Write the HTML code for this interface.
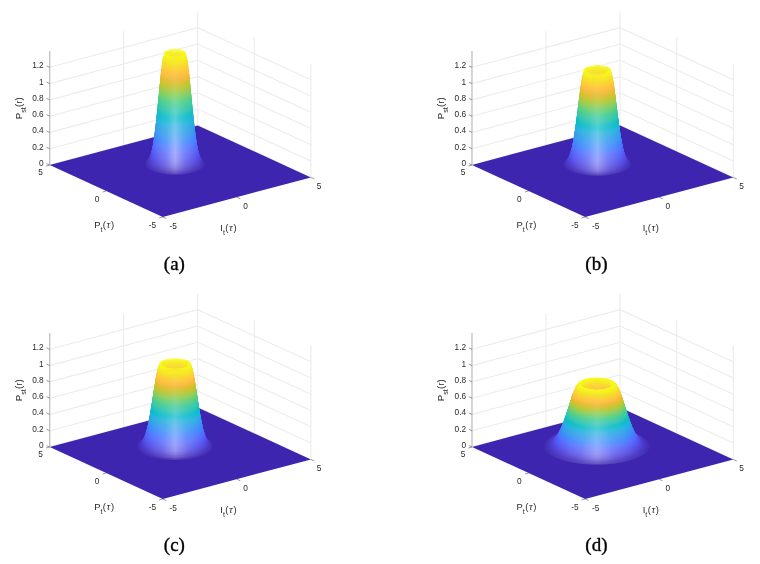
<!DOCTYPE html>
<html><head><meta charset="utf-8"><style>
html,body{margin:0;padding:0;background:#fff;width:760px;height:564px;overflow:hidden}
svg{display:block;filter:blur(0.3px);font-family:"Liberation Sans",sans-serif}
</style></head><body><svg width="760" height="564" viewBox="0 0 760 564"><defs><filter id="bl" x="-5%" y="-5%" width="110%" height="110%"><feGaussianBlur stdDeviation="0.4"/></filter></defs><g><polyline points="49.7,165 197.7,125.4 310.9,177.4" fill="none" stroke="#ececec" stroke-width="1.1"/><polyline points="49.7,148.7 197.7,109.1 310.9,161.1" fill="none" stroke="#ececec" stroke-width="1.1"/><polyline points="49.7,132.4 197.7,92.8 310.9,144.8" fill="none" stroke="#ececec" stroke-width="1.1"/><polyline points="49.7,116.2 197.7,76.6 310.9,128.6" fill="none" stroke="#ececec" stroke-width="1.1"/><polyline points="49.7,99.9 197.7,60.3 310.9,112.3" fill="none" stroke="#ececec" stroke-width="1.1"/><polyline points="49.7,83.6 197.7,44 310.9,96" fill="none" stroke="#ececec" stroke-width="1.1"/><polyline points="49.7,67.3 197.7,27.7 310.9,79.7" fill="none" stroke="#ececec" stroke-width="1.1"/><line x1="123.7" y1="145.2" x2="123.7" y2="31.2" stroke="#ececec" stroke-width="1.1"/><line x1="197.7" y1="125.4" x2="197.7" y2="11.4" stroke="#ececec" stroke-width="1.1"/><line x1="254.3" y1="151.4" x2="254.3" y2="37.4" stroke="#ececec" stroke-width="1.1"/><line x1="310.9" y1="177.4" x2="310.9" y2="63.4" stroke="#ececec" stroke-width="1.1"/><line x1="49.7" y1="165" x2="49.7" y2="51" stroke="#c4c4c4" stroke-width="1.4"/><line x1="49.7" y1="165" x2="46.5" y2="163.5" stroke="#555" stroke-width="0.6"/><line x1="49.7" y1="148.7" x2="46.5" y2="147.3" stroke="#555" stroke-width="0.6"/><line x1="49.7" y1="132.4" x2="46.5" y2="131" stroke="#555" stroke-width="0.6"/><line x1="49.7" y1="116.2" x2="46.5" y2="114.7" stroke="#555" stroke-width="0.6"/><line x1="49.7" y1="99.9" x2="46.5" y2="98.4" stroke="#555" stroke-width="0.6"/><line x1="49.7" y1="83.6" x2="46.5" y2="82.1" stroke="#555" stroke-width="0.6"/><line x1="49.7" y1="67.3" x2="46.5" y2="65.9" stroke="#555" stroke-width="0.6"/><line x1="162.8" y1="217" x2="159.1" y2="218" stroke="#555" stroke-width="0.6"/><line x1="106.2" y1="191" x2="102.6" y2="192" stroke="#555" stroke-width="0.6"/><line x1="49.7" y1="165" x2="46" y2="166" stroke="#555" stroke-width="0.6"/><line x1="162.8" y1="217" x2="166.3" y2="218.6" stroke="#555" stroke-width="0.6"/><line x1="236.8" y1="197.2" x2="240.3" y2="198.8" stroke="#555" stroke-width="0.6"/><line x1="310.9" y1="177.4" x2="314.4" y2="179" stroke="#555" stroke-width="0.6"/><polygon points="49.7,165 162.8,217 310.9,177.4 197.7,125.4" fill="#3d25b0"/><linearGradient id="ga0" x2=".5" spreadMethod="reflect"><stop stop-color="#432db3"/><stop offset=".6" stop-color="#4e39b7"/><stop offset="1" stop-color="#5b48bd"/></linearGradient><path d="M145.5 163.7a29.5 10.3 0 1 0 58.9 0a29.5 10.3 0 1 0 -58.9 0z" fill="url(#ga0)" fill-rule="evenodd"/><linearGradient id="ga1" x2=".5" spreadMethod="reflect"><stop stop-color="#442fb7"/><stop offset=".6" stop-color="#533fbc"/><stop offset="1" stop-color="#6553c3"/></linearGradient><path d="M146.3 163.1a28.7 10.1 0 1 0 57.3 0a28.7 10.1 0 1 0 -57.3 0z" fill="url(#ga1)" fill-rule="evenodd"/><linearGradient id="ga2" x2=".5" spreadMethod="reflect"><stop stop-color="#4632bb"/><stop offset=".6" stop-color="#5845c1"/><stop offset="1" stop-color="#6d5dc9"/></linearGradient><path d="M146.9 162.5a28.1 9.8 0 1 0 56.1 0a28.1 9.8 0 1 0 -56.1 0z" fill="url(#ga2)" fill-rule="evenodd"/><linearGradient id="ga3" x2=".5" spreadMethod="reflect"><stop stop-color="#4734be"/><stop offset=".6" stop-color="#5c4ac5"/><stop offset="1" stop-color="#7566ce"/></linearGradient><path d="M147.4 162a27.6 9.7 0 1 0 55.2 0a27.6 9.7 0 1 0 -55.2 0zM174.7 162a0.3 0.1 0 1 0 0.5 0a0.3 0.1 0 1 0 -0.5 0z" fill="url(#ga3)" fill-rule="evenodd"/><linearGradient id="ga4" x2=".5" spreadMethod="reflect"><stop stop-color="#4936c2"/><stop offset=".6" stop-color="#5f4fca"/><stop offset="1" stop-color="#7b6ed3"/></linearGradient><path d="M147.8 161.4a27.2 9.5 0 1 0 54.3 0a27.2 9.5 0 1 0 -54.3 0zM174.5 161.4a0.5 0.2 0 1 0 1 0a0.5 0.2 0 1 0 -1 0z" fill="url(#ga4)" fill-rule="evenodd"/><linearGradient id="ga5" x2=".5" spreadMethod="reflect"><stop stop-color="#4a38c6"/><stop offset=".6" stop-color="#6353cd"/><stop offset="1" stop-color="#8175d7"/></linearGradient><path d="M148.2 160.9a26.8 9.4 0 1 0 53.6 0a26.8 9.4 0 1 0 -53.6 0zM174.3 160.9a0.7 0.2 0 1 0 1.4 0a0.7 0.2 0 1 0 -1.4 0z" fill="url(#ga5)" fill-rule="evenodd"/><linearGradient id="ga6" x2=".5" spreadMethod="reflect"><stop stop-color="#4b3ac9"/><stop offset=".6" stop-color="#6657d1"/><stop offset="1" stop-color="#867bdb"/></linearGradient><path d="M148.5 160.3a26.5 9.3 0 1 0 52.9 0a26.5 9.3 0 1 0 -52.9 0zM174.1 160.3a0.9 0.3 0 1 0 1.7 0a0.9 0.3 0 1 0 -1.7 0z" fill="url(#ga6)" fill-rule="evenodd"/><linearGradient id="ga7" x2=".5" spreadMethod="reflect"><stop stop-color="#4c3ccd"/><stop offset=".6" stop-color="#685bd5"/><stop offset="1" stop-color="#8b80de"/></linearGradient><path d="M148.8 159.8a26.2 9.2 0 1 0 52.4 0a26.2 9.2 0 1 0 -52.4 0zM174 159.8a1 0.4 0 1 0 2.1 0a1 0.4 0 1 0 -2.1 0z" fill="url(#ga7)" fill-rule="evenodd"/><linearGradient id="ga8" x2=".5" spreadMethod="reflect"><stop stop-color="#4d3dd0"/><stop offset=".6" stop-color="#6b5ed8"/><stop offset="1" stop-color="#8f85e1"/></linearGradient><path d="M149.1 159.2a25.9 9.1 0 1 0 51.8 0a25.9 9.1 0 1 0 -51.8 0zM173.8 159.2a1.2 0.4 0 1 0 2.4 0a1.2 0.4 0 1 0 -2.4 0z" fill="url(#ga8)" fill-rule="evenodd"/><linearGradient id="ga9" x2=".5" spreadMethod="reflect"><stop stop-color="#4e3fd3"/><stop offset=".6" stop-color="#6d61db"/><stop offset="1" stop-color="#938ae4"/></linearGradient><path d="M149.3 158.6a25.7 9 0 1 0 51.3 0a25.7 9 0 1 0 -51.3 0zM173.7 158.6a1.3 0.5 0 1 0 2.6 0a1.3 0.5 0 1 0 -2.6 0z" fill="url(#ga9)" fill-rule="evenodd"/><linearGradient id="ga10" x2=".5" spreadMethod="reflect"><stop stop-color="#4f41d6"/><stop offset=".6" stop-color="#6f63de"/><stop offset="1" stop-color="#968de7"/></linearGradient><path d="M149.6 158.1a25.4 8.9 0 1 0 50.9 0a25.4 8.9 0 1 0 -50.9 0zM173.6 158.1a1.4 0.5 0 1 0 2.9 0a1.4 0.5 0 1 0 -2.9 0z" fill="url(#ga10)" fill-rule="evenodd"/><linearGradient id="ga11" x2=".5" spreadMethod="reflect"><stop stop-color="#4f42d9"/><stop offset=".6" stop-color="#7066e0"/><stop offset="1" stop-color="#9891e9"/></linearGradient><path d="M149.8 157.5a25.2 8.8 0 1 0 50.4 0a25.2 8.8 0 1 0 -50.4 0zM173.4 157.5a1.6 0.5 0 1 0 3.1 0a1.6 0.5 0 1 0 -3.1 0z" fill="url(#ga11)" fill-rule="evenodd"/><linearGradient id="ga12" x2=".5" spreadMethod="reflect"><stop stop-color="#5044dc"/><stop offset=".6" stop-color="#7168e3"/><stop offset="1" stop-color="#9b94eb"/></linearGradient><path d="M150 157a25 8.8 0 1 0 50 0a25 8.8 0 1 0 -50 0zM173.3 157a1.7 0.6 0 1 0 3.3 0a1.7 0.6 0 1 0 -3.3 0z" fill="url(#ga12)" fill-rule="evenodd"/><linearGradient id="ga13" x2=".5" spreadMethod="reflect"><stop stop-color="#5046de"/><stop offset=".6" stop-color="#736ae5"/><stop offset="1" stop-color="#9d97ed"/></linearGradient><path d="M150.2 156.4a24.8 8.7 0 1 0 49.6 0a24.8 8.7 0 1 0 -49.6 0zM173.2 156.4a1.8 0.6 0 1 0 3.6 0a1.8 0.6 0 1 0 -3.6 0z" fill="url(#ga13)" fill-rule="evenodd"/><linearGradient id="ga14" x2=".5" spreadMethod="reflect"><stop stop-color="#5148e1"/><stop offset=".6" stop-color="#746ce7"/><stop offset="1" stop-color="#9e99ee"/></linearGradient><path d="M150.4 155.9a24.6 8.6 0 1 0 49.3 0a24.6 8.6 0 1 0 -49.3 0zM173.1 155.9a1.9 0.7 0 1 0 3.8 0a1.9 0.7 0 1 0 -3.8 0z" fill="url(#ga14)" fill-rule="evenodd"/><linearGradient id="ga15" x2=".5" spreadMethod="reflect"><stop stop-color="#5149e3"/><stop offset=".6" stop-color="#756ee9"/><stop offset="1" stop-color="#a09bf0"/></linearGradient><path d="M150.5 155.3a24.5 8.6 0 1 0 48.9 0a24.5 8.6 0 1 0 -48.9 0zM173 155.3a2 0.7 0 1 0 3.9 0a2 0.7 0 1 0 -3.9 0z" fill="url(#ga15)" fill-rule="evenodd"/><linearGradient id="ga16" x2=".5" spreadMethod="reflect"><stop stop-color="#524be5"/><stop offset=".6" stop-color="#7570ea"/><stop offset="1" stop-color="#a19df1"/></linearGradient><path d="M150.7 154.7a24.3 8.5 0 1 0 48.6 0a24.3 8.5 0 1 0 -48.6 0zM172.9 154.7a2.1 0.7 0 1 0 4.1 0a2.1 0.7 0 1 0 -4.1 0z" fill="url(#ga16)" fill-rule="evenodd"/><linearGradient id="ga17" x2=".5" spreadMethod="reflect"><stop stop-color="#524de7"/><stop offset=".6" stop-color="#7672ec"/><stop offset="1" stop-color="#a29ff2"/></linearGradient><path d="M150.9 154.2a24.1 8.5 0 1 0 48.3 0a24.1 8.5 0 1 0 -48.3 0zM172.8 154.2a2.2 0.8 0 1 0 4.3 0a2.2 0.8 0 1 0 -4.3 0z" fill="url(#ga17)" fill-rule="evenodd"/><linearGradient id="ga18" x2=".5" spreadMethod="reflect"><stop stop-color="#524fe9"/><stop offset=".6" stop-color="#7674ee"/><stop offset="1" stop-color="#a3a1f3"/></linearGradient><path d="M151 153.6a24 8.4 0 1 0 48 0a24 8.4 0 1 0 -48 0zM172.8 153.6a2.2 0.8 0 1 0 4.5 0a2.2 0.8 0 1 0 -4.5 0z" fill="url(#ga18)" fill-rule="evenodd"/><linearGradient id="ga19" x2=".5" spreadMethod="reflect"><stop stop-color="#5250eb"/><stop offset=".6" stop-color="#7775ef"/><stop offset="1" stop-color="#a4a2f4"/></linearGradient><path d="M151.2 153.1a23.8 8.4 0 1 0 47.7 0a23.8 8.4 0 1 0 -47.7 0zM172.7 153.1a2.3 0.8 0 1 0 4.6 0a2.3 0.8 0 1 0 -4.6 0z" fill="url(#ga19)" fill-rule="evenodd"/><linearGradient id="ga20" x2=".5" spreadMethod="reflect"><stop stop-color="#5352ec"/><stop offset=".6" stop-color="#7777f0"/><stop offset="1" stop-color="#a4a4f5"/></linearGradient><path d="M151.3 152.5a23.7 8.3 0 1 0 47.4 0a23.7 8.3 0 1 0 -47.4 0zM172.6 152.5a2.4 0.8 0 1 0 4.8 0a2.4 0.8 0 1 0 -4.8 0z" fill="url(#ga20)" fill-rule="evenodd"/><linearGradient id="ga21" x2=".5" spreadMethod="reflect"><stop stop-color="#5354ee"/><stop offset=".6" stop-color="#7878f1"/><stop offset="1" stop-color="#a4a5f6"/></linearGradient><path d="M151.4 152a23.6 8.3 0 1 0 47.1 0a23.6 8.3 0 1 0 -47.1 0zM172.5 152a2.5 0.9 0 1 0 4.9 0a2.5 0.9 0 1 0 -4.9 0z" fill="url(#ga21)" fill-rule="evenodd"/><linearGradient id="ga22" x2=".5" spreadMethod="reflect"><stop stop-color="#5356ef"/><stop offset=".6" stop-color="#787af3"/><stop offset="1" stop-color="#a5a6f7"/></linearGradient><path d="M151.6 151.4a23.4 8.2 0 1 0 46.8 0a23.4 8.2 0 1 0 -46.8 0zM172.5 151.4a2.5 0.9 0 1 0 5.1 0a2.5 0.9 0 1 0 -5.1 0z" fill="url(#ga22)" fill-rule="evenodd"/><linearGradient id="ga23" x2=".5" spreadMethod="reflect"><stop stop-color="#5357f1"/><stop offset=".6" stop-color="#787bf4"/><stop offset="1" stop-color="#a5a7f8"/></linearGradient><path d="M151.7 150.8a23.3 8.2 0 1 0 46.6 0a23.3 8.2 0 1 0 -46.6 0zM172.4 150.8a2.6 0.9 0 1 0 5.2 0a2.6 0.9 0 1 0 -5.2 0z" fill="url(#ga23)" fill-rule="evenodd"/><linearGradient id="ga24" x2=".5" spreadMethod="reflect"><stop stop-color="#5359f2"/><stop offset=".6" stop-color="#787df5"/><stop offset="1" stop-color="#a5a8f8"/></linearGradient><path d="M151.8 150.3a23.2 8.1 0 1 0 46.3 0a23.2 8.1 0 1 0 -46.3 0zM172.3 150.3a2.7 0.9 0 1 0 5.4 0a2.7 0.9 0 1 0 -5.4 0z" fill="url(#ga24)" fill-rule="evenodd"/><linearGradient id="ga25" x2=".5" spreadMethod="reflect"><stop stop-color="#535bf3"/><stop offset=".6" stop-color="#787ef6"/><stop offset="1" stop-color="#a5a9f9"/></linearGradient><path d="M152 149.7a23 8.1 0 1 0 46.1 0a23 8.1 0 1 0 -46.1 0zM172.2 149.7a2.8 1 0 1 0 5.5 0a2.8 1 0 1 0 -5.5 0z" fill="url(#ga25)" fill-rule="evenodd"/><linearGradient id="ga26" x2=".5" spreadMethod="reflect"><stop stop-color="#535cf4"/><stop offset=".6" stop-color="#787ff7"/><stop offset="1" stop-color="#a5aaf9"/></linearGradient><path d="M152.1 149.2a22.9 8 0 1 0 45.9 0a22.9 8 0 1 0 -45.9 0zM172.2 149.2a2.8 1 0 1 0 5.6 0a2.8 1 0 1 0 -5.6 0z" fill="url(#ga26)" fill-rule="evenodd"/><linearGradient id="ga27" x2=".5" spreadMethod="reflect"><stop stop-color="#535ef6"/><stop offset=".6" stop-color="#7880f8"/><stop offset="1" stop-color="#a5abfa"/></linearGradient><path d="M152.2 148.6a22.8 8 0 1 0 45.6 0a22.8 8 0 1 0 -45.6 0zM172.1 148.6a2.9 1 0 1 0 5.8 0a2.9 1 0 1 0 -5.8 0z" fill="url(#ga27)" fill-rule="evenodd"/><linearGradient id="ga28" x2=".5" spreadMethod="reflect"><stop stop-color="#5360f7"/><stop offset=".6" stop-color="#7882f8"/><stop offset="1" stop-color="#a5abfb"/></linearGradient><path d="M152.3 148.1a22.7 8 0 1 0 45.4 0a22.7 8 0 1 0 -45.4 0zM172.1 148.1a2.9 1 0 1 0 5.9 0a2.9 1 0 1 0 -5.9 0z" fill="url(#ga28)" fill-rule="evenodd"/><linearGradient id="ga29" x2=".5" spreadMethod="reflect"><stop stop-color="#5361f8"/><stop offset=".6" stop-color="#7783f9"/><stop offset="1" stop-color="#a4acfb"/></linearGradient><path d="M152.4 147.5a22.6 7.9 0 1 0 45.2 0a22.6 7.9 0 1 0 -45.2 0zM172 147.5a3 1.1 0 1 0 6 0a3 1.1 0 1 0 -6 0z" fill="url(#ga29)" fill-rule="evenodd"/><linearGradient id="ga30" x2=".5" spreadMethod="reflect"><stop stop-color="#5263f9"/><stop offset=".6" stop-color="#7784fa"/><stop offset="1" stop-color="#a4adfc"/></linearGradient><path d="M152.5 146.9a22.5 7.9 0 1 0 45 0a22.5 7.9 0 1 0 -45 0zM171.9 146.9a3.1 1.1 0 1 0 6.1 0a3.1 1.1 0 1 0 -6.1 0z" fill="url(#ga30)" fill-rule="evenodd"/><linearGradient id="ga31" x2=".5" spreadMethod="reflect"><stop stop-color="#5264f9"/><stop offset=".6" stop-color="#7785fb"/><stop offset="1" stop-color="#a4adfc"/></linearGradient><path d="M152.6 146.4a22.4 7.8 0 1 0 44.8 0a22.4 7.8 0 1 0 -44.8 0zM171.9 146.4a3.1 1.1 0 1 0 6.2 0a3.1 1.1 0 1 0 -6.2 0z" fill="url(#ga31)" fill-rule="evenodd"/><linearGradient id="ga32" x2=".5" spreadMethod="reflect"><stop stop-color="#5266fa"/><stop offset=".6" stop-color="#7686fb"/><stop offset="1" stop-color="#a3aefc"/></linearGradient><path d="M152.7 145.8a22.3 7.8 0 1 0 44.6 0a22.3 7.8 0 1 0 -44.6 0zM171.8 145.8a3.2 1.1 0 1 0 6.3 0a3.2 1.1 0 1 0 -6.3 0z" fill="url(#ga32)" fill-rule="evenodd"/><linearGradient id="ga33" x2=".5" spreadMethod="reflect"><stop stop-color="#5168fb"/><stop offset=".6" stop-color="#7688fc"/><stop offset="1" stop-color="#a3affd"/></linearGradient><path d="M152.8 145.3a22.2 7.8 0 1 0 44.4 0a22.2 7.8 0 1 0 -44.4 0zM171.8 145.3a3.2 1.1 0 1 0 6.5 0a3.2 1.1 0 1 0 -6.5 0z" fill="url(#ga33)" fill-rule="evenodd"/><linearGradient id="ga34" x2=".5" spreadMethod="reflect"><stop stop-color="#5169fc"/><stop offset=".6" stop-color="#7589fc"/><stop offset="1" stop-color="#a2affd"/></linearGradient><path d="M152.9 144.7a22.1 7.7 0 1 0 44.2 0a22.1 7.7 0 1 0 -44.2 0zM171.7 144.7a3.3 1.2 0 1 0 6.6 0a3.3 1.2 0 1 0 -6.6 0z" fill="url(#ga34)" fill-rule="evenodd"/><linearGradient id="ga35" x2=".5" spreadMethod="reflect"><stop stop-color="#506bfc"/><stop offset=".6" stop-color="#758afd"/><stop offset="1" stop-color="#a2b0fd"/></linearGradient><path d="M153 144.2a22 7.7 0 1 0 44 0a22 7.7 0 1 0 -44 0zM171.7 144.2a3.3 1.2 0 1 0 6.7 0a3.3 1.2 0 1 0 -6.7 0z" fill="url(#ga35)" fill-rule="evenodd"/><linearGradient id="ga36" x2=".5" spreadMethod="reflect"><stop stop-color="#506dfd"/><stop offset=".6" stop-color="#748bfd"/><stop offset="1" stop-color="#a1b0fe"/></linearGradient><path d="M153.1 143.6a21.9 7.7 0 1 0 43.8 0a21.9 7.7 0 1 0 -43.8 0zM171.6 143.6a3.4 1.2 0 1 0 6.8 0a3.4 1.2 0 1 0 -6.8 0z" fill="url(#ga36)" fill-rule="evenodd"/><linearGradient id="ga37" x2=".5" spreadMethod="reflect"><stop stop-color="#4f6efd"/><stop offset=".6" stop-color="#748cfd"/><stop offset="1" stop-color="#a0b1fe"/></linearGradient><path d="M153.2 143a21.8 7.6 0 1 0 43.6 0a21.8 7.6 0 1 0 -43.6 0zM171.6 143a3.4 1.2 0 1 0 6.9 0a3.4 1.2 0 1 0 -6.9 0z" fill="url(#ga37)" fill-rule="evenodd"/><linearGradient id="ga38" x2=".5" spreadMethod="reflect"><stop stop-color="#4e70fd"/><stop offset=".6" stop-color="#738dfe"/><stop offset="1" stop-color="#9fb1fe"/></linearGradient><path d="M153.3 142.5a21.7 7.6 0 1 0 43.4 0a21.7 7.6 0 1 0 -43.4 0zM171.5 142.5a3.5 1.2 0 1 0 7 0a3.5 1.2 0 1 0 -7 0z" fill="url(#ga38)" fill-rule="evenodd"/><linearGradient id="ga39" x2=".5" spreadMethod="reflect"><stop stop-color="#4e72fe"/><stop offset=".6" stop-color="#728ffe"/><stop offset="1" stop-color="#9eb2fe"/></linearGradient><path d="M153.4 141.9a21.6 7.6 0 1 0 43.2 0a21.6 7.6 0 1 0 -43.2 0zM171.5 141.9a3.5 1.2 0 1 0 7.1 0a3.5 1.2 0 1 0 -7.1 0z" fill="url(#ga39)" fill-rule="evenodd"/><linearGradient id="ga40" x2=".5" spreadMethod="reflect"><stop stop-color="#4c73fe"/><stop offset=".6" stop-color="#7190fe"/><stop offset="1" stop-color="#9db3fe"/></linearGradient><path d="M153.5 141.4a21.5 7.5 0 1 0 43.1 0a21.5 7.5 0 1 0 -43.1 0zM171.4 141.4a3.6 1.3 0 1 0 7.2 0a3.6 1.3 0 1 0 -7.2 0z" fill="url(#ga40)" fill-rule="evenodd"/><linearGradient id="ga41" x2=".5" spreadMethod="reflect"><stop stop-color="#4b75fe"/><stop offset=".6" stop-color="#7091fe"/><stop offset="1" stop-color="#9cb3ff"/></linearGradient><path d="M153.6 140.8a21.4 7.5 0 1 0 42.9 0a21.4 7.5 0 1 0 -42.9 0zM171.4 140.8a3.6 1.3 0 1 0 7.3 0a3.6 1.3 0 1 0 -7.3 0z" fill="url(#ga41)" fill-rule="evenodd"/><linearGradient id="ga42" x2=".5" spreadMethod="reflect"><stop stop-color="#4a77ff"/><stop offset=".6" stop-color="#6e92ff"/><stop offset="1" stop-color="#9bb4ff"/></linearGradient><path d="M153.6 140.3a21.4 7.5 0 1 0 42.7 0a21.4 7.5 0 1 0 -42.7 0zM171.3 140.3a3.7 1.3 0 1 0 7.4 0a3.7 1.3 0 1 0 -7.4 0z" fill="url(#ga42)" fill-rule="evenodd"/><linearGradient id="ga43" x2=".5" spreadMethod="reflect"><stop stop-color="#4879ff"/><stop offset=".6" stop-color="#6d93ff"/><stop offset="1" stop-color="#9ab4ff"/></linearGradient><path d="M153.7 139.7a21.3 7.5 0 1 0 42.5 0a21.3 7.5 0 1 0 -42.5 0zM171.3 139.7a3.7 1.3 0 1 0 7.5 0a3.7 1.3 0 1 0 -7.5 0z" fill="url(#ga43)" fill-rule="evenodd"/><linearGradient id="ga44" x2=".5" spreadMethod="reflect"><stop stop-color="#467aff"/><stop offset=".6" stop-color="#6b95ff"/><stop offset="1" stop-color="#98b5ff"/></linearGradient><path d="M153.8 139.1a21.2 7.4 0 1 0 42.4 0a21.2 7.4 0 1 0 -42.4 0zM171.2 139.1a3.8 1.3 0 1 0 7.5 0a3.8 1.3 0 1 0 -7.5 0z" fill="url(#ga44)" fill-rule="evenodd"/><linearGradient id="ga45" x2=".5" spreadMethod="reflect"><stop stop-color="#447cfe"/><stop offset=".6" stop-color="#6996ff"/><stop offset="1" stop-color="#97b6ff"/></linearGradient><path d="M153.9 138.6a21.1 7.4 0 1 0 42.2 0a21.1 7.4 0 1 0 -42.2 0zM171.2 138.6a3.8 1.3 0 1 0 7.6 0a3.8 1.3 0 1 0 -7.6 0z" fill="url(#ga45)" fill-rule="evenodd"/><linearGradient id="ga46" x2=".5" spreadMethod="reflect"><stop stop-color="#437efe"/><stop offset=".6" stop-color="#6897fe"/><stop offset="1" stop-color="#95b6fe"/></linearGradient><path d="M154 138a21 7.4 0 1 0 42 0a21 7.4 0 1 0 -42 0zM171.1 138a3.9 1.4 0 1 0 7.7 0a3.9 1.4 0 1 0 -7.7 0z" fill="url(#ga46)" fill-rule="evenodd"/><linearGradient id="ga47" x2=".5" spreadMethod="reflect"><stop stop-color="#4180fd"/><stop offset=".6" stop-color="#6699fe"/><stop offset="1" stop-color="#93b7fe"/></linearGradient><path d="M154.1 137.5a20.9 7.3 0 1 0 41.9 0a20.9 7.3 0 1 0 -41.9 0zM171.1 137.5a3.9 1.4 0 1 0 7.8 0a3.9 1.4 0 1 0 -7.8 0z" fill="url(#ga47)" fill-rule="evenodd"/><linearGradient id="ga48" x2=".5" spreadMethod="reflect"><stop stop-color="#3f82fd"/><stop offset=".6" stop-color="#649afd"/><stop offset="1" stop-color="#92b8fe"/></linearGradient><path d="M154.1 136.9a20.9 7.3 0 1 0 41.7 0a20.9 7.3 0 1 0 -41.7 0zM171 136.9a4 1.4 0 1 0 7.9 0a4 1.4 0 1 0 -7.9 0z" fill="url(#ga48)" fill-rule="evenodd"/><linearGradient id="ga49" x2=".5" spreadMethod="reflect"><stop stop-color="#3d83fc"/><stop offset=".6" stop-color="#639bfd"/><stop offset="1" stop-color="#90b8fd"/></linearGradient><path d="M154.2 136.4a20.8 7.3 0 1 0 41.6 0a20.8 7.3 0 1 0 -41.6 0zM171 136.4a4 1.4 0 1 0 8 0a4 1.4 0 1 0 -8 0z" fill="url(#ga49)" fill-rule="evenodd"/><linearGradient id="ga50" x2=".5" spreadMethod="reflect"><stop stop-color="#3c85fc"/><stop offset=".6" stop-color="#619cfc"/><stop offset="1" stop-color="#8fb9fd"/></linearGradient><path d="M154.3 135.8a20.7 7.3 0 1 0 41.4 0a20.7 7.3 0 1 0 -41.4 0zM171 135.8a4 1.4 0 1 0 8.1 0a4 1.4 0 1 0 -8.1 0z" fill="url(#ga50)" fill-rule="evenodd"/><linearGradient id="ga51" x2=".5" spreadMethod="reflect"><stop stop-color="#3b87fb"/><stop offset=".6" stop-color="#609efc"/><stop offset="1" stop-color="#8ebafd"/></linearGradient><path d="M154.4 135.2a20.6 7.2 0 1 0 41.3 0a20.6 7.2 0 1 0 -41.3 0zM170.9 135.2a4.1 1.4 0 1 0 8.2 0a4.1 1.4 0 1 0 -8.2 0z" fill="url(#ga51)" fill-rule="evenodd"/><linearGradient id="ga52" x2=".5" spreadMethod="reflect"><stop stop-color="#3a88fa"/><stop offset=".6" stop-color="#5f9ffb"/><stop offset="1" stop-color="#8dbafc"/></linearGradient><path d="M154.4 134.7a20.6 7.2 0 1 0 41.1 0a20.6 7.2 0 1 0 -41.1 0zM170.9 134.7a4.1 1.4 0 1 0 8.2 0a4.1 1.4 0 1 0 -8.2 0z" fill="url(#ga52)" fill-rule="evenodd"/><linearGradient id="ga53" x2=".5" spreadMethod="reflect"><stop stop-color="#3a8af9"/><stop offset=".6" stop-color="#5fa0fa"/><stop offset="1" stop-color="#8cbbfc"/></linearGradient><path d="M154.5 134.1a20.5 7.2 0 1 0 41 0a20.5 7.2 0 1 0 -41 0zM170.8 134.1a4.2 1.5 0 1 0 8.3 0a4.2 1.5 0 1 0 -8.3 0z" fill="url(#ga53)" fill-rule="evenodd"/><linearGradient id="ga54" x2=".5" spreadMethod="reflect"><stop stop-color="#398bf8"/><stop offset=".6" stop-color="#5ea1fa"/><stop offset="1" stop-color="#8bbbfb"/></linearGradient><path d="M154.6 133.6a20.4 7.2 0 1 0 40.8 0a20.4 7.2 0 1 0 -40.8 0zM170.8 133.6a4.2 1.5 0 1 0 8.4 0a4.2 1.5 0 1 0 -8.4 0z" fill="url(#ga54)" fill-rule="evenodd"/><linearGradient id="ga55" x2=".5" spreadMethod="reflect"><stop stop-color="#398df7"/><stop offset=".6" stop-color="#5da2f9"/><stop offset="1" stop-color="#8abcfb"/></linearGradient><path d="M154.7 133a20.3 7.1 0 1 0 40.7 0a20.3 7.1 0 1 0 -40.7 0zM170.8 133a4.2 1.5 0 1 0 8.5 0a4.2 1.5 0 1 0 -8.5 0z" fill="url(#ga55)" fill-rule="evenodd"/><linearGradient id="ga56" x2=".5" spreadMethod="reflect"><stop stop-color="#388ff6"/><stop offset=".6" stop-color="#5da3f8"/><stop offset="1" stop-color="#8abcfa"/></linearGradient><path d="M154.7 132.5a20.3 7.1 0 1 0 40.5 0a20.3 7.1 0 1 0 -40.5 0zM170.7 132.5a4.3 1.5 0 1 0 8.6 0a4.3 1.5 0 1 0 -8.6 0z" fill="url(#ga56)" fill-rule="evenodd"/><linearGradient id="ga57" x2=".5" spreadMethod="reflect"><stop stop-color="#3890f5"/><stop offset=".6" stop-color="#5ca4f7"/><stop offset="1" stop-color="#89bdf9"/></linearGradient><path d="M154.8 131.9a20.2 7.1 0 1 0 40.4 0a20.2 7.1 0 1 0 -40.4 0zM170.7 131.9a4.3 1.5 0 1 0 8.6 0a4.3 1.5 0 1 0 -8.6 0z" fill="url(#ga57)" fill-rule="evenodd"/><linearGradient id="ga58" x2=".5" spreadMethod="reflect"><stop stop-color="#3892f4"/><stop offset=".6" stop-color="#5ca5f6"/><stop offset="1" stop-color="#88bef8"/></linearGradient><path d="M154.9 131.3a20.1 7.1 0 1 0 40.3 0a20.1 7.1 0 1 0 -40.3 0zM170.6 131.3a4.4 1.5 0 1 0 8.7 0a4.4 1.5 0 1 0 -8.7 0z" fill="url(#ga58)" fill-rule="evenodd"/><linearGradient id="ga59" x2=".5" spreadMethod="reflect"><stop stop-color="#3793f3"/><stop offset=".6" stop-color="#5ba7f5"/><stop offset="1" stop-color="#87bef8"/></linearGradient><path d="M154.9 130.8a20.1 7 0 1 0 40.1 0a20.1 7 0 1 0 -40.1 0zM170.6 130.8a4.4 1.5 0 1 0 8.8 0a4.4 1.5 0 1 0 -8.8 0z" fill="url(#ga59)" fill-rule="evenodd"/><linearGradient id="ga60" x2=".5" spreadMethod="reflect"><stop stop-color="#3795f1"/><stop offset=".6" stop-color="#5ba8f4"/><stop offset="1" stop-color="#86bff7"/></linearGradient><path d="M155 130.2a20 7 0 1 0 40 0a20 7 0 1 0 -40 0zM170.6 130.2a4.4 1.6 0 1 0 8.9 0a4.4 1.6 0 1 0 -8.9 0z" fill="url(#ga60)" fill-rule="evenodd"/><linearGradient id="ga61" x2=".5" spreadMethod="reflect"><stop stop-color="#3696f0"/><stop offset=".6" stop-color="#5aa9f3"/><stop offset="1" stop-color="#85bff6"/></linearGradient><path d="M155.1 129.7a19.9 7 0 1 0 39.8 0a19.9 7 0 1 0 -39.8 0zM170.5 129.7a4.5 1.6 0 1 0 8.9 0a4.5 1.6 0 1 0 -8.9 0z" fill="url(#ga61)" fill-rule="evenodd"/><linearGradient id="ga62" x2=".5" spreadMethod="reflect"><stop stop-color="#3598ef"/><stop offset=".6" stop-color="#59aaf2"/><stop offset="1" stop-color="#84c0f5"/></linearGradient><path d="M155.1 129.1a19.9 7 0 1 0 39.7 0a19.9 7 0 1 0 -39.7 0zM170.5 129.1a4.5 1.6 0 1 0 9 0a4.5 1.6 0 1 0 -9 0z" fill="url(#ga62)" fill-rule="evenodd"/><linearGradient id="ga63" x2=".5" spreadMethod="reflect"><stop stop-color="#3499ee"/><stop offset=".6" stop-color="#57abf1"/><stop offset="1" stop-color="#83c1f5"/></linearGradient><path d="M155.2 128.6a19.8 6.9 0 1 0 39.6 0a19.8 6.9 0 1 0 -39.6 0zM170.5 128.6a4.5 1.6 0 1 0 9.1 0a4.5 1.6 0 1 0 -9.1 0z" fill="url(#ga63)" fill-rule="evenodd"/><linearGradient id="ga64" x2=".5" spreadMethod="reflect"><stop stop-color="#339bed"/><stop offset=".6" stop-color="#56acf0"/><stop offset="1" stop-color="#81c1f4"/></linearGradient><path d="M155.3 128a19.7 6.9 0 1 0 39.4 0a19.7 6.9 0 1 0 -39.4 0zM170.4 128a4.6 1.6 0 1 0 9.2 0a4.6 1.6 0 1 0 -9.2 0z" fill="url(#ga64)" fill-rule="evenodd"/><linearGradient id="ga65" x2=".5" spreadMethod="reflect"><stop stop-color="#329cec"/><stop offset=".6" stop-color="#55adef"/><stop offset="1" stop-color="#80c2f3"/></linearGradient><path d="M155.3 127.4a19.7 6.9 0 1 0 39.3 0a19.7 6.9 0 1 0 -39.3 0zM170.4 127.4a4.6 1.6 0 1 0 9.2 0a4.6 1.6 0 1 0 -9.2 0z" fill="url(#ga65)" fill-rule="evenodd"/><linearGradient id="ga66" x2=".5" spreadMethod="reflect"><stop stop-color="#319deb"/><stop offset=".6" stop-color="#54aeee"/><stop offset="1" stop-color="#7fc2f2"/></linearGradient><path d="M155.4 126.9a19.6 6.9 0 1 0 39.2 0a19.6 6.9 0 1 0 -39.2 0zM170.3 126.9a4.7 1.6 0 1 0 9.3 0a4.7 1.6 0 1 0 -9.3 0z" fill="url(#ga66)" fill-rule="evenodd"/><linearGradient id="ga67" x2=".5" spreadMethod="reflect"><stop stop-color="#309fea"/><stop offset=".6" stop-color="#53afed"/><stop offset="1" stop-color="#7ec3f2"/></linearGradient><path d="M155.5 126.3a19.5 6.8 0 1 0 39 0a19.5 6.8 0 1 0 -39 0zM170.3 126.3a4.7 1.6 0 1 0 9.4 0a4.7 1.6 0 1 0 -9.4 0z" fill="url(#ga67)" fill-rule="evenodd"/><linearGradient id="ga68" x2=".5" spreadMethod="reflect"><stop stop-color="#30a0e9"/><stop offset=".6" stop-color="#53b0ec"/><stop offset="1" stop-color="#7dc4f1"/></linearGradient><path d="M155.5 125.8a19.5 6.8 0 1 0 38.9 0a19.5 6.8 0 1 0 -38.9 0zM170.3 125.8a4.7 1.7 0 1 0 9.4 0a4.7 1.7 0 1 0 -9.4 0z" fill="url(#ga68)" fill-rule="evenodd"/><linearGradient id="ga69" x2=".5" spreadMethod="reflect"><stop stop-color="#2fa2e8"/><stop offset=".6" stop-color="#52b1ec"/><stop offset="1" stop-color="#7cc4f0"/></linearGradient><path d="M155.6 125.2a19.4 6.8 0 1 0 38.8 0a19.4 6.8 0 1 0 -38.8 0zM170.2 125.2a4.8 1.7 0 1 0 9.5 0a4.8 1.7 0 1 0 -9.5 0z" fill="url(#ga69)" fill-rule="evenodd"/><linearGradient id="ga70" x2=".5" spreadMethod="reflect"><stop stop-color="#2ea3e7"/><stop offset=".6" stop-color="#51b2eb"/><stop offset="1" stop-color="#7bc5f0"/></linearGradient><path d="M155.7 124.6a19.3 6.8 0 1 0 38.7 0a19.3 6.8 0 1 0 -38.7 0zM170.2 124.6a4.8 1.7 0 1 0 9.6 0a4.8 1.7 0 1 0 -9.6 0z" fill="url(#ga70)" fill-rule="evenodd"/><linearGradient id="ga71" x2=".5" spreadMethod="reflect"><stop stop-color="#2ea4e6"/><stop offset=".6" stop-color="#50b3ea"/><stop offset="1" stop-color="#7ac5ef"/></linearGradient><path d="M155.7 124.1a19.3 6.8 0 1 0 38.5 0a19.3 6.8 0 1 0 -38.5 0zM170.2 124.1a4.8 1.7 0 1 0 9.7 0a4.8 1.7 0 1 0 -9.7 0z" fill="url(#ga71)" fill-rule="evenodd"/><linearGradient id="ga72" x2=".5" spreadMethod="reflect"><stop stop-color="#2da6e5"/><stop offset=".6" stop-color="#4fb4ea"/><stop offset="1" stop-color="#79c6ef"/></linearGradient><path d="M155.8 123.5a19.2 6.7 0 1 0 38.4 0a19.2 6.7 0 1 0 -38.4 0zM170.1 123.5a4.9 1.7 0 1 0 9.7 0a4.9 1.7 0 1 0 -9.7 0z" fill="url(#ga72)" fill-rule="evenodd"/><linearGradient id="ga73" x2=".5" spreadMethod="reflect"><stop stop-color="#2ca7e5"/><stop offset=".6" stop-color="#4eb5e9"/><stop offset="1" stop-color="#77c7ee"/></linearGradient><path d="M155.9 123a19.1 6.7 0 1 0 38.3 0a19.1 6.7 0 1 0 -38.3 0zM170.1 123a4.9 1.7 0 1 0 9.8 0a4.9 1.7 0 1 0 -9.8 0z" fill="url(#ga73)" fill-rule="evenodd"/><linearGradient id="ga74" x2=".5" spreadMethod="reflect"><stop stop-color="#2aa8e4"/><stop offset=".6" stop-color="#4cb6e8"/><stop offset="1" stop-color="#76c7ee"/></linearGradient><path d="M155.9 122.4a19.1 6.7 0 1 0 38.2 0a19.1 6.7 0 1 0 -38.2 0zM170.1 122.4a4.9 1.7 0 1 0 9.9 0a4.9 1.7 0 1 0 -9.9 0z" fill="url(#ga74)" fill-rule="evenodd"/><linearGradient id="ga75" x2=".5" spreadMethod="reflect"><stop stop-color="#29aae3"/><stop offset=".6" stop-color="#4bb7e8"/><stop offset="1" stop-color="#75c8ed"/></linearGradient><path d="M156 121.9a19 6.7 0 1 0 38 0a19 6.7 0 1 0 -38 0zM170 121.9a5 1.7 0 1 0 9.9 0a5 1.7 0 1 0 -9.9 0z" fill="url(#ga75)" fill-rule="evenodd"/><linearGradient id="ga76" x2=".5" spreadMethod="reflect"><stop stop-color="#28abe2"/><stop offset=".6" stop-color="#4ab8e7"/><stop offset="1" stop-color="#73c8ec"/></linearGradient><path d="M156 121.3a19 6.6 0 1 0 37.9 0a19 6.6 0 1 0 -37.9 0zM170 121.3a5 1.8 0 1 0 10 0a5 1.8 0 1 0 -10 0z" fill="url(#ga76)" fill-rule="evenodd"/><linearGradient id="ga77" x2=".5" spreadMethod="reflect"><stop stop-color="#27ace1"/><stop offset=".6" stop-color="#49b9e6"/><stop offset="1" stop-color="#72c9ec"/></linearGradient><path d="M156.1 120.7a18.9 6.6 0 1 0 37.8 0a18.9 6.6 0 1 0 -37.8 0zM170 120.7a5 1.8 0 1 0 10.1 0a5 1.8 0 1 0 -10.1 0z" fill="url(#ga77)" fill-rule="evenodd"/><linearGradient id="ga78" x2=".5" spreadMethod="reflect"><stop stop-color="#26aee0"/><stop offset=".6" stop-color="#47bae5"/><stop offset="1" stop-color="#70caeb"/></linearGradient><path d="M156.2 120.2a18.8 6.6 0 1 0 37.7 0a18.8 6.6 0 1 0 -37.7 0zM169.9 120.2a5.1 1.8 0 1 0 10.1 0a5.1 1.8 0 1 0 -10.1 0z" fill="url(#ga78)" fill-rule="evenodd"/><linearGradient id="ga79" x2=".5" spreadMethod="reflect"><stop stop-color="#25afdf"/><stop offset=".6" stop-color="#46bbe4"/><stop offset="1" stop-color="#6fcaea"/></linearGradient><path d="M156.2 119.6a18.8 6.6 0 1 0 37.6 0a18.8 6.6 0 1 0 -37.6 0zM169.9 119.6a5.1 1.8 0 1 0 10.2 0a5.1 1.8 0 1 0 -10.2 0z" fill="url(#ga79)" fill-rule="evenodd"/><linearGradient id="ga80" x2=".5" spreadMethod="reflect"><stop stop-color="#23b0de"/><stop offset=".6" stop-color="#45bce3"/><stop offset="1" stop-color="#6dcbe9"/></linearGradient><path d="M156.3 119.1a18.7 6.6 0 1 0 37.4 0a18.7 6.6 0 1 0 -37.4 0zM169.9 119.1a5.1 1.8 0 1 0 10.3 0a5.1 1.8 0 1 0 -10.3 0z" fill="url(#ga80)" fill-rule="evenodd"/><linearGradient id="ga81" x2=".5" spreadMethod="reflect"><stop stop-color="#22b1dc"/><stop offset=".6" stop-color="#43bde2"/><stop offset="1" stop-color="#6ccbe8"/></linearGradient><path d="M156.3 118.5a18.7 6.5 0 1 0 37.3 0a18.7 6.5 0 1 0 -37.3 0zM169.8 118.5a5.2 1.8 0 1 0 10.3 0a5.2 1.8 0 1 0 -10.3 0z" fill="url(#ga81)" fill-rule="evenodd"/><linearGradient id="ga82" x2=".5" spreadMethod="reflect"><stop stop-color="#20b2db"/><stop offset=".6" stop-color="#41bee0"/><stop offset="1" stop-color="#6acce7"/></linearGradient><path d="M156.4 118a18.6 6.5 0 1 0 37.2 0a18.6 6.5 0 1 0 -37.2 0zM169.8 118a5.2 1.8 0 1 0 10.4 0a5.2 1.8 0 1 0 -10.4 0z" fill="url(#ga82)" fill-rule="evenodd"/><linearGradient id="ga83" x2=".5" spreadMethod="reflect"><stop stop-color="#1eb3d9"/><stop offset=".6" stop-color="#3fbfdf"/><stop offset="1" stop-color="#68cce6"/></linearGradient><path d="M156.5 117.4a18.5 6.5 0 1 0 37.1 0a18.5 6.5 0 1 0 -37.1 0zM169.8 117.4a5.2 1.8 0 1 0 10.5 0a5.2 1.8 0 1 0 -10.5 0z" fill="url(#ga83)" fill-rule="evenodd"/><linearGradient id="ga84" x2=".5" spreadMethod="reflect"><stop stop-color="#1bb5d8"/><stop offset=".6" stop-color="#3dbfdd"/><stop offset="1" stop-color="#66cde4"/></linearGradient><path d="M156.5 116.8a18.5 6.5 0 1 0 37 0a18.5 6.5 0 1 0 -37 0zM169.7 116.8a5.3 1.8 0 1 0 10.5 0a5.3 1.8 0 1 0 -10.5 0z" fill="url(#ga84)" fill-rule="evenodd"/><linearGradient id="ga85" x2=".5" spreadMethod="reflect"><stop stop-color="#18b6d6"/><stop offset=".6" stop-color="#3ac0dc"/><stop offset="1" stop-color="#63cde3"/></linearGradient><path d="M156.6 116.3a18.4 6.5 0 1 0 36.9 0a18.4 6.5 0 1 0 -36.9 0zM169.7 116.3a5.3 1.9 0 1 0 10.6 0a5.3 1.9 0 1 0 -10.6 0z" fill="url(#ga85)" fill-rule="evenodd"/><linearGradient id="ga86" x2=".5" spreadMethod="reflect"><stop stop-color="#15b7d4"/><stop offset=".6" stop-color="#37c1da"/><stop offset="1" stop-color="#60cee2"/></linearGradient><path d="M156.6 115.7a18.4 6.4 0 1 0 36.7 0a18.4 6.4 0 1 0 -36.7 0zM169.7 115.7a5.3 1.9 0 1 0 10.6 0a5.3 1.9 0 1 0 -10.6 0z" fill="url(#ga86)" fill-rule="evenodd"/><linearGradient id="ga87" x2=".5" spreadMethod="reflect"><stop stop-color="#12b8d2"/><stop offset=".6" stop-color="#34c2d9"/><stop offset="1" stop-color="#5dcee0"/></linearGradient><path d="M156.7 115.2a18.3 6.4 0 1 0 36.6 0a18.3 6.4 0 1 0 -36.6 0zM169.6 115.2a5.4 1.9 0 1 0 10.7 0a5.4 1.9 0 1 0 -10.7 0z" fill="url(#ga87)" fill-rule="evenodd"/><linearGradient id="ga88" x2=".5" spreadMethod="reflect"><stop stop-color="#10b8d0"/><stop offset=".6" stop-color="#32c2d7"/><stop offset="1" stop-color="#5bcfdf"/></linearGradient><path d="M156.7 114.6a18.3 6.4 0 1 0 36.5 0a18.3 6.4 0 1 0 -36.5 0zM169.6 114.6a5.4 1.9 0 1 0 10.8 0a5.4 1.9 0 1 0 -10.8 0z" fill="url(#ga88)" fill-rule="evenodd"/><linearGradient id="ga89" x2=".5" spreadMethod="reflect"><stop stop-color="#0eb9cf"/><stop offset=".6" stop-color="#30c3d5"/><stop offset="1" stop-color="#59cfde"/></linearGradient><path d="M156.8 114.1a18.2 6.4 0 1 0 36.4 0a18.2 6.4 0 1 0 -36.4 0zM169.6 114.1a5.4 1.9 0 1 0 10.8 0a5.4 1.9 0 1 0 -10.8 0z" fill="url(#ga89)" fill-rule="evenodd"/><linearGradient id="ga90" x2=".5" spreadMethod="reflect"><stop stop-color="#0cbacd"/><stop offset=".6" stop-color="#2ec4d4"/><stop offset="1" stop-color="#57cfdc"/></linearGradient><path d="M156.9 113.5a18.1 6.4 0 1 0 36.3 0a18.1 6.4 0 1 0 -36.3 0zM169.5 113.5a5.5 1.9 0 1 0 10.9 0a5.5 1.9 0 1 0 -10.9 0z" fill="url(#ga90)" fill-rule="evenodd"/><linearGradient id="ga91" x2=".5" spreadMethod="reflect"><stop stop-color="#0bbbcb"/><stop offset=".6" stop-color="#2dc4d2"/><stop offset="1" stop-color="#56d0db"/></linearGradient><path d="M156.9 112.9a18.1 6.3 0 1 0 36.2 0a18.1 6.3 0 1 0 -36.2 0zM169.5 112.9a5.5 1.9 0 1 0 11 0a5.5 1.9 0 1 0 -11 0z" fill="url(#ga91)" fill-rule="evenodd"/><linearGradient id="ga92" x2=".5" spreadMethod="reflect"><stop stop-color="#0bbcc9"/><stop offset=".6" stop-color="#2cc5d0"/><stop offset="1" stop-color="#55d0d9"/></linearGradient><path d="M157 112.4a18 6.3 0 1 0 36.1 0a18 6.3 0 1 0 -36.1 0zM169.5 112.4a5.5 1.9 0 1 0 11 0a5.5 1.9 0 1 0 -11 0z" fill="url(#ga92)" fill-rule="evenodd"/><linearGradient id="ga93" x2=".5" spreadMethod="reflect"><stop stop-color="#0cbdc7"/><stop offset=".6" stop-color="#2cc6ce"/><stop offset="1" stop-color="#54d1d8"/></linearGradient><path d="M157 111.8a18 6.3 0 1 0 35.9 0a18 6.3 0 1 0 -35.9 0zM169.5 111.8a5.5 1.9 0 1 0 11.1 0a5.5 1.9 0 1 0 -11.1 0z" fill="url(#ga93)" fill-rule="evenodd"/><linearGradient id="ga94" x2=".5" spreadMethod="reflect"><stop stop-color="#0dbdc5"/><stop offset=".6" stop-color="#2dc6cc"/><stop offset="1" stop-color="#55d1d6"/></linearGradient><path d="M157.1 111.3a17.9 6.3 0 1 0 35.8 0a17.9 6.3 0 1 0 -35.8 0zM169.4 111.3a5.6 2 0 1 0 11.1 0a5.6 2 0 1 0 -11.1 0z" fill="url(#ga94)" fill-rule="evenodd"/><linearGradient id="ga95" x2=".5" spreadMethod="reflect"><stop stop-color="#10bec3"/><stop offset=".6" stop-color="#2fc7cb"/><stop offset="1" stop-color="#56d1d4"/></linearGradient><path d="M157.1 110.7a17.9 6.3 0 1 0 35.7 0a17.9 6.3 0 1 0 -35.7 0zM169.4 110.7a5.6 2 0 1 0 11.2 0a5.6 2 0 1 0 -11.2 0z" fill="url(#ga95)" fill-rule="evenodd"/><linearGradient id="ga96" x2=".5" spreadMethod="reflect"><stop stop-color="#12bfc1"/><stop offset=".6" stop-color="#31c7c9"/><stop offset="1" stop-color="#57d2d3"/></linearGradient><path d="M157.2 110.2a17.8 6.2 0 1 0 35.6 0a17.8 6.2 0 1 0 -35.6 0zM169.4 110.2a5.6 2 0 1 0 11.3 0a5.6 2 0 1 0 -11.3 0z" fill="url(#ga96)" fill-rule="evenodd"/><linearGradient id="ga97" x2=".5" spreadMethod="reflect"><stop stop-color="#15c0bf"/><stop offset=".6" stop-color="#33c8c7"/><stop offset="1" stop-color="#58d2d1"/></linearGradient><path d="M157.3 109.6a17.7 6.2 0 1 0 35.5 0a17.7 6.2 0 1 0 -35.5 0zM169.3 109.6a5.7 2 0 1 0 11.3 0a5.7 2 0 1 0 -11.3 0z" fill="url(#ga97)" fill-rule="evenodd"/><linearGradient id="ga98" x2=".5" spreadMethod="reflect"><stop stop-color="#19c0bc"/><stop offset=".6" stop-color="#37c8c5"/><stop offset="1" stop-color="#5bd2cf"/></linearGradient><path d="M157.3 109a17.7 6.2 0 1 0 35.4 0a17.7 6.2 0 1 0 -35.4 0zM169.3 109a5.7 2 0 1 0 11.4 0a5.7 2 0 1 0 -11.4 0z" fill="url(#ga98)" fill-rule="evenodd"/><linearGradient id="ga99" x2=".5" spreadMethod="reflect"><stop stop-color="#1dc1ba"/><stop offset=".6" stop-color="#3ac9c3"/><stop offset="1" stop-color="#5dd2ce"/></linearGradient><path d="M157.4 108.5a17.6 6.2 0 1 0 35.3 0a17.6 6.2 0 1 0 -35.3 0zM169.3 108.5a5.7 2 0 1 0 11.5 0a5.7 2 0 1 0 -11.5 0z" fill="url(#ga99)" fill-rule="evenodd"/><linearGradient id="ga100" x2=".5" spreadMethod="reflect"><stop stop-color="#21c2b8"/><stop offset=".6" stop-color="#3dc9c1"/><stop offset="1" stop-color="#5fd3cc"/></linearGradient><path d="M157.4 107.9a17.6 6.2 0 1 0 35.2 0a17.6 6.2 0 1 0 -35.2 0zM169.2 107.9a5.8 2 0 1 0 11.5 0a5.8 2 0 1 0 -11.5 0z" fill="url(#ga100)" fill-rule="evenodd"/><linearGradient id="ga101" x2=".5" spreadMethod="reflect"><stop stop-color="#25c2b6"/><stop offset=".6" stop-color="#40cabf"/><stop offset="1" stop-color="#61d3ca"/></linearGradient><path d="M157.5 107.4a17.5 6.1 0 1 0 35.1 0a17.5 6.1 0 1 0 -35.1 0zM169.2 107.4a5.8 2 0 1 0 11.6 0a5.8 2 0 1 0 -11.6 0z" fill="url(#ga101)" fill-rule="evenodd"/><linearGradient id="ga102" x2=".5" spreadMethod="reflect"><stop stop-color="#28c3b4"/><stop offset=".6" stop-color="#42cabd"/><stop offset="1" stop-color="#63d3c8"/></linearGradient><path d="M157.5 106.8a17.5 6.1 0 1 0 34.9 0a17.5 6.1 0 1 0 -34.9 0zM169.2 106.8a5.8 2 0 1 0 11.6 0a5.8 2 0 1 0 -11.6 0z" fill="url(#ga102)" fill-rule="evenodd"/><linearGradient id="ga103" x2=".5" spreadMethod="reflect"><stop stop-color="#2bc3b2"/><stop offset=".6" stop-color="#45cbbb"/><stop offset="1" stop-color="#64d4c6"/></linearGradient><path d="M157.6 106.3a17.4 6.1 0 1 0 34.8 0a17.4 6.1 0 1 0 -34.8 0zM169.2 106.3a5.8 2.1 0 1 0 11.7 0a5.8 2.1 0 1 0 -11.7 0z" fill="url(#ga103)" fill-rule="evenodd"/><linearGradient id="ga104" x2=".5" spreadMethod="reflect"><stop stop-color="#2ec4af"/><stop offset=".6" stop-color="#47cbb9"/><stop offset="1" stop-color="#66d4c5"/></linearGradient><path d="M157.6 105.7a17.4 6.1 0 1 0 34.7 0a17.4 6.1 0 1 0 -34.7 0zM169.1 105.7a5.9 2.1 0 1 0 11.8 0a5.9 2.1 0 1 0 -11.8 0z" fill="url(#ga104)" fill-rule="evenodd"/><linearGradient id="ga105" x2=".5" spreadMethod="reflect"><stop stop-color="#30c5ad"/><stop offset=".6" stop-color="#49ccb7"/><stop offset="1" stop-color="#67d4c3"/></linearGradient><path d="M157.7 105.1a17.3 6.1 0 1 0 34.6 0a17.3 6.1 0 1 0 -34.6 0zM169.1 105.1a5.9 2.1 0 1 0 11.8 0a5.9 2.1 0 1 0 -11.8 0z" fill="url(#ga105)" fill-rule="evenodd"/><linearGradient id="ga106" x2=".5" spreadMethod="reflect"><stop stop-color="#32c5ab"/><stop offset=".6" stop-color="#4accb5"/><stop offset="1" stop-color="#68d4c1"/></linearGradient><path d="M157.7 104.6a17.3 6.1 0 1 0 34.5 0a17.3 6.1 0 1 0 -34.5 0zM169.1 104.6a5.9 2.1 0 1 0 11.9 0a5.9 2.1 0 1 0 -11.9 0z" fill="url(#ga106)" fill-rule="evenodd"/><linearGradient id="ga107" x2=".5" spreadMethod="reflect"><stop stop-color="#34c6a9"/><stop offset=".6" stop-color="#4ccdb3"/><stop offset="1" stop-color="#68d5bf"/></linearGradient><path d="M157.8 104a17.2 6 0 1 0 34.4 0a17.2 6 0 1 0 -34.4 0zM169 104a6 2.1 0 1 0 11.9 0a6 2.1 0 1 0 -11.9 0z" fill="url(#ga107)" fill-rule="evenodd"/><linearGradient id="ga108" x2=".5" spreadMethod="reflect"><stop stop-color="#36c7a6"/><stop offset=".6" stop-color="#4dcdb0"/><stop offset="1" stop-color="#69d5bd"/></linearGradient><path d="M157.9 103.5a17.1 6 0 1 0 34.3 0a17.1 6 0 1 0 -34.3 0zM169 103.5a6 2.1 0 1 0 12 0a6 2.1 0 1 0 -12 0z" fill="url(#ga108)" fill-rule="evenodd"/><linearGradient id="ga109" x2=".5" spreadMethod="reflect"><stop stop-color="#37c7a4"/><stop offset=".6" stop-color="#4eceae"/><stop offset="1" stop-color="#6ad5bb"/></linearGradient><path d="M157.9 102.9a17.1 6 0 1 0 34.2 0a17.1 6 0 1 0 -34.2 0zM169 102.9a6 2.1 0 1 0 12.1 0a6 2.1 0 1 0 -12.1 0z" fill="url(#ga109)" fill-rule="evenodd"/><linearGradient id="ga110" x2=".5" spreadMethod="reflect"><stop stop-color="#39c8a1"/><stop offset=".6" stop-color="#4fceac"/><stop offset="1" stop-color="#6ad6b9"/></linearGradient><path d="M158 102.4a17 6 0 1 0 34.1 0a17 6 0 1 0 -34.1 0zM168.9 102.4a6.1 2.1 0 1 0 12.1 0a6.1 2.1 0 1 0 -12.1 0z" fill="url(#ga110)" fill-rule="evenodd"/><linearGradient id="ga111" x2=".5" spreadMethod="reflect"><stop stop-color="#3bc99f"/><stop offset=".6" stop-color="#50cfa9"/><stop offset="1" stop-color="#6bd6b7"/></linearGradient><path d="M158 101.8a17 6 0 1 0 34 0a17 6 0 1 0 -34 0zM168.9 101.8a6.1 2.1 0 1 0 12.2 0a6.1 2.1 0 1 0 -12.2 0z" fill="url(#ga111)" fill-rule="evenodd"/><linearGradient id="ga112" x2=".5" spreadMethod="reflect"><stop stop-color="#3cc99c"/><stop offset=".6" stop-color="#52cfa7"/><stop offset="1" stop-color="#6cd6b4"/></linearGradient><path d="M158.1 101.2a16.9 5.9 0 1 0 33.9 0a16.9 5.9 0 1 0 -33.9 0zM168.9 101.2a6.1 2.1 0 1 0 12.2 0a6.1 2.1 0 1 0 -12.2 0z" fill="url(#ga112)" fill-rule="evenodd"/><linearGradient id="ga113" x2=".5" spreadMethod="reflect"><stop stop-color="#3eca9a"/><stop offset=".6" stop-color="#53d0a5"/><stop offset="1" stop-color="#6dd7b2"/></linearGradient><path d="M158.1 100.7a16.9 5.9 0 1 0 33.7 0a16.9 5.9 0 1 0 -33.7 0zM168.9 100.7a6.1 2.2 0 1 0 12.3 0a6.1 2.2 0 1 0 -12.3 0z" fill="url(#ga113)" fill-rule="evenodd"/><linearGradient id="ga114" x2=".5" spreadMethod="reflect"><stop stop-color="#40ca97"/><stop offset=".6" stop-color="#55d0a2"/><stop offset="1" stop-color="#6ed7b0"/></linearGradient><path d="M158.2 100.1a16.8 5.9 0 1 0 33.6 0a16.8 5.9 0 1 0 -33.6 0zM168.8 100.1a6.2 2.2 0 1 0 12.4 0a6.2 2.2 0 1 0 -12.4 0z" fill="url(#ga114)" fill-rule="evenodd"/><linearGradient id="ga115" x2=".5" spreadMethod="reflect"><stop stop-color="#43cb94"/><stop offset=".6" stop-color="#57d19f"/><stop offset="1" stop-color="#6fd7ad"/></linearGradient><path d="M158.2 99.6a16.8 5.9 0 1 0 33.5 0a16.8 5.9 0 1 0 -33.5 0zM168.8 99.6a6.2 2.2 0 1 0 12.4 0a6.2 2.2 0 1 0 -12.4 0z" fill="url(#ga115)" fill-rule="evenodd"/><linearGradient id="ga116" x2=".5" spreadMethod="reflect"><stop stop-color="#45cc91"/><stop offset=".6" stop-color="#59d19d"/><stop offset="1" stop-color="#70d8ab"/></linearGradient><path d="M158.3 99a16.7 5.9 0 1 0 33.4 0a16.7 5.9 0 1 0 -33.4 0zM168.8 99a6.2 2.2 0 1 0 12.5 0a6.2 2.2 0 1 0 -12.5 0z" fill="url(#ga116)" fill-rule="evenodd"/><linearGradient id="ga117" x2=".5" spreadMethod="reflect"><stop stop-color="#48cc8e"/><stop offset=".6" stop-color="#5bd19a"/><stop offset="1" stop-color="#72d8a8"/></linearGradient><path d="M158.3 98.5a16.7 5.8 0 1 0 33.3 0a16.7 5.8 0 1 0 -33.3 0zM168.7 98.5a6.3 2.2 0 1 0 12.5 0a6.3 2.2 0 1 0 -12.5 0z" fill="url(#ga117)" fill-rule="evenodd"/><linearGradient id="ga118" x2=".5" spreadMethod="reflect"><stop stop-color="#4ccc8b"/><stop offset=".6" stop-color="#5ed297"/><stop offset="1" stop-color="#74d8a5"/></linearGradient><path d="M158.4 97.9a16.6 5.8 0 1 0 33.2 0a16.6 5.8 0 1 0 -33.2 0zM168.7 97.9a6.3 2.2 0 1 0 12.6 0a6.3 2.2 0 1 0 -12.6 0z" fill="url(#ga118)" fill-rule="evenodd"/><linearGradient id="ga119" x2=".5" spreadMethod="reflect"><stop stop-color="#4fcd88"/><stop offset=".6" stop-color="#61d294"/><stop offset="1" stop-color="#76d8a3"/></linearGradient><path d="M158.4 97.3a16.6 5.8 0 1 0 33.1 0a16.6 5.8 0 1 0 -33.1 0zM168.7 97.3a6.3 2.2 0 1 0 12.6 0a6.3 2.2 0 1 0 -12.6 0z" fill="url(#ga119)" fill-rule="evenodd"/><linearGradient id="ga120" x2=".5" spreadMethod="reflect"><stop stop-color="#53cd85"/><stop offset=".6" stop-color="#64d291"/><stop offset="1" stop-color="#79d8a0"/></linearGradient><path d="M158.5 96.8a16.5 5.8 0 1 0 33 0a16.5 5.8 0 1 0 -33 0zM168.6 96.8a6.4 2.2 0 1 0 12.7 0a6.4 2.2 0 1 0 -12.7 0z" fill="url(#ga120)" fill-rule="evenodd"/><linearGradient id="ga121" x2=".5" spreadMethod="reflect"><stop stop-color="#57cd82"/><stop offset=".6" stop-color="#67d28e"/><stop offset="1" stop-color="#7bd89d"/></linearGradient><path d="M158.6 96.2a16.4 5.8 0 1 0 32.9 0a16.4 5.8 0 1 0 -32.9 0zM168.6 96.2a6.4 2.2 0 1 0 12.8 0a6.4 2.2 0 1 0 -12.8 0z" fill="url(#ga121)" fill-rule="evenodd"/><linearGradient id="ga122" x2=".5" spreadMethod="reflect"><stop stop-color="#5ace7f"/><stop offset=".6" stop-color="#6ad28b"/><stop offset="1" stop-color="#7ed89a"/></linearGradient><path d="M158.6 95.7a16.4 5.7 0 1 0 32.8 0a16.4 5.7 0 1 0 -32.8 0zM168.6 95.7a6.4 2.2 0 1 0 12.8 0a6.4 2.2 0 1 0 -12.8 0z" fill="url(#ga122)" fill-rule="evenodd"/><linearGradient id="ga123" x2=".5" spreadMethod="reflect"><stop stop-color="#5ece7c"/><stop offset=".6" stop-color="#6ed288"/><stop offset="1" stop-color="#80d897"/></linearGradient><path d="M158.7 95.1a16.3 5.7 0 1 0 32.7 0a16.3 5.7 0 1 0 -32.7 0zM168.6 95.1a6.4 2.3 0 1 0 12.9 0a6.4 2.3 0 1 0 -12.9 0z" fill="url(#ga123)" fill-rule="evenodd"/><linearGradient id="ga124" x2=".5" spreadMethod="reflect"><stop stop-color="#62ce78"/><stop offset=".6" stop-color="#71d385"/><stop offset="1" stop-color="#83d894"/></linearGradient><path d="M158.7 94.6a16.3 5.7 0 1 0 32.6 0a16.3 5.7 0 1 0 -32.6 0zM168.5 94.6a6.5 2.3 0 1 0 12.9 0a6.5 2.3 0 1 0 -12.9 0z" fill="url(#ga124)" fill-rule="evenodd"/><linearGradient id="ga125" x2=".5" spreadMethod="reflect"><stop stop-color="#66ce75"/><stop offset=".6" stop-color="#74d382"/><stop offset="1" stop-color="#85d891"/></linearGradient><path d="M158.8 94a16.2 5.7 0 1 0 32.5 0a16.2 5.7 0 1 0 -32.5 0zM168.5 94a6.5 2.3 0 1 0 13 0a6.5 2.3 0 1 0 -13 0z" fill="url(#ga125)" fill-rule="evenodd"/><linearGradient id="ga126" x2=".5" spreadMethod="reflect"><stop stop-color="#6ace71"/><stop offset=".6" stop-color="#78d37e"/><stop offset="1" stop-color="#88d88e"/></linearGradient><path d="M158.8 93.4a16.2 5.7 0 1 0 32.4 0a16.2 5.7 0 1 0 -32.4 0zM168.5 93.4a6.5 2.3 0 1 0 13.1 0a6.5 2.3 0 1 0 -13.1 0z" fill="url(#ga126)" fill-rule="evenodd"/><linearGradient id="ga127" x2=".5" spreadMethod="reflect"><stop stop-color="#6ece6e"/><stop offset=".6" stop-color="#7bd27b"/><stop offset="1" stop-color="#8bd88b"/></linearGradient><path d="M158.9 92.9a16.1 5.7 0 1 0 32.2 0a16.1 5.7 0 1 0 -32.2 0zM168.4 92.9a6.6 2.3 0 1 0 13.1 0a6.6 2.3 0 1 0 -13.1 0z" fill="url(#ga127)" fill-rule="evenodd"/><linearGradient id="ga128" x2=".5" spreadMethod="reflect"><stop stop-color="#72ce6a"/><stop offset=".6" stop-color="#7fd278"/><stop offset="1" stop-color="#8ed888"/></linearGradient><path d="M158.9 92.3a16.1 5.6 0 1 0 32.1 0a16.1 5.6 0 1 0 -32.1 0zM168.4 92.3a6.6 2.3 0 1 0 13.2 0a6.6 2.3 0 1 0 -13.2 0z" fill="url(#ga128)" fill-rule="evenodd"/><linearGradient id="ga129" x2=".5" spreadMethod="reflect"><stop stop-color="#77ce67"/><stop offset=".6" stop-color="#82d274"/><stop offset="1" stop-color="#91d784"/></linearGradient><path d="M159 91.8a16 5.6 0 1 0 32 0a16 5.6 0 1 0 -32 0zM168.4 91.8a6.6 2.3 0 1 0 13.2 0a6.6 2.3 0 1 0 -13.2 0z" fill="url(#ga129)" fill-rule="evenodd"/><linearGradient id="ga130" x2=".5" spreadMethod="reflect"><stop stop-color="#7bce63"/><stop offset=".6" stop-color="#86d271"/><stop offset="1" stop-color="#94d781"/></linearGradient><path d="M159 91.2a16 5.6 0 1 0 31.9 0a16 5.6 0 1 0 -31.9 0zM168.4 91.2a6.6 2.3 0 1 0 13.3 0a6.6 2.3 0 1 0 -13.3 0z" fill="url(#ga130)" fill-rule="evenodd"/><linearGradient id="ga131" x2=".5" spreadMethod="reflect"><stop stop-color="#80cd60"/><stop offset=".6" stop-color="#8ad26e"/><stop offset="1" stop-color="#98d77e"/></linearGradient><path d="M159.1 90.7a15.9 5.6 0 1 0 31.8 0a15.9 5.6 0 1 0 -31.8 0zM168.3 90.7a6.7 2.3 0 1 0 13.4 0a6.7 2.3 0 1 0 -13.4 0z" fill="url(#ga131)" fill-rule="evenodd"/><linearGradient id="ga132" x2=".5" spreadMethod="reflect"><stop stop-color="#84cd5d"/><stop offset=".6" stop-color="#8ed16a"/><stop offset="1" stop-color="#9bd67b"/></linearGradient><path d="M159.1 90.1a15.9 5.6 0 1 0 31.7 0a15.9 5.6 0 1 0 -31.7 0zM168.3 90.1a6.7 2.4 0 1 0 13.4 0a6.7 2.4 0 1 0 -13.4 0z" fill="url(#ga132)" fill-rule="evenodd"/><linearGradient id="ga133" x2=".5" spreadMethod="reflect"><stop stop-color="#88cd59"/><stop offset=".6" stop-color="#92d167"/><stop offset="1" stop-color="#9ed678"/></linearGradient><path d="M159.2 89.5a15.8 5.5 0 1 0 31.6 0a15.8 5.5 0 1 0 -31.6 0zM168.3 89.5a6.7 2.4 0 1 0 13.5 0a6.7 2.4 0 1 0 -13.5 0z" fill="url(#ga133)" fill-rule="evenodd"/><linearGradient id="ga134" x2=".5" spreadMethod="reflect"><stop stop-color="#8dcc56"/><stop offset=".6" stop-color="#96d063"/><stop offset="1" stop-color="#a1d574"/></linearGradient><path d="M159.3 89a15.7 5.5 0 1 0 31.5 0a15.7 5.5 0 1 0 -31.5 0zM168.2 89a6.8 2.4 0 1 0 13.5 0a6.8 2.4 0 1 0 -13.5 0z" fill="url(#ga134)" fill-rule="evenodd"/><linearGradient id="ga135" x2=".5" spreadMethod="reflect"><stop stop-color="#91cc52"/><stop offset=".6" stop-color="#9ad060"/><stop offset="1" stop-color="#a5d571"/></linearGradient><path d="M159.3 88.4a15.7 5.5 0 1 0 31.4 0a15.7 5.5 0 1 0 -31.4 0zM168.2 88.4a6.8 2.4 0 1 0 13.6 0a6.8 2.4 0 1 0 -13.6 0z" fill="url(#ga135)" fill-rule="evenodd"/><linearGradient id="ga136" x2=".5" spreadMethod="reflect"><stop stop-color="#96cb4f"/><stop offset=".6" stop-color="#9ecf5d"/><stop offset="1" stop-color="#a8d46e"/></linearGradient><path d="M159.4 87.9a15.6 5.5 0 1 0 31.3 0a15.6 5.5 0 1 0 -31.3 0zM168.2 87.9a6.8 2.4 0 1 0 13.7 0a6.8 2.4 0 1 0 -13.7 0z" fill="url(#ga136)" fill-rule="evenodd"/><linearGradient id="ga137" x2=".5" spreadMethod="reflect"><stop stop-color="#9acb4b"/><stop offset=".6" stop-color="#a2cf59"/><stop offset="1" stop-color="#abd46a"/></linearGradient><path d="M159.4 87.3a15.6 5.5 0 1 0 31.2 0a15.6 5.5 0 1 0 -31.2 0zM168.1 87.3a6.9 2.4 0 1 0 13.7 0a6.9 2.4 0 1 0 -13.7 0z" fill="url(#ga137)" fill-rule="evenodd"/><linearGradient id="ga138" x2=".5" spreadMethod="reflect"><stop stop-color="#9eca48"/><stop offset=".6" stop-color="#a6ce56"/><stop offset="1" stop-color="#afd367"/></linearGradient><path d="M159.5 86.8a15.5 5.4 0 1 0 31.1 0a15.5 5.4 0 1 0 -31.1 0zM168.1 86.8a6.9 2.4 0 1 0 13.8 0a6.9 2.4 0 1 0 -13.8 0z" fill="url(#ga138)" fill-rule="evenodd"/><linearGradient id="ga139" x2=".5" spreadMethod="reflect"><stop stop-color="#a2ca45"/><stop offset=".6" stop-color="#a9ce53"/><stop offset="1" stop-color="#b2d264"/></linearGradient><path d="M159.5 86.2a15.5 5.4 0 1 0 30.9 0a15.5 5.4 0 1 0 -30.9 0zM168.1 86.2a6.9 2.4 0 1 0 13.8 0a6.9 2.4 0 1 0 -13.8 0z" fill="url(#ga139)" fill-rule="evenodd"/><linearGradient id="ga140" x2=".5" spreadMethod="reflect"><stop stop-color="#a7c942"/><stop offset=".6" stop-color="#adcd50"/><stop offset="1" stop-color="#b5d261"/></linearGradient><path d="M159.6 85.6a15.4 5.4 0 1 0 30.8 0a15.4 5.4 0 1 0 -30.8 0zM168.1 85.6a6.9 2.4 0 1 0 13.9 0a6.9 2.4 0 1 0 -13.9 0z" fill="url(#ga140)" fill-rule="evenodd"/><linearGradient id="ga141" x2=".5" spreadMethod="reflect"><stop stop-color="#abc83f"/><stop offset=".6" stop-color="#b1cc4d"/><stop offset="1" stop-color="#b8d15e"/></linearGradient><path d="M159.6 85.1a15.4 5.4 0 1 0 30.7 0a15.4 5.4 0 1 0 -30.7 0zM168 85.1a7 2.4 0 1 0 14 0a7 2.4 0 1 0 -14 0z" fill="url(#ga141)" fill-rule="evenodd"/><linearGradient id="ga142" x2=".5" spreadMethod="reflect"><stop stop-color="#afc83c"/><stop offset=".6" stop-color="#b5cb4a"/><stop offset="1" stop-color="#bcd05b"/></linearGradient><path d="M159.7 84.5a15.3 5.4 0 1 0 30.6 0a15.3 5.4 0 1 0 -30.6 0zM168 84.5a7 2.5 0 1 0 14 0a7 2.5 0 1 0 -14 0z" fill="url(#ga142)" fill-rule="evenodd"/><linearGradient id="ga143" x2=".5" spreadMethod="reflect"><stop stop-color="#b3c739"/><stop offset=".6" stop-color="#b8cb47"/><stop offset="1" stop-color="#bfd058"/></linearGradient><path d="M159.8 84a15.2 5.3 0 1 0 30.5 0a15.2 5.3 0 1 0 -30.5 0zM168 84a7 2.5 0 1 0 14.1 0a7 2.5 0 1 0 -14.1 0z" fill="url(#ga143)" fill-rule="evenodd"/><linearGradient id="ga144" x2=".5" spreadMethod="reflect"><stop stop-color="#b7c637"/><stop offset=".6" stop-color="#bcca44"/><stop offset="1" stop-color="#c2cf55"/></linearGradient><path d="M159.8 83.4a15.2 5.3 0 1 0 30.4 0a15.2 5.3 0 1 0 -30.4 0zM167.9 83.4a7.1 2.5 0 1 0 14.1 0a7.1 2.5 0 1 0 -14.1 0z" fill="url(#ga144)" fill-rule="evenodd"/><linearGradient id="ga145" x2=".5" spreadMethod="reflect"><stop stop-color="#bbc534"/><stop offset=".6" stop-color="#c0c942"/><stop offset="1" stop-color="#c5ce53"/></linearGradient><path d="M159.9 82.9a15.1 5.3 0 1 0 30.3 0a15.1 5.3 0 1 0 -30.3 0zM167.9 82.9a7.1 2.5 0 1 0 14.2 0a7.1 2.5 0 1 0 -14.2 0z" fill="url(#ga145)" fill-rule="evenodd"/><linearGradient id="ga146" x2=".5" spreadMethod="reflect"><stop stop-color="#bfc432"/><stop offset=".6" stop-color="#c3c840"/><stop offset="1" stop-color="#c8cd50"/></linearGradient><path d="M159.9 82.3a15.1 5.3 0 1 0 30.2 0a15.1 5.3 0 1 0 -30.2 0zM167.9 82.3a7.1 2.5 0 1 0 14.3 0a7.1 2.5 0 1 0 -14.3 0z" fill="url(#ga146)" fill-rule="evenodd"/><linearGradient id="ga147" x2=".5" spreadMethod="reflect"><stop stop-color="#c3c430"/><stop offset=".6" stop-color="#c7c73d"/><stop offset="1" stop-color="#cccc4e"/></linearGradient><path d="M160 81.7a15 5.3 0 1 0 30 0a15 5.3 0 1 0 -30 0zM167.8 81.7a7.2 2.5 0 1 0 14.3 0a7.2 2.5 0 1 0 -14.3 0z" fill="url(#ga147)" fill-rule="evenodd"/><linearGradient id="ga148" x2=".5" spreadMethod="reflect"><stop stop-color="#c7c32e"/><stop offset=".6" stop-color="#cac73b"/><stop offset="1" stop-color="#cfcb4b"/></linearGradient><path d="M160 81.2a15 5.2 0 1 0 29.9 0a15 5.2 0 1 0 -29.9 0zM167.8 81.2a7.2 2.5 0 1 0 14.4 0a7.2 2.5 0 1 0 -14.4 0z" fill="url(#ga148)" fill-rule="evenodd"/><linearGradient id="ga149" x2=".5" spreadMethod="reflect"><stop stop-color="#cac22d"/><stop offset=".6" stop-color="#cec63a"/><stop offset="1" stop-color="#d2ca4a"/></linearGradient><path d="M160.1 80.6a14.9 5.2 0 1 0 29.8 0a14.9 5.2 0 1 0 -29.8 0zM167.8 80.6a7.2 2.5 0 1 0 14.5 0a7.2 2.5 0 1 0 -14.5 0z" fill="url(#ga149)" fill-rule="evenodd"/><linearGradient id="ga150" x2=".5" spreadMethod="reflect"><stop stop-color="#cec12c"/><stop offset=".6" stop-color="#d1c539"/><stop offset="1" stop-color="#d5ca49"/></linearGradient><path d="M160.1 80.1a14.9 5.2 0 1 0 29.7 0a14.9 5.2 0 1 0 -29.7 0zM167.7 80.1a7.3 2.5 0 1 0 14.5 0a7.3 2.5 0 1 0 -14.5 0z" fill="url(#ga150)" fill-rule="evenodd"/><linearGradient id="ga151" x2=".5" spreadMethod="reflect"><stop stop-color="#d2c02b"/><stop offset=".6" stop-color="#d4c438"/><stop offset="1" stop-color="#d8c947"/></linearGradient><path d="M160.2 79.5a14.8 5.2 0 1 0 29.6 0a14.8 5.2 0 1 0 -29.6 0zM167.7 79.5a7.3 2.6 0 1 0 14.6 0a7.3 2.6 0 1 0 -14.6 0z" fill="url(#ga151)" fill-rule="evenodd"/><linearGradient id="ga152" x2=".5" spreadMethod="reflect"><stop stop-color="#d5c02b"/><stop offset=".6" stop-color="#d7c338"/><stop offset="1" stop-color="#dac847"/></linearGradient><path d="M160.3 79a14.7 5.2 0 1 0 29.5 0a14.7 5.2 0 1 0 -29.5 0zM167.7 79a7.3 2.6 0 1 0 14.6 0a7.3 2.6 0 1 0 -14.6 0z" fill="url(#ga152)" fill-rule="evenodd"/><linearGradient id="ga153" x2=".5" spreadMethod="reflect"><stop stop-color="#d8bf2c"/><stop offset=".6" stop-color="#dbc338"/><stop offset="1" stop-color="#ddc747"/></linearGradient><path d="M160.3 78.4a14.7 5.1 0 1 0 29.4 0a14.7 5.1 0 1 0 -29.4 0zM167.6 78.4a7.4 2.6 0 1 0 14.7 0a7.4 2.6 0 1 0 -14.7 0z" fill="url(#ga153)" fill-rule="evenodd"/><linearGradient id="ga154" x2=".5" spreadMethod="reflect"><stop stop-color="#dcbe2c"/><stop offset=".6" stop-color="#dec238"/><stop offset="1" stop-color="#e0c646"/></linearGradient><path d="M160.4 77.8a14.6 5.1 0 1 0 29.2 0a14.6 5.1 0 1 0 -29.2 0zM167.6 77.8a7.4 2.6 0 1 0 14.8 0a7.4 2.6 0 1 0 -14.8 0z" fill="url(#ga154)" fill-rule="evenodd"/><linearGradient id="ga155" x2=".5" spreadMethod="reflect"><stop stop-color="#dfbe2d"/><stop offset=".6" stop-color="#e1c139"/><stop offset="1" stop-color="#e3c547"/></linearGradient><path d="M160.4 77.3a14.6 5.1 0 1 0 29.1 0a14.6 5.1 0 1 0 -29.1 0zM167.6 77.3a7.4 2.6 0 1 0 14.8 0a7.4 2.6 0 1 0 -14.8 0z" fill="url(#ga155)" fill-rule="evenodd"/><linearGradient id="ga156" x2=".5" spreadMethod="reflect"><stop stop-color="#e2bd2e"/><stop offset=".6" stop-color="#e4c03a"/><stop offset="1" stop-color="#e5c547"/></linearGradient><path d="M160.5 76.7a14.5 5.1 0 1 0 29 0a14.5 5.1 0 1 0 -29 0zM167.5 76.7a7.5 2.6 0 1 0 14.9 0a7.5 2.6 0 1 0 -14.9 0z" fill="url(#ga156)" fill-rule="evenodd"/><linearGradient id="ga157" x2=".5" spreadMethod="reflect"><stop stop-color="#e5bc30"/><stop offset=".6" stop-color="#e6c03b"/><stop offset="1" stop-color="#e8c448"/></linearGradient><path d="M160.6 76.2a14.4 5.1 0 1 0 28.9 0a14.4 5.1 0 1 0 -28.9 0zM167.5 76.2a7.5 2.6 0 1 0 15 0a7.5 2.6 0 1 0 -15 0z" fill="url(#ga157)" fill-rule="evenodd"/><linearGradient id="ga158" x2=".5" spreadMethod="reflect"><stop stop-color="#e8bc32"/><stop offset=".6" stop-color="#e9bf3c"/><stop offset="1" stop-color="#ebc349"/></linearGradient><path d="M160.6 75.6a14.4 5 0 1 0 28.8 0a14.4 5 0 1 0 -28.8 0zM167.5 75.6a7.5 2.6 0 1 0 15 0a7.5 2.6 0 1 0 -15 0z" fill="url(#ga158)" fill-rule="evenodd"/><linearGradient id="ga159" x2=".5" spreadMethod="reflect"><stop stop-color="#ebbb34"/><stop offset=".6" stop-color="#ecbf3e"/><stop offset="1" stop-color="#edc34a"/></linearGradient><path d="M160.7 75.1a14.3 5 0 1 0 28.6 0a14.3 5 0 1 0 -28.6 0zM167.4 75.1a7.6 2.6 0 1 0 15.1 0a7.6 2.6 0 1 0 -15.1 0z" fill="url(#ga159)" fill-rule="evenodd"/><linearGradient id="ga160" x2=".5" spreadMethod="reflect"><stop stop-color="#eebb37"/><stop offset=".6" stop-color="#efbe40"/><stop offset="1" stop-color="#f0c24c"/></linearGradient><path d="M160.7 74.5a14.3 5 0 1 0 28.5 0a14.3 5 0 1 0 -28.5 0zM167.4 74.5a7.6 2.7 0 1 0 15.2 0a7.6 2.7 0 1 0 -15.2 0z" fill="url(#ga160)" fill-rule="evenodd"/><linearGradient id="ga161" x2=".5" spreadMethod="reflect"><stop stop-color="#f0bb39"/><stop offset=".6" stop-color="#f1be42"/><stop offset="1" stop-color="#f2c24e"/></linearGradient><path d="M160.8 73.9a14.2 5 0 1 0 28.4 0a14.2 5 0 1 0 -28.4 0zM167.4 73.9a7.6 2.7 0 1 0 15.2 0a7.6 2.7 0 1 0 -15.2 0z" fill="url(#ga161)" fill-rule="evenodd"/><linearGradient id="ga162" x2=".5" spreadMethod="reflect"><stop stop-color="#f3bb3b"/><stop offset=".6" stop-color="#f4be44"/><stop offset="1" stop-color="#f4c24f"/></linearGradient><path d="M160.9 73.4a14.1 5 0 1 0 28.3 0a14.1 5 0 1 0 -28.3 0zM167.3 73.4a7.7 2.7 0 1 0 15.3 0a7.7 2.7 0 1 0 -15.3 0z" fill="url(#ga162)" fill-rule="evenodd"/><linearGradient id="ga163" x2=".5" spreadMethod="reflect"><stop stop-color="#f6bb3e"/><stop offset=".6" stop-color="#f6be46"/><stop offset="1" stop-color="#f7c251"/></linearGradient><path d="M160.9 72.8a14.1 4.9 0 1 0 28.1 0a14.1 4.9 0 1 0 -28.1 0zM167.3 72.8a7.7 2.7 0 1 0 15.4 0a7.7 2.7 0 1 0 -15.4 0z" fill="url(#ga163)" fill-rule="evenodd"/><linearGradient id="ga164" x2=".5" spreadMethod="reflect"><stop stop-color="#f8bb40"/><stop offset=".6" stop-color="#f9be48"/><stop offset="1" stop-color="#f9c252"/></linearGradient><path d="M161 72.3a14 4.9 0 1 0 28 0a14 4.9 0 1 0 -28 0zM167.3 72.3a7.7 2.7 0 1 0 15.4 0a7.7 2.7 0 1 0 -15.4 0z" fill="url(#ga164)" fill-rule="evenodd"/><linearGradient id="ga165" x2=".5" spreadMethod="reflect"><stop stop-color="#fabc3f"/><stop offset=".6" stop-color="#fabf47"/><stop offset="1" stop-color="#fbc251"/></linearGradient><path d="M161.1 71.7a13.9 4.9 0 1 0 27.9 0a13.9 4.9 0 1 0 -27.9 0zM167.2 71.7a7.8 2.7 0 1 0 15.5 0a7.8 2.7 0 1 0 -15.5 0z" fill="url(#ga165)" fill-rule="evenodd"/><linearGradient id="ga166" x2=".5" spreadMethod="reflect"><stop stop-color="#fcbd3f"/><stop offset=".6" stop-color="#fcc047"/><stop offset="1" stop-color="#fcc350"/></linearGradient><path d="M161.1 71.2a13.9 4.9 0 1 0 27.8 0a13.9 4.9 0 1 0 -27.8 0zM167.2 71.2a7.8 2.7 0 1 0 15.6 0a7.8 2.7 0 1 0 -15.6 0z" fill="url(#ga166)" fill-rule="evenodd"/><linearGradient id="ga167" x2=".5" spreadMethod="reflect"><stop stop-color="#febe3f"/><stop offset=".6" stop-color="#fec146"/><stop offset="1" stop-color="#fec450"/></linearGradient><path d="M161.2 70.6a13.8 4.8 0 1 0 27.6 0a13.8 4.8 0 1 0 -27.6 0zM167.2 70.6a7.8 2.7 0 1 0 15.7 0a7.8 2.7 0 1 0 -15.7 0z" fill="url(#ga167)" fill-rule="evenodd"/><linearGradient id="ga168" x2=".5" spreadMethod="reflect"><stop stop-color="#fec03d"/><stop offset=".6" stop-color="#fec245"/><stop offset="1" stop-color="#fec54e"/></linearGradient><path d="M161.3 70a13.7 4.8 0 1 0 27.5 0a13.7 4.8 0 1 0 -27.5 0zM167.1 70a7.9 2.8 0 1 0 15.7 0a7.9 2.8 0 1 0 -15.7 0z" fill="url(#ga168)" fill-rule="evenodd"/><linearGradient id="ga169" x2=".5" spreadMethod="reflect"><stop stop-color="#fec23c"/><stop offset=".6" stop-color="#fec443"/><stop offset="1" stop-color="#fec74c"/></linearGradient><path d="M161.3 69.5a13.7 4.8 0 1 0 27.4 0a13.7 4.8 0 1 0 -27.4 0zM167.1 69.5a7.9 2.8 0 1 0 15.8 0a7.9 2.8 0 1 0 -15.8 0z" fill="url(#ga169)" fill-rule="evenodd"/><linearGradient id="ga170" x2=".5" spreadMethod="reflect"><stop stop-color="#fec33b"/><stop offset=".6" stop-color="#fec642"/><stop offset="1" stop-color="#fec84a"/></linearGradient><path d="M161.4 68.9a13.6 4.8 0 1 0 27.2 0a13.6 4.8 0 1 0 -27.2 0zM167.1 68.9a7.9 2.8 0 1 0 15.9 0a7.9 2.8 0 1 0 -15.9 0z" fill="url(#ga170)" fill-rule="evenodd"/><linearGradient id="ga171" x2=".5" spreadMethod="reflect"><stop stop-color="#fec539"/><stop offset=".6" stop-color="#fec740"/><stop offset="1" stop-color="#feca48"/></linearGradient><path d="M161.5 68.4a13.5 4.8 0 1 0 27.1 0a13.5 4.8 0 1 0 -27.1 0zM167 68.4a8 2.8 0 1 0 16 0a8 2.8 0 1 0 -16 0z" fill="url(#ga171)" fill-rule="evenodd"/><linearGradient id="ga172" x2=".5" spreadMethod="reflect"><stop stop-color="#fec738"/><stop offset=".6" stop-color="#fec93e"/><stop offset="1" stop-color="#fecb47"/></linearGradient><path d="M161.5 67.8a13.5 4.7 0 1 0 27 0a13.5 4.7 0 1 0 -27 0zM167 67.8a8 2.8 0 1 0 16 0a8 2.8 0 1 0 -16 0z" fill="url(#ga172)" fill-rule="evenodd"/><linearGradient id="ga173" x2=".5" spreadMethod="reflect"><stop stop-color="#fec936"/><stop offset=".6" stop-color="#fecb3d"/><stop offset="1" stop-color="#fecd45"/></linearGradient><path d="M161.6 67.3a13.4 4.7 0 1 0 26.8 0a13.4 4.7 0 1 0 -26.8 0zM166.9 67.3a8.1 2.8 0 1 0 16.1 0a8.1 2.8 0 1 0 -16.1 0z" fill="url(#ga173)" fill-rule="evenodd"/><linearGradient id="ga174" x2=".5" spreadMethod="reflect"><stop stop-color="#fecb35"/><stop offset=".6" stop-color="#fecc3b"/><stop offset="1" stop-color="#fece43"/></linearGradient><path d="M161.7 66.7a13.3 4.7 0 1 0 26.7 0a13.3 4.7 0 1 0 -26.7 0zM166.9 66.7a8.1 2.8 0 1 0 16.2 0a8.1 2.8 0 1 0 -16.2 0z" fill="url(#ga174)" fill-rule="evenodd"/><linearGradient id="ga175" x2=".5" spreadMethod="reflect"><stop stop-color="#fdcd34"/><stop offset=".6" stop-color="#fdce3a"/><stop offset="1" stop-color="#fdd041"/></linearGradient><path d="M161.7 66.1a13.3 4.7 0 1 0 26.5 0a13.3 4.7 0 1 0 -26.5 0zM166.9 66.1a8.1 2.9 0 1 0 16.3 0a8.1 2.9 0 1 0 -16.3 0z" fill="url(#ga175)" fill-rule="evenodd"/><linearGradient id="ga176" x2=".5" spreadMethod="reflect"><stop stop-color="#fdcf33"/><stop offset=".6" stop-color="#fdd038"/><stop offset="1" stop-color="#fdd240"/></linearGradient><path d="M161.8 65.6a13.2 4.6 0 1 0 26.4 0a13.2 4.6 0 1 0 -26.4 0zM166.8 65.6a8.2 2.9 0 1 0 16.3 0a8.2 2.9 0 1 0 -16.3 0z" fill="url(#ga176)" fill-rule="evenodd"/><linearGradient id="ga177" x2=".5" spreadMethod="reflect"><stop stop-color="#fcd031"/><stop offset=".6" stop-color="#fcd237"/><stop offset="1" stop-color="#fcd33e"/></linearGradient><path d="M161.9 65a13.1 4.6 0 1 0 26.2 0a13.1 4.6 0 1 0 -26.2 0zM166.8 65a8.2 2.9 0 1 0 16.4 0a8.2 2.9 0 1 0 -16.4 0z" fill="url(#ga177)" fill-rule="evenodd"/><linearGradient id="ga178" x2=".5" spreadMethod="reflect"><stop stop-color="#fbd230"/><stop offset=".6" stop-color="#fbd436"/><stop offset="1" stop-color="#fbd53c"/></linearGradient><path d="M162 64.5a13 4.6 0 1 0 26.1 0a13 4.6 0 1 0 -26.1 0zM166.7 64.5a8.3 2.9 0 1 0 16.5 0a8.3 2.9 0 1 0 -16.5 0z" fill="url(#ga178)" fill-rule="evenodd"/><linearGradient id="ga179" x2=".5" spreadMethod="reflect"><stop stop-color="#fad42f"/><stop offset=".6" stop-color="#fad535"/><stop offset="1" stop-color="#fbd73b"/></linearGradient><path d="M162 63.9a13 4.5 0 1 0 25.9 0a13 4.5 0 1 0 -25.9 0zM166.7 63.9a8.3 2.9 0 1 0 16.6 0a8.3 2.9 0 1 0 -16.6 0z" fill="url(#ga179)" fill-rule="evenodd"/><linearGradient id="ga180" x2=".5" spreadMethod="reflect"><stop stop-color="#fad62e"/><stop offset=".6" stop-color="#fad733"/><stop offset="1" stop-color="#fad839"/></linearGradient><path d="M162.1 63.4a12.9 4.5 0 1 0 25.8 0a12.9 4.5 0 1 0 -25.8 0zM166.7 63.4a8.3 2.9 0 1 0 16.7 0a8.3 2.9 0 1 0 -16.7 0z" fill="url(#ga180)" fill-rule="evenodd"/><linearGradient id="ga181" x2=".5" spreadMethod="reflect"><stop stop-color="#f9d82d"/><stop offset=".6" stop-color="#f9d932"/><stop offset="1" stop-color="#f9da38"/></linearGradient><path d="M162.2 62.8a12.8 4.5 0 1 0 25.6 0a12.8 4.5 0 1 0 -25.6 0zM166.6 62.8a8.4 2.9 0 1 0 16.8 0a8.4 2.9 0 1 0 -16.8 0z" fill="url(#ga181)" fill-rule="evenodd"/><linearGradient id="ga182" x2=".5" spreadMethod="reflect"><stop stop-color="#f8da2c"/><stop offset=".6" stop-color="#f8db31"/><stop offset="1" stop-color="#f8dc36"/></linearGradient><path d="M162.3 62.2a12.7 4.5 0 1 0 25.4 0a12.7 4.5 0 1 0 -25.4 0zM166.6 62.2a8.4 3 0 1 0 16.9 0a8.4 3 0 1 0 -16.9 0z" fill="url(#ga182)" fill-rule="evenodd"/><linearGradient id="ga183" x2=".5" spreadMethod="reflect"><stop stop-color="#f7dc2b"/><stop offset=".6" stop-color="#f7dd2f"/><stop offset="1" stop-color="#f7de35"/></linearGradient><path d="M162.4 61.7a12.6 4.4 0 1 0 25.3 0a12.6 4.4 0 1 0 -25.3 0zM166.5 61.7a8.5 3 0 1 0 17 0a8.5 3 0 1 0 -17 0z" fill="url(#ga183)" fill-rule="evenodd"/><linearGradient id="ga184" x2=".5" spreadMethod="reflect"><stop stop-color="#f6de2a"/><stop offset=".6" stop-color="#f6df2e"/><stop offset="1" stop-color="#f7e033"/></linearGradient><path d="M162.5 61.1a12.5 4.4 0 1 0 25.1 0a12.5 4.4 0 1 0 -25.1 0zM166.5 61.1a8.5 3 0 1 0 17.1 0a8.5 3 0 1 0 -17.1 0z" fill="url(#ga184)" fill-rule="evenodd"/><linearGradient id="ga185" x2=".5" spreadMethod="reflect"><stop stop-color="#f6e029"/><stop offset=".6" stop-color="#f6e12d"/><stop offset="1" stop-color="#f6e132"/></linearGradient><path d="M162.6 60.6a12.4 4.4 0 1 0 24.9 0a12.4 4.4 0 1 0 -24.9 0zM166.4 60.6a8.6 3 0 1 0 17.2 0a8.6 3 0 1 0 -17.2 0z" fill="url(#ga185)" fill-rule="evenodd"/><linearGradient id="ga186" x2=".5" spreadMethod="reflect"><stop stop-color="#f5e228"/><stop offset=".6" stop-color="#f5e32c"/><stop offset="1" stop-color="#f6e330"/></linearGradient><path d="M162.6 60a12.4 4.3 0 1 0 24.7 0a12.4 4.3 0 1 0 -24.7 0zM166.4 60a8.6 3 0 1 0 17.3 0a8.6 3 0 1 0 -17.3 0z" fill="url(#ga186)" fill-rule="evenodd"/><linearGradient id="ga187" x2=".5" spreadMethod="reflect"><stop stop-color="#f5e428"/><stop offset=".6" stop-color="#f5e52b"/><stop offset="1" stop-color="#f5e52f"/></linearGradient><path d="M162.7 59.5a12.3 4.3 0 1 0 24.5 0a12.3 4.3 0 1 0 -24.5 0zM166.3 59.5a8.7 3 0 1 0 17.4 0a8.7 3 0 1 0 -17.4 0z" fill="url(#ga187)" fill-rule="evenodd"/><linearGradient id="ga188" x2=".5" spreadMethod="reflect"><stop stop-color="#f5e627"/><stop offset=".6" stop-color="#f5e629"/><stop offset="1" stop-color="#f5e72d"/></linearGradient><path d="M162.8 58.9a12.2 4.3 0 1 0 24.3 0a12.2 4.3 0 1 0 -24.3 0zM166.3 58.9a8.7 3.1 0 1 0 17.5 0a8.7 3.1 0 1 0 -17.5 0z" fill="url(#ga188)" fill-rule="evenodd"/><linearGradient id="ga189" x2=".5" spreadMethod="reflect"><stop stop-color="#f5e826"/><stop offset=".6" stop-color="#f5e828"/><stop offset="1" stop-color="#f5e92c"/></linearGradient><path d="M162.9 58.3a12.1 4.2 0 1 0 24.1 0a12.1 4.2 0 1 0 -24.1 0zM166.2 58.3a8.8 3.1 0 1 0 17.6 0a8.8 3.1 0 1 0 -17.6 0z" fill="url(#ga189)" fill-rule="evenodd"/><linearGradient id="ga190" x2=".5" spreadMethod="reflect"><stop stop-color="#f5ea24"/><stop offset=".6" stop-color="#f5ea27"/><stop offset="1" stop-color="#f5ea2a"/></linearGradient><path d="M163.1 57.8a11.9 4.2 0 1 0 23.9 0a11.9 4.2 0 1 0 -23.9 0zM166.1 57.8a8.9 3.1 0 1 0 17.7 0a8.9 3.1 0 1 0 -17.7 0z" fill="url(#ga190)" fill-rule="evenodd"/><linearGradient id="ga191" x2=".5" spreadMethod="reflect"><stop stop-color="#f5ec23"/><stop offset=".6" stop-color="#f5ec25"/><stop offset="1" stop-color="#f5ec28"/></linearGradient><path d="M163.2 57.2a11.8 4.1 0 1 0 23.7 0a11.8 4.1 0 1 0 -23.7 0zM166.1 57.2a8.9 3.1 0 1 0 17.8 0a8.9 3.1 0 1 0 -17.8 0z" fill="url(#ga191)" fill-rule="evenodd"/><linearGradient id="ga192" x2=".5" spreadMethod="reflect"><stop stop-color="#f5ee22"/><stop offset=".6" stop-color="#f5ee24"/><stop offset="1" stop-color="#f6ee26"/></linearGradient><path d="M163.3 56.7a11.7 4.1 0 1 0 23.4 0a11.7 4.1 0 1 0 -23.4 0zM166 56.7a9 3.2 0 1 0 18 0a9 3.2 0 1 0 -18 0z" fill="url(#ga192)" fill-rule="evenodd"/><linearGradient id="ga193" x2=".5" spreadMethod="reflect"><stop stop-color="#f6f020"/><stop offset=".6" stop-color="#f6f022"/><stop offset="1" stop-color="#f6f024"/></linearGradient><path d="M163.4 56.1a11.6 4.1 0 1 0 23.2 0a11.6 4.1 0 1 0 -23.2 0zM165.9 56.1a9.1 3.2 0 1 0 18.1 0a9.1 3.2 0 1 0 -18.1 0z" fill="url(#ga193)" fill-rule="evenodd"/><linearGradient id="ga194" x2=".5" spreadMethod="reflect"><stop stop-color="#f6f11f"/><stop offset=".6" stop-color="#f6f220"/><stop offset="1" stop-color="#f6f222"/></linearGradient><path d="M163.6 55.6a11.4 4 0 1 0 22.9 0a11.4 4 0 1 0 -22.9 0zM165.9 55.6a9.1 3.2 0 1 0 18.3 0a9.1 3.2 0 1 0 -18.3 0z" fill="url(#ga194)" fill-rule="evenodd"/><linearGradient id="ga195" x2=".5" spreadMethod="reflect"><stop stop-color="#f7f31d"/><stop offset=".6" stop-color="#f7f31e"/><stop offset="1" stop-color="#f7f31f"/></linearGradient><path d="M163.7 55a11.3 4 0 1 0 22.6 0a11.3 4 0 1 0 -22.6 0zM165.8 55a9.2 3.2 0 1 0 18.4 0a9.2 3.2 0 1 0 -18.4 0z" fill="url(#ga195)" fill-rule="evenodd"/><linearGradient id="ga196" x2=".5" spreadMethod="reflect"><stop stop-color="#f7f51b"/><stop offset=".6" stop-color="#f7f51c"/><stop offset="1" stop-color="#f7f51d"/></linearGradient><path d="M163.9 54.4a11.1 3.9 0 1 0 22.2 0a11.1 3.9 0 1 0 -22.2 0zM165.7 54.4a9.3 3.3 0 1 0 18.6 0a9.3 3.3 0 1 0 -18.6 0z" fill="url(#ga196)" fill-rule="evenodd"/><linearGradient id="ga197" x2=".5" spreadMethod="reflect"><stop stop-color="#f8f719"/><stop offset=".6" stop-color="#f8f71a"/><stop offset="1" stop-color="#f8f71a"/></linearGradient><path d="M164.1 53.9a10.9 3.8 0 1 0 21.8 0a10.9 3.8 0 1 0 -21.8 0zM165.6 53.9a9.4 3.3 0 1 0 18.9 0a9.4 3.3 0 1 0 -18.9 0z" fill="url(#ga197)" fill-rule="evenodd"/><linearGradient id="ga198" x2=".5" spreadMethod="reflect"><stop stop-color="#f8f917"/><stop offset=".6" stop-color="#f8f917"/><stop offset="1" stop-color="#f8f918"/></linearGradient><path d="M164.4 53.3a10.6 3.7 0 1 0 21.3 0a10.6 3.7 0 1 0 -21.3 0zM165.4 53.3a9.6 3.4 0 1 0 19.2 0a9.6 3.4 0 1 0 -19.2 0z" fill="url(#ga198)" fill-rule="evenodd"/><linearGradient id="ga199" x2=".5" spreadMethod="reflect"><stop stop-color="#f9fb15"/><stop offset=".6" stop-color="#f9fb15"/><stop offset="1" stop-color="#f9fb15"/></linearGradient><path d="M164.8 52.8a10.2 3.6 0 1 0 20.3 0a10.2 3.6 0 1 0 -20.3 0zM165.2 52.8a9.8 3.5 0 1 0 19.7 0a9.8 3.5 0 1 0 -19.7 0z" fill="url(#ga199)" fill-rule="evenodd"/></g><g><polyline points="472,165 620.1,125.4 733.3,177.4" fill="none" stroke="#ececec" stroke-width="1.1"/><polyline points="472,148.7 620.1,109.1 733.3,161.1" fill="none" stroke="#ececec" stroke-width="1.1"/><polyline points="472,132.4 620.1,92.8 733.3,144.8" fill="none" stroke="#ececec" stroke-width="1.1"/><polyline points="472,116.2 620.1,76.6 733.3,128.6" fill="none" stroke="#ececec" stroke-width="1.1"/><polyline points="472,99.9 620.1,60.3 733.3,112.3" fill="none" stroke="#ececec" stroke-width="1.1"/><polyline points="472,83.6 620.1,44 733.3,96" fill="none" stroke="#ececec" stroke-width="1.1"/><polyline points="472,67.3 620.1,27.7 733.3,79.7" fill="none" stroke="#ececec" stroke-width="1.1"/><line x1="546.1" y1="145.2" x2="546.1" y2="31.2" stroke="#ececec" stroke-width="1.1"/><line x1="620.1" y1="125.4" x2="620.1" y2="11.4" stroke="#ececec" stroke-width="1.1"/><line x1="676.7" y1="151.4" x2="676.7" y2="37.4" stroke="#ececec" stroke-width="1.1"/><line x1="733.3" y1="177.4" x2="733.3" y2="63.4" stroke="#ececec" stroke-width="1.1"/><line x1="472" y1="165" x2="472" y2="51" stroke="#c4c4c4" stroke-width="1.4"/><line x1="472" y1="165" x2="468.9" y2="163.5" stroke="#555" stroke-width="0.6"/><line x1="472" y1="148.7" x2="468.9" y2="147.3" stroke="#555" stroke-width="0.6"/><line x1="472" y1="132.4" x2="468.9" y2="131" stroke="#555" stroke-width="0.6"/><line x1="472" y1="116.2" x2="468.9" y2="114.7" stroke="#555" stroke-width="0.6"/><line x1="472" y1="99.9" x2="468.9" y2="98.4" stroke="#555" stroke-width="0.6"/><line x1="472" y1="83.6" x2="468.9" y2="82.1" stroke="#555" stroke-width="0.6"/><line x1="472" y1="67.3" x2="468.9" y2="65.9" stroke="#555" stroke-width="0.6"/><line x1="585.2" y1="217" x2="581.5" y2="218" stroke="#555" stroke-width="0.6"/><line x1="528.6" y1="191" x2="525" y2="192" stroke="#555" stroke-width="0.6"/><line x1="472" y1="165" x2="468.4" y2="166" stroke="#555" stroke-width="0.6"/><line x1="585.2" y1="217" x2="588.7" y2="218.6" stroke="#555" stroke-width="0.6"/><line x1="659.2" y1="197.2" x2="662.7" y2="198.8" stroke="#555" stroke-width="0.6"/><line x1="733.3" y1="177.4" x2="736.8" y2="179" stroke="#555" stroke-width="0.6"/><polygon points="472,165 585.2,217 733.3,177.4 620.1,125.4" fill="#3d25b0"/><linearGradient id="gb0" x2=".5" spreadMethod="reflect"><stop stop-color="#422db3"/><stop offset=".6" stop-color="#4d38b7"/><stop offset="1" stop-color="#5946bc"/></linearGradient><path d="M563.7 163.9a33.7 11.8 0 1 0 67.5 0a33.7 11.8 0 1 0 -67.5 0zM597.1 163.9a0.3 0.1 0 1 0 0.6 0a0.3 0.1 0 1 0 -0.6 0z" fill="url(#gb0)" fill-rule="evenodd"/><linearGradient id="gb1" x2=".5" spreadMethod="reflect"><stop stop-color="#442fb7"/><stop offset=".6" stop-color="#523ebc"/><stop offset="1" stop-color="#6250c2"/></linearGradient><path d="M564.5 163.4a32.9 11.5 0 1 0 65.8 0a32.9 11.5 0 1 0 -65.8 0zM596.6 163.4a0.8 0.3 0 1 0 1.6 0a0.8 0.3 0 1 0 -1.6 0z" fill="url(#gb1)" fill-rule="evenodd"/><linearGradient id="gb2" x2=".5" spreadMethod="reflect"><stop stop-color="#4631bb"/><stop offset=".6" stop-color="#5644c1"/><stop offset="1" stop-color="#6a5ac8"/></linearGradient><path d="M565.2 162.9a32.2 11.3 0 1 0 64.4 0a32.2 11.3 0 1 0 -64.4 0zM596.3 162.9a1.1 0.4 0 1 0 2.3 0a1.1 0.4 0 1 0 -2.3 0z" fill="url(#gb2)" fill-rule="evenodd"/><linearGradient id="gb3" x2=".5" spreadMethod="reflect"><stop stop-color="#4733be"/><stop offset=".6" stop-color="#5a49c5"/><stop offset="1" stop-color="#7162cd"/></linearGradient><path d="M565.7 162.4a31.7 11.1 0 1 0 63.4 0a31.7 11.1 0 1 0 -63.4 0zM596 162.4a1.4 0.5 0 1 0 2.9 0a1.4 0.5 0 1 0 -2.9 0z" fill="url(#gb3)" fill-rule="evenodd"/><linearGradient id="gb4" x2=".5" spreadMethod="reflect"><stop stop-color="#4836c2"/><stop offset=".6" stop-color="#5e4dc9"/><stop offset="1" stop-color="#786ad2"/></linearGradient><path d="M566.2 161.9a31.2 10.9 0 1 0 62.4 0a31.2 10.9 0 1 0 -62.4 0zM595.7 161.9a1.7 0.6 0 1 0 3.4 0a1.7 0.6 0 1 0 -3.4 0z" fill="url(#gb4)" fill-rule="evenodd"/><linearGradient id="gb5" x2=".5" spreadMethod="reflect"><stop stop-color="#4937c5"/><stop offset=".6" stop-color="#6151cd"/><stop offset="1" stop-color="#7d70d6"/></linearGradient><path d="M566.6 161.5a30.8 10.8 0 1 0 61.6 0a30.8 10.8 0 1 0 -61.6 0zM595.5 161.5a1.9 0.7 0 1 0 3.8 0a1.9 0.7 0 1 0 -3.8 0z" fill="url(#gb5)" fill-rule="evenodd"/><linearGradient id="gb6" x2=".5" spreadMethod="reflect"><stop stop-color="#4a39c9"/><stop offset=".6" stop-color="#6355d0"/><stop offset="1" stop-color="#8276da"/></linearGradient><path d="M566.9 161a30.5 10.7 0 1 0 60.9 0a30.5 10.7 0 1 0 -60.9 0zM595.3 161a2.1 0.7 0 1 0 4.2 0a2.1 0.7 0 1 0 -4.2 0z" fill="url(#gb6)" fill-rule="evenodd"/><linearGradient id="gb7" x2=".5" spreadMethod="reflect"><stop stop-color="#4b3bcc"/><stop offset=".6" stop-color="#6658d4"/><stop offset="1" stop-color="#867bdd"/></linearGradient><path d="M567.3 160.5a30.1 10.6 0 1 0 60.2 0a30.1 10.6 0 1 0 -60.2 0zM595.1 160.5a2.3 0.8 0 1 0 4.6 0a2.3 0.8 0 1 0 -4.6 0z" fill="url(#gb7)" fill-rule="evenodd"/><linearGradient id="gb8" x2=".5" spreadMethod="reflect"><stop stop-color="#4c3dd0"/><stop offset=".6" stop-color="#685bd7"/><stop offset="1" stop-color="#8a80e0"/></linearGradient><path d="M567.6 160a29.8 10.5 0 1 0 59.7 0a29.8 10.5 0 1 0 -59.7 0zM594.9 160a2.5 0.9 0 1 0 4.9 0a2.5 0.9 0 1 0 -4.9 0z" fill="url(#gb8)" fill-rule="evenodd"/><linearGradient id="gb9" x2=".5" spreadMethod="reflect"><stop stop-color="#4d3ed3"/><stop offset=".6" stop-color="#6a5eda"/><stop offset="1" stop-color="#8d84e3"/></linearGradient><path d="M567.8 159.6a29.6 10.4 0 1 0 59.1 0a29.6 10.4 0 1 0 -59.1 0zM594.8 159.6a2.6 0.9 0 1 0 5.2 0a2.6 0.9 0 1 0 -5.2 0z" fill="url(#gb9)" fill-rule="evenodd"/><linearGradient id="gb10" x2=".5" spreadMethod="reflect"><stop stop-color="#4e40d6"/><stop offset=".6" stop-color="#6c60dd"/><stop offset="1" stop-color="#9088e5"/></linearGradient><path d="M568.1 159.1a29.3 10.3 0 1 0 58.6 0a29.3 10.3 0 1 0 -58.6 0zM594.6 159.1a2.8 1 0 1 0 5.5 0a2.8 1 0 1 0 -5.5 0z" fill="url(#gb10)" fill-rule="evenodd"/><linearGradient id="gb11" x2=".5" spreadMethod="reflect"><stop stop-color="#4f42d9"/><stop offset=".6" stop-color="#6d63e0"/><stop offset="1" stop-color="#938be8"/></linearGradient><path d="M568.3 158.6a29.1 10.2 0 1 0 58.1 0a29.1 10.2 0 1 0 -58.1 0zM594.5 158.6a2.9 1 0 1 0 5.8 0a2.9 1 0 1 0 -5.8 0z" fill="url(#gb11)" fill-rule="evenodd"/><linearGradient id="gb12" x2=".5" spreadMethod="reflect"><stop stop-color="#4f43dc"/><stop offset=".6" stop-color="#6f65e2"/><stop offset="1" stop-color="#958eea"/></linearGradient><path d="M568.6 158.1a28.8 10.1 0 1 0 57.7 0a28.8 10.1 0 1 0 -57.7 0zM594.4 158.1a3 1.1 0 1 0 6 0a3 1.1 0 1 0 -6 0z" fill="url(#gb12)" fill-rule="evenodd"/><linearGradient id="gb13" x2=".5" spreadMethod="reflect"><stop stop-color="#5045de"/><stop offset=".6" stop-color="#7067e4"/><stop offset="1" stop-color="#9791ec"/></linearGradient><path d="M568.8 157.7a28.6 10 0 1 0 57.2 0a28.6 10 0 1 0 -57.2 0zM594.3 157.7a3.1 1.1 0 1 0 6.3 0a3.1 1.1 0 1 0 -6.3 0z" fill="url(#gb13)" fill-rule="evenodd"/><linearGradient id="gb14" x2=".5" spreadMethod="reflect"><stop stop-color="#5047e1"/><stop offset=".6" stop-color="#7169e6"/><stop offset="1" stop-color="#9993ed"/></linearGradient><path d="M569 157.2a28.4 10 0 1 0 56.8 0a28.4 10 0 1 0 -56.8 0zM594.2 157.2a3.2 1.1 0 1 0 6.5 0a3.2 1.1 0 1 0 -6.5 0z" fill="url(#gb14)" fill-rule="evenodd"/><linearGradient id="gb15" x2=".5" spreadMethod="reflect"><stop stop-color="#5149e3"/><stop offset=".6" stop-color="#726be8"/><stop offset="1" stop-color="#9a95ef"/></linearGradient><path d="M569.2 156.7a28.2 9.9 0 1 0 56.4 0a28.2 9.9 0 1 0 -56.4 0zM594.1 156.7a3.3 1.2 0 1 0 6.7 0a3.3 1.2 0 1 0 -6.7 0z" fill="url(#gb15)" fill-rule="evenodd"/><linearGradient id="gb16" x2=".5" spreadMethod="reflect"><stop stop-color="#514ae5"/><stop offset=".6" stop-color="#726dea"/><stop offset="1" stop-color="#9b97f0"/></linearGradient><path d="M569.4 156.2a28 9.8 0 1 0 56.1 0a28 9.8 0 1 0 -56.1 0zM594 156.2a3.4 1.2 0 1 0 6.9 0a3.4 1.2 0 1 0 -6.9 0z" fill="url(#gb16)" fill-rule="evenodd"/><linearGradient id="gb17" x2=".5" spreadMethod="reflect"><stop stop-color="#514ce7"/><stop offset=".6" stop-color="#736fec"/><stop offset="1" stop-color="#9c99f1"/></linearGradient><path d="M569.5 155.8a27.9 9.8 0 1 0 55.7 0a27.9 9.8 0 1 0 -55.7 0zM593.9 155.8a3.5 1.2 0 1 0 7.1 0a3.5 1.2 0 1 0 -7.1 0z" fill="url(#gb17)" fill-rule="evenodd"/><linearGradient id="gb18" x2=".5" spreadMethod="reflect"><stop stop-color="#514ee9"/><stop offset=".6" stop-color="#7371ed"/><stop offset="1" stop-color="#9d9bf2"/></linearGradient><path d="M569.7 155.3a27.7 9.7 0 1 0 55.4 0a27.7 9.7 0 1 0 -55.4 0zM593.8 155.3a3.6 1.3 0 1 0 7.3 0a3.6 1.3 0 1 0 -7.3 0z" fill="url(#gb18)" fill-rule="evenodd"/><linearGradient id="gb19" x2=".5" spreadMethod="reflect"><stop stop-color="#5250eb"/><stop offset=".6" stop-color="#7472ef"/><stop offset="1" stop-color="#9e9cf4"/></linearGradient><path d="M569.9 154.8a27.5 9.7 0 1 0 55.1 0a27.5 9.7 0 1 0 -55.1 0zM593.7 154.8a3.7 1.3 0 1 0 7.4 0a3.7 1.3 0 1 0 -7.4 0z" fill="url(#gb19)" fill-rule="evenodd"/><linearGradient id="gb20" x2=".5" spreadMethod="reflect"><stop stop-color="#5251ec"/><stop offset=".6" stop-color="#7474f0"/><stop offset="1" stop-color="#9e9ef5"/></linearGradient><path d="M570 154.3a27.4 9.6 0 1 0 54.7 0a27.4 9.6 0 1 0 -54.7 0zM593.6 154.3a3.8 1.3 0 1 0 7.6 0a3.8 1.3 0 1 0 -7.6 0z" fill="url(#gb20)" fill-rule="evenodd"/><linearGradient id="gb21" x2=".5" spreadMethod="reflect"><stop stop-color="#5253ee"/><stop offset=".6" stop-color="#7475f1"/><stop offset="1" stop-color="#9e9ff5"/></linearGradient><path d="M570.2 153.9a27.2 9.5 0 1 0 54.4 0a27.2 9.5 0 1 0 -54.4 0zM593.5 153.9a3.9 1.4 0 1 0 7.8 0a3.9 1.4 0 1 0 -7.8 0z" fill="url(#gb21)" fill-rule="evenodd"/><linearGradient id="gb22" x2=".5" spreadMethod="reflect"><stop stop-color="#5255ef"/><stop offset=".6" stop-color="#7577f2"/><stop offset="1" stop-color="#9fa0f6"/></linearGradient><path d="M570.3 153.4a27.1 9.5 0 1 0 54.1 0a27.1 9.5 0 1 0 -54.1 0zM593.4 153.4a4 1.4 0 1 0 7.9 0a4 1.4 0 1 0 -7.9 0z" fill="url(#gb22)" fill-rule="evenodd"/><linearGradient id="gb23" x2=".5" spreadMethod="reflect"><stop stop-color="#5257f1"/><stop offset=".6" stop-color="#7578f4"/><stop offset="1" stop-color="#9fa1f7"/></linearGradient><path d="M570.5 152.9a26.9 9.4 0 1 0 53.9 0a26.9 9.4 0 1 0 -53.9 0zM593.3 152.9a4.1 1.4 0 1 0 8.1 0a4.1 1.4 0 1 0 -8.1 0z" fill="url(#gb23)" fill-rule="evenodd"/><linearGradient id="gb24" x2=".5" spreadMethod="reflect"><stop stop-color="#5258f2"/><stop offset=".6" stop-color="#757af5"/><stop offset="1" stop-color="#9fa2f8"/></linearGradient><path d="M570.6 152.4a26.8 9.4 0 1 0 53.6 0a26.8 9.4 0 1 0 -53.6 0zM593.3 152.4a4.1 1.4 0 1 0 8.3 0a4.1 1.4 0 1 0 -8.3 0z" fill="url(#gb24)" fill-rule="evenodd"/><linearGradient id="gb25" x2=".5" spreadMethod="reflect"><stop stop-color="#525af3"/><stop offset=".6" stop-color="#757bf6"/><stop offset="1" stop-color="#9fa3f8"/></linearGradient><path d="M570.7 152a26.7 9.3 0 1 0 53.3 0a26.7 9.3 0 1 0 -53.3 0zM593.2 152a4.2 1.5 0 1 0 8.4 0a4.2 1.5 0 1 0 -8.4 0z" fill="url(#gb25)" fill-rule="evenodd"/><linearGradient id="gb26" x2=".5" spreadMethod="reflect"><stop stop-color="#525cf4"/><stop offset=".6" stop-color="#757cf7"/><stop offset="1" stop-color="#9fa4f9"/></linearGradient><path d="M570.9 151.5a26.5 9.3 0 1 0 53.1 0a26.5 9.3 0 1 0 -53.1 0zM593.1 151.5a4.3 1.5 0 1 0 8.5 0a4.3 1.5 0 1 0 -8.5 0z" fill="url(#gb26)" fill-rule="evenodd"/><linearGradient id="gb27" x2=".5" spreadMethod="reflect"><stop stop-color="#525df6"/><stop offset=".6" stop-color="#757ef7"/><stop offset="1" stop-color="#9fa5fa"/></linearGradient><path d="M571 151a26.4 9.3 0 1 0 52.8 0a26.4 9.3 0 1 0 -52.8 0zM593.1 151a4.3 1.5 0 1 0 8.7 0a4.3 1.5 0 1 0 -8.7 0z" fill="url(#gb27)" fill-rule="evenodd"/><linearGradient id="gb28" x2=".5" spreadMethod="reflect"><stop stop-color="#525ff7"/><stop offset=".6" stop-color="#747ff8"/><stop offset="1" stop-color="#9fa6fa"/></linearGradient><path d="M571.1 150.5a26.3 9.2 0 1 0 52.6 0a26.3 9.2 0 1 0 -52.6 0zM593 150.5a4.4 1.5 0 1 0 8.8 0a4.4 1.5 0 1 0 -8.8 0z" fill="url(#gb28)" fill-rule="evenodd"/><linearGradient id="gb29" x2=".5" spreadMethod="reflect"><stop stop-color="#5260f8"/><stop offset=".6" stop-color="#7480f9"/><stop offset="1" stop-color="#9ea7fb"/></linearGradient><path d="M571.2 150.1a26.2 9.2 0 1 0 52.3 0a26.2 9.2 0 1 0 -52.3 0zM592.9 150.1a4.5 1.6 0 1 0 9 0a4.5 1.6 0 1 0 -9 0z" fill="url(#gb29)" fill-rule="evenodd"/><linearGradient id="gb30" x2=".5" spreadMethod="reflect"><stop stop-color="#5262f9"/><stop offset=".6" stop-color="#7481fa"/><stop offset="1" stop-color="#9ea7fb"/></linearGradient><path d="M571.4 149.6a26 9.1 0 1 0 52.1 0a26 9.1 0 1 0 -52.1 0zM592.9 149.6a4.5 1.6 0 1 0 9.1 0a4.5 1.6 0 1 0 -9.1 0z" fill="url(#gb30)" fill-rule="evenodd"/><linearGradient id="gb31" x2=".5" spreadMethod="reflect"><stop stop-color="#5164f9"/><stop offset=".6" stop-color="#7482fb"/><stop offset="1" stop-color="#9ea8fc"/></linearGradient><path d="M571.5 149.1a25.9 9.1 0 1 0 51.8 0a25.9 9.1 0 1 0 -51.8 0zM592.8 149.1a4.6 1.6 0 1 0 9.2 0a4.6 1.6 0 1 0 -9.2 0z" fill="url(#gb31)" fill-rule="evenodd"/><linearGradient id="gb32" x2=".5" spreadMethod="reflect"><stop stop-color="#5165fa"/><stop offset=".6" stop-color="#7384fb"/><stop offset="1" stop-color="#9da9fc"/></linearGradient><path d="M571.6 148.6a25.8 9.1 0 1 0 51.6 0a25.8 9.1 0 1 0 -51.6 0zM592.7 148.6a4.7 1.6 0 1 0 9.3 0a4.7 1.6 0 1 0 -9.3 0z" fill="url(#gb32)" fill-rule="evenodd"/><linearGradient id="gb33" x2=".5" spreadMethod="reflect"><stop stop-color="#5167fb"/><stop offset=".6" stop-color="#7385fc"/><stop offset="1" stop-color="#9da9fd"/></linearGradient><path d="M571.7 148.2a25.7 9 0 1 0 51.4 0a25.7 9 0 1 0 -51.4 0zM592.7 148.2a4.7 1.7 0 1 0 9.5 0a4.7 1.7 0 1 0 -9.5 0z" fill="url(#gb33)" fill-rule="evenodd"/><linearGradient id="gb34" x2=".5" spreadMethod="reflect"><stop stop-color="#5069fc"/><stop offset=".6" stop-color="#7286fc"/><stop offset="1" stop-color="#9caafd"/></linearGradient><path d="M571.8 147.7a25.6 9 0 1 0 51.2 0a25.6 9 0 1 0 -51.2 0zM592.6 147.7a4.8 1.7 0 1 0 9.6 0a4.8 1.7 0 1 0 -9.6 0z" fill="url(#gb34)" fill-rule="evenodd"/><linearGradient id="gb35" x2=".5" spreadMethod="reflect"><stop stop-color="#506afc"/><stop offset=".6" stop-color="#7287fd"/><stop offset="1" stop-color="#9cabfd"/></linearGradient><path d="M571.9 147.2a25.5 8.9 0 1 0 51 0a25.5 8.9 0 1 0 -51 0zM592.6 147.2a4.8 1.7 0 1 0 9.7 0a4.8 1.7 0 1 0 -9.7 0z" fill="url(#gb35)" fill-rule="evenodd"/><linearGradient id="gb36" x2=".5" spreadMethod="reflect"><stop stop-color="#4f6cfd"/><stop offset=".6" stop-color="#7188fd"/><stop offset="1" stop-color="#9babfe"/></linearGradient><path d="M572 146.7a25.4 8.9 0 1 0 50.8 0a25.4 8.9 0 1 0 -50.8 0zM592.5 146.7a4.9 1.7 0 1 0 9.8 0a4.9 1.7 0 1 0 -9.8 0z" fill="url(#gb36)" fill-rule="evenodd"/><linearGradient id="gb37" x2=".5" spreadMethod="reflect"><stop stop-color="#4e6efd"/><stop offset=".6" stop-color="#708afd"/><stop offset="1" stop-color="#9aacfe"/></linearGradient><path d="M572.1 146.3a25.3 8.9 0 1 0 50.5 0a25.3 8.9 0 1 0 -50.5 0zM592.4 146.3a5 1.7 0 1 0 9.9 0a5 1.7 0 1 0 -9.9 0z" fill="url(#gb37)" fill-rule="evenodd"/><linearGradient id="gb38" x2=".5" spreadMethod="reflect"><stop stop-color="#4e6ffd"/><stop offset=".6" stop-color="#708bfe"/><stop offset="1" stop-color="#99adfe"/></linearGradient><path d="M572.2 145.8a25.2 8.8 0 1 0 50.3 0a25.2 8.8 0 1 0 -50.3 0zM592.4 145.8a5 1.8 0 1 0 10 0a5 1.8 0 1 0 -10 0z" fill="url(#gb38)" fill-rule="evenodd"/><linearGradient id="gb39" x2=".5" spreadMethod="reflect"><stop stop-color="#4d71fe"/><stop offset=".6" stop-color="#6f8cfe"/><stop offset="1" stop-color="#98adfe"/></linearGradient><path d="M572.3 145.3a25.1 8.8 0 1 0 50.1 0a25.1 8.8 0 1 0 -50.1 0zM592.3 145.3a5.1 1.8 0 1 0 10.1 0a5.1 1.8 0 1 0 -10.1 0z" fill="url(#gb39)" fill-rule="evenodd"/><linearGradient id="gb40" x2=".5" spreadMethod="reflect"><stop stop-color="#4c73fe"/><stop offset=".6" stop-color="#6e8dfe"/><stop offset="1" stop-color="#97aefe"/></linearGradient><path d="M572.4 144.8a25 8.8 0 1 0 50 0a25 8.8 0 1 0 -50 0zM592.3 144.8a5.1 1.8 0 1 0 10.3 0a5.1 1.8 0 1 0 -10.3 0z" fill="url(#gb40)" fill-rule="evenodd"/><linearGradient id="gb41" x2=".5" spreadMethod="reflect"><stop stop-color="#4a75fe"/><stop offset=".6" stop-color="#6c8ffe"/><stop offset="1" stop-color="#96afff"/></linearGradient><path d="M572.5 144.4a24.9 8.7 0 1 0 49.8 0a24.9 8.7 0 1 0 -49.8 0zM592.2 144.4a5.2 1.8 0 1 0 10.4 0a5.2 1.8 0 1 0 -10.4 0z" fill="url(#gb41)" fill-rule="evenodd"/><linearGradient id="gb42" x2=".5" spreadMethod="reflect"><stop stop-color="#4976ff"/><stop offset=".6" stop-color="#6b90ff"/><stop offset="1" stop-color="#95afff"/></linearGradient><path d="M572.6 143.9a24.8 8.7 0 1 0 49.6 0a24.8 8.7 0 1 0 -49.6 0zM592.2 143.9a5.2 1.8 0 1 0 10.5 0a5.2 1.8 0 1 0 -10.5 0z" fill="url(#gb42)" fill-rule="evenodd"/><linearGradient id="gb43" x2=".5" spreadMethod="reflect"><stop stop-color="#4778ff"/><stop offset=".6" stop-color="#6a91ff"/><stop offset="1" stop-color="#94b0ff"/></linearGradient><path d="M572.7 143.4a24.7 8.7 0 1 0 49.4 0a24.7 8.7 0 1 0 -49.4 0zM592.1 143.4a5.3 1.9 0 1 0 10.6 0a5.3 1.9 0 1 0 -10.6 0z" fill="url(#gb43)" fill-rule="evenodd"/><linearGradient id="gb44" x2=".5" spreadMethod="reflect"><stop stop-color="#467aff"/><stop offset=".6" stop-color="#6893ff"/><stop offset="1" stop-color="#92b1ff"/></linearGradient><path d="M572.8 142.9a24.6 8.6 0 1 0 49.2 0a24.6 8.6 0 1 0 -49.2 0zM592.1 142.9a5.3 1.9 0 1 0 10.7 0a5.3 1.9 0 1 0 -10.7 0z" fill="url(#gb44)" fill-rule="evenodd"/><linearGradient id="gb45" x2=".5" spreadMethod="reflect"><stop stop-color="#447cfe"/><stop offset=".6" stop-color="#6694ff"/><stop offset="1" stop-color="#91b1ff"/></linearGradient><path d="M572.9 142.5a24.5 8.6 0 1 0 49 0a24.5 8.6 0 1 0 -49 0zM592 142.5a5.4 1.9 0 1 0 10.8 0a5.4 1.9 0 1 0 -10.8 0z" fill="url(#gb45)" fill-rule="evenodd"/><linearGradient id="gb46" x2=".5" spreadMethod="reflect"><stop stop-color="#427dfe"/><stop offset=".6" stop-color="#6595fe"/><stop offset="1" stop-color="#8fb2fe"/></linearGradient><path d="M573 142a24.4 8.6 0 1 0 48.8 0a24.4 8.6 0 1 0 -48.8 0zM592 142a5.4 1.9 0 1 0 10.9 0a5.4 1.9 0 1 0 -10.9 0z" fill="url(#gb46)" fill-rule="evenodd"/><linearGradient id="gb47" x2=".5" spreadMethod="reflect"><stop stop-color="#407ffd"/><stop offset=".6" stop-color="#6396fe"/><stop offset="1" stop-color="#8db3fe"/></linearGradient><path d="M573.1 141.5a24.3 8.5 0 1 0 48.7 0a24.3 8.5 0 1 0 -48.7 0zM591.9 141.5a5.5 1.9 0 1 0 11 0a5.5 1.9 0 1 0 -11 0z" fill="url(#gb47)" fill-rule="evenodd"/><linearGradient id="gb48" x2=".5" spreadMethod="reflect"><stop stop-color="#3e81fd"/><stop offset=".6" stop-color="#6198fd"/><stop offset="1" stop-color="#8cb4fe"/></linearGradient><path d="M573.2 141a24.2 8.5 0 1 0 48.5 0a24.2 8.5 0 1 0 -48.5 0zM591.9 141a5.5 1.9 0 1 0 11.1 0a5.5 1.9 0 1 0 -11.1 0z" fill="url(#gb48)" fill-rule="evenodd"/><linearGradient id="gb49" x2=".5" spreadMethod="reflect"><stop stop-color="#3c83fc"/><stop offset=".6" stop-color="#5f99fd"/><stop offset="1" stop-color="#8ab4fd"/></linearGradient><path d="M573.2 140.6a24.2 8.5 0 1 0 48.3 0a24.2 8.5 0 1 0 -48.3 0zM591.8 140.6a5.6 2 0 1 0 11.2 0a5.6 2 0 1 0 -11.2 0z" fill="url(#gb49)" fill-rule="evenodd"/><linearGradient id="gb50" x2=".5" spreadMethod="reflect"><stop stop-color="#3b84fc"/><stop offset=".6" stop-color="#5e9afc"/><stop offset="1" stop-color="#89b5fd"/></linearGradient><path d="M573.3 140.1a24.1 8.4 0 1 0 48.1 0a24.1 8.4 0 1 0 -48.1 0zM591.8 140.1a5.6 2 0 1 0 11.2 0a5.6 2 0 1 0 -11.2 0z" fill="url(#gb50)" fill-rule="evenodd"/><linearGradient id="gb51" x2=".5" spreadMethod="reflect"><stop stop-color="#3a86fb"/><stop offset=".6" stop-color="#5d9cfc"/><stop offset="1" stop-color="#88b6fc"/></linearGradient><path d="M573.4 139.6a24 8.4 0 1 0 48 0a24 8.4 0 1 0 -48 0zM591.7 139.6a5.7 2 0 1 0 11.3 0a5.7 2 0 1 0 -11.3 0z" fill="url(#gb51)" fill-rule="evenodd"/><linearGradient id="gb52" x2=".5" spreadMethod="reflect"><stop stop-color="#3988fa"/><stop offset=".6" stop-color="#5c9dfb"/><stop offset="1" stop-color="#87b6fc"/></linearGradient><path d="M573.5 139.1a23.9 8.4 0 1 0 47.8 0a23.9 8.4 0 1 0 -47.8 0zM591.7 139.1a5.7 2 0 1 0 11.4 0a5.7 2 0 1 0 -11.4 0z" fill="url(#gb52)" fill-rule="evenodd"/><linearGradient id="gb53" x2=".5" spreadMethod="reflect"><stop stop-color="#3989f9"/><stop offset=".6" stop-color="#5c9efa"/><stop offset="1" stop-color="#86b7fb"/></linearGradient><path d="M573.6 138.7a23.8 8.4 0 1 0 47.7 0a23.8 8.4 0 1 0 -47.7 0zM591.6 138.7a5.8 2 0 1 0 11.5 0a5.8 2 0 1 0 -11.5 0z" fill="url(#gb53)" fill-rule="evenodd"/><linearGradient id="gb54" x2=".5" spreadMethod="reflect"><stop stop-color="#388bf8"/><stop offset=".6" stop-color="#5b9ff9"/><stop offset="1" stop-color="#85b8fb"/></linearGradient><path d="M573.7 138.2a23.7 8.3 0 1 0 47.5 0a23.7 8.3 0 1 0 -47.5 0zM591.6 138.2a5.8 2 0 1 0 11.6 0a5.8 2 0 1 0 -11.6 0z" fill="url(#gb54)" fill-rule="evenodd"/><linearGradient id="gb55" x2=".5" spreadMethod="reflect"><stop stop-color="#388df7"/><stop offset=".6" stop-color="#5aa0f9"/><stop offset="1" stop-color="#84b8fa"/></linearGradient><path d="M573.7 137.7a23.7 8.3 0 1 0 47.3 0a23.7 8.3 0 1 0 -47.3 0zM591.6 137.7a5.8 2.1 0 1 0 11.7 0a5.8 2.1 0 1 0 -11.7 0z" fill="url(#gb55)" fill-rule="evenodd"/><linearGradient id="gb56" x2=".5" spreadMethod="reflect"><stop stop-color="#388ef6"/><stop offset=".6" stop-color="#5aa1f8"/><stop offset="1" stop-color="#84b9fa"/></linearGradient><path d="M573.8 137.2a23.6 8.3 0 1 0 47.2 0a23.6 8.3 0 1 0 -47.2 0zM591.5 137.2a5.9 2.1 0 1 0 11.8 0a5.9 2.1 0 1 0 -11.8 0z" fill="url(#gb56)" fill-rule="evenodd"/><linearGradient id="gb57" x2=".5" spreadMethod="reflect"><stop stop-color="#3890f5"/><stop offset=".6" stop-color="#59a3f7"/><stop offset="1" stop-color="#83baf9"/></linearGradient><path d="M573.9 136.8a23.5 8.2 0 1 0 47 0a23.5 8.2 0 1 0 -47 0zM591.5 136.8a5.9 2.1 0 1 0 11.9 0a5.9 2.1 0 1 0 -11.9 0z" fill="url(#gb57)" fill-rule="evenodd"/><linearGradient id="gb58" x2=".5" spreadMethod="reflect"><stop stop-color="#3791f4"/><stop offset=".6" stop-color="#59a4f6"/><stop offset="1" stop-color="#82baf8"/></linearGradient><path d="M574 136.3a23.4 8.2 0 1 0 46.9 0a23.4 8.2 0 1 0 -46.9 0zM591.4 136.3a6 2.1 0 1 0 12 0a6 2.1 0 1 0 -12 0z" fill="url(#gb58)" fill-rule="evenodd"/><linearGradient id="gb59" x2=".5" spreadMethod="reflect"><stop stop-color="#3793f3"/><stop offset=".6" stop-color="#58a5f5"/><stop offset="1" stop-color="#81bbf7"/></linearGradient><path d="M574 135.8a23.4 8.2 0 1 0 46.7 0a23.4 8.2 0 1 0 -46.7 0zM591.4 135.8a6 2.1 0 1 0 12 0a6 2.1 0 1 0 -12 0z" fill="url(#gb59)" fill-rule="evenodd"/><linearGradient id="gb60" x2=".5" spreadMethod="reflect"><stop stop-color="#3694f1"/><stop offset=".6" stop-color="#58a6f4"/><stop offset="1" stop-color="#80bcf6"/></linearGradient><path d="M574.1 135.3a23.3 8.2 0 1 0 46.6 0a23.3 8.2 0 1 0 -46.6 0zM591.3 135.3a6.1 2.1 0 1 0 12.1 0a6.1 2.1 0 1 0 -12.1 0z" fill="url(#gb60)" fill-rule="evenodd"/><linearGradient id="gb61" x2=".5" spreadMethod="reflect"><stop stop-color="#3596f0"/><stop offset=".6" stop-color="#57a7f3"/><stop offset="1" stop-color="#7fbcf6"/></linearGradient><path d="M574.2 134.9a23.2 8.1 0 1 0 46.4 0a23.2 8.1 0 1 0 -46.4 0zM591.3 134.9a6.1 2.1 0 1 0 12.2 0a6.1 2.1 0 1 0 -12.2 0z" fill="url(#gb61)" fill-rule="evenodd"/><linearGradient id="gb62" x2=".5" spreadMethod="reflect"><stop stop-color="#3597ef"/><stop offset=".6" stop-color="#56a8f2"/><stop offset="1" stop-color="#7ebdf5"/></linearGradient><path d="M574.3 134.4a23.1 8.1 0 1 0 46.3 0a23.1 8.1 0 1 0 -46.3 0zM591.3 134.4a6.1 2.2 0 1 0 12.3 0a6.1 2.2 0 1 0 -12.3 0z" fill="url(#gb62)" fill-rule="evenodd"/><linearGradient id="gb63" x2=".5" spreadMethod="reflect"><stop stop-color="#3399ee"/><stop offset=".6" stop-color="#54a9f1"/><stop offset="1" stop-color="#7dbef4"/></linearGradient><path d="M574.3 133.9a23.1 8.1 0 1 0 46.1 0a23.1 8.1 0 1 0 -46.1 0zM591.2 133.9a6.2 2.2 0 1 0 12.4 0a6.2 2.2 0 1 0 -12.4 0z" fill="url(#gb63)" fill-rule="evenodd"/><linearGradient id="gb64" x2=".5" spreadMethod="reflect"><stop stop-color="#329aed"/><stop offset=".6" stop-color="#53aaf0"/><stop offset="1" stop-color="#7cbef3"/></linearGradient><path d="M574.4 133.4a23 8.1 0 1 0 46 0a23 8.1 0 1 0 -46 0zM591.2 133.4a6.2 2.2 0 1 0 12.5 0a6.2 2.2 0 1 0 -12.5 0z" fill="url(#gb64)" fill-rule="evenodd"/><linearGradient id="gb65" x2=".5" spreadMethod="reflect"><stop stop-color="#319cec"/><stop offset=".6" stop-color="#52acef"/><stop offset="1" stop-color="#7abff3"/></linearGradient><path d="M574.5 133a22.9 8 0 1 0 45.8 0a22.9 8 0 1 0 -45.8 0zM591.1 133a6.3 2.2 0 1 0 12.5 0a6.3 2.2 0 1 0 -12.5 0z" fill="url(#gb65)" fill-rule="evenodd"/><linearGradient id="gb66" x2=".5" spreadMethod="reflect"><stop stop-color="#309deb"/><stop offset=".6" stop-color="#51adee"/><stop offset="1" stop-color="#79c0f2"/></linearGradient><path d="M574.6 132.5a22.8 8 0 1 0 45.7 0a22.8 8 0 1 0 -45.7 0zM591.1 132.5a6.3 2.2 0 1 0 12.6 0a6.3 2.2 0 1 0 -12.6 0z" fill="url(#gb66)" fill-rule="evenodd"/><linearGradient id="gb67" x2=".5" spreadMethod="reflect"><stop stop-color="#309eea"/><stop offset=".6" stop-color="#50aeed"/><stop offset="1" stop-color="#78c0f1"/></linearGradient><path d="M574.6 132a22.8 8 0 1 0 45.5 0a22.8 8 0 1 0 -45.5 0zM591.1 132a6.3 2.2 0 1 0 12.7 0a6.3 2.2 0 1 0 -12.7 0z" fill="url(#gb67)" fill-rule="evenodd"/><linearGradient id="gb68" x2=".5" spreadMethod="reflect"><stop stop-color="#2fa0e9"/><stop offset=".6" stop-color="#50afec"/><stop offset="1" stop-color="#77c1f0"/></linearGradient><path d="M574.7 131.5a22.7 8 0 1 0 45.4 0a22.7 8 0 1 0 -45.4 0zM591 131.5a6.4 2.2 0 1 0 12.8 0a6.4 2.2 0 1 0 -12.8 0z" fill="url(#gb68)" fill-rule="evenodd"/><linearGradient id="gb69" x2=".5" spreadMethod="reflect"><stop stop-color="#2ea1e8"/><stop offset=".6" stop-color="#4fb0eb"/><stop offset="1" stop-color="#76c2f0"/></linearGradient><path d="M574.8 131a22.6 7.9 0 1 0 45.2 0a22.6 7.9 0 1 0 -45.2 0zM591 131a6.4 2.3 0 1 0 12.8 0a6.4 2.3 0 1 0 -12.8 0z" fill="url(#gb69)" fill-rule="evenodd"/><linearGradient id="gb70" x2=".5" spreadMethod="reflect"><stop stop-color="#2ea3e7"/><stop offset=".6" stop-color="#4eb1eb"/><stop offset="1" stop-color="#75c2ef"/></linearGradient><path d="M574.9 130.6a22.5 7.9 0 1 0 45.1 0a22.5 7.9 0 1 0 -45.1 0zM590.9 130.6a6.5 2.3 0 1 0 12.9 0a6.5 2.3 0 1 0 -12.9 0z" fill="url(#gb70)" fill-rule="evenodd"/><linearGradient id="gb71" x2=".5" spreadMethod="reflect"><stop stop-color="#2da4e6"/><stop offset=".6" stop-color="#4db2ea"/><stop offset="1" stop-color="#74c3ef"/></linearGradient><path d="M574.9 130.1a22.5 7.9 0 1 0 45 0a22.5 7.9 0 1 0 -45 0zM590.9 130.1a6.5 2.3 0 1 0 13 0a6.5 2.3 0 1 0 -13 0z" fill="url(#gb71)" fill-rule="evenodd"/><linearGradient id="gb72" x2=".5" spreadMethod="reflect"><stop stop-color="#2ca5e5"/><stop offset=".6" stop-color="#4cb3e9"/><stop offset="1" stop-color="#73c4ee"/></linearGradient><path d="M575 129.6a22.4 7.9 0 1 0 44.8 0a22.4 7.9 0 1 0 -44.8 0zM590.9 129.6a6.5 2.3 0 1 0 13.1 0a6.5 2.3 0 1 0 -13.1 0z" fill="url(#gb72)" fill-rule="evenodd"/><linearGradient id="gb73" x2=".5" spreadMethod="reflect"><stop stop-color="#2ba7e5"/><stop offset=".6" stop-color="#4bb4e9"/><stop offset="1" stop-color="#72c4ed"/></linearGradient><path d="M575.1 129.1a22.3 7.8 0 1 0 44.7 0a22.3 7.8 0 1 0 -44.7 0zM590.8 129.1a6.6 2.3 0 1 0 13.2 0a6.6 2.3 0 1 0 -13.2 0z" fill="url(#gb73)" fill-rule="evenodd"/><linearGradient id="gb74" x2=".5" spreadMethod="reflect"><stop stop-color="#2aa8e4"/><stop offset=".6" stop-color="#4ab5e8"/><stop offset="1" stop-color="#70c5ed"/></linearGradient><path d="M575.1 128.7a22.3 7.8 0 1 0 44.5 0a22.3 7.8 0 1 0 -44.5 0zM590.8 128.7a6.6 2.3 0 1 0 13.2 0a6.6 2.3 0 1 0 -13.2 0z" fill="url(#gb74)" fill-rule="evenodd"/><linearGradient id="gb75" x2=".5" spreadMethod="reflect"><stop stop-color="#29a9e3"/><stop offset=".6" stop-color="#48b6e7"/><stop offset="1" stop-color="#6fc6ec"/></linearGradient><path d="M575.2 128.2a22.2 7.8 0 1 0 44.4 0a22.2 7.8 0 1 0 -44.4 0zM590.7 128.2a6.7 2.3 0 1 0 13.3 0a6.7 2.3 0 1 0 -13.3 0z" fill="url(#gb75)" fill-rule="evenodd"/><linearGradient id="gb76" x2=".5" spreadMethod="reflect"><stop stop-color="#28abe2"/><stop offset=".6" stop-color="#47b7e6"/><stop offset="1" stop-color="#6ec6ec"/></linearGradient><path d="M575.3 127.7a22.1 7.8 0 1 0 44.3 0a22.1 7.8 0 1 0 -44.3 0zM590.7 127.7a6.7 2.3 0 1 0 13.4 0a6.7 2.3 0 1 0 -13.4 0z" fill="url(#gb76)" fill-rule="evenodd"/><linearGradient id="gb77" x2=".5" spreadMethod="reflect"><stop stop-color="#27ace1"/><stop offset=".6" stop-color="#46b8e6"/><stop offset="1" stop-color="#6cc7eb"/></linearGradient><path d="M575.3 127.2a22.1 7.7 0 1 0 44.1 0a22.1 7.7 0 1 0 -44.1 0zM590.7 127.2a6.7 2.4 0 1 0 13.5 0a6.7 2.4 0 1 0 -13.5 0z" fill="url(#gb77)" fill-rule="evenodd"/><linearGradient id="gb78" x2=".5" spreadMethod="reflect"><stop stop-color="#25ade0"/><stop offset=".6" stop-color="#45b9e5"/><stop offset="1" stop-color="#6bc7ea"/></linearGradient><path d="M575.4 126.8a22 7.7 0 1 0 44 0a22 7.7 0 1 0 -44 0zM590.6 126.8a6.8 2.4 0 1 0 13.5 0a6.8 2.4 0 1 0 -13.5 0z" fill="url(#gb78)" fill-rule="evenodd"/><linearGradient id="gb79" x2=".5" spreadMethod="reflect"><stop stop-color="#24afdf"/><stop offset=".6" stop-color="#43bae4"/><stop offset="1" stop-color="#69c8e9"/></linearGradient><path d="M575.5 126.3a21.9 7.7 0 1 0 43.9 0a21.9 7.7 0 1 0 -43.9 0zM590.6 126.3a6.8 2.4 0 1 0 13.6 0a6.8 2.4 0 1 0 -13.6 0z" fill="url(#gb79)" fill-rule="evenodd"/><linearGradient id="gb80" x2=".5" spreadMethod="reflect"><stop stop-color="#23b0de"/><stop offset=".6" stop-color="#42bbe2"/><stop offset="1" stop-color="#68c9e8"/></linearGradient><path d="M575.5 125.8a21.9 7.7 0 1 0 43.7 0a21.9 7.7 0 1 0 -43.7 0zM590.6 125.8a6.8 2.4 0 1 0 13.7 0a6.8 2.4 0 1 0 -13.7 0z" fill="url(#gb80)" fill-rule="evenodd"/><linearGradient id="gb81" x2=".5" spreadMethod="reflect"><stop stop-color="#21b1dc"/><stop offset=".6" stop-color="#40bce1"/><stop offset="1" stop-color="#66c9e7"/></linearGradient><path d="M575.6 125.3a21.8 7.6 0 1 0 43.6 0a21.8 7.6 0 1 0 -43.6 0zM590.5 125.3a6.9 2.4 0 1 0 13.7 0a6.9 2.4 0 1 0 -13.7 0z" fill="url(#gb81)" fill-rule="evenodd"/><linearGradient id="gb82" x2=".5" spreadMethod="reflect"><stop stop-color="#1fb2db"/><stop offset=".6" stop-color="#3ebde0"/><stop offset="1" stop-color="#64cae6"/></linearGradient><path d="M575.7 124.9a21.7 7.6 0 1 0 43.5 0a21.7 7.6 0 1 0 -43.5 0zM590.5 124.9a6.9 2.4 0 1 0 13.8 0a6.9 2.4 0 1 0 -13.8 0z" fill="url(#gb82)" fill-rule="evenodd"/><linearGradient id="gb83" x2=".5" spreadMethod="reflect"><stop stop-color="#1db3d9"/><stop offset=".6" stop-color="#3cbede"/><stop offset="1" stop-color="#62cae5"/></linearGradient><path d="M575.7 124.4a21.7 7.6 0 1 0 43.3 0a21.7 7.6 0 1 0 -43.3 0zM590.5 124.4a6.9 2.4 0 1 0 13.9 0a6.9 2.4 0 1 0 -13.9 0z" fill="url(#gb83)" fill-rule="evenodd"/><linearGradient id="gb84" x2=".5" spreadMethod="reflect"><stop stop-color="#1bb4d8"/><stop offset=".6" stop-color="#3abfdd"/><stop offset="1" stop-color="#60cbe4"/></linearGradient><path d="M575.8 123.9a21.6 7.6 0 1 0 43.2 0a21.6 7.6 0 1 0 -43.2 0zM590.4 123.9a7 2.4 0 1 0 14 0a7 2.4 0 1 0 -14 0z" fill="url(#gb84)" fill-rule="evenodd"/><linearGradient id="gb85" x2=".5" spreadMethod="reflect"><stop stop-color="#18b5d6"/><stop offset=".6" stop-color="#37bfdb"/><stop offset="1" stop-color="#5dcbe2"/></linearGradient><path d="M575.9 123.4a21.5 7.6 0 1 0 43.1 0a21.5 7.6 0 1 0 -43.1 0zM590.4 123.4a7 2.5 0 1 0 14 0a7 2.5 0 1 0 -14 0z" fill="url(#gb85)" fill-rule="evenodd"/><linearGradient id="gb86" x2=".5" spreadMethod="reflect"><stop stop-color="#15b6d4"/><stop offset=".6" stop-color="#34c0da"/><stop offset="1" stop-color="#5bcce1"/></linearGradient><path d="M575.9 123a21.5 7.5 0 1 0 43 0a21.5 7.5 0 1 0 -43 0zM590.4 123a7 2.5 0 1 0 14.1 0a7 2.5 0 1 0 -14.1 0z" fill="url(#gb86)" fill-rule="evenodd"/><linearGradient id="gb87" x2=".5" spreadMethod="reflect"><stop stop-color="#12b7d2"/><stop offset=".6" stop-color="#31c1d8"/><stop offset="1" stop-color="#58ccdf"/></linearGradient><path d="M576 122.5a21.4 7.5 0 1 0 42.8 0a21.4 7.5 0 1 0 -42.8 0zM590.3 122.5a7.1 2.5 0 1 0 14.2 0a7.1 2.5 0 1 0 -14.2 0z" fill="url(#gb87)" fill-rule="evenodd"/><linearGradient id="gb88" x2=".5" spreadMethod="reflect"><stop stop-color="#0fb8d0"/><stop offset=".6" stop-color="#2fc2d6"/><stop offset="1" stop-color="#55cdde"/></linearGradient><path d="M576 122a21.4 7.5 0 1 0 42.7 0a21.4 7.5 0 1 0 -42.7 0zM590.3 122a7.1 2.5 0 1 0 14.2 0a7.1 2.5 0 1 0 -14.2 0z" fill="url(#gb88)" fill-rule="evenodd"/><linearGradient id="gb89" x2=".5" spreadMethod="reflect"><stop stop-color="#0db9ce"/><stop offset=".6" stop-color="#2dc2d5"/><stop offset="1" stop-color="#53cddd"/></linearGradient><path d="M576.1 121.5a21.3 7.5 0 1 0 42.6 0a21.3 7.5 0 1 0 -42.6 0zM590.2 121.5a7.2 2.5 0 1 0 14.3 0a7.2 2.5 0 1 0 -14.3 0z" fill="url(#gb89)" fill-rule="evenodd"/><linearGradient id="gb90" x2=".5" spreadMethod="reflect"><stop stop-color="#0bbacd"/><stop offset=".6" stop-color="#2bc3d3"/><stop offset="1" stop-color="#51cedb"/></linearGradient><path d="M576.2 121.1a21.2 7.4 0 1 0 42.5 0a21.2 7.4 0 1 0 -42.5 0zM590.2 121.1a7.2 2.5 0 1 0 14.4 0a7.2 2.5 0 1 0 -14.4 0z" fill="url(#gb90)" fill-rule="evenodd"/><linearGradient id="gb91" x2=".5" spreadMethod="reflect"><stop stop-color="#0bbbcb"/><stop offset=".6" stop-color="#2ac4d1"/><stop offset="1" stop-color="#50ced9"/></linearGradient><path d="M576.2 120.6a21.2 7.4 0 1 0 42.3 0a21.2 7.4 0 1 0 -42.3 0zM590.2 120.6a7.2 2.5 0 1 0 14.4 0a7.2 2.5 0 1 0 -14.4 0z" fill="url(#gb91)" fill-rule="evenodd"/><linearGradient id="gb92" x2=".5" spreadMethod="reflect"><stop stop-color="#0bbcc9"/><stop offset=".6" stop-color="#2ac4cf"/><stop offset="1" stop-color="#50cfd8"/></linearGradient><path d="M576.3 120.1a21.1 7.4 0 1 0 42.2 0a21.1 7.4 0 1 0 -42.2 0zM590.1 120.1a7.3 2.5 0 1 0 14.5 0a7.3 2.5 0 1 0 -14.5 0z" fill="url(#gb92)" fill-rule="evenodd"/><linearGradient id="gb93" x2=".5" spreadMethod="reflect"><stop stop-color="#0bbdc7"/><stop offset=".6" stop-color="#2ac5ce"/><stop offset="1" stop-color="#4fcfd6"/></linearGradient><path d="M576.4 119.6a21 7.4 0 1 0 42.1 0a21 7.4 0 1 0 -42.1 0zM590.1 119.6a7.3 2.6 0 1 0 14.6 0a7.3 2.6 0 1 0 -14.6 0z" fill="url(#gb93)" fill-rule="evenodd"/><linearGradient id="gb94" x2=".5" spreadMethod="reflect"><stop stop-color="#0cbdc5"/><stop offset=".6" stop-color="#2ac5cc"/><stop offset="1" stop-color="#4fcfd5"/></linearGradient><path d="M576.4 119.2a21 7.4 0 1 0 42 0a21 7.4 0 1 0 -42 0zM590.1 119.2a7.3 2.6 0 1 0 14.7 0a7.3 2.6 0 1 0 -14.7 0z" fill="url(#gb94)" fill-rule="evenodd"/><linearGradient id="gb95" x2=".5" spreadMethod="reflect"><stop stop-color="#0fbec2"/><stop offset=".6" stop-color="#2cc6ca"/><stop offset="1" stop-color="#51d0d3"/></linearGradient><path d="M576.5 118.7a20.9 7.3 0 1 0 41.8 0a20.9 7.3 0 1 0 -41.8 0zM590 118.7a7.4 2.6 0 1 0 14.7 0a7.4 2.6 0 1 0 -14.7 0z" fill="url(#gb95)" fill-rule="evenodd"/><linearGradient id="gb96" x2=".5" spreadMethod="reflect"><stop stop-color="#12bfc0"/><stop offset=".6" stop-color="#2fc7c8"/><stop offset="1" stop-color="#52d0d1"/></linearGradient><path d="M576.5 118.2a20.9 7.3 0 1 0 41.7 0a20.9 7.3 0 1 0 -41.7 0zM590 118.2a7.4 2.6 0 1 0 14.8 0a7.4 2.6 0 1 0 -14.8 0z" fill="url(#gb96)" fill-rule="evenodd"/><linearGradient id="gb97" x2=".5" spreadMethod="reflect"><stop stop-color="#15bfbe"/><stop offset=".6" stop-color="#31c7c6"/><stop offset="1" stop-color="#54d1d0"/></linearGradient><path d="M576.6 117.7a20.8 7.3 0 1 0 41.6 0a20.8 7.3 0 1 0 -41.6 0zM590 117.7a7.4 2.6 0 1 0 14.9 0a7.4 2.6 0 1 0 -14.9 0z" fill="url(#gb97)" fill-rule="evenodd"/><linearGradient id="gb98" x2=".5" spreadMethod="reflect"><stop stop-color="#19c0bc"/><stop offset=".6" stop-color="#34c8c4"/><stop offset="1" stop-color="#56d1ce"/></linearGradient><path d="M576.7 117.3a20.7 7.3 0 1 0 41.5 0a20.7 7.3 0 1 0 -41.5 0zM589.9 117.3a7.5 2.6 0 1 0 14.9 0a7.5 2.6 0 1 0 -14.9 0z" fill="url(#gb98)" fill-rule="evenodd"/><linearGradient id="gb99" x2=".5" spreadMethod="reflect"><stop stop-color="#1dc1ba"/><stop offset=".6" stop-color="#37c8c2"/><stop offset="1" stop-color="#58d1cc"/></linearGradient><path d="M576.7 116.8a20.7 7.2 0 1 0 41.3 0a20.7 7.2 0 1 0 -41.3 0zM589.9 116.8a7.5 2.6 0 1 0 15 0a7.5 2.6 0 1 0 -15 0z" fill="url(#gb99)" fill-rule="evenodd"/><linearGradient id="gb100" x2=".5" spreadMethod="reflect"><stop stop-color="#21c1b8"/><stop offset=".6" stop-color="#3bc9c0"/><stop offset="1" stop-color="#5ad1ca"/></linearGradient><path d="M576.8 116.3a20.6 7.2 0 1 0 41.2 0a20.6 7.2 0 1 0 -41.2 0zM589.9 116.3a7.5 2.6 0 1 0 15.1 0a7.5 2.6 0 1 0 -15.1 0z" fill="url(#gb100)" fill-rule="evenodd"/><linearGradient id="gb101" x2=".5" spreadMethod="reflect"><stop stop-color="#24c2b6"/><stop offset=".6" stop-color="#3dc9be"/><stop offset="1" stop-color="#5cd2c9"/></linearGradient><path d="M576.9 115.8a20.5 7.2 0 1 0 41.1 0a20.5 7.2 0 1 0 -41.1 0zM589.8 115.8a7.6 2.7 0 1 0 15.1 0a7.6 2.7 0 1 0 -15.1 0z" fill="url(#gb101)" fill-rule="evenodd"/><linearGradient id="gb102" x2=".5" spreadMethod="reflect"><stop stop-color="#27c3b4"/><stop offset=".6" stop-color="#40cabc"/><stop offset="1" stop-color="#5ed2c7"/></linearGradient><path d="M576.9 115.4a20.5 7.2 0 1 0 41 0a20.5 7.2 0 1 0 -41 0zM589.8 115.4a7.6 2.7 0 1 0 15.2 0a7.6 2.7 0 1 0 -15.2 0z" fill="url(#gb102)" fill-rule="evenodd"/><linearGradient id="gb103" x2=".5" spreadMethod="reflect"><stop stop-color="#2bc3b1"/><stop offset=".6" stop-color="#43caba"/><stop offset="1" stop-color="#60d2c5"/></linearGradient><path d="M577 114.9a20.4 7.2 0 1 0 40.9 0a20.4 7.2 0 1 0 -40.9 0zM589.8 114.9a7.6 2.7 0 1 0 15.3 0a7.6 2.7 0 1 0 -15.3 0z" fill="url(#gb103)" fill-rule="evenodd"/><linearGradient id="gb104" x2=".5" spreadMethod="reflect"><stop stop-color="#2dc4af"/><stop offset=".6" stop-color="#45cbb8"/><stop offset="1" stop-color="#61d3c3"/></linearGradient><path d="M577 114.4a20.4 7.1 0 1 0 40.7 0a20.4 7.1 0 1 0 -40.7 0zM589.7 114.4a7.7 2.7 0 1 0 15.3 0a7.7 2.7 0 1 0 -15.3 0z" fill="url(#gb104)" fill-rule="evenodd"/><linearGradient id="gb105" x2=".5" spreadMethod="reflect"><stop stop-color="#2fc5ad"/><stop offset=".6" stop-color="#46cbb6"/><stop offset="1" stop-color="#63d3c1"/></linearGradient><path d="M577.1 113.9a20.3 7.1 0 1 0 40.6 0a20.3 7.1 0 1 0 -40.6 0zM589.7 113.9a7.7 2.7 0 1 0 15.4 0a7.7 2.7 0 1 0 -15.4 0z" fill="url(#gb105)" fill-rule="evenodd"/><linearGradient id="gb106" x2=".5" spreadMethod="reflect"><stop stop-color="#32c5ab"/><stop offset=".6" stop-color="#48ccb4"/><stop offset="1" stop-color="#64d3bf"/></linearGradient><path d="M577.2 113.5a20.2 7.1 0 1 0 40.5 0a20.2 7.1 0 1 0 -40.5 0zM589.7 113.5a7.7 2.7 0 1 0 15.5 0a7.7 2.7 0 1 0 -15.5 0z" fill="url(#gb106)" fill-rule="evenodd"/><linearGradient id="gb107" x2=".5" spreadMethod="reflect"><stop stop-color="#34c6a8"/><stop offset=".6" stop-color="#4accb2"/><stop offset="1" stop-color="#65d4bd"/></linearGradient><path d="M577.2 113a20.2 7.1 0 1 0 40.4 0a20.2 7.1 0 1 0 -40.4 0zM589.6 113a7.8 2.7 0 1 0 15.5 0a7.8 2.7 0 1 0 -15.5 0z" fill="url(#gb107)" fill-rule="evenodd"/><linearGradient id="gb108" x2=".5" spreadMethod="reflect"><stop stop-color="#35c7a6"/><stop offset=".6" stop-color="#4bcdb0"/><stop offset="1" stop-color="#65d4bb"/></linearGradient><path d="M577.3 112.5a20.1 7.1 0 1 0 40.3 0a20.1 7.1 0 1 0 -40.3 0zM589.6 112.5a7.8 2.7 0 1 0 15.6 0a7.8 2.7 0 1 0 -15.6 0z" fill="url(#gb108)" fill-rule="evenodd"/><linearGradient id="gb109" x2=".5" spreadMethod="reflect"><stop stop-color="#37c7a4"/><stop offset=".6" stop-color="#4ccdad"/><stop offset="1" stop-color="#66d4b9"/></linearGradient><path d="M577.3 112a20.1 7 0 1 0 40.1 0a20.1 7 0 1 0 -40.1 0zM589.6 112a7.8 2.7 0 1 0 15.7 0a7.8 2.7 0 1 0 -15.7 0z" fill="url(#gb109)" fill-rule="evenodd"/><linearGradient id="gb110" x2=".5" spreadMethod="reflect"><stop stop-color="#39c8a1"/><stop offset=".6" stop-color="#4dceab"/><stop offset="1" stop-color="#67d5b7"/></linearGradient><path d="M577.4 111.6a20 7 0 1 0 40 0a20 7 0 1 0 -40 0zM589.5 111.6a7.9 2.8 0 1 0 15.7 0a7.9 2.8 0 1 0 -15.7 0z" fill="url(#gb110)" fill-rule="evenodd"/><linearGradient id="gb111" x2=".5" spreadMethod="reflect"><stop stop-color="#3ac99f"/><stop offset=".6" stop-color="#4fcea9"/><stop offset="1" stop-color="#67d5b5"/></linearGradient><path d="M577.5 111.1a19.9 7 0 1 0 39.9 0a19.9 7 0 1 0 -39.9 0zM589.5 111.1a7.9 2.8 0 1 0 15.8 0a7.9 2.8 0 1 0 -15.8 0z" fill="url(#gb111)" fill-rule="evenodd"/><linearGradient id="gb112" x2=".5" spreadMethod="reflect"><stop stop-color="#3cc99c"/><stop offset=".6" stop-color="#50cfa6"/><stop offset="1" stop-color="#68d5b3"/></linearGradient><path d="M577.5 110.6a19.9 7 0 1 0 39.8 0a19.9 7 0 1 0 -39.8 0zM589.5 110.6a7.9 2.8 0 1 0 15.9 0a7.9 2.8 0 1 0 -15.9 0z" fill="url(#gb112)" fill-rule="evenodd"/><linearGradient id="gb113" x2=".5" spreadMethod="reflect"><stop stop-color="#3eca99"/><stop offset=".6" stop-color="#51cfa4"/><stop offset="1" stop-color="#69d6b0"/></linearGradient><path d="M577.6 110.1a19.8 7 0 1 0 39.7 0a19.8 7 0 1 0 -39.7 0zM589.4 110.1a8 2.8 0 1 0 15.9 0a8 2.8 0 1 0 -15.9 0z" fill="url(#gb113)" fill-rule="evenodd"/><linearGradient id="gb114" x2=".5" spreadMethod="reflect"><stop stop-color="#40ca97"/><stop offset=".6" stop-color="#53d0a1"/><stop offset="1" stop-color="#6ad6ae"/></linearGradient><path d="M577.6 109.7a19.8 6.9 0 1 0 39.5 0a19.8 6.9 0 1 0 -39.5 0zM589.4 109.7a8 2.8 0 1 0 16 0a8 2.8 0 1 0 -16 0z" fill="url(#gb114)" fill-rule="evenodd"/><linearGradient id="gb115" x2=".5" spreadMethod="reflect"><stop stop-color="#42cb94"/><stop offset=".6" stop-color="#55d09e"/><stop offset="1" stop-color="#6cd6ab"/></linearGradient><path d="M577.7 109.2a19.7 6.9 0 1 0 39.4 0a19.7 6.9 0 1 0 -39.4 0zM589.4 109.2a8 2.8 0 1 0 16 0a8 2.8 0 1 0 -16 0z" fill="url(#gb115)" fill-rule="evenodd"/><linearGradient id="gb116" x2=".5" spreadMethod="reflect"><stop stop-color="#45cb91"/><stop offset=".6" stop-color="#57d09c"/><stop offset="1" stop-color="#6dd7a9"/></linearGradient><path d="M577.7 108.7a19.7 6.9 0 1 0 39.3 0a19.7 6.9 0 1 0 -39.3 0zM589.3 108.7a8.1 2.8 0 1 0 16.1 0a8.1 2.8 0 1 0 -16.1 0z" fill="url(#gb116)" fill-rule="evenodd"/><linearGradient id="gb117" x2=".5" spreadMethod="reflect"><stop stop-color="#48cc8e"/><stop offset=".6" stop-color="#5ad199"/><stop offset="1" stop-color="#6fd7a6"/></linearGradient><path d="M577.8 108.2a19.6 6.9 0 1 0 39.2 0a19.6 6.9 0 1 0 -39.2 0zM589.3 108.2a8.1 2.8 0 1 0 16.2 0a8.1 2.8 0 1 0 -16.2 0z" fill="url(#gb117)" fill-rule="evenodd"/><linearGradient id="gb118" x2=".5" spreadMethod="reflect"><stop stop-color="#4bcc8b"/><stop offset=".6" stop-color="#5cd196"/><stop offset="1" stop-color="#71d7a4"/></linearGradient><path d="M577.9 107.8a19.5 6.8 0 1 0 39.1 0a19.5 6.8 0 1 0 -39.1 0zM589.3 107.8a8.1 2.8 0 1 0 16.2 0a8.1 2.8 0 1 0 -16.2 0z" fill="url(#gb118)" fill-rule="evenodd"/><linearGradient id="gb119" x2=".5" spreadMethod="reflect"><stop stop-color="#4fcd88"/><stop offset=".6" stop-color="#5fd193"/><stop offset="1" stop-color="#73d7a1"/></linearGradient><path d="M577.9 107.3a19.5 6.8 0 1 0 38.9 0a19.5 6.8 0 1 0 -38.9 0zM589.2 107.3a8.2 2.9 0 1 0 16.3 0a8.2 2.9 0 1 0 -16.3 0z" fill="url(#gb119)" fill-rule="evenodd"/><linearGradient id="gb120" x2=".5" spreadMethod="reflect"><stop stop-color="#52cd85"/><stop offset=".6" stop-color="#62d290"/><stop offset="1" stop-color="#76d79e"/></linearGradient><path d="M578 106.8a19.4 6.8 0 1 0 38.8 0a19.4 6.8 0 1 0 -38.8 0zM589.2 106.8a8.2 2.9 0 1 0 16.4 0a8.2 2.9 0 1 0 -16.4 0z" fill="url(#gb120)" fill-rule="evenodd"/><linearGradient id="gb121" x2=".5" spreadMethod="reflect"><stop stop-color="#56cd82"/><stop offset=".6" stop-color="#66d28d"/><stop offset="1" stop-color="#79d79b"/></linearGradient><path d="M578 106.3a19.4 6.8 0 1 0 38.7 0a19.4 6.8 0 1 0 -38.7 0zM589.2 106.3a8.2 2.9 0 1 0 16.4 0a8.2 2.9 0 1 0 -16.4 0z" fill="url(#gb121)" fill-rule="evenodd"/><linearGradient id="gb122" x2=".5" spreadMethod="reflect"><stop stop-color="#5acd7f"/><stop offset=".6" stop-color="#69d28a"/><stop offset="1" stop-color="#7bd798"/></linearGradient><path d="M578.1 105.9a19.3 6.8 0 1 0 38.6 0a19.3 6.8 0 1 0 -38.6 0zM589.1 105.9a8.3 2.9 0 1 0 16.5 0a8.3 2.9 0 1 0 -16.5 0z" fill="url(#gb122)" fill-rule="evenodd"/><linearGradient id="gb123" x2=".5" spreadMethod="reflect"><stop stop-color="#5ece7b"/><stop offset=".6" stop-color="#6cd287"/><stop offset="1" stop-color="#7ed795"/></linearGradient><path d="M578.2 105.4a19.2 6.7 0 1 0 38.5 0a19.2 6.7 0 1 0 -38.5 0zM589.1 105.4a8.3 2.9 0 1 0 16.6 0a8.3 2.9 0 1 0 -16.6 0z" fill="url(#gb123)" fill-rule="evenodd"/><linearGradient id="gb124" x2=".5" spreadMethod="reflect"><stop stop-color="#62ce78"/><stop offset=".6" stop-color="#70d284"/><stop offset="1" stop-color="#80d792"/></linearGradient><path d="M578.2 104.9a19.2 6.7 0 1 0 38.4 0a19.2 6.7 0 1 0 -38.4 0zM589.1 104.9a8.3 2.9 0 1 0 16.6 0a8.3 2.9 0 1 0 -16.6 0z" fill="url(#gb124)" fill-rule="evenodd"/><linearGradient id="gb125" x2=".5" spreadMethod="reflect"><stop stop-color="#66ce75"/><stop offset=".6" stop-color="#73d281"/><stop offset="1" stop-color="#83d78f"/></linearGradient><path d="M578.3 104.4a19.1 6.7 0 1 0 38.2 0a19.1 6.7 0 1 0 -38.2 0zM589 104.4a8.4 2.9 0 1 0 16.7 0a8.4 2.9 0 1 0 -16.7 0z" fill="url(#gb125)" fill-rule="evenodd"/><linearGradient id="gb126" x2=".5" spreadMethod="reflect"><stop stop-color="#6ace71"/><stop offset=".6" stop-color="#76d27d"/><stop offset="1" stop-color="#86d78c"/></linearGradient><path d="M578.3 104a19.1 6.7 0 1 0 38.1 0a19.1 6.7 0 1 0 -38.1 0zM589 104a8.4 2.9 0 1 0 16.8 0a8.4 2.9 0 1 0 -16.8 0z" fill="url(#gb126)" fill-rule="evenodd"/><linearGradient id="gb127" x2=".5" spreadMethod="reflect"><stop stop-color="#6ece6e"/><stop offset=".6" stop-color="#7ad27a"/><stop offset="1" stop-color="#89d789"/></linearGradient><path d="M578.4 103.5a19 6.7 0 1 0 38 0a19 6.7 0 1 0 -38 0zM589 103.5a8.4 3 0 1 0 16.8 0a8.4 3 0 1 0 -16.8 0z" fill="url(#gb127)" fill-rule="evenodd"/><linearGradient id="gb128" x2=".5" spreadMethod="reflect"><stop stop-color="#72ce6a"/><stop offset=".6" stop-color="#7ed276"/><stop offset="1" stop-color="#8cd786"/></linearGradient><path d="M578.5 103a18.9 6.6 0 1 0 37.9 0a18.9 6.6 0 1 0 -37.9 0zM589 103a8.4 3 0 1 0 16.9 0a8.4 3 0 1 0 -16.9 0z" fill="url(#gb128)" fill-rule="evenodd"/><linearGradient id="gb129" x2=".5" spreadMethod="reflect"><stop stop-color="#76ce67"/><stop offset=".6" stop-color="#81d273"/><stop offset="1" stop-color="#8fd782"/></linearGradient><path d="M578.5 102.5a18.9 6.6 0 1 0 37.8 0a18.9 6.6 0 1 0 -37.8 0zM588.9 102.5a8.5 3 0 1 0 17 0a8.5 3 0 1 0 -17 0z" fill="url(#gb129)" fill-rule="evenodd"/><linearGradient id="gb130" x2=".5" spreadMethod="reflect"><stop stop-color="#7bce63"/><stop offset=".6" stop-color="#85d270"/><stop offset="1" stop-color="#93d67f"/></linearGradient><path d="M578.6 102a18.8 6.6 0 1 0 37.6 0a18.8 6.6 0 1 0 -37.6 0zM588.9 102a8.5 3 0 1 0 17 0a8.5 3 0 1 0 -17 0z" fill="url(#gb130)" fill-rule="evenodd"/><linearGradient id="gb131" x2=".5" spreadMethod="reflect"><stop stop-color="#7fcd60"/><stop offset=".6" stop-color="#89d16c"/><stop offset="1" stop-color="#96d67c"/></linearGradient><path d="M578.6 101.6a18.8 6.6 0 1 0 37.5 0a18.8 6.6 0 1 0 -37.5 0zM588.9 101.6a8.5 3 0 1 0 17.1 0a8.5 3 0 1 0 -17.1 0z" fill="url(#gb131)" fill-rule="evenodd"/><linearGradient id="gb132" x2=".5" spreadMethod="reflect"><stop stop-color="#84cd5c"/><stop offset=".6" stop-color="#8ed169"/><stop offset="1" stop-color="#99d679"/></linearGradient><path d="M578.7 101.1a18.7 6.6 0 1 0 37.4 0a18.7 6.6 0 1 0 -37.4 0zM588.8 101.1a8.6 3 0 1 0 17.2 0a8.6 3 0 1 0 -17.2 0z" fill="url(#gb132)" fill-rule="evenodd"/><linearGradient id="gb133" x2=".5" spreadMethod="reflect"><stop stop-color="#88cd59"/><stop offset=".6" stop-color="#91d066"/><stop offset="1" stop-color="#9dd575"/></linearGradient><path d="M578.8 100.6a18.6 6.5 0 1 0 37.3 0a18.6 6.5 0 1 0 -37.3 0zM588.8 100.6a8.6 3 0 1 0 17.2 0a8.6 3 0 1 0 -17.2 0z" fill="url(#gb133)" fill-rule="evenodd"/><linearGradient id="gb134" x2=".5" spreadMethod="reflect"><stop stop-color="#8dcc55"/><stop offset=".6" stop-color="#95d062"/><stop offset="1" stop-color="#a0d572"/></linearGradient><path d="M578.8 100.1a18.6 6.5 0 1 0 37.2 0a18.6 6.5 0 1 0 -37.2 0zM588.8 100.1a8.6 3 0 1 0 17.3 0a8.6 3 0 1 0 -17.3 0z" fill="url(#gb134)" fill-rule="evenodd"/><linearGradient id="gb135" x2=".5" spreadMethod="reflect"><stop stop-color="#91cc52"/><stop offset=".6" stop-color="#99d05f"/><stop offset="1" stop-color="#a3d46f"/></linearGradient><path d="M578.9 99.7a18.5 6.5 0 1 0 37 0a18.5 6.5 0 1 0 -37 0zM588.7 99.7a8.7 3 0 1 0 17.4 0a8.7 3 0 1 0 -17.4 0z" fill="url(#gb135)" fill-rule="evenodd"/><linearGradient id="gb136" x2=".5" spreadMethod="reflect"><stop stop-color="#95cb4f"/><stop offset=".6" stop-color="#9dcf5c"/><stop offset="1" stop-color="#a7d46b"/></linearGradient><path d="M578.9 99.2a18.5 6.5 0 1 0 36.9 0a18.5 6.5 0 1 0 -36.9 0zM588.7 99.2a8.7 3.1 0 1 0 17.4 0a8.7 3.1 0 1 0 -17.4 0z" fill="url(#gb136)" fill-rule="evenodd"/><linearGradient id="gb137" x2=".5" spreadMethod="reflect"><stop stop-color="#9acb4b"/><stop offset=".6" stop-color="#a1ce58"/><stop offset="1" stop-color="#aad368"/></linearGradient><path d="M579 98.7a18.4 6.5 0 1 0 36.8 0a18.4 6.5 0 1 0 -36.8 0zM588.7 98.7a8.7 3.1 0 1 0 17.5 0a8.7 3.1 0 1 0 -17.5 0z" fill="url(#gb137)" fill-rule="evenodd"/><linearGradient id="gb138" x2=".5" spreadMethod="reflect"><stop stop-color="#9eca48"/><stop offset=".6" stop-color="#a5ce55"/><stop offset="1" stop-color="#add365"/></linearGradient><path d="M579.1 98.2a18.3 6.4 0 1 0 36.7 0a18.3 6.4 0 1 0 -36.7 0zM588.6 98.2a8.8 3.1 0 1 0 17.6 0a8.8 3.1 0 1 0 -17.6 0z" fill="url(#gb138)" fill-rule="evenodd"/><linearGradient id="gb139" x2=".5" spreadMethod="reflect"><stop stop-color="#a2ca44"/><stop offset=".6" stop-color="#a9cd52"/><stop offset="1" stop-color="#b1d261"/></linearGradient><path d="M579.1 97.8a18.3 6.4 0 1 0 36.6 0a18.3 6.4 0 1 0 -36.6 0zM588.6 97.8a8.8 3.1 0 1 0 17.6 0a8.8 3.1 0 1 0 -17.6 0z" fill="url(#gb139)" fill-rule="evenodd"/><linearGradient id="gb140" x2=".5" spreadMethod="reflect"><stop stop-color="#a7c941"/><stop offset=".6" stop-color="#adcd4e"/><stop offset="1" stop-color="#b4d15e"/></linearGradient><path d="M579.2 97.3a18.2 6.4 0 1 0 36.4 0a18.2 6.4 0 1 0 -36.4 0zM588.6 97.3a8.8 3.1 0 1 0 17.7 0a8.8 3.1 0 1 0 -17.7 0z" fill="url(#gb140)" fill-rule="evenodd"/><linearGradient id="gb141" x2=".5" spreadMethod="reflect"><stop stop-color="#abc83e"/><stop offset=".6" stop-color="#b0cc4b"/><stop offset="1" stop-color="#b7d05b"/></linearGradient><path d="M579.2 96.8a18.2 6.4 0 1 0 36.3 0a18.2 6.4 0 1 0 -36.3 0zM588.5 96.8a8.9 3.1 0 1 0 17.8 0a8.9 3.1 0 1 0 -17.8 0z" fill="url(#gb141)" fill-rule="evenodd"/><linearGradient id="gb142" x2=".5" spreadMethod="reflect"><stop stop-color="#afc73c"/><stop offset=".6" stop-color="#b4cb48"/><stop offset="1" stop-color="#bbd058"/></linearGradient><path d="M579.3 96.3a18.1 6.3 0 1 0 36.2 0a18.1 6.3 0 1 0 -36.2 0zM588.5 96.3a8.9 3.1 0 1 0 17.8 0a8.9 3.1 0 1 0 -17.8 0z" fill="url(#gb142)" fill-rule="evenodd"/><linearGradient id="gb143" x2=".5" spreadMethod="reflect"><stop stop-color="#b3c739"/><stop offset=".6" stop-color="#b8ca46"/><stop offset="1" stop-color="#becf56"/></linearGradient><path d="M579.4 95.9a18 6.3 0 1 0 36.1 0a18 6.3 0 1 0 -36.1 0zM588.5 95.9a8.9 3.1 0 1 0 17.9 0a8.9 3.1 0 1 0 -17.9 0z" fill="url(#gb143)" fill-rule="evenodd"/><linearGradient id="gb144" x2=".5" spreadMethod="reflect"><stop stop-color="#b7c636"/><stop offset=".6" stop-color="#bcca43"/><stop offset="1" stop-color="#c1ce53"/></linearGradient><path d="M579.4 95.4a18 6.3 0 1 0 35.9 0a18 6.3 0 1 0 -35.9 0zM588.4 95.4a9 3.1 0 1 0 18 0a9 3.1 0 1 0 -18 0z" fill="url(#gb144)" fill-rule="evenodd"/><linearGradient id="gb145" x2=".5" spreadMethod="reflect"><stop stop-color="#bbc534"/><stop offset=".6" stop-color="#bfc941"/><stop offset="1" stop-color="#c5cd50"/></linearGradient><path d="M579.5 94.9a17.9 6.3 0 1 0 35.8 0a17.9 6.3 0 1 0 -35.8 0zM588.4 94.9a9 3.2 0 1 0 18 0a9 3.2 0 1 0 -18 0z" fill="url(#gb145)" fill-rule="evenodd"/><linearGradient id="gb146" x2=".5" spreadMethod="reflect"><stop stop-color="#bfc432"/><stop offset=".6" stop-color="#c3c83e"/><stop offset="1" stop-color="#c8cc4e"/></linearGradient><path d="M579.6 94.4a17.8 6.3 0 1 0 35.7 0a17.8 6.3 0 1 0 -35.7 0zM588.3 94.4a9.1 3.2 0 1 0 18.1 0a9.1 3.2 0 1 0 -18.1 0z" fill="url(#gb146)" fill-rule="evenodd"/><linearGradient id="gb147" x2=".5" spreadMethod="reflect"><stop stop-color="#c3c430"/><stop offset=".6" stop-color="#c6c73c"/><stop offset="1" stop-color="#cbcc4c"/></linearGradient><path d="M579.6 94a17.8 6.2 0 1 0 35.6 0a17.8 6.2 0 1 0 -35.6 0zM588.3 94a9.1 3.2 0 1 0 18.2 0a9.1 3.2 0 1 0 -18.2 0z" fill="url(#gb147)" fill-rule="evenodd"/><linearGradient id="gb148" x2=".5" spreadMethod="reflect"><stop stop-color="#c7c32e"/><stop offset=".6" stop-color="#cac63a"/><stop offset="1" stop-color="#cecb49"/></linearGradient><path d="M579.7 93.5a17.7 6.2 0 1 0 35.4 0a17.7 6.2 0 1 0 -35.4 0zM588.3 93.5a9.1 3.2 0 1 0 18.2 0a9.1 3.2 0 1 0 -18.2 0z" fill="url(#gb148)" fill-rule="evenodd"/><linearGradient id="gb149" x2=".5" spreadMethod="reflect"><stop stop-color="#cac22d"/><stop offset=".6" stop-color="#cdc639"/><stop offset="1" stop-color="#d1ca48"/></linearGradient><path d="M579.7 93a17.7 6.2 0 1 0 35.3 0a17.7 6.2 0 1 0 -35.3 0zM588.2 93a9.2 3.2 0 1 0 18.3 0a9.2 3.2 0 1 0 -18.3 0z" fill="url(#gb149)" fill-rule="evenodd"/><linearGradient id="gb150" x2=".5" spreadMethod="reflect"><stop stop-color="#cec12c"/><stop offset=".6" stop-color="#d1c538"/><stop offset="1" stop-color="#d4c946"/></linearGradient><path d="M579.8 92.5a17.6 6.2 0 1 0 35.2 0a17.6 6.2 0 1 0 -35.2 0zM588.2 92.5a9.2 3.2 0 1 0 18.4 0a9.2 3.2 0 1 0 -18.4 0z" fill="url(#gb150)" fill-rule="evenodd"/><linearGradient id="gb151" x2=".5" spreadMethod="reflect"><stop stop-color="#d2c02b"/><stop offset=".6" stop-color="#d4c437"/><stop offset="1" stop-color="#d7c845"/></linearGradient><path d="M579.9 92.1a17.5 6.1 0 1 0 35.1 0a17.5 6.1 0 1 0 -35.1 0zM588.2 92.1a9.2 3.2 0 1 0 18.4 0a9.2 3.2 0 1 0 -18.4 0z" fill="url(#gb151)" fill-rule="evenodd"/><linearGradient id="gb152" x2=".5" spreadMethod="reflect"><stop stop-color="#d5c02b"/><stop offset=".6" stop-color="#d7c337"/><stop offset="1" stop-color="#dac745"/></linearGradient><path d="M579.9 91.6a17.5 6.1 0 1 0 34.9 0a17.5 6.1 0 1 0 -34.9 0zM588.1 91.6a9.3 3.2 0 1 0 18.5 0a9.3 3.2 0 1 0 -18.5 0z" fill="url(#gb152)" fill-rule="evenodd"/><linearGradient id="gb153" x2=".5" spreadMethod="reflect"><stop stop-color="#d8bf2b"/><stop offset=".6" stop-color="#dac237"/><stop offset="1" stop-color="#ddc645"/></linearGradient><path d="M580 91.1a17.4 6.1 0 1 0 34.8 0a17.4 6.1 0 1 0 -34.8 0zM588.1 91.1a9.3 3.3 0 1 0 18.6 0a9.3 3.3 0 1 0 -18.6 0z" fill="url(#gb153)" fill-rule="evenodd"/><linearGradient id="gb154" x2=".5" spreadMethod="reflect"><stop stop-color="#dcbe2c"/><stop offset=".6" stop-color="#ddc237"/><stop offset="1" stop-color="#e0c644"/></linearGradient><path d="M580.1 90.6a17.3 6.1 0 1 0 34.7 0a17.3 6.1 0 1 0 -34.7 0zM588.1 90.6a9.3 3.3 0 1 0 18.7 0a9.3 3.3 0 1 0 -18.7 0z" fill="url(#gb154)" fill-rule="evenodd"/><linearGradient id="gb155" x2=".5" spreadMethod="reflect"><stop stop-color="#dfbd2d"/><stop offset=".6" stop-color="#e0c138"/><stop offset="1" stop-color="#e2c545"/></linearGradient><path d="M580.1 90.2a17.3 6.1 0 1 0 34.5 0a17.3 6.1 0 1 0 -34.5 0zM588 90.2a9.4 3.3 0 1 0 18.7 0a9.4 3.3 0 1 0 -18.7 0z" fill="url(#gb155)" fill-rule="evenodd"/><linearGradient id="gb156" x2=".5" spreadMethod="reflect"><stop stop-color="#e2bd2e"/><stop offset=".6" stop-color="#e3c039"/><stop offset="1" stop-color="#e5c445"/></linearGradient><path d="M580.2 89.7a17.2 6 0 1 0 34.4 0a17.2 6 0 1 0 -34.4 0zM588 89.7a9.4 3.3 0 1 0 18.8 0a9.4 3.3 0 1 0 -18.8 0z" fill="url(#gb156)" fill-rule="evenodd"/><linearGradient id="gb157" x2=".5" spreadMethod="reflect"><stop stop-color="#e5bc30"/><stop offset=".6" stop-color="#e6bf3a"/><stop offset="1" stop-color="#e8c346"/></linearGradient><path d="M580.3 89.2a17.1 6 0 1 0 34.3 0a17.1 6 0 1 0 -34.3 0zM588 89.2a9.4 3.3 0 1 0 18.9 0a9.4 3.3 0 1 0 -18.9 0z" fill="url(#gb157)" fill-rule="evenodd"/><linearGradient id="gb158" x2=".5" spreadMethod="reflect"><stop stop-color="#e8bc31"/><stop offset=".6" stop-color="#e9bf3b"/><stop offset="1" stop-color="#ebc347"/></linearGradient><path d="M580.3 88.7a17.1 6 0 1 0 34.1 0a17.1 6 0 1 0 -34.1 0zM587.9 88.7a9.5 3.3 0 1 0 19 0a9.5 3.3 0 1 0 -19 0z" fill="url(#gb158)" fill-rule="evenodd"/><linearGradient id="gb159" x2=".5" spreadMethod="reflect"><stop stop-color="#ebbb34"/><stop offset=".6" stop-color="#ecbf3d"/><stop offset="1" stop-color="#edc249"/></linearGradient><path d="M580.4 88.3a17 6 0 1 0 34 0a17 6 0 1 0 -34 0zM587.9 88.3a9.5 3.3 0 1 0 19 0a9.5 3.3 0 1 0 -19 0z" fill="url(#gb159)" fill-rule="evenodd"/><linearGradient id="gb160" x2=".5" spreadMethod="reflect"><stop stop-color="#eebb36"/><stop offset=".6" stop-color="#eebe3f"/><stop offset="1" stop-color="#efc24b"/></linearGradient><path d="M580.5 87.8a16.9 5.9 0 1 0 33.9 0a16.9 5.9 0 1 0 -33.9 0zM587.8 87.8a9.6 3.3 0 1 0 19.1 0a9.6 3.3 0 1 0 -19.1 0z" fill="url(#gb160)" fill-rule="evenodd"/><linearGradient id="gb161" x2=".5" spreadMethod="reflect"><stop stop-color="#f0bb39"/><stop offset=".6" stop-color="#f1be42"/><stop offset="1" stop-color="#f2c14c"/></linearGradient><path d="M580.5 87.3a16.9 5.9 0 1 0 33.7 0a16.9 5.9 0 1 0 -33.7 0zM587.8 87.3a9.6 3.4 0 1 0 19.2 0a9.6 3.4 0 1 0 -19.2 0z" fill="url(#gb161)" fill-rule="evenodd"/><linearGradient id="gb162" x2=".5" spreadMethod="reflect"><stop stop-color="#f3bb3b"/><stop offset=".6" stop-color="#f4be43"/><stop offset="1" stop-color="#f4c14e"/></linearGradient><path d="M580.6 86.8a16.8 5.9 0 1 0 33.6 0a16.8 5.9 0 1 0 -33.6 0zM587.8 86.8a9.6 3.4 0 1 0 19.3 0a9.6 3.4 0 1 0 -19.3 0z" fill="url(#gb162)" fill-rule="evenodd"/><linearGradient id="gb163" x2=".5" spreadMethod="reflect"><stop stop-color="#f6bb3d"/><stop offset=".6" stop-color="#f6be45"/><stop offset="1" stop-color="#f7c14f"/></linearGradient><path d="M580.7 86.4a16.7 5.9 0 1 0 33.5 0a16.7 5.9 0 1 0 -33.5 0zM587.7 86.4a9.7 3.4 0 1 0 19.3 0a9.7 3.4 0 1 0 -19.3 0z" fill="url(#gb163)" fill-rule="evenodd"/><linearGradient id="gb164" x2=".5" spreadMethod="reflect"><stop stop-color="#f8bb3f"/><stop offset=".6" stop-color="#f9be47"/><stop offset="1" stop-color="#f9c151"/></linearGradient><path d="M580.7 85.9a16.7 5.8 0 1 0 33.3 0a16.7 5.8 0 1 0 -33.3 0zM587.7 85.9a9.7 3.4 0 1 0 19.4 0a9.7 3.4 0 1 0 -19.4 0z" fill="url(#gb164)" fill-rule="evenodd"/><linearGradient id="gb165" x2=".5" spreadMethod="reflect"><stop stop-color="#fabc3f"/><stop offset=".6" stop-color="#fabf47"/><stop offset="1" stop-color="#fbc250"/></linearGradient><path d="M580.8 85.4a16.6 5.8 0 1 0 33.2 0a16.6 5.8 0 1 0 -33.2 0zM587.7 85.4a9.7 3.4 0 1 0 19.5 0a9.7 3.4 0 1 0 -19.5 0z" fill="url(#gb165)" fill-rule="evenodd"/><linearGradient id="gb166" x2=".5" spreadMethod="reflect"><stop stop-color="#fcbd3f"/><stop offset=".6" stop-color="#fcc046"/><stop offset="1" stop-color="#fcc34f"/></linearGradient><path d="M580.9 84.9a16.5 5.8 0 1 0 33 0a16.5 5.8 0 1 0 -33 0zM587.6 84.9a9.8 3.4 0 1 0 19.6 0a9.8 3.4 0 1 0 -19.6 0z" fill="url(#gb166)" fill-rule="evenodd"/><linearGradient id="gb167" x2=".5" spreadMethod="reflect"><stop stop-color="#febe3f"/><stop offset=".6" stop-color="#fec146"/><stop offset="1" stop-color="#fec44e"/></linearGradient><path d="M581 84.5a16.4 5.8 0 1 0 32.9 0a16.4 5.8 0 1 0 -32.9 0zM587.6 84.5a9.8 3.4 0 1 0 19.6 0a9.8 3.4 0 1 0 -19.6 0z" fill="url(#gb167)" fill-rule="evenodd"/><linearGradient id="gb168" x2=".5" spreadMethod="reflect"><stop stop-color="#fec03d"/><stop offset=".6" stop-color="#fec244"/><stop offset="1" stop-color="#fec54d"/></linearGradient><path d="M581 84a16.4 5.7 0 1 0 32.7 0a16.4 5.7 0 1 0 -32.7 0zM587.5 84a9.9 3.5 0 1 0 19.7 0a9.9 3.5 0 1 0 -19.7 0z" fill="url(#gb168)" fill-rule="evenodd"/><linearGradient id="gb169" x2=".5" spreadMethod="reflect"><stop stop-color="#fec23c"/><stop offset=".6" stop-color="#fec443"/><stop offset="1" stop-color="#fec64b"/></linearGradient><path d="M581.1 83.5a16.3 5.7 0 1 0 32.6 0a16.3 5.7 0 1 0 -32.6 0zM587.5 83.5a9.9 3.5 0 1 0 19.8 0a9.9 3.5 0 1 0 -19.8 0z" fill="url(#gb169)" fill-rule="evenodd"/><linearGradient id="gb170" x2=".5" spreadMethod="reflect"><stop stop-color="#fec33a"/><stop offset=".6" stop-color="#fec541"/><stop offset="1" stop-color="#fec849"/></linearGradient><path d="M581.2 83a16.2 5.7 0 1 0 32.4 0a16.2 5.7 0 1 0 -32.4 0zM587.5 83a9.9 3.5 0 1 0 19.9 0a9.9 3.5 0 1 0 -19.9 0z" fill="url(#gb170)" fill-rule="evenodd"/><linearGradient id="gb171" x2=".5" spreadMethod="reflect"><stop stop-color="#fec539"/><stop offset=".6" stop-color="#fec73f"/><stop offset="1" stop-color="#fec947"/></linearGradient><path d="M581.3 82.6a16.1 5.7 0 1 0 32.3 0a16.1 5.7 0 1 0 -32.3 0zM587.4 82.6a10 3.5 0 1 0 20 0a10 3.5 0 1 0 -20 0z" fill="url(#gb171)" fill-rule="evenodd"/><linearGradient id="gb172" x2=".5" spreadMethod="reflect"><stop stop-color="#fec738"/><stop offset=".6" stop-color="#fec93e"/><stop offset="1" stop-color="#fecb45"/></linearGradient><path d="M581.3 82.1a16.1 5.6 0 1 0 32.1 0a16.1 5.6 0 1 0 -32.1 0zM587.4 82.1a10 3.5 0 1 0 20.1 0a10 3.5 0 1 0 -20.1 0z" fill="url(#gb172)" fill-rule="evenodd"/><linearGradient id="gb173" x2=".5" spreadMethod="reflect"><stop stop-color="#fec936"/><stop offset=".6" stop-color="#feca3c"/><stop offset="1" stop-color="#fecc44"/></linearGradient><path d="M581.4 81.6a16 5.6 0 1 0 32 0a16 5.6 0 1 0 -32 0zM587.3 81.6a10.1 3.5 0 1 0 20.1 0a10.1 3.5 0 1 0 -20.1 0z" fill="url(#gb173)" fill-rule="evenodd"/><linearGradient id="gb174" x2=".5" spreadMethod="reflect"><stop stop-color="#fecb35"/><stop offset=".6" stop-color="#fecc3b"/><stop offset="1" stop-color="#fece42"/></linearGradient><path d="M581.5 81.1a15.9 5.6 0 1 0 31.8 0a15.9 5.6 0 1 0 -31.8 0zM587.3 81.1a10.1 3.5 0 1 0 20.2 0a10.1 3.5 0 1 0 -20.2 0z" fill="url(#gb174)" fill-rule="evenodd"/><linearGradient id="gb175" x2=".5" spreadMethod="reflect"><stop stop-color="#fdcd34"/><stop offset=".6" stop-color="#fdce39"/><stop offset="1" stop-color="#fdd040"/></linearGradient><path d="M581.6 80.7a15.8 5.6 0 1 0 31.7 0a15.8 5.6 0 1 0 -31.7 0zM587.2 80.7a10.2 3.6 0 1 0 20.3 0a10.2 3.6 0 1 0 -20.3 0z" fill="url(#gb175)" fill-rule="evenodd"/><linearGradient id="gb176" x2=".5" spreadMethod="reflect"><stop stop-color="#fdce33"/><stop offset=".6" stop-color="#fdd038"/><stop offset="1" stop-color="#fdd13f"/></linearGradient><path d="M581.7 80.2a15.7 5.5 0 1 0 31.5 0a15.7 5.5 0 1 0 -31.5 0zM587.2 80.2a10.2 3.6 0 1 0 20.4 0a10.2 3.6 0 1 0 -20.4 0z" fill="url(#gb176)" fill-rule="evenodd"/><linearGradient id="gb177" x2=".5" spreadMethod="reflect"><stop stop-color="#fcd031"/><stop offset=".6" stop-color="#fcd237"/><stop offset="1" stop-color="#fcd33d"/></linearGradient><path d="M581.7 79.7a15.7 5.5 0 1 0 31.3 0a15.7 5.5 0 1 0 -31.3 0zM587.2 79.7a10.2 3.6 0 1 0 20.5 0a10.2 3.6 0 1 0 -20.5 0z" fill="url(#gb177)" fill-rule="evenodd"/><linearGradient id="gb178" x2=".5" spreadMethod="reflect"><stop stop-color="#fbd230"/><stop offset=".6" stop-color="#fbd335"/><stop offset="1" stop-color="#fbd53b"/></linearGradient><path d="M581.8 79.2a15.6 5.5 0 1 0 31.2 0a15.6 5.5 0 1 0 -31.2 0zM587.1 79.2a10.3 3.6 0 1 0 20.6 0a10.3 3.6 0 1 0 -20.6 0z" fill="url(#gb178)" fill-rule="evenodd"/><linearGradient id="gb179" x2=".5" spreadMethod="reflect"><stop stop-color="#fad42f"/><stop offset=".6" stop-color="#fad534"/><stop offset="1" stop-color="#fbd73a"/></linearGradient><path d="M581.9 78.8a15.5 5.4 0 1 0 31 0a15.5 5.4 0 1 0 -31 0zM587.1 78.8a10.3 3.6 0 1 0 20.7 0a10.3 3.6 0 1 0 -20.7 0z" fill="url(#gb179)" fill-rule="evenodd"/><linearGradient id="gb180" x2=".5" spreadMethod="reflect"><stop stop-color="#f9d62e"/><stop offset=".6" stop-color="#fad733"/><stop offset="1" stop-color="#fad838"/></linearGradient><path d="M582 78.3a15.4 5.4 0 1 0 30.8 0a15.4 5.4 0 1 0 -30.8 0zM587 78.3a10.4 3.6 0 1 0 20.8 0a10.4 3.6 0 1 0 -20.8 0z" fill="url(#gb180)" fill-rule="evenodd"/><linearGradient id="gb181" x2=".5" spreadMethod="reflect"><stop stop-color="#f9d82d"/><stop offset=".6" stop-color="#f9d932"/><stop offset="1" stop-color="#f9da37"/></linearGradient><path d="M582.1 77.8a15.3 5.4 0 1 0 30.6 0a15.3 5.4 0 1 0 -30.6 0zM587 77.8a10.4 3.7 0 1 0 20.9 0a10.4 3.7 0 1 0 -20.9 0z" fill="url(#gb181)" fill-rule="evenodd"/><linearGradient id="gb182" x2=".5" spreadMethod="reflect"><stop stop-color="#f8da2c"/><stop offset=".6" stop-color="#f8db30"/><stop offset="1" stop-color="#f8dc35"/></linearGradient><path d="M582.2 77.3a15.2 5.3 0 1 0 30.5 0a15.2 5.3 0 1 0 -30.5 0zM586.9 77.3a10.5 3.7 0 1 0 21 0a10.5 3.7 0 1 0 -21 0z" fill="url(#gb182)" fill-rule="evenodd"/><linearGradient id="gb183" x2=".5" spreadMethod="reflect"><stop stop-color="#f7dc2b"/><stop offset=".6" stop-color="#f7dd2f"/><stop offset="1" stop-color="#f7de34"/></linearGradient><path d="M582.3 76.9a15.1 5.3 0 1 0 30.3 0a15.1 5.3 0 1 0 -30.3 0zM586.9 76.9a10.5 3.7 0 1 0 21.1 0a10.5 3.7 0 1 0 -21.1 0z" fill="url(#gb183)" fill-rule="evenodd"/><linearGradient id="gb184" x2=".5" spreadMethod="reflect"><stop stop-color="#f6de2a"/><stop offset=".6" stop-color="#f6df2e"/><stop offset="1" stop-color="#f7e032"/></linearGradient><path d="M582.4 76.4a15 5.3 0 1 0 30.1 0a15 5.3 0 1 0 -30.1 0zM586.8 76.4a10.6 3.7 0 1 0 21.2 0a10.6 3.7 0 1 0 -21.2 0z" fill="url(#gb184)" fill-rule="evenodd"/><linearGradient id="gb185" x2=".5" spreadMethod="reflect"><stop stop-color="#f6e029"/><stop offset=".6" stop-color="#f6e12d"/><stop offset="1" stop-color="#f6e131"/></linearGradient><path d="M582.5 75.9a14.9 5.2 0 1 0 29.9 0a14.9 5.2 0 1 0 -29.9 0zM586.7 75.9a10.7 3.7 0 1 0 21.3 0a10.7 3.7 0 1 0 -21.3 0z" fill="url(#gb185)" fill-rule="evenodd"/><linearGradient id="gb186" x2=".5" spreadMethod="reflect"><stop stop-color="#f5e228"/><stop offset=".6" stop-color="#f5e32c"/><stop offset="1" stop-color="#f6e330"/></linearGradient><path d="M582.6 75.4a14.8 5.2 0 1 0 29.7 0a14.8 5.2 0 1 0 -29.7 0zM586.7 75.4a10.7 3.8 0 1 0 21.4 0a10.7 3.8 0 1 0 -21.4 0z" fill="url(#gb186)" fill-rule="evenodd"/><linearGradient id="gb187" x2=".5" spreadMethod="reflect"><stop stop-color="#f5e427"/><stop offset=".6" stop-color="#f5e52a"/><stop offset="1" stop-color="#f5e52e"/></linearGradient><path d="M582.7 75a14.7 5.2 0 1 0 29.4 0a14.7 5.2 0 1 0 -29.4 0zM586.6 75a10.8 3.8 0 1 0 21.5 0a10.8 3.8 0 1 0 -21.5 0z" fill="url(#gb187)" fill-rule="evenodd"/><linearGradient id="gb188" x2=".5" spreadMethod="reflect"><stop stop-color="#f5e626"/><stop offset=".6" stop-color="#f5e629"/><stop offset="1" stop-color="#f5e72d"/></linearGradient><path d="M582.8 74.5a14.6 5.1 0 1 0 29.2 0a14.6 5.1 0 1 0 -29.2 0zM586.6 74.5a10.8 3.8 0 1 0 21.7 0a10.8 3.8 0 1 0 -21.7 0z" fill="url(#gb188)" fill-rule="evenodd"/><linearGradient id="gb189" x2=".5" spreadMethod="reflect"><stop stop-color="#f5e826"/><stop offset=".6" stop-color="#f5e828"/><stop offset="1" stop-color="#f5e92b"/></linearGradient><path d="M582.9 74a14.5 5.1 0 1 0 29 0a14.5 5.1 0 1 0 -29 0zM586.5 74a10.9 3.8 0 1 0 21.8 0a10.9 3.8 0 1 0 -21.8 0z" fill="url(#gb189)" fill-rule="evenodd"/><linearGradient id="gb190" x2=".5" spreadMethod="reflect"><stop stop-color="#f5ea24"/><stop offset=".6" stop-color="#f5ea27"/><stop offset="1" stop-color="#f5ea29"/></linearGradient><path d="M583 73.5a14.4 5 0 1 0 28.8 0a14.4 5 0 1 0 -28.8 0zM586.4 73.5a11 3.8 0 1 0 21.9 0a11 3.8 0 1 0 -21.9 0z" fill="url(#gb190)" fill-rule="evenodd"/><linearGradient id="gb191" x2=".5" spreadMethod="reflect"><stop stop-color="#f5ec23"/><stop offset=".6" stop-color="#f5ec25"/><stop offset="1" stop-color="#f5ec28"/></linearGradient><path d="M583.2 73.1a14.2 5 0 1 0 28.5 0a14.2 5 0 1 0 -28.5 0zM586.4 73.1a11 3.9 0 1 0 22.1 0a11 3.9 0 1 0 -22.1 0z" fill="url(#gb191)" fill-rule="evenodd"/><linearGradient id="gb192" x2=".5" spreadMethod="reflect"><stop stop-color="#f5ee22"/><stop offset=".6" stop-color="#f5ee23"/><stop offset="1" stop-color="#f6ee26"/></linearGradient><path d="M583.3 72.6a14.1 4.9 0 1 0 28.2 0a14.1 4.9 0 1 0 -28.2 0zM586.3 72.6a11.1 3.9 0 1 0 22.2 0a11.1 3.9 0 1 0 -22.2 0z" fill="url(#gb192)" fill-rule="evenodd"/><linearGradient id="gb193" x2=".5" spreadMethod="reflect"><stop stop-color="#f6f020"/><stop offset=".6" stop-color="#f6f022"/><stop offset="1" stop-color="#f6f024"/></linearGradient><path d="M583.4 72.1a14 4.9 0 1 0 27.9 0a14 4.9 0 1 0 -27.9 0zM586.2 72.1a11.2 3.9 0 1 0 22.4 0a11.2 3.9 0 1 0 -22.4 0z" fill="url(#gb193)" fill-rule="evenodd"/><linearGradient id="gb194" x2=".5" spreadMethod="reflect"><stop stop-color="#f6f11f"/><stop offset=".6" stop-color="#f6f220"/><stop offset="1" stop-color="#f6f221"/></linearGradient><path d="M583.6 71.6a13.8 4.8 0 1 0 27.6 0a13.8 4.8 0 1 0 -27.6 0zM586.1 71.6a11.3 4 0 1 0 22.5 0a11.3 4 0 1 0 -22.5 0z" fill="url(#gb194)" fill-rule="evenodd"/><linearGradient id="gb195" x2=".5" spreadMethod="reflect"><stop stop-color="#f7f31d"/><stop offset=".6" stop-color="#f7f31e"/><stop offset="1" stop-color="#f7f31f"/></linearGradient><path d="M583.8 71.1a13.6 4.8 0 1 0 27.3 0a13.6 4.8 0 1 0 -27.3 0zM586 71.1a11.4 4 0 1 0 22.7 0a11.4 4 0 1 0 -22.7 0z" fill="url(#gb195)" fill-rule="evenodd"/><linearGradient id="gb196" x2=".5" spreadMethod="reflect"><stop stop-color="#f7f51b"/><stop offset=".6" stop-color="#f7f51c"/><stop offset="1" stop-color="#f7f51d"/></linearGradient><path d="M584 70.7a13.4 4.7 0 1 0 26.9 0a13.4 4.7 0 1 0 -26.9 0zM585.9 70.7a11.5 4 0 1 0 22.9 0a11.5 4 0 1 0 -22.9 0z" fill="url(#gb196)" fill-rule="evenodd"/><linearGradient id="gb197" x2=".5" spreadMethod="reflect"><stop stop-color="#f8f719"/><stop offset=".6" stop-color="#f8f71a"/><stop offset="1" stop-color="#f8f71a"/></linearGradient><path d="M584.2 70.2a13.2 4.6 0 1 0 26.4 0a13.2 4.6 0 1 0 -26.4 0zM585.8 70.2a11.6 4.1 0 1 0 23.2 0a11.6 4.1 0 1 0 -23.2 0z" fill="url(#gb197)" fill-rule="evenodd"/><linearGradient id="gb198" x2=".5" spreadMethod="reflect"><stop stop-color="#f8f917"/><stop offset=".6" stop-color="#f8f917"/><stop offset="1" stop-color="#f8f918"/></linearGradient><path d="M584.5 69.7a12.9 4.5 0 1 0 25.9 0a12.9 4.5 0 1 0 -25.9 0zM585.6 69.7a11.8 4.1 0 1 0 23.5 0a11.8 4.1 0 1 0 -23.5 0z" fill="url(#gb198)" fill-rule="evenodd"/><linearGradient id="gb199" x2=".5" spreadMethod="reflect"><stop stop-color="#f9fb15"/><stop offset=".6" stop-color="#f9fb15"/><stop offset="1" stop-color="#f9fb15"/></linearGradient><path d="M585 69.2a12.4 4.3 0 1 0 24.8 0a12.4 4.3 0 1 0 -24.8 0zM585.4 69.2a12 4.2 0 1 0 24.1 0a12 4.2 0 1 0 -24.1 0z" fill="url(#gb199)" fill-rule="evenodd"/></g><g><polyline points="49.7,447 197.7,407.4 310.9,459.4" fill="none" stroke="#ececec" stroke-width="1.1"/><polyline points="49.7,430.7 197.7,391.1 310.9,443.1" fill="none" stroke="#ececec" stroke-width="1.1"/><polyline points="49.7,414.4 197.7,374.8 310.9,426.8" fill="none" stroke="#ececec" stroke-width="1.1"/><polyline points="49.7,398.2 197.7,358.6 310.9,410.6" fill="none" stroke="#ececec" stroke-width="1.1"/><polyline points="49.7,381.9 197.7,342.3 310.9,394.3" fill="none" stroke="#ececec" stroke-width="1.1"/><polyline points="49.7,365.6 197.7,326 310.9,378" fill="none" stroke="#ececec" stroke-width="1.1"/><polyline points="49.7,349.3 197.7,309.7 310.9,361.7" fill="none" stroke="#ececec" stroke-width="1.1"/><line x1="123.7" y1="427.2" x2="123.7" y2="313.2" stroke="#ececec" stroke-width="1.1"/><line x1="197.7" y1="407.4" x2="197.7" y2="293.4" stroke="#ececec" stroke-width="1.1"/><line x1="254.3" y1="433.4" x2="254.3" y2="319.4" stroke="#ececec" stroke-width="1.1"/><line x1="310.9" y1="459.4" x2="310.9" y2="345.4" stroke="#ececec" stroke-width="1.1"/><line x1="49.7" y1="447" x2="49.7" y2="333" stroke="#c4c4c4" stroke-width="1.4"/><line x1="49.7" y1="447" x2="46.5" y2="445.5" stroke="#555" stroke-width="0.6"/><line x1="49.7" y1="430.7" x2="46.5" y2="429.3" stroke="#555" stroke-width="0.6"/><line x1="49.7" y1="414.4" x2="46.5" y2="413" stroke="#555" stroke-width="0.6"/><line x1="49.7" y1="398.2" x2="46.5" y2="396.7" stroke="#555" stroke-width="0.6"/><line x1="49.7" y1="381.9" x2="46.5" y2="380.4" stroke="#555" stroke-width="0.6"/><line x1="49.7" y1="365.6" x2="46.5" y2="364.1" stroke="#555" stroke-width="0.6"/><line x1="49.7" y1="349.3" x2="46.5" y2="347.9" stroke="#555" stroke-width="0.6"/><line x1="162.8" y1="499" x2="159.1" y2="500" stroke="#555" stroke-width="0.6"/><line x1="106.2" y1="473" x2="102.6" y2="474" stroke="#555" stroke-width="0.6"/><line x1="49.7" y1="447" x2="46" y2="448" stroke="#555" stroke-width="0.6"/><line x1="162.8" y1="499" x2="166.3" y2="500.6" stroke="#555" stroke-width="0.6"/><line x1="236.8" y1="479.2" x2="240.3" y2="480.8" stroke="#555" stroke-width="0.6"/><line x1="310.9" y1="459.4" x2="314.4" y2="461" stroke="#555" stroke-width="0.6"/><polygon points="49.7,447 162.8,499 310.9,459.4 197.7,407.4" fill="#3d25b0"/><linearGradient id="gc0" x2=".5" spreadMethod="reflect"><stop stop-color="#422cb3"/><stop offset=".6" stop-color="#4c37b7"/><stop offset="1" stop-color="#5845bc"/></linearGradient><path d="M137.5 446a37.6 13.2 0 1 0 75.1 0a37.6 13.2 0 1 0 -75.1 0zM173.3 446a1.8 0.6 0 1 0 3.7 0a1.8 0.6 0 1 0 -3.7 0z" fill="url(#gc0)" fill-rule="evenodd"/><linearGradient id="gc1" x2=".5" spreadMethod="reflect"><stop stop-color="#442fb7"/><stop offset=".6" stop-color="#513dbc"/><stop offset="1" stop-color="#614fc2"/></linearGradient><path d="M138.5 445.6a36.6 12.9 0 1 0 73.3 0a36.6 12.9 0 1 0 -73.3 0zM172.8 445.6a2.3 0.8 0 1 0 4.7 0a2.3 0.8 0 1 0 -4.7 0z" fill="url(#gc1)" fill-rule="evenodd"/><linearGradient id="gc2" x2=".5" spreadMethod="reflect"><stop stop-color="#4531ba"/><stop offset=".6" stop-color="#5543c0"/><stop offset="1" stop-color="#6958c8"/></linearGradient><path d="M139.2 445.2a35.9 12.6 0 1 0 71.9 0a35.9 12.6 0 1 0 -71.9 0zM172.4 445.2a2.7 1 0 1 0 5.5 0a2.7 1 0 1 0 -5.5 0z" fill="url(#gc2)" fill-rule="evenodd"/><linearGradient id="gc3" x2=".5" spreadMethod="reflect"><stop stop-color="#4733be"/><stop offset=".6" stop-color="#5948c5"/><stop offset="1" stop-color="#7061cd"/></linearGradient><path d="M139.7 444.8a35.4 12.4 0 1 0 70.7 0a35.4 12.4 0 1 0 -70.7 0zM172 444.8a3.1 1.1 0 1 0 6.1 0a3.1 1.1 0 1 0 -6.1 0z" fill="url(#gc3)" fill-rule="evenodd"/><linearGradient id="gc4" x2=".5" spreadMethod="reflect"><stop stop-color="#4835c2"/><stop offset=".6" stop-color="#5d4cc9"/><stop offset="1" stop-color="#7668d1"/></linearGradient><path d="M140.2 444.3a34.9 12.2 0 1 0 69.7 0a34.9 12.2 0 1 0 -69.7 0zM171.8 444.3a3.3 1.2 0 1 0 6.7 0a3.3 1.2 0 1 0 -6.7 0z" fill="url(#gc4)" fill-rule="evenodd"/><linearGradient id="gc5" x2=".5" spreadMethod="reflect"><stop stop-color="#4937c5"/><stop offset=".6" stop-color="#6050cc"/><stop offset="1" stop-color="#7b6ed5"/></linearGradient><path d="M140.7 443.9a34.4 12.1 0 1 0 68.9 0a34.4 12.1 0 1 0 -68.9 0zM171.5 443.9a3.6 1.3 0 1 0 7.1 0a3.6 1.3 0 1 0 -7.1 0z" fill="url(#gc5)" fill-rule="evenodd"/><linearGradient id="gc6" x2=".5" spreadMethod="reflect"><stop stop-color="#4a39c9"/><stop offset=".6" stop-color="#6253d0"/><stop offset="1" stop-color="#8074d9"/></linearGradient><path d="M141.1 443.5a34 11.9 0 1 0 68.1 0a34 11.9 0 1 0 -68.1 0zM171.3 443.5a3.8 1.3 0 1 0 7.6 0a3.8 1.3 0 1 0 -7.6 0z" fill="url(#gc6)" fill-rule="evenodd"/><linearGradient id="gc7" x2=".5" spreadMethod="reflect"><stop stop-color="#4b3bcc"/><stop offset=".6" stop-color="#6557d4"/><stop offset="1" stop-color="#8479dc"/></linearGradient><path d="M141.4 443.1a33.7 11.8 0 1 0 67.4 0a33.7 11.8 0 1 0 -67.4 0zM171.1 443.1a4 1.4 0 1 0 7.9 0a4 1.4 0 1 0 -7.9 0z" fill="url(#gc7)" fill-rule="evenodd"/><linearGradient id="gc8" x2=".5" spreadMethod="reflect"><stop stop-color="#4c3cd0"/><stop offset=".6" stop-color="#675ad7"/><stop offset="1" stop-color="#887ddf"/></linearGradient><path d="M141.7 442.7a33.4 11.7 0 1 0 66.8 0a33.4 11.7 0 1 0 -66.8 0zM171 442.7a4.1 1.5 0 1 0 8.3 0a4.1 1.5 0 1 0 -8.3 0z" fill="url(#gc8)" fill-rule="evenodd"/><linearGradient id="gc9" x2=".5" spreadMethod="reflect"><stop stop-color="#4d3ed3"/><stop offset=".6" stop-color="#695cda"/><stop offset="1" stop-color="#8b81e2"/></linearGradient><path d="M142 442.3a33.1 11.6 0 1 0 66.2 0a33.1 11.6 0 1 0 -66.2 0zM170.8 442.3a4.3 1.5 0 1 0 8.6 0a4.3 1.5 0 1 0 -8.6 0z" fill="url(#gc9)" fill-rule="evenodd"/><linearGradient id="gc10" x2=".5" spreadMethod="reflect"><stop stop-color="#4e40d6"/><stop offset=".6" stop-color="#6a5fdd"/><stop offset="1" stop-color="#8e85e5"/></linearGradient><path d="M142.3 441.9a32.8 11.5 0 1 0 65.6 0a32.8 11.5 0 1 0 -65.6 0zM170.6 441.9a4.5 1.6 0 1 0 8.9 0a4.5 1.6 0 1 0 -8.9 0z" fill="url(#gc10)" fill-rule="evenodd"/><linearGradient id="gc11" x2=".5" spreadMethod="reflect"><stop stop-color="#4e41d9"/><stop offset=".6" stop-color="#6c61df"/><stop offset="1" stop-color="#9088e7"/></linearGradient><path d="M142.5 441.5a32.6 11.4 0 1 0 65.1 0a32.6 11.4 0 1 0 -65.1 0zM170.5 441.5a4.6 1.6 0 1 0 9.2 0a4.6 1.6 0 1 0 -9.2 0z" fill="url(#gc11)" fill-rule="evenodd"/><linearGradient id="gc12" x2=".5" spreadMethod="reflect"><stop stop-color="#4f43dc"/><stop offset=".6" stop-color="#6d64e2"/><stop offset="1" stop-color="#928be9"/></linearGradient><path d="M142.8 441a32.3 11.3 0 1 0 64.6 0a32.3 11.3 0 1 0 -64.6 0zM170.4 441a4.7 1.7 0 1 0 9.5 0a4.7 1.7 0 1 0 -9.5 0z" fill="url(#gc12)" fill-rule="evenodd"/><linearGradient id="gc13" x2=".5" spreadMethod="reflect"><stop stop-color="#4f45de"/><stop offset=".6" stop-color="#6e66e4"/><stop offset="1" stop-color="#948eeb"/></linearGradient><path d="M143 440.6a32.1 11.3 0 1 0 64.2 0a32.1 11.3 0 1 0 -64.2 0zM170.2 440.6a4.9 1.7 0 1 0 9.7 0a4.9 1.7 0 1 0 -9.7 0z" fill="url(#gc13)" fill-rule="evenodd"/><linearGradient id="gc14" x2=".5" spreadMethod="reflect"><stop stop-color="#5046e1"/><stop offset=".6" stop-color="#6f68e6"/><stop offset="1" stop-color="#9690ed"/></linearGradient><path d="M143.2 440.2a31.9 11.2 0 1 0 63.7 0a31.9 11.2 0 1 0 -63.7 0zM170.1 440.2a5 1.7 0 1 0 9.9 0a5 1.7 0 1 0 -9.9 0z" fill="url(#gc14)" fill-rule="evenodd"/><linearGradient id="gc15" x2=".5" spreadMethod="reflect"><stop stop-color="#5048e3"/><stop offset=".6" stop-color="#706ae8"/><stop offset="1" stop-color="#9792ee"/></linearGradient><path d="M143.4 439.8a31.7 11.1 0 1 0 63.3 0a31.7 11.1 0 1 0 -63.3 0zM170 439.8a5.1 1.8 0 1 0 10.2 0a5.1 1.8 0 1 0 -10.2 0z" fill="url(#gc15)" fill-rule="evenodd"/><linearGradient id="gc16" x2=".5" spreadMethod="reflect"><stop stop-color="#514ae5"/><stop offset=".6" stop-color="#716cea"/><stop offset="1" stop-color="#9894f0"/></linearGradient><path d="M143.6 439.4a31.5 11 0 1 0 62.9 0a31.5 11 0 1 0 -62.9 0zM169.9 439.4a5.2 1.8 0 1 0 10.4 0a5.2 1.8 0 1 0 -10.4 0z" fill="url(#gc16)" fill-rule="evenodd"/><linearGradient id="gc17" x2=".5" spreadMethod="reflect"><stop stop-color="#514ce7"/><stop offset=".6" stop-color="#716dec"/><stop offset="1" stop-color="#9996f1"/></linearGradient><path d="M143.8 439a31.3 11 0 1 0 62.6 0a31.3 11 0 1 0 -62.6 0zM169.8 439a5.3 1.9 0 1 0 10.6 0a5.3 1.9 0 1 0 -10.6 0z" fill="url(#gc17)" fill-rule="evenodd"/><linearGradient id="gc18" x2=".5" spreadMethod="reflect"><stop stop-color="#514ee9"/><stop offset=".6" stop-color="#726fed"/><stop offset="1" stop-color="#9a98f2"/></linearGradient><path d="M144 438.6a31.1 10.9 0 1 0 62.2 0a31.1 10.9 0 1 0 -62.2 0zM169.7 438.6a5.4 1.9 0 1 0 10.8 0a5.4 1.9 0 1 0 -10.8 0z" fill="url(#gc18)" fill-rule="evenodd"/><linearGradient id="gc19" x2=".5" spreadMethod="reflect"><stop stop-color="#514feb"/><stop offset=".6" stop-color="#7271ee"/><stop offset="1" stop-color="#9b99f3"/></linearGradient><path d="M144.2 438.1a30.9 10.8 0 1 0 61.9 0a30.9 10.8 0 1 0 -61.9 0zM169.6 438.1a5.5 1.9 0 1 0 11 0a5.5 1.9 0 1 0 -11 0z" fill="url(#gc19)" fill-rule="evenodd"/><linearGradient id="gc20" x2=".5" spreadMethod="reflect"><stop stop-color="#5251ec"/><stop offset=".6" stop-color="#7372f0"/><stop offset="1" stop-color="#9b9bf4"/></linearGradient><path d="M144.3 437.7a30.8 10.8 0 1 0 61.5 0a30.8 10.8 0 1 0 -61.5 0zM169.5 437.7a5.6 2 0 1 0 11.2 0a5.6 2 0 1 0 -11.2 0z" fill="url(#gc20)" fill-rule="evenodd"/><linearGradient id="gc21" x2=".5" spreadMethod="reflect"><stop stop-color="#5253ee"/><stop offset=".6" stop-color="#7374f1"/><stop offset="1" stop-color="#9b9cf5"/></linearGradient><path d="M144.5 437.3a30.6 10.7 0 1 0 61.2 0a30.6 10.7 0 1 0 -61.2 0zM169.4 437.3a5.7 2 0 1 0 11.4 0a5.7 2 0 1 0 -11.4 0z" fill="url(#gc21)" fill-rule="evenodd"/><linearGradient id="gc22" x2=".5" spreadMethod="reflect"><stop stop-color="#5254ef"/><stop offset=".6" stop-color="#7375f2"/><stop offset="1" stop-color="#9c9df6"/></linearGradient><path d="M144.7 436.9a30.4 10.7 0 1 0 60.9 0a30.4 10.7 0 1 0 -60.9 0zM169.3 436.9a5.8 2 0 1 0 11.5 0a5.8 2 0 1 0 -11.5 0z" fill="url(#gc22)" fill-rule="evenodd"/><linearGradient id="gc23" x2=".5" spreadMethod="reflect"><stop stop-color="#5256f1"/><stop offset=".6" stop-color="#7377f3"/><stop offset="1" stop-color="#9c9ef7"/></linearGradient><path d="M144.8 436.5a30.3 10.6 0 1 0 60.6 0a30.3 10.6 0 1 0 -60.6 0zM169.3 436.5a5.8 2 0 1 0 11.7 0a5.8 2 0 1 0 -11.7 0z" fill="url(#gc23)" fill-rule="evenodd"/><linearGradient id="gc24" x2=".5" spreadMethod="reflect"><stop stop-color="#5258f2"/><stop offset=".6" stop-color="#7378f4"/><stop offset="1" stop-color="#9ca0f8"/></linearGradient><path d="M145 436.1a30.1 10.6 0 1 0 60.3 0a30.1 10.6 0 1 0 -60.3 0zM169.2 436.1a5.9 2.1 0 1 0 11.9 0a5.9 2.1 0 1 0 -11.9 0z" fill="url(#gc24)" fill-rule="evenodd"/><linearGradient id="gc25" x2=".5" spreadMethod="reflect"><stop stop-color="#525af3"/><stop offset=".6" stop-color="#7379f5"/><stop offset="1" stop-color="#9ca0f8"/></linearGradient><path d="M145.1 435.7a30 10.5 0 1 0 60 0a30 10.5 0 1 0 -60 0zM169.1 435.7a6 2.1 0 1 0 12 0a6 2.1 0 1 0 -12 0z" fill="url(#gc25)" fill-rule="evenodd"/><linearGradient id="gc26" x2=".5" spreadMethod="reflect"><stop stop-color="#525bf4"/><stop offset=".6" stop-color="#737bf6"/><stop offset="1" stop-color="#9ca1f9"/></linearGradient><path d="M145.2 435.3a29.9 10.5 0 1 0 59.7 0a29.9 10.5 0 1 0 -59.7 0zM169 435.3a6.1 2.1 0 1 0 12.2 0a6.1 2.1 0 1 0 -12.2 0z" fill="url(#gc26)" fill-rule="evenodd"/><linearGradient id="gc27" x2=".5" spreadMethod="reflect"><stop stop-color="#525df6"/><stop offset=".6" stop-color="#737cf7"/><stop offset="1" stop-color="#9ca2fa"/></linearGradient><path d="M145.4 434.8a29.7 10.4 0 1 0 59.4 0a29.7 10.4 0 1 0 -59.4 0zM168.9 434.8a6.2 2.2 0 1 0 12.3 0a6.2 2.2 0 1 0 -12.3 0z" fill="url(#gc27)" fill-rule="evenodd"/><linearGradient id="gc28" x2=".5" spreadMethod="reflect"><stop stop-color="#525ff7"/><stop offset=".6" stop-color="#737df8"/><stop offset="1" stop-color="#9ca3fa"/></linearGradient><path d="M145.5 434.4a29.6 10.4 0 1 0 59.2 0a29.6 10.4 0 1 0 -59.2 0zM168.9 434.4a6.2 2.2 0 1 0 12.5 0a6.2 2.2 0 1 0 -12.5 0z" fill="url(#gc28)" fill-rule="evenodd"/><linearGradient id="gc29" x2=".5" spreadMethod="reflect"><stop stop-color="#5160f8"/><stop offset=".6" stop-color="#737ff9"/><stop offset="1" stop-color="#9ba4fb"/></linearGradient><path d="M145.6 434a29.5 10.3 0 1 0 58.9 0a29.5 10.3 0 1 0 -58.9 0zM168.8 434a6.3 2.2 0 1 0 12.6 0a6.3 2.2 0 1 0 -12.6 0z" fill="url(#gc29)" fill-rule="evenodd"/><linearGradient id="gc30" x2=".5" spreadMethod="reflect"><stop stop-color="#5162f9"/><stop offset=".6" stop-color="#7280fa"/><stop offset="1" stop-color="#9ba5fb"/></linearGradient><path d="M145.8 433.6a29.3 10.3 0 1 0 58.7 0a29.3 10.3 0 1 0 -58.7 0zM168.7 433.6a6.4 2.2 0 1 0 12.7 0a6.4 2.2 0 1 0 -12.7 0z" fill="url(#gc30)" fill-rule="evenodd"/><linearGradient id="gc31" x2=".5" spreadMethod="reflect"><stop stop-color="#5163f9"/><stop offset=".6" stop-color="#7281fa"/><stop offset="1" stop-color="#9ba5fc"/></linearGradient><path d="M145.9 433.2a29.2 10.2 0 1 0 58.4 0a29.2 10.2 0 1 0 -58.4 0zM168.7 433.2a6.4 2.3 0 1 0 12.9 0a6.4 2.3 0 1 0 -12.9 0z" fill="url(#gc31)" fill-rule="evenodd"/><linearGradient id="gc32" x2=".5" spreadMethod="reflect"><stop stop-color="#5165fa"/><stop offset=".6" stop-color="#7282fb"/><stop offset="1" stop-color="#9aa6fc"/></linearGradient><path d="M146 432.8a29.1 10.2 0 1 0 58.2 0a29.1 10.2 0 1 0 -58.2 0zM168.6 432.8a6.5 2.3 0 1 0 13 0a6.5 2.3 0 1 0 -13 0z" fill="url(#gc32)" fill-rule="evenodd"/><linearGradient id="gc33" x2=".5" spreadMethod="reflect"><stop stop-color="#5067fb"/><stop offset=".6" stop-color="#7184fc"/><stop offset="1" stop-color="#9aa7fd"/></linearGradient><path d="M146.1 432.4a29 10.2 0 1 0 57.9 0a29 10.2 0 1 0 -57.9 0zM168.5 432.4a6.6 2.3 0 1 0 13.1 0a6.6 2.3 0 1 0 -13.1 0z" fill="url(#gc33)" fill-rule="evenodd"/><linearGradient id="gc34" x2=".5" spreadMethod="reflect"><stop stop-color="#5068fc"/><stop offset=".6" stop-color="#7185fc"/><stop offset="1" stop-color="#99a7fd"/></linearGradient><path d="M146.2 432a28.9 10.1 0 1 0 57.7 0a28.9 10.1 0 1 0 -57.7 0zM168.5 432a6.6 2.3 0 1 0 13.3 0a6.6 2.3 0 1 0 -13.3 0z" fill="url(#gc34)" fill-rule="evenodd"/><linearGradient id="gc35" x2=".5" spreadMethod="reflect"><stop stop-color="#4f6afc"/><stop offset=".6" stop-color="#7086fd"/><stop offset="1" stop-color="#99a8fd"/></linearGradient><path d="M146.4 431.5a28.7 10.1 0 1 0 57.5 0a28.7 10.1 0 1 0 -57.5 0zM168.4 431.5a6.7 2.3 0 1 0 13.4 0a6.7 2.3 0 1 0 -13.4 0z" fill="url(#gc35)" fill-rule="evenodd"/><linearGradient id="gc36" x2=".5" spreadMethod="reflect"><stop stop-color="#4f6cfd"/><stop offset=".6" stop-color="#7087fd"/><stop offset="1" stop-color="#98a9fe"/></linearGradient><path d="M146.5 431.1a28.6 10 0 1 0 57.3 0a28.6 10 0 1 0 -57.3 0zM168.3 431.1a6.8 2.4 0 1 0 13.5 0a6.8 2.4 0 1 0 -13.5 0z" fill="url(#gc36)" fill-rule="evenodd"/><linearGradient id="gc37" x2=".5" spreadMethod="reflect"><stop stop-color="#4e6dfd"/><stop offset=".6" stop-color="#6f88fd"/><stop offset="1" stop-color="#97aafe"/></linearGradient><path d="M146.6 430.7a28.5 10 0 1 0 57 0a28.5 10 0 1 0 -57 0zM168.3 430.7a6.8 2.4 0 1 0 13.6 0a6.8 2.4 0 1 0 -13.6 0z" fill="url(#gc37)" fill-rule="evenodd"/><linearGradient id="gc38" x2=".5" spreadMethod="reflect"><stop stop-color="#4d6ffd"/><stop offset=".6" stop-color="#6e8afe"/><stop offset="1" stop-color="#96aafe"/></linearGradient><path d="M146.7 430.3a28.4 10 0 1 0 56.8 0a28.4 10 0 1 0 -56.8 0zM168.2 430.3a6.9 2.4 0 1 0 13.8 0a6.9 2.4 0 1 0 -13.8 0z" fill="url(#gc38)" fill-rule="evenodd"/><linearGradient id="gc39" x2=".5" spreadMethod="reflect"><stop stop-color="#4c71fe"/><stop offset=".6" stop-color="#6d8bfe"/><stop offset="1" stop-color="#95abfe"/></linearGradient><path d="M146.8 429.9a28.3 9.9 0 1 0 56.6 0a28.3 9.9 0 1 0 -56.6 0zM168.2 429.9a6.9 2.4 0 1 0 13.9 0a6.9 2.4 0 1 0 -13.9 0z" fill="url(#gc39)" fill-rule="evenodd"/><linearGradient id="gc40" x2=".5" spreadMethod="reflect"><stop stop-color="#4b72fe"/><stop offset=".6" stop-color="#6c8cfe"/><stop offset="1" stop-color="#94acfe"/></linearGradient><path d="M146.9 429.5a28.2 9.9 0 1 0 56.4 0a28.2 9.9 0 1 0 -56.4 0zM168.1 429.5a7 2.5 0 1 0 14 0a7 2.5 0 1 0 -14 0z" fill="url(#gc40)" fill-rule="evenodd"/><linearGradient id="gc41" x2=".5" spreadMethod="reflect"><stop stop-color="#4a74fe"/><stop offset=".6" stop-color="#6b8dfe"/><stop offset="1" stop-color="#93acff"/></linearGradient><path d="M147 429.1a28.1 9.9 0 1 0 56.2 0a28.1 9.9 0 1 0 -56.2 0zM168 429.1a7.1 2.5 0 1 0 14.1 0a7.1 2.5 0 1 0 -14.1 0z" fill="url(#gc41)" fill-rule="evenodd"/><linearGradient id="gc42" x2=".5" spreadMethod="reflect"><stop stop-color="#4976ff"/><stop offset=".6" stop-color="#6a8fff"/><stop offset="1" stop-color="#92adff"/></linearGradient><path d="M147.1 428.6a28 9.8 0 1 0 56 0a28 9.8 0 1 0 -56 0zM168 428.6a7.1 2.5 0 1 0 14.2 0a7.1 2.5 0 1 0 -14.2 0z" fill="url(#gc42)" fill-rule="evenodd"/><linearGradient id="gc43" x2=".5" spreadMethod="reflect"><stop stop-color="#4778ff"/><stop offset=".6" stop-color="#6890ff"/><stop offset="1" stop-color="#91aeff"/></linearGradient><path d="M147.2 428.2a27.9 9.8 0 1 0 55.8 0a27.9 9.8 0 1 0 -55.8 0zM167.9 428.2a7.2 2.5 0 1 0 14.3 0a7.2 2.5 0 1 0 -14.3 0z" fill="url(#gc43)" fill-rule="evenodd"/><linearGradient id="gc44" x2=".5" spreadMethod="reflect"><stop stop-color="#457aff"/><stop offset=".6" stop-color="#6691ff"/><stop offset="1" stop-color="#8fafff"/></linearGradient><path d="M147.3 427.8a27.8 9.7 0 1 0 55.6 0a27.8 9.7 0 1 0 -55.6 0zM167.9 427.8a7.2 2.5 0 1 0 14.4 0a7.2 2.5 0 1 0 -14.4 0z" fill="url(#gc44)" fill-rule="evenodd"/><linearGradient id="gc45" x2=".5" spreadMethod="reflect"><stop stop-color="#437bfe"/><stop offset=".6" stop-color="#6593ff"/><stop offset="1" stop-color="#8eafff"/></linearGradient><path d="M147.4 427.4a27.7 9.7 0 1 0 55.4 0a27.7 9.7 0 1 0 -55.4 0zM167.8 427.4a7.3 2.5 0 1 0 14.5 0a7.3 2.5 0 1 0 -14.5 0z" fill="url(#gc45)" fill-rule="evenodd"/><linearGradient id="gc46" x2=".5" spreadMethod="reflect"><stop stop-color="#427dfe"/><stop offset=".6" stop-color="#6394fe"/><stop offset="1" stop-color="#8cb0fe"/></linearGradient><path d="M147.5 427a27.6 9.7 0 1 0 55.2 0a27.6 9.7 0 1 0 -55.2 0zM167.8 427a7.3 2.6 0 1 0 14.6 0a7.3 2.6 0 1 0 -14.6 0z" fill="url(#gc46)" fill-rule="evenodd"/><linearGradient id="gc47" x2=".5" spreadMethod="reflect"><stop stop-color="#407ffd"/><stop offset=".6" stop-color="#6195fe"/><stop offset="1" stop-color="#8ab1fe"/></linearGradient><path d="M147.6 426.6a27.5 9.6 0 1 0 55 0a27.5 9.6 0 1 0 -55 0zM167.7 426.6a7.4 2.6 0 1 0 14.7 0a7.4 2.6 0 1 0 -14.7 0z" fill="url(#gc47)" fill-rule="evenodd"/><linearGradient id="gc48" x2=".5" spreadMethod="reflect"><stop stop-color="#3e81fd"/><stop offset=".6" stop-color="#5f97fd"/><stop offset="1" stop-color="#89b2fe"/></linearGradient><path d="M147.7 426.2a27.4 9.6 0 1 0 54.8 0a27.4 9.6 0 1 0 -54.8 0zM167.7 426.2a7.4 2.6 0 1 0 14.8 0a7.4 2.6 0 1 0 -14.8 0z" fill="url(#gc48)" fill-rule="evenodd"/><linearGradient id="gc49" x2=".5" spreadMethod="reflect"><stop stop-color="#3c83fc"/><stop offset=".6" stop-color="#5e98fd"/><stop offset="1" stop-color="#87b2fd"/></linearGradient><path d="M147.8 425.8a27.3 9.6 0 1 0 54.7 0a27.3 9.6 0 1 0 -54.7 0zM167.6 425.8a7.5 2.6 0 1 0 14.9 0a7.5 2.6 0 1 0 -14.9 0z" fill="url(#gc49)" fill-rule="evenodd"/><linearGradient id="gc50" x2=".5" spreadMethod="reflect"><stop stop-color="#3b84fc"/><stop offset=".6" stop-color="#5d99fc"/><stop offset="1" stop-color="#86b3fd"/></linearGradient><path d="M147.9 425.3a27.2 9.6 0 1 0 54.5 0a27.2 9.6 0 1 0 -54.5 0zM167.6 425.3a7.5 2.6 0 1 0 15 0a7.5 2.6 0 1 0 -15 0z" fill="url(#gc50)" fill-rule="evenodd"/><linearGradient id="gc51" x2=".5" spreadMethod="reflect"><stop stop-color="#3a86fb"/><stop offset=".6" stop-color="#5c9bfc"/><stop offset="1" stop-color="#85b4fc"/></linearGradient><path d="M148 424.9a27.1 9.5 0 1 0 54.3 0a27.1 9.5 0 1 0 -54.3 0zM167.5 424.9a7.6 2.7 0 1 0 15.1 0a7.6 2.7 0 1 0 -15.1 0z" fill="url(#gc51)" fill-rule="evenodd"/><linearGradient id="gc52" x2=".5" spreadMethod="reflect"><stop stop-color="#3988fa"/><stop offset=".6" stop-color="#5b9cfb"/><stop offset="1" stop-color="#84b5fc"/></linearGradient><path d="M148 424.5a27.1 9.5 0 1 0 54.1 0a27.1 9.5 0 1 0 -54.1 0zM167.5 424.5a7.6 2.7 0 1 0 15.2 0a7.6 2.7 0 1 0 -15.2 0z" fill="url(#gc52)" fill-rule="evenodd"/><linearGradient id="gc53" x2=".5" spreadMethod="reflect"><stop stop-color="#3989f9"/><stop offset=".6" stop-color="#5a9dfa"/><stop offset="1" stop-color="#83b5fb"/></linearGradient><path d="M148.1 424.1a27 9.5 0 1 0 53.9 0a27 9.5 0 1 0 -53.9 0zM167.4 424.1a7.7 2.7 0 1 0 15.3 0a7.7 2.7 0 1 0 -15.3 0z" fill="url(#gc53)" fill-rule="evenodd"/><linearGradient id="gc54" x2=".5" spreadMethod="reflect"><stop stop-color="#388bf8"/><stop offset=".6" stop-color="#599ef9"/><stop offset="1" stop-color="#82b6fb"/></linearGradient><path d="M148.2 423.7a26.9 9.4 0 1 0 53.8 0a26.9 9.4 0 1 0 -53.8 0zM167.4 423.7a7.7 2.7 0 1 0 15.4 0a7.7 2.7 0 1 0 -15.4 0z" fill="url(#gc54)" fill-rule="evenodd"/><linearGradient id="gc55" x2=".5" spreadMethod="reflect"><stop stop-color="#388cf7"/><stop offset=".6" stop-color="#599ff9"/><stop offset="1" stop-color="#81b7fa"/></linearGradient><path d="M148.3 423.3a26.8 9.4 0 1 0 53.6 0a26.8 9.4 0 1 0 -53.6 0zM167.3 423.3a7.8 2.7 0 1 0 15.5 0a7.8 2.7 0 1 0 -15.5 0z" fill="url(#gc55)" fill-rule="evenodd"/><linearGradient id="gc56" x2=".5" spreadMethod="reflect"><stop stop-color="#378ef6"/><stop offset=".6" stop-color="#58a1f8"/><stop offset="1" stop-color="#81b7f9"/></linearGradient><path d="M148.4 422.9a26.7 9.4 0 1 0 53.4 0a26.7 9.4 0 1 0 -53.4 0zM167.3 422.9a7.8 2.7 0 1 0 15.6 0a7.8 2.7 0 1 0 -15.6 0z" fill="url(#gc56)" fill-rule="evenodd"/><linearGradient id="gc57" x2=".5" spreadMethod="reflect"><stop stop-color="#378ff5"/><stop offset=".6" stop-color="#58a2f7"/><stop offset="1" stop-color="#80b8f9"/></linearGradient><path d="M148.5 422.4a26.6 9.3 0 1 0 53.3 0a26.6 9.3 0 1 0 -53.3 0zM167.2 422.4a7.9 2.8 0 1 0 15.7 0a7.9 2.8 0 1 0 -15.7 0z" fill="url(#gc57)" fill-rule="evenodd"/><linearGradient id="gc58" x2=".5" spreadMethod="reflect"><stop stop-color="#3791f4"/><stop offset=".6" stop-color="#57a3f6"/><stop offset="1" stop-color="#7fb9f8"/></linearGradient><path d="M148.6 422a26.5 9.3 0 1 0 53.1 0a26.5 9.3 0 1 0 -53.1 0zM167.2 422a7.9 2.8 0 1 0 15.8 0a7.9 2.8 0 1 0 -15.8 0z" fill="url(#gc58)" fill-rule="evenodd"/><linearGradient id="gc59" x2=".5" spreadMethod="reflect"><stop stop-color="#3693f3"/><stop offset=".6" stop-color="#57a4f5"/><stop offset="1" stop-color="#7eb9f7"/></linearGradient><path d="M148.6 421.6a26.5 9.3 0 1 0 52.9 0a26.5 9.3 0 1 0 -52.9 0zM167.2 421.6a7.9 2.8 0 1 0 15.9 0a7.9 2.8 0 1 0 -15.9 0z" fill="url(#gc59)" fill-rule="evenodd"/><linearGradient id="gc60" x2=".5" spreadMethod="reflect"><stop stop-color="#3694f1"/><stop offset=".6" stop-color="#56a5f4"/><stop offset="1" stop-color="#7dbaf6"/></linearGradient><path d="M148.7 421.2a26.4 9.3 0 1 0 52.8 0a26.4 9.3 0 1 0 -52.8 0zM167.1 421.2a8 2.8 0 1 0 16 0a8 2.8 0 1 0 -16 0z" fill="url(#gc60)" fill-rule="evenodd"/><linearGradient id="gc61" x2=".5" spreadMethod="reflect"><stop stop-color="#3596f0"/><stop offset=".6" stop-color="#55a6f2"/><stop offset="1" stop-color="#7dbbf5"/></linearGradient><path d="M148.8 420.8a26.3 9.2 0 1 0 52.6 0a26.3 9.2 0 1 0 -52.6 0zM167.1 420.8a8 2.8 0 1 0 16.1 0a8 2.8 0 1 0 -16.1 0z" fill="url(#gc61)" fill-rule="evenodd"/><linearGradient id="gc62" x2=".5" spreadMethod="reflect"><stop stop-color="#3497ef"/><stop offset=".6" stop-color="#54a8f1"/><stop offset="1" stop-color="#7bbcf5"/></linearGradient><path d="M148.9 420.4a26.2 9.2 0 1 0 52.4 0a26.2 9.2 0 1 0 -52.4 0zM167 420.4a8.1 2.8 0 1 0 16.2 0a8.1 2.8 0 1 0 -16.2 0z" fill="url(#gc62)" fill-rule="evenodd"/><linearGradient id="gc63" x2=".5" spreadMethod="reflect"><stop stop-color="#3399ee"/><stop offset=".6" stop-color="#53a9f1"/><stop offset="1" stop-color="#7abcf4"/></linearGradient><path d="M149 420a26.1 9.2 0 1 0 52.3 0a26.1 9.2 0 1 0 -52.3 0zM167 420a8.1 2.8 0 1 0 16.3 0a8.1 2.8 0 1 0 -16.3 0z" fill="url(#gc63)" fill-rule="evenodd"/><linearGradient id="gc64" x2=".5" spreadMethod="reflect"><stop stop-color="#329aed"/><stop offset=".6" stop-color="#52aaf0"/><stop offset="1" stop-color="#79bdf3"/></linearGradient><path d="M149 419.6a26.1 9.1 0 1 0 52.1 0a26.1 9.1 0 1 0 -52.1 0zM166.9 419.6a8.2 2.9 0 1 0 16.3 0a8.2 2.9 0 1 0 -16.3 0z" fill="url(#gc64)" fill-rule="evenodd"/><linearGradient id="gc65" x2=".5" spreadMethod="reflect"><stop stop-color="#319cec"/><stop offset=".6" stop-color="#51abef"/><stop offset="1" stop-color="#78bef2"/></linearGradient><path d="M149.1 419.1a26 9.1 0 1 0 52 0a26 9.1 0 1 0 -52 0zM166.9 419.1a8.2 2.9 0 1 0 16.4 0a8.2 2.9 0 1 0 -16.4 0z" fill="url(#gc65)" fill-rule="evenodd"/><linearGradient id="gc66" x2=".5" spreadMethod="reflect"><stop stop-color="#309deb"/><stop offset=".6" stop-color="#50acee"/><stop offset="1" stop-color="#77bef2"/></linearGradient><path d="M149.2 418.7a25.9 9.1 0 1 0 51.8 0a25.9 9.1 0 1 0 -51.8 0zM166.8 418.7a8.3 2.9 0 1 0 16.5 0a8.3 2.9 0 1 0 -16.5 0z" fill="url(#gc66)" fill-rule="evenodd"/><linearGradient id="gc67" x2=".5" spreadMethod="reflect"><stop stop-color="#2f9eea"/><stop offset=".6" stop-color="#4faded"/><stop offset="1" stop-color="#76bff1"/></linearGradient><path d="M149.3 418.3a25.8 9.1 0 1 0 51.7 0a25.8 9.1 0 1 0 -51.7 0zM166.8 418.3a8.3 2.9 0 1 0 16.6 0a8.3 2.9 0 1 0 -16.6 0z" fill="url(#gc67)" fill-rule="evenodd"/><linearGradient id="gc68" x2=".5" spreadMethod="reflect"><stop stop-color="#2fa0e9"/><stop offset=".6" stop-color="#4eaeec"/><stop offset="1" stop-color="#75c0f0"/></linearGradient><path d="M149.3 417.9a25.8 9 0 1 0 51.5 0a25.8 9 0 1 0 -51.5 0zM166.8 417.9a8.3 2.9 0 1 0 16.7 0a8.3 2.9 0 1 0 -16.7 0z" fill="url(#gc68)" fill-rule="evenodd"/><linearGradient id="gc69" x2=".5" spreadMethod="reflect"><stop stop-color="#2ea1e8"/><stop offset=".6" stop-color="#4dafeb"/><stop offset="1" stop-color="#74c0ef"/></linearGradient><path d="M149.4 417.5a25.7 9 0 1 0 51.4 0a25.7 9 0 1 0 -51.4 0zM166.7 417.5a8.4 2.9 0 1 0 16.8 0a8.4 2.9 0 1 0 -16.8 0z" fill="url(#gc69)" fill-rule="evenodd"/><linearGradient id="gc70" x2=".5" spreadMethod="reflect"><stop stop-color="#2da2e7"/><stop offset=".6" stop-color="#4cb0ea"/><stop offset="1" stop-color="#72c1ef"/></linearGradient><path d="M149.5 417.1a25.6 9 0 1 0 51.2 0a25.6 9 0 1 0 -51.2 0zM166.7 417.1a8.4 3 0 1 0 16.8 0a8.4 3 0 1 0 -16.8 0z" fill="url(#gc70)" fill-rule="evenodd"/><linearGradient id="gc71" x2=".5" spreadMethod="reflect"><stop stop-color="#2da4e6"/><stop offset=".6" stop-color="#4cb1ea"/><stop offset="1" stop-color="#71c2ee"/></linearGradient><path d="M149.6 416.7a25.5 9 0 1 0 51.1 0a25.5 9 0 1 0 -51.1 0zM166.6 416.7a8.5 3 0 1 0 16.9 0a8.5 3 0 1 0 -16.9 0z" fill="url(#gc71)" fill-rule="evenodd"/><linearGradient id="gc72" x2=".5" spreadMethod="reflect"><stop stop-color="#2ca5e5"/><stop offset=".6" stop-color="#4bb2e9"/><stop offset="1" stop-color="#70c2ee"/></linearGradient><path d="M149.6 416.2a25.5 8.9 0 1 0 50.9 0a25.5 8.9 0 1 0 -50.9 0zM166.6 416.2a8.5 3 0 1 0 17 0a8.5 3 0 1 0 -17 0z" fill="url(#gc72)" fill-rule="evenodd"/><linearGradient id="gc73" x2=".5" spreadMethod="reflect"><stop stop-color="#2ba7e5"/><stop offset=".6" stop-color="#49b3e8"/><stop offset="1" stop-color="#6fc3ed"/></linearGradient><path d="M149.7 415.8a25.4 8.9 0 1 0 50.8 0a25.4 8.9 0 1 0 -50.8 0zM166.6 415.8a8.5 3 0 1 0 17.1 0a8.5 3 0 1 0 -17.1 0z" fill="url(#gc73)" fill-rule="evenodd"/><linearGradient id="gc74" x2=".5" spreadMethod="reflect"><stop stop-color="#29a8e4"/><stop offset=".6" stop-color="#48b4e8"/><stop offset="1" stop-color="#6ec4ed"/></linearGradient><path d="M149.8 415.4a25.3 8.9 0 1 0 50.6 0a25.3 8.9 0 1 0 -50.6 0zM166.5 415.4a8.6 3 0 1 0 17.2 0a8.6 3 0 1 0 -17.2 0z" fill="url(#gc74)" fill-rule="evenodd"/><linearGradient id="gc75" x2=".5" spreadMethod="reflect"><stop stop-color="#28a9e3"/><stop offset=".6" stop-color="#47b6e7"/><stop offset="1" stop-color="#6cc4ec"/></linearGradient><path d="M149.9 415a25.2 8.9 0 1 0 50.5 0a25.2 8.9 0 1 0 -50.5 0zM166.5 415a8.6 3 0 1 0 17.2 0a8.6 3 0 1 0 -17.2 0z" fill="url(#gc75)" fill-rule="evenodd"/><linearGradient id="gc76" x2=".5" spreadMethod="reflect"><stop stop-color="#27abe2"/><stop offset=".6" stop-color="#46b7e6"/><stop offset="1" stop-color="#6bc5eb"/></linearGradient><path d="M149.9 414.6a25.2 8.8 0 1 0 50.3 0a25.2 8.8 0 1 0 -50.3 0zM166.4 414.6a8.7 3 0 1 0 17.3 0a8.7 3 0 1 0 -17.3 0z" fill="url(#gc76)" fill-rule="evenodd"/><linearGradient id="gc77" x2=".5" spreadMethod="reflect"><stop stop-color="#26ace1"/><stop offset=".6" stop-color="#45b8e5"/><stop offset="1" stop-color="#6ac6eb"/></linearGradient><path d="M150 414.2a25.1 8.8 0 1 0 50.2 0a25.1 8.8 0 1 0 -50.2 0zM166.4 414.2a8.7 3.1 0 1 0 17.4 0a8.7 3.1 0 1 0 -17.4 0z" fill="url(#gc77)" fill-rule="evenodd"/><linearGradient id="gc78" x2=".5" spreadMethod="reflect"><stop stop-color="#25ade0"/><stop offset=".6" stop-color="#43b9e4"/><stop offset="1" stop-color="#68c6ea"/></linearGradient><path d="M150.1 413.8a25 8.8 0 1 0 50 0a25 8.8 0 1 0 -50 0zM166.4 413.8a8.7 3.1 0 1 0 17.5 0a8.7 3.1 0 1 0 -17.5 0z" fill="url(#gc78)" fill-rule="evenodd"/><linearGradient id="gc79" x2=".5" spreadMethod="reflect"><stop stop-color="#24aedf"/><stop offset=".6" stop-color="#42bae3"/><stop offset="1" stop-color="#67c7e9"/></linearGradient><path d="M150.1 413.4a25 8.8 0 1 0 49.9 0a25 8.8 0 1 0 -49.9 0zM166.3 413.4a8.8 3.1 0 1 0 17.6 0a8.8 3.1 0 1 0 -17.6 0z" fill="url(#gc79)" fill-rule="evenodd"/><linearGradient id="gc80" x2=".5" spreadMethod="reflect"><stop stop-color="#22b0de"/><stop offset=".6" stop-color="#40bae2"/><stop offset="1" stop-color="#65c8e8"/></linearGradient><path d="M150.2 412.9a24.9 8.7 0 1 0 49.8 0a24.9 8.7 0 1 0 -49.8 0zM166.3 412.9a8.8 3.1 0 1 0 17.6 0a8.8 3.1 0 1 0 -17.6 0z" fill="url(#gc80)" fill-rule="evenodd"/><linearGradient id="gc81" x2=".5" spreadMethod="reflect"><stop stop-color="#21b1dc"/><stop offset=".6" stop-color="#3fbbe1"/><stop offset="1" stop-color="#64c8e7"/></linearGradient><path d="M150.3 412.5a24.8 8.7 0 1 0 49.6 0a24.8 8.7 0 1 0 -49.6 0zM166.2 412.5a8.9 3.1 0 1 0 17.7 0a8.9 3.1 0 1 0 -17.7 0z" fill="url(#gc81)" fill-rule="evenodd"/><linearGradient id="gc82" x2=".5" spreadMethod="reflect"><stop stop-color="#1fb2db"/><stop offset=".6" stop-color="#3dbce0"/><stop offset="1" stop-color="#62c9e6"/></linearGradient><path d="M150.4 412.1a24.7 8.7 0 1 0 49.5 0a24.7 8.7 0 1 0 -49.5 0zM166.2 412.1a8.9 3.1 0 1 0 17.8 0a8.9 3.1 0 1 0 -17.8 0z" fill="url(#gc82)" fill-rule="evenodd"/><linearGradient id="gc83" x2=".5" spreadMethod="reflect"><stop stop-color="#1db3d9"/><stop offset=".6" stop-color="#3bbdde"/><stop offset="1" stop-color="#60cae4"/></linearGradient><path d="M150.4 411.7a24.7 8.7 0 1 0 49.3 0a24.7 8.7 0 1 0 -49.3 0zM166.2 411.7a8.9 3.1 0 1 0 17.9 0a8.9 3.1 0 1 0 -17.9 0z" fill="url(#gc83)" fill-rule="evenodd"/><linearGradient id="gc84" x2=".5" spreadMethod="reflect"><stop stop-color="#1bb4d8"/><stop offset=".6" stop-color="#39bedd"/><stop offset="1" stop-color="#5dcae3"/></linearGradient><path d="M150.5 411.3a24.6 8.6 0 1 0 49.2 0a24.6 8.6 0 1 0 -49.2 0zM166.1 411.3a9 3.1 0 1 0 17.9 0a9 3.1 0 1 0 -17.9 0z" fill="url(#gc84)" fill-rule="evenodd"/><linearGradient id="gc85" x2=".5" spreadMethod="reflect"><stop stop-color="#17b5d6"/><stop offset=".6" stop-color="#36bfdb"/><stop offset="1" stop-color="#5bcbe2"/></linearGradient><path d="M150.6 410.9a24.5 8.6 0 1 0 49.1 0a24.5 8.6 0 1 0 -49.1 0zM166.1 410.9a9 3.2 0 1 0 18 0a9 3.2 0 1 0 -18 0z" fill="url(#gc85)" fill-rule="evenodd"/><linearGradient id="gc86" x2=".5" spreadMethod="reflect"><stop stop-color="#14b6d4"/><stop offset=".6" stop-color="#33c0da"/><stop offset="1" stop-color="#58cbe0"/></linearGradient><path d="M150.6 410.5a24.5 8.6 0 1 0 48.9 0a24.5 8.6 0 1 0 -48.9 0zM166.1 410.5a9 3.2 0 1 0 18.1 0a9 3.2 0 1 0 -18.1 0z" fill="url(#gc86)" fill-rule="evenodd"/><linearGradient id="gc87" x2=".5" spreadMethod="reflect"><stop stop-color="#11b7d2"/><stop offset=".6" stop-color="#30c0d8"/><stop offset="1" stop-color="#55ccdf"/></linearGradient><path d="M150.7 410.1a24.4 8.6 0 1 0 48.8 0a24.4 8.6 0 1 0 -48.8 0zM166 410.1a9.1 3.2 0 1 0 18.2 0a9.1 3.2 0 1 0 -18.2 0z" fill="url(#gc87)" fill-rule="evenodd"/><linearGradient id="gc88" x2=".5" spreadMethod="reflect"><stop stop-color="#0fb8d0"/><stop offset=".6" stop-color="#2dc1d6"/><stop offset="1" stop-color="#53ccdd"/></linearGradient><path d="M150.8 409.6a24.3 8.5 0 1 0 48.7 0a24.3 8.5 0 1 0 -48.7 0zM166 409.6a9.1 3.2 0 1 0 18.2 0a9.1 3.2 0 1 0 -18.2 0z" fill="url(#gc88)" fill-rule="evenodd"/><linearGradient id="gc89" x2=".5" spreadMethod="reflect"><stop stop-color="#0db9ce"/><stop offset=".6" stop-color="#2bc2d4"/><stop offset="1" stop-color="#51cddc"/></linearGradient><path d="M150.8 409.2a24.3 8.5 0 1 0 48.5 0a24.3 8.5 0 1 0 -48.5 0zM165.9 409.2a9.2 3.2 0 1 0 18.3 0a9.2 3.2 0 1 0 -18.3 0z" fill="url(#gc89)" fill-rule="evenodd"/><linearGradient id="gc90" x2=".5" spreadMethod="reflect"><stop stop-color="#0bbacc"/><stop offset=".6" stop-color="#29c3d3"/><stop offset="1" stop-color="#4ecdda"/></linearGradient><path d="M150.9 408.8a24.2 8.5 0 1 0 48.4 0a24.2 8.5 0 1 0 -48.4 0zM165.9 408.8a9.2 3.2 0 1 0 18.4 0a9.2 3.2 0 1 0 -18.4 0z" fill="url(#gc90)" fill-rule="evenodd"/><linearGradient id="gc91" x2=".5" spreadMethod="reflect"><stop stop-color="#0abbcb"/><stop offset=".6" stop-color="#28c3d1"/><stop offset="1" stop-color="#4dcdd9"/></linearGradient><path d="M151 408.4a24.1 8.5 0 1 0 48.3 0a24.1 8.5 0 1 0 -48.3 0zM165.9 408.4a9.2 3.2 0 1 0 18.5 0a9.2 3.2 0 1 0 -18.5 0z" fill="url(#gc91)" fill-rule="evenodd"/><linearGradient id="gc92" x2=".5" spreadMethod="reflect"><stop stop-color="#0abcc9"/><stop offset=".6" stop-color="#28c4cf"/><stop offset="1" stop-color="#4dced7"/></linearGradient><path d="M151 408a24.1 8.4 0 1 0 48.1 0a24.1 8.4 0 1 0 -48.1 0zM165.8 408a9.3 3.3 0 1 0 18.5 0a9.3 3.3 0 1 0 -18.5 0z" fill="url(#gc92)" fill-rule="evenodd"/><linearGradient id="gc93" x2=".5" spreadMethod="reflect"><stop stop-color="#0bbcc7"/><stop offset=".6" stop-color="#28c4cd"/><stop offset="1" stop-color="#4cced6"/></linearGradient><path d="M151.1 407.6a24 8.4 0 1 0 48 0a24 8.4 0 1 0 -48 0zM165.8 407.6a9.3 3.3 0 1 0 18.6 0a9.3 3.3 0 1 0 -18.6 0z" fill="url(#gc93)" fill-rule="evenodd"/><linearGradient id="gc94" x2=".5" spreadMethod="reflect"><stop stop-color="#0cbdc4"/><stop offset=".6" stop-color="#29c5cb"/><stop offset="1" stop-color="#4dcfd4"/></linearGradient><path d="M151.2 407.2a23.9 8.4 0 1 0 47.9 0a23.9 8.4 0 1 0 -47.9 0zM165.8 407.2a9.3 3.3 0 1 0 18.7 0a9.3 3.3 0 1 0 -18.7 0z" fill="url(#gc94)" fill-rule="evenodd"/><linearGradient id="gc95" x2=".5" spreadMethod="reflect"><stop stop-color="#0fbec2"/><stop offset=".6" stop-color="#2bc6ca"/><stop offset="1" stop-color="#4ecfd2"/></linearGradient><path d="M151.2 406.7a23.9 8.4 0 1 0 47.7 0a23.9 8.4 0 1 0 -47.7 0zM165.7 406.7a9.4 3.3 0 1 0 18.8 0a9.4 3.3 0 1 0 -18.8 0z" fill="url(#gc95)" fill-rule="evenodd"/><linearGradient id="gc96" x2=".5" spreadMethod="reflect"><stop stop-color="#11bfc0"/><stop offset=".6" stop-color="#2dc6c8"/><stop offset="1" stop-color="#4fcfd1"/></linearGradient><path d="M151.3 406.3a23.8 8.3 0 1 0 47.6 0a23.8 8.3 0 1 0 -47.6 0zM165.7 406.3a9.4 3.3 0 1 0 18.8 0a9.4 3.3 0 1 0 -18.8 0z" fill="url(#gc96)" fill-rule="evenodd"/><linearGradient id="gc97" x2=".5" spreadMethod="reflect"><stop stop-color="#14bfbe"/><stop offset=".6" stop-color="#30c7c6"/><stop offset="1" stop-color="#51d0cf"/></linearGradient><path d="M151.4 405.9a23.7 8.3 0 1 0 47.5 0a23.7 8.3 0 1 0 -47.5 0zM165.6 405.9a9.5 3.3 0 1 0 18.9 0a9.5 3.3 0 1 0 -18.9 0z" fill="url(#gc97)" fill-rule="evenodd"/><linearGradient id="gc98" x2=".5" spreadMethod="reflect"><stop stop-color="#18c0bc"/><stop offset=".6" stop-color="#33c7c4"/><stop offset="1" stop-color="#53d0cd"/></linearGradient><path d="M151.4 405.5a23.7 8.3 0 1 0 47.3 0a23.7 8.3 0 1 0 -47.3 0zM165.6 405.5a9.5 3.3 0 1 0 19 0a9.5 3.3 0 1 0 -19 0z" fill="url(#gc98)" fill-rule="evenodd"/><linearGradient id="gc99" x2=".5" spreadMethod="reflect"><stop stop-color="#1cc1ba"/><stop offset=".6" stop-color="#36c8c2"/><stop offset="1" stop-color="#56d1cb"/></linearGradient><path d="M151.5 405.1a23.6 8.3 0 1 0 47.2 0a23.6 8.3 0 1 0 -47.2 0zM165.6 405.1a9.5 3.3 0 1 0 19 0a9.5 3.3 0 1 0 -19 0z" fill="url(#gc99)" fill-rule="evenodd"/><linearGradient id="gc100" x2=".5" spreadMethod="reflect"><stop stop-color="#20c1b8"/><stop offset=".6" stop-color="#3ac8c0"/><stop offset="1" stop-color="#58d1ca"/></linearGradient><path d="M151.6 404.7a23.5 8.3 0 1 0 47.1 0a23.5 8.3 0 1 0 -47.1 0zM165.5 404.7a9.6 3.4 0 1 0 19.1 0a9.6 3.4 0 1 0 -19.1 0z" fill="url(#gc100)" fill-rule="evenodd"/><linearGradient id="gc101" x2=".5" spreadMethod="reflect"><stop stop-color="#24c2b6"/><stop offset=".6" stop-color="#3cc9be"/><stop offset="1" stop-color="#5ad1c8"/></linearGradient><path d="M151.6 404.3a23.5 8.2 0 1 0 46.9 0a23.5 8.2 0 1 0 -46.9 0zM165.5 404.3a9.6 3.4 0 1 0 19.2 0a9.6 3.4 0 1 0 -19.2 0z" fill="url(#gc101)" fill-rule="evenodd"/><linearGradient id="gc102" x2=".5" spreadMethod="reflect"><stop stop-color="#27c3b4"/><stop offset=".6" stop-color="#3fc9bc"/><stop offset="1" stop-color="#5cd1c6"/></linearGradient><path d="M151.7 403.9a23.4 8.2 0 1 0 46.8 0a23.4 8.2 0 1 0 -46.8 0zM165.5 403.9a9.6 3.4 0 1 0 19.3 0a9.6 3.4 0 1 0 -19.3 0z" fill="url(#gc102)" fill-rule="evenodd"/><linearGradient id="gc103" x2=".5" spreadMethod="reflect"><stop stop-color="#2ac3b1"/><stop offset=".6" stop-color="#42caba"/><stop offset="1" stop-color="#5ed2c4"/></linearGradient><path d="M151.8 403.4a23.3 8.2 0 1 0 46.7 0a23.3 8.2 0 1 0 -46.7 0zM165.4 403.4a9.7 3.4 0 1 0 19.3 0a9.7 3.4 0 1 0 -19.3 0z" fill="url(#gc103)" fill-rule="evenodd"/><linearGradient id="gc104" x2=".5" spreadMethod="reflect"><stop stop-color="#2dc4af"/><stop offset=".6" stop-color="#44cab8"/><stop offset="1" stop-color="#5fd2c2"/></linearGradient><path d="M151.8 403a23.3 8.2 0 1 0 46.6 0a23.3 8.2 0 1 0 -46.6 0zM165.4 403a9.7 3.4 0 1 0 19.4 0a9.7 3.4 0 1 0 -19.4 0z" fill="url(#gc104)" fill-rule="evenodd"/><linearGradient id="gc105" x2=".5" spreadMethod="reflect"><stop stop-color="#2fc5ad"/><stop offset=".6" stop-color="#45cbb6"/><stop offset="1" stop-color="#61d2c0"/></linearGradient><path d="M151.9 402.6a23.2 8.1 0 1 0 46.4 0a23.2 8.1 0 1 0 -46.4 0zM165.4 402.6a9.7 3.4 0 1 0 19.5 0a9.7 3.4 0 1 0 -19.5 0z" fill="url(#gc105)" fill-rule="evenodd"/><linearGradient id="gc106" x2=".5" spreadMethod="reflect"><stop stop-color="#32c5ab"/><stop offset=".6" stop-color="#47cbb4"/><stop offset="1" stop-color="#62d3be"/></linearGradient><path d="M152 402.2a23.1 8.1 0 1 0 46.3 0a23.1 8.1 0 1 0 -46.3 0zM165.3 402.2a9.8 3.4 0 1 0 19.5 0a9.8 3.4 0 1 0 -19.5 0z" fill="url(#gc106)" fill-rule="evenodd"/><linearGradient id="gc107" x2=".5" spreadMethod="reflect"><stop stop-color="#33c6a8"/><stop offset=".6" stop-color="#49ccb1"/><stop offset="1" stop-color="#63d3bc"/></linearGradient><path d="M152 401.8a23.1 8.1 0 1 0 46.2 0a23.1 8.1 0 1 0 -46.2 0zM165.3 401.8a9.8 3.4 0 1 0 19.6 0a9.8 3.4 0 1 0 -19.6 0z" fill="url(#gc107)" fill-rule="evenodd"/><linearGradient id="gc108" x2=".5" spreadMethod="reflect"><stop stop-color="#35c7a6"/><stop offset=".6" stop-color="#4accaf"/><stop offset="1" stop-color="#63d3ba"/></linearGradient><path d="M152.1 401.4a23 8.1 0 1 0 46 0a23 8.1 0 1 0 -46 0zM165.3 401.4a9.8 3.5 0 1 0 19.7 0a9.8 3.5 0 1 0 -19.7 0z" fill="url(#gc108)" fill-rule="evenodd"/><linearGradient id="gc109" x2=".5" spreadMethod="reflect"><stop stop-color="#37c7a4"/><stop offset=".6" stop-color="#4bcdad"/><stop offset="1" stop-color="#64d4b8"/></linearGradient><path d="M152.1 401a23 8.1 0 1 0 45.9 0a23 8.1 0 1 0 -45.9 0zM165.2 401a9.9 3.5 0 1 0 19.8 0a9.9 3.5 0 1 0 -19.8 0z" fill="url(#gc109)" fill-rule="evenodd"/><linearGradient id="gc110" x2=".5" spreadMethod="reflect"><stop stop-color="#38c8a1"/><stop offset=".6" stop-color="#4ccdab"/><stop offset="1" stop-color="#65d4b6"/></linearGradient><path d="M152.2 400.5a22.9 8 0 1 0 45.8 0a22.9 8 0 1 0 -45.8 0zM165.2 400.5a9.9 3.5 0 1 0 19.8 0a9.9 3.5 0 1 0 -19.8 0z" fill="url(#gc110)" fill-rule="evenodd"/><linearGradient id="gc111" x2=".5" spreadMethod="reflect"><stop stop-color="#3ac89e"/><stop offset=".6" stop-color="#4ecea8"/><stop offset="1" stop-color="#66d5b4"/></linearGradient><path d="M152.3 400.1a22.8 8 0 1 0 45.7 0a22.8 8 0 1 0 -45.7 0zM165.2 400.1a9.9 3.5 0 1 0 19.9 0a9.9 3.5 0 1 0 -19.9 0z" fill="url(#gc111)" fill-rule="evenodd"/><linearGradient id="gc112" x2=".5" spreadMethod="reflect"><stop stop-color="#3cc99c"/><stop offset=".6" stop-color="#4fcea6"/><stop offset="1" stop-color="#66d5b2"/></linearGradient><path d="M152.3 399.7a22.8 8 0 1 0 45.5 0a22.8 8 0 1 0 -45.5 0zM165.1 399.7a10 3.5 0 1 0 20 0a10 3.5 0 1 0 -20 0z" fill="url(#gc112)" fill-rule="evenodd"/><linearGradient id="gc113" x2=".5" spreadMethod="reflect"><stop stop-color="#3dca99"/><stop offset=".6" stop-color="#50cfa3"/><stop offset="1" stop-color="#67d5af"/></linearGradient><path d="M152.4 399.3a22.7 8 0 1 0 45.4 0a22.7 8 0 1 0 -45.4 0zM165.1 399.3a10 3.5 0 1 0 20 0a10 3.5 0 1 0 -20 0z" fill="url(#gc113)" fill-rule="evenodd"/><linearGradient id="gc114" x2=".5" spreadMethod="reflect"><stop stop-color="#40ca96"/><stop offset=".6" stop-color="#52cfa1"/><stop offset="1" stop-color="#69d6ad"/></linearGradient><path d="M152.5 398.9a22.6 7.9 0 1 0 45.3 0a22.6 7.9 0 1 0 -45.3 0zM165 398.9a10.1 3.5 0 1 0 20.1 0a10.1 3.5 0 1 0 -20.1 0z" fill="url(#gc114)" fill-rule="evenodd"/><linearGradient id="gc115" x2=".5" spreadMethod="reflect"><stop stop-color="#42cb94"/><stop offset=".6" stop-color="#54d09e"/><stop offset="1" stop-color="#6ad6aa"/></linearGradient><path d="M152.5 398.5a22.6 7.9 0 1 0 45.1 0a22.6 7.9 0 1 0 -45.1 0zM165 398.5a10.1 3.5 0 1 0 20.2 0a10.1 3.5 0 1 0 -20.2 0z" fill="url(#gc115)" fill-rule="evenodd"/><linearGradient id="gc116" x2=".5" spreadMethod="reflect"><stop stop-color="#45cb91"/><stop offset=".6" stop-color="#56d09b"/><stop offset="1" stop-color="#6cd6a8"/></linearGradient><path d="M152.6 398.1a22.5 7.9 0 1 0 45 0a22.5 7.9 0 1 0 -45 0zM165 398.1a10.1 3.6 0 1 0 20.2 0a10.1 3.6 0 1 0 -20.2 0z" fill="url(#gc116)" fill-rule="evenodd"/><linearGradient id="gc117" x2=".5" spreadMethod="reflect"><stop stop-color="#48cc8e"/><stop offset=".6" stop-color="#59d198"/><stop offset="1" stop-color="#6ed6a5"/></linearGradient><path d="M152.7 397.7a22.4 7.9 0 1 0 44.9 0a22.4 7.9 0 1 0 -44.9 0zM164.9 397.7a10.2 3.6 0 1 0 20.3 0a10.2 3.6 0 1 0 -20.3 0z" fill="url(#gc117)" fill-rule="evenodd"/><linearGradient id="gc118" x2=".5" spreadMethod="reflect"><stop stop-color="#4bcc8b"/><stop offset=".6" stop-color="#5cd196"/><stop offset="1" stop-color="#70d7a3"/></linearGradient><path d="M152.7 397.2a22.4 7.8 0 1 0 44.8 0a22.4 7.8 0 1 0 -44.8 0zM164.9 397.2a10.2 3.6 0 1 0 20.4 0a10.2 3.6 0 1 0 -20.4 0z" fill="url(#gc118)" fill-rule="evenodd"/><linearGradient id="gc119" x2=".5" spreadMethod="reflect"><stop stop-color="#4ecd88"/><stop offset=".6" stop-color="#5ed193"/><stop offset="1" stop-color="#72d7a0"/></linearGradient><path d="M152.8 396.8a22.3 7.8 0 1 0 44.6 0a22.3 7.8 0 1 0 -44.6 0zM164.9 396.8a10.2 3.6 0 1 0 20.5 0a10.2 3.6 0 1 0 -20.5 0z" fill="url(#gc119)" fill-rule="evenodd"/><linearGradient id="gc120" x2=".5" spreadMethod="reflect"><stop stop-color="#52cd85"/><stop offset=".6" stop-color="#62d190"/><stop offset="1" stop-color="#75d79d"/></linearGradient><path d="M152.8 396.4a22.3 7.8 0 1 0 44.5 0a22.3 7.8 0 1 0 -44.5 0zM164.8 396.4a10.3 3.6 0 1 0 20.5 0a10.3 3.6 0 1 0 -20.5 0z" fill="url(#gc120)" fill-rule="evenodd"/><linearGradient id="gc121" x2=".5" spreadMethod="reflect"><stop stop-color="#56cd82"/><stop offset=".6" stop-color="#65d28d"/><stop offset="1" stop-color="#77d79a"/></linearGradient><path d="M152.9 396a22.2 7.8 0 1 0 44.4 0a22.2 7.8 0 1 0 -44.4 0zM164.8 396a10.3 3.6 0 1 0 20.6 0a10.3 3.6 0 1 0 -20.6 0z" fill="url(#gc121)" fill-rule="evenodd"/><linearGradient id="gc122" x2=".5" spreadMethod="reflect"><stop stop-color="#5acd7f"/><stop offset=".6" stop-color="#68d28a"/><stop offset="1" stop-color="#7ad797"/></linearGradient><path d="M153 395.6a22.1 7.8 0 1 0 44.3 0a22.1 7.8 0 1 0 -44.3 0zM164.8 395.6a10.3 3.6 0 1 0 20.7 0a10.3 3.6 0 1 0 -20.7 0z" fill="url(#gc122)" fill-rule="evenodd"/><linearGradient id="gc123" x2=".5" spreadMethod="reflect"><stop stop-color="#5ece7b"/><stop offset=".6" stop-color="#6cd287"/><stop offset="1" stop-color="#7dd794"/></linearGradient><path d="M153 395.2a22.1 7.7 0 1 0 44.1 0a22.1 7.7 0 1 0 -44.1 0zM164.7 395.2a10.4 3.6 0 1 0 20.7 0a10.4 3.6 0 1 0 -20.7 0z" fill="url(#gc123)" fill-rule="evenodd"/><linearGradient id="gc124" x2=".5" spreadMethod="reflect"><stop stop-color="#62ce78"/><stop offset=".6" stop-color="#6fd283"/><stop offset="1" stop-color="#7fd791"/></linearGradient><path d="M153.1 394.8a22 7.7 0 1 0 44 0a22 7.7 0 1 0 -44 0zM164.7 394.8a10.4 3.6 0 1 0 20.8 0a10.4 3.6 0 1 0 -20.8 0z" fill="url(#gc124)" fill-rule="evenodd"/><linearGradient id="gc125" x2=".5" spreadMethod="reflect"><stop stop-color="#65ce74"/><stop offset=".6" stop-color="#72d280"/><stop offset="1" stop-color="#82d78e"/></linearGradient><path d="M153.2 394.3a21.9 7.7 0 1 0 43.9 0a21.9 7.7 0 1 0 -43.9 0zM164.7 394.3a10.4 3.7 0 1 0 20.9 0a10.4 3.7 0 1 0 -20.9 0z" fill="url(#gc125)" fill-rule="evenodd"/><linearGradient id="gc126" x2=".5" spreadMethod="reflect"><stop stop-color="#69ce71"/><stop offset=".6" stop-color="#76d27d"/><stop offset="1" stop-color="#85d78b"/></linearGradient><path d="M153.2 393.9a21.9 7.7 0 1 0 43.8 0a21.9 7.7 0 1 0 -43.8 0zM164.6 393.9a10.5 3.7 0 1 0 20.9 0a10.5 3.7 0 1 0 -20.9 0z" fill="url(#gc126)" fill-rule="evenodd"/><linearGradient id="gc127" x2=".5" spreadMethod="reflect"><stop stop-color="#6ece6d"/><stop offset=".6" stop-color="#79d279"/><stop offset="1" stop-color="#88d788"/></linearGradient><path d="M153.3 393.5a21.8 7.6 0 1 0 43.6 0a21.8 7.6 0 1 0 -43.6 0zM164.6 393.5a10.5 3.7 0 1 0 21 0a10.5 3.7 0 1 0 -21 0z" fill="url(#gc127)" fill-rule="evenodd"/><linearGradient id="gc128" x2=".5" spreadMethod="reflect"><stop stop-color="#72ce6a"/><stop offset=".6" stop-color="#7dd276"/><stop offset="1" stop-color="#8bd784"/></linearGradient><path d="M153.4 393.1a21.7 7.6 0 1 0 43.5 0a21.7 7.6 0 1 0 -43.5 0zM164.6 393.1a10.5 3.7 0 1 0 21.1 0a10.5 3.7 0 1 0 -21.1 0z" fill="url(#gc128)" fill-rule="evenodd"/><linearGradient id="gc129" x2=".5" spreadMethod="reflect"><stop stop-color="#76ce66"/><stop offset=".6" stop-color="#81d272"/><stop offset="1" stop-color="#8ed681"/></linearGradient><path d="M153.4 392.7a21.7 7.6 0 1 0 43.4 0a21.7 7.6 0 1 0 -43.4 0zM164.5 392.7a10.6 3.7 0 1 0 21.2 0a10.6 3.7 0 1 0 -21.2 0z" fill="url(#gc129)" fill-rule="evenodd"/><linearGradient id="gc130" x2=".5" spreadMethod="reflect"><stop stop-color="#7bcd63"/><stop offset=".6" stop-color="#85d16f"/><stop offset="1" stop-color="#92d67e"/></linearGradient><path d="M153.5 392.3a21.6 7.6 0 1 0 43.2 0a21.6 7.6 0 1 0 -43.2 0zM164.5 392.3a10.6 3.7 0 1 0 21.2 0a10.6 3.7 0 1 0 -21.2 0z" fill="url(#gc130)" fill-rule="evenodd"/><linearGradient id="gc131" x2=".5" spreadMethod="reflect"><stop stop-color="#7fcd60"/><stop offset=".6" stop-color="#89d16c"/><stop offset="1" stop-color="#95d67b"/></linearGradient><path d="M153.5 391.9a21.6 7.6 0 1 0 43.1 0a21.6 7.6 0 1 0 -43.1 0zM164.5 391.9a10.6 3.7 0 1 0 21.3 0a10.6 3.7 0 1 0 -21.3 0z" fill="url(#gc131)" fill-rule="evenodd"/><linearGradient id="gc132" x2=".5" spreadMethod="reflect"><stop stop-color="#84cd5c"/><stop offset=".6" stop-color="#8dd169"/><stop offset="1" stop-color="#98d578"/></linearGradient><path d="M153.6 391.5a21.5 7.5 0 1 0 43 0a21.5 7.5 0 1 0 -43 0zM164.4 391.5a10.7 3.7 0 1 0 21.4 0a10.7 3.7 0 1 0 -21.4 0z" fill="url(#gc132)" fill-rule="evenodd"/><linearGradient id="gc133" x2=".5" spreadMethod="reflect"><stop stop-color="#88cd59"/><stop offset=".6" stop-color="#91d065"/><stop offset="1" stop-color="#9cd574"/></linearGradient><path d="M153.7 391a21.4 7.5 0 1 0 42.9 0a21.4 7.5 0 1 0 -42.9 0zM164.4 391a10.7 3.8 0 1 0 21.4 0a10.7 3.8 0 1 0 -21.4 0z" fill="url(#gc133)" fill-rule="evenodd"/><linearGradient id="gc134" x2=".5" spreadMethod="reflect"><stop stop-color="#8dcc55"/><stop offset=".6" stop-color="#95d062"/><stop offset="1" stop-color="#9fd471"/></linearGradient><path d="M153.7 390.6a21.4 7.5 0 1 0 42.7 0a21.4 7.5 0 1 0 -42.7 0zM164.3 390.6a10.8 3.8 0 1 0 21.5 0a10.8 3.8 0 1 0 -21.5 0z" fill="url(#gc134)" fill-rule="evenodd"/><linearGradient id="gc135" x2=".5" spreadMethod="reflect"><stop stop-color="#91cc52"/><stop offset=".6" stop-color="#99cf5e"/><stop offset="1" stop-color="#a3d46e"/></linearGradient><path d="M153.8 390.2a21.3 7.5 0 1 0 42.6 0a21.3 7.5 0 1 0 -42.6 0zM164.3 390.2a10.8 3.8 0 1 0 21.6 0a10.8 3.8 0 1 0 -21.6 0z" fill="url(#gc135)" fill-rule="evenodd"/><linearGradient id="gc136" x2=".5" spreadMethod="reflect"><stop stop-color="#95cb4e"/><stop offset=".6" stop-color="#9dcf5b"/><stop offset="1" stop-color="#a6d36a"/></linearGradient><path d="M153.9 389.8a21.2 7.4 0 1 0 42.5 0a21.2 7.4 0 1 0 -42.5 0zM164.3 389.8a10.8 3.8 0 1 0 21.6 0a10.8 3.8 0 1 0 -21.6 0z" fill="url(#gc136)" fill-rule="evenodd"/><linearGradient id="gc137" x2=".5" spreadMethod="reflect"><stop stop-color="#9acb4b"/><stop offset=".6" stop-color="#a1ce58"/><stop offset="1" stop-color="#a9d367"/></linearGradient><path d="M153.9 389.4a21.2 7.4 0 1 0 42.3 0a21.2 7.4 0 1 0 -42.3 0zM164.2 389.4a10.9 3.8 0 1 0 21.7 0a10.9 3.8 0 1 0 -21.7 0z" fill="url(#gc137)" fill-rule="evenodd"/><linearGradient id="gc138" x2=".5" spreadMethod="reflect"><stop stop-color="#9eca48"/><stop offset=".6" stop-color="#a5ce54"/><stop offset="1" stop-color="#add264"/></linearGradient><path d="M154 389a21.1 7.4 0 1 0 42.2 0a21.1 7.4 0 1 0 -42.2 0zM164.2 389a10.9 3.8 0 1 0 21.8 0a10.9 3.8 0 1 0 -21.8 0z" fill="url(#gc138)" fill-rule="evenodd"/><linearGradient id="gc139" x2=".5" spreadMethod="reflect"><stop stop-color="#a2c944"/><stop offset=".6" stop-color="#a9cd51"/><stop offset="1" stop-color="#b0d260"/></linearGradient><path d="M154.1 388.6a21 7.4 0 1 0 42.1 0a21 7.4 0 1 0 -42.1 0zM164.2 388.6a10.9 3.8 0 1 0 21.9 0a10.9 3.8 0 1 0 -21.9 0z" fill="url(#gc139)" fill-rule="evenodd"/><linearGradient id="gc140" x2=".5" spreadMethod="reflect"><stop stop-color="#a7c941"/><stop offset=".6" stop-color="#accc4e"/><stop offset="1" stop-color="#b4d15d"/></linearGradient><path d="M154.1 388.1a21 7.4 0 1 0 42 0a21 7.4 0 1 0 -42 0zM164.1 388.1a11 3.8 0 1 0 21.9 0a11 3.8 0 1 0 -21.9 0z" fill="url(#gc140)" fill-rule="evenodd"/><linearGradient id="gc141" x2=".5" spreadMethod="reflect"><stop stop-color="#abc83e"/><stop offset=".6" stop-color="#b0cc4b"/><stop offset="1" stop-color="#b7d05a"/></linearGradient><path d="M154.2 387.7a20.9 7.3 0 1 0 41.8 0a20.9 7.3 0 1 0 -41.8 0zM164.1 387.7a11 3.9 0 1 0 22 0a11 3.9 0 1 0 -22 0z" fill="url(#gc141)" fill-rule="evenodd"/><linearGradient id="gc142" x2=".5" spreadMethod="reflect"><stop stop-color="#afc73b"/><stop offset=".6" stop-color="#b4cb48"/><stop offset="1" stop-color="#bacf57"/></linearGradient><path d="M154.3 387.3a20.8 7.3 0 1 0 41.7 0a20.8 7.3 0 1 0 -41.7 0zM164.1 387.3a11 3.9 0 1 0 22.1 0a11 3.9 0 1 0 -22.1 0z" fill="url(#gc142)" fill-rule="evenodd"/><linearGradient id="gc143" x2=".5" spreadMethod="reflect"><stop stop-color="#b3c739"/><stop offset=".6" stop-color="#b8ca45"/><stop offset="1" stop-color="#becf55"/></linearGradient><path d="M154.3 386.9a20.8 7.3 0 1 0 41.6 0a20.8 7.3 0 1 0 -41.6 0zM164 386.9a11.1 3.9 0 1 0 22.2 0a11.1 3.9 0 1 0 -22.2 0z" fill="url(#gc143)" fill-rule="evenodd"/><linearGradient id="gc144" x2=".5" spreadMethod="reflect"><stop stop-color="#b7c636"/><stop offset=".6" stop-color="#bbc943"/><stop offset="1" stop-color="#c1ce52"/></linearGradient><path d="M154.4 386.5a20.7 7.3 0 1 0 41.4 0a20.7 7.3 0 1 0 -41.4 0zM164 386.5a11.1 3.9 0 1 0 22.2 0a11.1 3.9 0 1 0 -22.2 0z" fill="url(#gc144)" fill-rule="evenodd"/><linearGradient id="gc145" x2=".5" spreadMethod="reflect"><stop stop-color="#bbc534"/><stop offset=".6" stop-color="#bfc940"/><stop offset="1" stop-color="#c4cd4f"/></linearGradient><path d="M154.5 386.1a20.6 7.2 0 1 0 41.3 0a20.6 7.2 0 1 0 -41.3 0zM164 386.1a11.1 3.9 0 1 0 22.3 0a11.1 3.9 0 1 0 -22.3 0z" fill="url(#gc145)" fill-rule="evenodd"/><linearGradient id="gc146" x2=".5" spreadMethod="reflect"><stop stop-color="#bfc432"/><stop offset=".6" stop-color="#c3c83e"/><stop offset="1" stop-color="#c7cc4d"/></linearGradient><path d="M154.5 385.7a20.6 7.2 0 1 0 41.2 0a20.6 7.2 0 1 0 -41.2 0zM163.9 385.7a11.2 3.9 0 1 0 22.4 0a11.2 3.9 0 1 0 -22.4 0z" fill="url(#gc146)" fill-rule="evenodd"/><linearGradient id="gc147" x2=".5" spreadMethod="reflect"><stop stop-color="#c3c430"/><stop offset=".6" stop-color="#c6c73c"/><stop offset="1" stop-color="#cbcb4a"/></linearGradient><path d="M154.6 385.3a20.5 7.2 0 1 0 41 0a20.5 7.2 0 1 0 -41 0zM163.9 385.3a11.2 3.9 0 1 0 22.4 0a11.2 3.9 0 1 0 -22.4 0z" fill="url(#gc147)" fill-rule="evenodd"/><linearGradient id="gc148" x2=".5" spreadMethod="reflect"><stop stop-color="#c7c32e"/><stop offset=".6" stop-color="#cac63a"/><stop offset="1" stop-color="#ceca48"/></linearGradient><path d="M154.7 384.8a20.4 7.2 0 1 0 40.9 0a20.4 7.2 0 1 0 -40.9 0zM163.8 384.8a11.3 3.9 0 1 0 22.5 0a11.3 3.9 0 1 0 -22.5 0z" fill="url(#gc148)" fill-rule="evenodd"/><linearGradient id="gc149" x2=".5" spreadMethod="reflect"><stop stop-color="#cac22d"/><stop offset=".6" stop-color="#cdc538"/><stop offset="1" stop-color="#d1ca47"/></linearGradient><path d="M154.7 384.4a20.4 7.1 0 1 0 40.8 0a20.4 7.1 0 1 0 -40.8 0zM163.8 384.4a11.3 4 0 1 0 22.6 0a11.3 4 0 1 0 -22.6 0z" fill="url(#gc149)" fill-rule="evenodd"/><linearGradient id="gc150" x2=".5" spreadMethod="reflect"><stop stop-color="#cec12c"/><stop offset=".6" stop-color="#d1c537"/><stop offset="1" stop-color="#d4c945"/></linearGradient><path d="M154.8 384a20.3 7.1 0 1 0 40.6 0a20.3 7.1 0 1 0 -40.6 0zM163.8 384a11.3 4 0 1 0 22.7 0a11.3 4 0 1 0 -22.7 0z" fill="url(#gc150)" fill-rule="evenodd"/><linearGradient id="gc151" x2=".5" spreadMethod="reflect"><stop stop-color="#d1c02b"/><stop offset=".6" stop-color="#d4c436"/><stop offset="1" stop-color="#d7c844"/></linearGradient><path d="M154.9 383.6a20.2 7.1 0 1 0 40.5 0a20.2 7.1 0 1 0 -40.5 0zM163.7 383.6a11.4 4 0 1 0 22.7 0a11.4 4 0 1 0 -22.7 0z" fill="url(#gc151)" fill-rule="evenodd"/><linearGradient id="gc152" x2=".5" spreadMethod="reflect"><stop stop-color="#d5c02b"/><stop offset=".6" stop-color="#d7c336"/><stop offset="1" stop-color="#dac744"/></linearGradient><path d="M154.9 383.2a20.2 7.1 0 1 0 40.3 0a20.2 7.1 0 1 0 -40.3 0zM163.7 383.2a11.4 4 0 1 0 22.8 0a11.4 4 0 1 0 -22.8 0z" fill="url(#gc152)" fill-rule="evenodd"/><linearGradient id="gc153" x2=".5" spreadMethod="reflect"><stop stop-color="#d8bf2b"/><stop offset=".6" stop-color="#dac236"/><stop offset="1" stop-color="#ddc644"/></linearGradient><path d="M155 382.8a20.1 7.1 0 1 0 40.2 0a20.1 7.1 0 1 0 -40.2 0zM163.7 382.8a11.4 4 0 1 0 22.9 0a11.4 4 0 1 0 -22.9 0z" fill="url(#gc153)" fill-rule="evenodd"/><linearGradient id="gc154" x2=".5" spreadMethod="reflect"><stop stop-color="#dcbe2c"/><stop offset=".6" stop-color="#ddc136"/><stop offset="1" stop-color="#e0c543"/></linearGradient><path d="M155.1 382.4a20 7 0 1 0 40.1 0a20 7 0 1 0 -40.1 0zM163.6 382.4a11.5 4 0 1 0 23 0a11.5 4 0 1 0 -23 0z" fill="url(#gc154)" fill-rule="evenodd"/><linearGradient id="gc155" x2=".5" spreadMethod="reflect"><stop stop-color="#dfbd2d"/><stop offset=".6" stop-color="#e0c137"/><stop offset="1" stop-color="#e2c544"/></linearGradient><path d="M155.1 382a20 7 0 1 0 39.9 0a20 7 0 1 0 -39.9 0zM163.6 382a11.5 4 0 1 0 23 0a11.5 4 0 1 0 -23 0z" fill="url(#gc155)" fill-rule="evenodd"/><linearGradient id="gc156" x2=".5" spreadMethod="reflect"><stop stop-color="#e2bd2e"/><stop offset=".6" stop-color="#e3c038"/><stop offset="1" stop-color="#e5c444"/></linearGradient><path d="M155.2 381.5a19.9 7 0 1 0 39.8 0a19.9 7 0 1 0 -39.8 0zM163.5 381.5a11.6 4.1 0 1 0 23.1 0a11.6 4.1 0 1 0 -23.1 0z" fill="url(#gc156)" fill-rule="evenodd"/><linearGradient id="gc157" x2=".5" spreadMethod="reflect"><stop stop-color="#e5bc2f"/><stop offset=".6" stop-color="#e6bf39"/><stop offset="1" stop-color="#e8c345"/></linearGradient><path d="M155.3 381.1a19.8 7 0 1 0 39.6 0a19.8 7 0 1 0 -39.6 0zM163.5 381.1a11.6 4.1 0 1 0 23.2 0a11.6 4.1 0 1 0 -23.2 0z" fill="url(#gc157)" fill-rule="evenodd"/><linearGradient id="gc158" x2=".5" spreadMethod="reflect"><stop stop-color="#e8bc31"/><stop offset=".6" stop-color="#e9bf3b"/><stop offset="1" stop-color="#eac346"/></linearGradient><path d="M155.3 380.7a19.8 6.9 0 1 0 39.5 0a19.8 6.9 0 1 0 -39.5 0zM163.5 380.7a11.6 4.1 0 1 0 23.3 0a11.6 4.1 0 1 0 -23.3 0z" fill="url(#gc158)" fill-rule="evenodd"/><linearGradient id="gc159" x2=".5" spreadMethod="reflect"><stop stop-color="#ebbb34"/><stop offset=".6" stop-color="#ecbe3d"/><stop offset="1" stop-color="#edc248"/></linearGradient><path d="M155.4 380.3a19.7 6.9 0 1 0 39.4 0a19.7 6.9 0 1 0 -39.4 0zM163.4 380.3a11.7 4.1 0 1 0 23.4 0a11.7 4.1 0 1 0 -23.4 0z" fill="url(#gc159)" fill-rule="evenodd"/><linearGradient id="gc160" x2=".5" spreadMethod="reflect"><stop stop-color="#eebb36"/><stop offset=".6" stop-color="#eebe3f"/><stop offset="1" stop-color="#efc24a"/></linearGradient><path d="M155.5 379.9a19.6 6.9 0 1 0 39.2 0a19.6 6.9 0 1 0 -39.2 0zM163.4 379.9a11.7 4.1 0 1 0 23.4 0a11.7 4.1 0 1 0 -23.4 0z" fill="url(#gc160)" fill-rule="evenodd"/><linearGradient id="gc161" x2=".5" spreadMethod="reflect"><stop stop-color="#f0bb39"/><stop offset=".6" stop-color="#f1be41"/><stop offset="1" stop-color="#f2c14b"/></linearGradient><path d="M155.6 379.5a19.5 6.9 0 1 0 39.1 0a19.5 6.9 0 1 0 -39.1 0zM163.3 379.5a11.8 4.1 0 1 0 23.5 0a11.8 4.1 0 1 0 -23.5 0z" fill="url(#gc161)" fill-rule="evenodd"/><linearGradient id="gc162" x2=".5" spreadMethod="reflect"><stop stop-color="#f3bb3b"/><stop offset=".6" stop-color="#f4be43"/><stop offset="1" stop-color="#f4c14d"/></linearGradient><path d="M155.6 379.1a19.5 6.8 0 1 0 38.9 0a19.5 6.8 0 1 0 -38.9 0zM163.3 379.1a11.8 4.1 0 1 0 23.6 0a11.8 4.1 0 1 0 -23.6 0z" fill="url(#gc162)" fill-rule="evenodd"/><linearGradient id="gc163" x2=".5" spreadMethod="reflect"><stop stop-color="#f6bb3d"/><stop offset=".6" stop-color="#f6be45"/><stop offset="1" stop-color="#f7c14f"/></linearGradient><path d="M155.7 378.6a19.4 6.8 0 1 0 38.8 0a19.4 6.8 0 1 0 -38.8 0zM163.3 378.6a11.8 4.2 0 1 0 23.7 0a11.8 4.2 0 1 0 -23.7 0z" fill="url(#gc163)" fill-rule="evenodd"/><linearGradient id="gc164" x2=".5" spreadMethod="reflect"><stop stop-color="#f8bb3f"/><stop offset=".6" stop-color="#f9be47"/><stop offset="1" stop-color="#f9c150"/></linearGradient><path d="M155.8 378.2a19.3 6.8 0 1 0 38.6 0a19.3 6.8 0 1 0 -38.6 0zM163.2 378.2a11.9 4.2 0 1 0 23.8 0a11.9 4.2 0 1 0 -23.8 0z" fill="url(#gc164)" fill-rule="evenodd"/><linearGradient id="gc165" x2=".5" spreadMethod="reflect"><stop stop-color="#fabc3f"/><stop offset=".6" stop-color="#fabf46"/><stop offset="1" stop-color="#fbc24f"/></linearGradient><path d="M155.9 377.8a19.2 6.7 0 1 0 38.5 0a19.2 6.7 0 1 0 -38.5 0zM163.2 377.8a11.9 4.2 0 1 0 23.8 0a11.9 4.2 0 1 0 -23.8 0z" fill="url(#gc165)" fill-rule="evenodd"/><linearGradient id="gc166" x2=".5" spreadMethod="reflect"><stop stop-color="#fcbd3f"/><stop offset=".6" stop-color="#fcc046"/><stop offset="1" stop-color="#fcc24f"/></linearGradient><path d="M155.9 377.4a19.2 6.7 0 1 0 38.3 0a19.2 6.7 0 1 0 -38.3 0zM163.1 377.4a12 4.2 0 1 0 23.9 0a12 4.2 0 1 0 -23.9 0z" fill="url(#gc166)" fill-rule="evenodd"/><linearGradient id="gc167" x2=".5" spreadMethod="reflect"><stop stop-color="#febe3f"/><stop offset=".6" stop-color="#fec045"/><stop offset="1" stop-color="#fec34e"/></linearGradient><path d="M156 377a19.1 6.7 0 1 0 38.2 0a19.1 6.7 0 1 0 -38.2 0zM163.1 377a12 4.2 0 1 0 24 0a12 4.2 0 1 0 -24 0z" fill="url(#gc167)" fill-rule="evenodd"/><linearGradient id="gc168" x2=".5" spreadMethod="reflect"><stop stop-color="#fec03d"/><stop offset=".6" stop-color="#fec244"/><stop offset="1" stop-color="#fec54c"/></linearGradient><path d="M156.1 376.6a19 6.7 0 1 0 38 0a19 6.7 0 1 0 -38 0zM163 376.6a12.1 4.2 0 1 0 24.1 0a12.1 4.2 0 1 0 -24.1 0z" fill="url(#gc168)" fill-rule="evenodd"/><linearGradient id="gc169" x2=".5" spreadMethod="reflect"><stop stop-color="#fec23c"/><stop offset=".6" stop-color="#fec442"/><stop offset="1" stop-color="#fec64a"/></linearGradient><path d="M156.2 376.2a18.9 6.6 0 1 0 37.9 0a18.9 6.6 0 1 0 -37.9 0zM163 376.2a12.1 4.2 0 1 0 24.2 0a12.1 4.2 0 1 0 -24.2 0z" fill="url(#gc169)" fill-rule="evenodd"/><linearGradient id="gc170" x2=".5" spreadMethod="reflect"><stop stop-color="#fec33a"/><stop offset=".6" stop-color="#fec541"/><stop offset="1" stop-color="#fec849"/></linearGradient><path d="M156.3 375.8a18.8 6.6 0 1 0 37.7 0a18.8 6.6 0 1 0 -37.7 0zM163 375.8a12.1 4.3 0 1 0 24.3 0a12.1 4.3 0 1 0 -24.3 0z" fill="url(#gc170)" fill-rule="evenodd"/><linearGradient id="gc171" x2=".5" spreadMethod="reflect"><stop stop-color="#fec539"/><stop offset=".6" stop-color="#fec73f"/><stop offset="1" stop-color="#fec947"/></linearGradient><path d="M156.3 375.3a18.8 6.6 0 1 0 37.5 0a18.8 6.6 0 1 0 -37.5 0zM162.9 375.3a12.2 4.3 0 1 0 24.4 0a12.2 4.3 0 1 0 -24.4 0z" fill="url(#gc171)" fill-rule="evenodd"/><linearGradient id="gc172" x2=".5" spreadMethod="reflect"><stop stop-color="#fec738"/><stop offset=".6" stop-color="#fec93e"/><stop offset="1" stop-color="#fecb45"/></linearGradient><path d="M156.4 374.9a18.7 6.6 0 1 0 37.4 0a18.7 6.6 0 1 0 -37.4 0zM162.9 374.9a12.2 4.3 0 1 0 24.5 0a12.2 4.3 0 1 0 -24.5 0z" fill="url(#gc172)" fill-rule="evenodd"/><linearGradient id="gc173" x2=".5" spreadMethod="reflect"><stop stop-color="#fec936"/><stop offset=".6" stop-color="#feca3c"/><stop offset="1" stop-color="#fecc43"/></linearGradient><path d="M156.5 374.5a18.6 6.5 0 1 0 37.2 0a18.6 6.5 0 1 0 -37.2 0zM162.8 374.5a12.3 4.3 0 1 0 24.5 0a12.3 4.3 0 1 0 -24.5 0z" fill="url(#gc173)" fill-rule="evenodd"/><linearGradient id="gc174" x2=".5" spreadMethod="reflect"><stop stop-color="#fecb35"/><stop offset=".6" stop-color="#fecc3a"/><stop offset="1" stop-color="#fece41"/></linearGradient><path d="M156.6 374.1a18.5 6.5 0 1 0 37 0a18.5 6.5 0 1 0 -37 0zM162.8 374.1a12.3 4.3 0 1 0 24.6 0a12.3 4.3 0 1 0 -24.6 0z" fill="url(#gc174)" fill-rule="evenodd"/><linearGradient id="gc175" x2=".5" spreadMethod="reflect"><stop stop-color="#fdcd34"/><stop offset=".6" stop-color="#fdce39"/><stop offset="1" stop-color="#fdd040"/></linearGradient><path d="M156.7 373.7a18.4 6.5 0 1 0 36.9 0a18.4 6.5 0 1 0 -36.9 0zM162.7 373.7a12.4 4.3 0 1 0 24.7 0a12.4 4.3 0 1 0 -24.7 0z" fill="url(#gc175)" fill-rule="evenodd"/><linearGradient id="gc176" x2=".5" spreadMethod="reflect"><stop stop-color="#fdce32"/><stop offset=".6" stop-color="#fdd038"/><stop offset="1" stop-color="#fdd13e"/></linearGradient><path d="M156.8 373.3a18.3 6.4 0 1 0 36.7 0a18.3 6.4 0 1 0 -36.7 0zM162.7 373.3a12.4 4.4 0 1 0 24.8 0a12.4 4.4 0 1 0 -24.8 0z" fill="url(#gc176)" fill-rule="evenodd"/><linearGradient id="gc177" x2=".5" spreadMethod="reflect"><stop stop-color="#fcd031"/><stop offset=".6" stop-color="#fcd236"/><stop offset="1" stop-color="#fcd33d"/></linearGradient><path d="M156.8 372.9a18.3 6.4 0 1 0 36.5 0a18.3 6.4 0 1 0 -36.5 0zM162.6 372.9a12.5 4.4 0 1 0 24.9 0a12.5 4.4 0 1 0 -24.9 0z" fill="url(#gc177)" fill-rule="evenodd"/><linearGradient id="gc178" x2=".5" spreadMethod="reflect"><stop stop-color="#fbd230"/><stop offset=".6" stop-color="#fbd335"/><stop offset="1" stop-color="#fbd53b"/></linearGradient><path d="M156.9 372.4a18.2 6.4 0 1 0 36.3 0a18.2 6.4 0 1 0 -36.3 0zM162.6 372.4a12.5 4.4 0 1 0 25 0a12.5 4.4 0 1 0 -25 0z" fill="url(#gc178)" fill-rule="evenodd"/><linearGradient id="gc179" x2=".5" spreadMethod="reflect"><stop stop-color="#fad42f"/><stop offset=".6" stop-color="#fad534"/><stop offset="1" stop-color="#fbd63a"/></linearGradient><path d="M157 372a18.1 6.3 0 1 0 36.1 0a18.1 6.3 0 1 0 -36.1 0zM162.5 372a12.6 4.4 0 1 0 25.1 0a12.6 4.4 0 1 0 -25.1 0z" fill="url(#gc179)" fill-rule="evenodd"/><linearGradient id="gc180" x2=".5" spreadMethod="reflect"><stop stop-color="#f9d62e"/><stop offset=".6" stop-color="#fad733"/><stop offset="1" stop-color="#fad838"/></linearGradient><path d="M157.1 371.6a18 6.3 0 1 0 36 0a18 6.3 0 1 0 -36 0zM162.5 371.6a12.6 4.4 0 1 0 25.2 0a12.6 4.4 0 1 0 -25.2 0z" fill="url(#gc180)" fill-rule="evenodd"/><linearGradient id="gc181" x2=".5" spreadMethod="reflect"><stop stop-color="#f9d82d"/><stop offset=".6" stop-color="#f9d931"/><stop offset="1" stop-color="#f9da37"/></linearGradient><path d="M157.2 371.2a17.9 6.3 0 1 0 35.8 0a17.9 6.3 0 1 0 -35.8 0zM162.4 371.2a12.7 4.4 0 1 0 25.3 0a12.7 4.4 0 1 0 -25.3 0z" fill="url(#gc181)" fill-rule="evenodd"/><linearGradient id="gc182" x2=".5" spreadMethod="reflect"><stop stop-color="#f8da2c"/><stop offset=".6" stop-color="#f8db30"/><stop offset="1" stop-color="#f8dc35"/></linearGradient><path d="M157.3 370.8a17.8 6.2 0 1 0 35.6 0a17.8 6.2 0 1 0 -35.6 0zM162.4 370.8a12.7 4.5 0 1 0 25.4 0a12.7 4.5 0 1 0 -25.4 0z" fill="url(#gc182)" fill-rule="evenodd"/><linearGradient id="gc183" x2=".5" spreadMethod="reflect"><stop stop-color="#f7dc2b"/><stop offset=".6" stop-color="#f7dd2f"/><stop offset="1" stop-color="#f7de34"/></linearGradient><path d="M157.4 370.4a17.7 6.2 0 1 0 35.4 0a17.7 6.2 0 1 0 -35.4 0zM162.3 370.4a12.8 4.5 0 1 0 25.6 0a12.8 4.5 0 1 0 -25.6 0z" fill="url(#gc183)" fill-rule="evenodd"/><linearGradient id="gc184" x2=".5" spreadMethod="reflect"><stop stop-color="#f6de2a"/><stop offset=".6" stop-color="#f6df2e"/><stop offset="1" stop-color="#f7df32"/></linearGradient><path d="M157.5 370a17.6 6.2 0 1 0 35.2 0a17.6 6.2 0 1 0 -35.2 0zM162.3 370a12.8 4.5 0 1 0 25.7 0a12.8 4.5 0 1 0 -25.7 0z" fill="url(#gc184)" fill-rule="evenodd"/><linearGradient id="gc185" x2=".5" spreadMethod="reflect"><stop stop-color="#f6e029"/><stop offset=".6" stop-color="#f6e12d"/><stop offset="1" stop-color="#f6e131"/></linearGradient><path d="M157.6 369.6a17.5 6.1 0 1 0 34.9 0a17.5 6.1 0 1 0 -34.9 0zM162.2 369.6a12.9 4.5 0 1 0 25.8 0a12.9 4.5 0 1 0 -25.8 0z" fill="url(#gc185)" fill-rule="evenodd"/><linearGradient id="gc186" x2=".5" spreadMethod="reflect"><stop stop-color="#f5e228"/><stop offset=".6" stop-color="#f5e32c"/><stop offset="1" stop-color="#f6e32f"/></linearGradient><path d="M157.7 369.1a17.4 6.1 0 1 0 34.7 0a17.4 6.1 0 1 0 -34.7 0zM162.1 369.1a13 4.5 0 1 0 25.9 0a13 4.5 0 1 0 -25.9 0z" fill="url(#gc186)" fill-rule="evenodd"/><linearGradient id="gc187" x2=".5" spreadMethod="reflect"><stop stop-color="#f5e427"/><stop offset=".6" stop-color="#f5e52a"/><stop offset="1" stop-color="#f5e52e"/></linearGradient><path d="M157.9 368.7a17.2 6 0 1 0 34.5 0a17.2 6 0 1 0 -34.5 0zM162.1 368.7a13 4.6 0 1 0 26 0a13 4.6 0 1 0 -26 0z" fill="url(#gc187)" fill-rule="evenodd"/><linearGradient id="gc188" x2=".5" spreadMethod="reflect"><stop stop-color="#f5e626"/><stop offset=".6" stop-color="#f5e629"/><stop offset="1" stop-color="#f5e72c"/></linearGradient><path d="M158 368.3a17.1 6 0 1 0 34.3 0a17.1 6 0 1 0 -34.3 0zM162 368.3a13.1 4.6 0 1 0 26.2 0a13.1 4.6 0 1 0 -26.2 0z" fill="url(#gc188)" fill-rule="evenodd"/><linearGradient id="gc189" x2=".5" spreadMethod="reflect"><stop stop-color="#f5e825"/><stop offset=".6" stop-color="#f5e828"/><stop offset="1" stop-color="#f5e92b"/></linearGradient><path d="M158.1 367.9a17 6 0 1 0 34 0a17 6 0 1 0 -34 0zM161.9 367.9a13.2 4.6 0 1 0 26.3 0a13.2 4.6 0 1 0 -26.3 0z" fill="url(#gc189)" fill-rule="evenodd"/><linearGradient id="gc190" x2=".5" spreadMethod="reflect"><stop stop-color="#f5ea24"/><stop offset=".6" stop-color="#f5ea27"/><stop offset="1" stop-color="#f5ea29"/></linearGradient><path d="M158.2 367.5a16.9 5.9 0 1 0 33.7 0a16.9 5.9 0 1 0 -33.7 0zM161.9 367.5a13.2 4.6 0 1 0 26.4 0a13.2 4.6 0 1 0 -26.4 0z" fill="url(#gc190)" fill-rule="evenodd"/><linearGradient id="gc191" x2=".5" spreadMethod="reflect"><stop stop-color="#f5ec23"/><stop offset=".6" stop-color="#f5ec25"/><stop offset="1" stop-color="#f5ec27"/></linearGradient><path d="M158.4 367.1a16.7 5.9 0 1 0 33.5 0a16.7 5.9 0 1 0 -33.5 0zM161.8 367.1a13.3 4.7 0 1 0 26.6 0a13.3 4.7 0 1 0 -26.6 0z" fill="url(#gc191)" fill-rule="evenodd"/><linearGradient id="gc192" x2=".5" spreadMethod="reflect"><stop stop-color="#f5ee22"/><stop offset=".6" stop-color="#f5ee23"/><stop offset="1" stop-color="#f6ee26"/></linearGradient><path d="M158.5 366.7a16.6 5.8 0 1 0 33.2 0a16.6 5.8 0 1 0 -33.2 0zM161.7 366.7a13.4 4.7 0 1 0 26.8 0a13.4 4.7 0 1 0 -26.8 0z" fill="url(#gc192)" fill-rule="evenodd"/><linearGradient id="gc193" x2=".5" spreadMethod="reflect"><stop stop-color="#f6f020"/><stop offset=".6" stop-color="#f6f022"/><stop offset="1" stop-color="#f6f024"/></linearGradient><path d="M158.7 366.2a16.4 5.8 0 1 0 32.9 0a16.4 5.8 0 1 0 -32.9 0zM161.6 366.2a13.5 4.7 0 1 0 26.9 0a13.5 4.7 0 1 0 -26.9 0z" fill="url(#gc193)" fill-rule="evenodd"/><linearGradient id="gc194" x2=".5" spreadMethod="reflect"><stop stop-color="#f6f11f"/><stop offset=".6" stop-color="#f6f220"/><stop offset="1" stop-color="#f6f221"/></linearGradient><path d="M158.8 365.8a16.3 5.7 0 1 0 32.5 0a16.3 5.7 0 1 0 -32.5 0zM161.5 365.8a13.6 4.8 0 1 0 27.1 0a13.6 4.8 0 1 0 -27.1 0z" fill="url(#gc194)" fill-rule="evenodd"/><linearGradient id="gc195" x2=".5" spreadMethod="reflect"><stop stop-color="#f7f31d"/><stop offset=".6" stop-color="#f7f31e"/><stop offset="1" stop-color="#f7f31f"/></linearGradient><path d="M159 365.4a16.1 5.6 0 1 0 32.2 0a16.1 5.6 0 1 0 -32.2 0zM161.4 365.4a13.7 4.8 0 1 0 27.3 0a13.7 4.8 0 1 0 -27.3 0z" fill="url(#gc195)" fill-rule="evenodd"/><linearGradient id="gc196" x2=".5" spreadMethod="reflect"><stop stop-color="#f7f51b"/><stop offset=".6" stop-color="#f7f51c"/><stop offset="1" stop-color="#f7f51d"/></linearGradient><path d="M159.2 365a15.9 5.6 0 1 0 31.8 0a15.9 5.6 0 1 0 -31.8 0zM161.3 365a13.8 4.8 0 1 0 27.5 0a13.8 4.8 0 1 0 -27.5 0z" fill="url(#gc196)" fill-rule="evenodd"/><linearGradient id="gc197" x2=".5" spreadMethod="reflect"><stop stop-color="#f8f719"/><stop offset=".6" stop-color="#f8f71a"/><stop offset="1" stop-color="#f8f71a"/></linearGradient><path d="M159.5 364.6a15.6 5.5 0 1 0 31.3 0a15.6 5.5 0 1 0 -31.3 0zM161.2 364.6a13.9 4.9 0 1 0 27.8 0a13.9 4.9 0 1 0 -27.8 0z" fill="url(#gc197)" fill-rule="evenodd"/><linearGradient id="gc198" x2=".5" spreadMethod="reflect"><stop stop-color="#f8f917"/><stop offset=".6" stop-color="#f8f917"/><stop offset="1" stop-color="#f8f918"/></linearGradient><path d="M159.8 364.2a15.3 5.4 0 1 0 30.7 0a15.3 5.4 0 1 0 -30.7 0zM161 364.2a14.1 4.9 0 1 0 28.1 0a14.1 4.9 0 1 0 -28.1 0z" fill="url(#gc198)" fill-rule="evenodd"/><linearGradient id="gc199" x2=".5" spreadMethod="reflect"><stop stop-color="#f9fb15"/><stop offset=".6" stop-color="#f9fb15"/><stop offset="1" stop-color="#f9fb15"/></linearGradient><path d="M160.3 363.8a14.8 5.2 0 1 0 29.5 0a14.8 5.2 0 1 0 -29.5 0zM160.7 363.8a14.4 5 0 1 0 28.8 0a14.4 5 0 1 0 -28.8 0z" fill="url(#gc199)" fill-rule="evenodd"/></g><g><polyline points="472,447 620.1,407.4 733.3,459.4" fill="none" stroke="#ececec" stroke-width="1.1"/><polyline points="472,430.7 620.1,391.1 733.3,443.1" fill="none" stroke="#ececec" stroke-width="1.1"/><polyline points="472,414.4 620.1,374.8 733.3,426.8" fill="none" stroke="#ececec" stroke-width="1.1"/><polyline points="472,398.2 620.1,358.6 733.3,410.6" fill="none" stroke="#ececec" stroke-width="1.1"/><polyline points="472,381.9 620.1,342.3 733.3,394.3" fill="none" stroke="#ececec" stroke-width="1.1"/><polyline points="472,365.6 620.1,326 733.3,378" fill="none" stroke="#ececec" stroke-width="1.1"/><polyline points="472,349.3 620.1,309.7 733.3,361.7" fill="none" stroke="#ececec" stroke-width="1.1"/><line x1="546.1" y1="427.2" x2="546.1" y2="313.2" stroke="#ececec" stroke-width="1.1"/><line x1="620.1" y1="407.4" x2="620.1" y2="293.4" stroke="#ececec" stroke-width="1.1"/><line x1="676.7" y1="433.4" x2="676.7" y2="319.4" stroke="#ececec" stroke-width="1.1"/><line x1="733.3" y1="459.4" x2="733.3" y2="345.4" stroke="#ececec" stroke-width="1.1"/><line x1="472" y1="447" x2="472" y2="333" stroke="#c4c4c4" stroke-width="1.4"/><line x1="472" y1="447" x2="468.9" y2="445.5" stroke="#555" stroke-width="0.6"/><line x1="472" y1="430.7" x2="468.9" y2="429.3" stroke="#555" stroke-width="0.6"/><line x1="472" y1="414.4" x2="468.9" y2="413" stroke="#555" stroke-width="0.6"/><line x1="472" y1="398.2" x2="468.9" y2="396.7" stroke="#555" stroke-width="0.6"/><line x1="472" y1="381.9" x2="468.9" y2="380.4" stroke="#555" stroke-width="0.6"/><line x1="472" y1="365.6" x2="468.9" y2="364.1" stroke="#555" stroke-width="0.6"/><line x1="472" y1="349.3" x2="468.9" y2="347.9" stroke="#555" stroke-width="0.6"/><line x1="585.2" y1="499" x2="581.5" y2="500" stroke="#555" stroke-width="0.6"/><line x1="528.6" y1="473" x2="525" y2="474" stroke="#555" stroke-width="0.6"/><line x1="472" y1="447" x2="468.4" y2="448" stroke="#555" stroke-width="0.6"/><line x1="585.2" y1="499" x2="588.7" y2="500.6" stroke="#555" stroke-width="0.6"/><line x1="659.2" y1="479.2" x2="662.7" y2="480.8" stroke="#555" stroke-width="0.6"/><line x1="733.3" y1="459.4" x2="736.8" y2="461" stroke="#555" stroke-width="0.6"/><polygon points="472,447 585.2,499 733.3,459.4 620.1,407.4" fill="#3d25b0"/><linearGradient id="gd0" x2=".5" spreadMethod="reflect"><stop stop-color="#422cb3"/><stop offset=".6" stop-color="#4c37b7"/><stop offset="1" stop-color="#5844bb"/></linearGradient><path d="M544.3 446.2a52.6 18.4 0 1 0 105.2 0a52.6 18.4 0 1 0 -105.2 0z" fill="url(#gd0)" fill-rule="evenodd"/><linearGradient id="gd1" x2=".5" spreadMethod="reflect"><stop stop-color="#442fb7"/><stop offset=".6" stop-color="#513dbc"/><stop offset="1" stop-color="#604ec2"/></linearGradient><path d="M545.7 445.9a51.2 17.9 0 1 0 102.3 0a51.2 17.9 0 1 0 -102.3 0z" fill="url(#gd1)" fill-rule="evenodd"/><linearGradient id="gd2" x2=".5" spreadMethod="reflect"><stop stop-color="#4531ba"/><stop offset=".6" stop-color="#5542c0"/><stop offset="1" stop-color="#6858c7"/></linearGradient><path d="M546.8 445.6a50.1 17.6 0 1 0 100.1 0a50.1 17.6 0 1 0 -100.1 0z" fill="url(#gd2)" fill-rule="evenodd"/><linearGradient id="gd3" x2=".5" spreadMethod="reflect"><stop stop-color="#4733be"/><stop offset=".6" stop-color="#5947c4"/><stop offset="1" stop-color="#6f60cc"/></linearGradient><path d="M547.7 445.3a49.2 17.2 0 1 0 98.3 0a49.2 17.2 0 1 0 -98.3 0z" fill="url(#gd3)" fill-rule="evenodd"/><linearGradient id="gd4" x2=".5" spreadMethod="reflect"><stop stop-color="#4835c2"/><stop offset=".6" stop-color="#5c4bc8"/><stop offset="1" stop-color="#7567d1"/></linearGradient><path d="M548.5 445a48.4 17 0 1 0 96.8 0a48.4 17 0 1 0 -96.8 0z" fill="url(#gd4)" fill-rule="evenodd"/><linearGradient id="gd5" x2=".5" spreadMethod="reflect"><stop stop-color="#4937c5"/><stop offset=".6" stop-color="#5f4fcc"/><stop offset="1" stop-color="#7a6dd5"/></linearGradient><path d="M549.2 444.7a47.7 16.7 0 1 0 95.5 0a47.7 16.7 0 1 0 -95.5 0z" fill="url(#gd5)" fill-rule="evenodd"/><linearGradient id="gd6" x2=".5" spreadMethod="reflect"><stop stop-color="#4a39c9"/><stop offset=".6" stop-color="#6253d0"/><stop offset="1" stop-color="#7f73d9"/></linearGradient><path d="M549.8 444.4a47.1 16.5 0 1 0 94.3 0a47.1 16.5 0 1 0 -94.3 0zM596.8 444.4a0.1 0 0 1 0 0.2 0a0.1 0 0 1 0 -0.2 0z" fill="url(#gd6)" fill-rule="evenodd"/><linearGradient id="gd7" x2=".5" spreadMethod="reflect"><stop stop-color="#4b3bcc"/><stop offset=".6" stop-color="#6456d3"/><stop offset="1" stop-color="#8378dc"/></linearGradient><path d="M550.3 444a46.6 16.3 0 1 0 93.2 0a46.6 16.3 0 1 0 -93.2 0zM596.5 444a0.4 0.1 0 1 0 0.8 0a0.4 0.1 0 1 0 -0.8 0z" fill="url(#gd7)" fill-rule="evenodd"/><linearGradient id="gd8" x2=".5" spreadMethod="reflect"><stop stop-color="#4c3cd0"/><stop offset=".6" stop-color="#6659d7"/><stop offset="1" stop-color="#877cdf"/></linearGradient><path d="M550.8 443.7a46.1 16.2 0 1 0 92.2 0a46.1 16.2 0 1 0 -92.2 0zM596.3 443.7a0.6 0.2 0 1 0 1.3 0a0.6 0.2 0 1 0 -1.3 0z" fill="url(#gd8)" fill-rule="evenodd"/><linearGradient id="gd9" x2=".5" spreadMethod="reflect"><stop stop-color="#4d3ed3"/><stop offset=".6" stop-color="#685cda"/><stop offset="1" stop-color="#8a80e2"/></linearGradient><path d="M551.3 443.4a45.6 16 0 1 0 91.3 0a45.6 16 0 1 0 -91.3 0zM596 443.4a0.9 0.3 0 1 0 1.8 0a0.9 0.3 0 1 0 -1.8 0z" fill="url(#gd9)" fill-rule="evenodd"/><linearGradient id="gd10" x2=".5" spreadMethod="reflect"><stop stop-color="#4d40d6"/><stop offset=".6" stop-color="#6a5edd"/><stop offset="1" stop-color="#8c84e5"/></linearGradient><path d="M551.7 443.1a45.2 15.9 0 1 0 90.4 0a45.2 15.9 0 1 0 -90.4 0zM595.8 443.1a1.1 0.4 0 1 0 2.3 0a1.1 0.4 0 1 0 -2.3 0z" fill="url(#gd10)" fill-rule="evenodd"/><linearGradient id="gd11" x2=".5" spreadMethod="reflect"><stop stop-color="#4e41d9"/><stop offset=".6" stop-color="#6b60df"/><stop offset="1" stop-color="#8f87e7"/></linearGradient><path d="M552.1 442.8a44.8 15.7 0 1 0 89.6 0a44.8 15.7 0 1 0 -89.6 0zM595.5 442.8a1.4 0.5 0 1 0 2.7 0a1.4 0.5 0 1 0 -2.7 0z" fill="url(#gd11)" fill-rule="evenodd"/><linearGradient id="gd12" x2=".5" spreadMethod="reflect"><stop stop-color="#4f43dc"/><stop offset=".6" stop-color="#6c63e2"/><stop offset="1" stop-color="#918ae9"/></linearGradient><path d="M552.5 442.5a44.4 15.6 0 1 0 88.9 0a44.4 15.6 0 1 0 -88.9 0zM595.3 442.5a1.6 0.5 0 1 0 3.1 0a1.6 0.5 0 1 0 -3.1 0z" fill="url(#gd12)" fill-rule="evenodd"/><linearGradient id="gd13" x2=".5" spreadMethod="reflect"><stop stop-color="#4f45de"/><stop offset=".6" stop-color="#6e65e4"/><stop offset="1" stop-color="#938ceb"/></linearGradient><path d="M552.8 442.2a44.1 15.5 0 1 0 88.2 0a44.1 15.5 0 1 0 -88.2 0zM595.1 442.2a1.8 0.6 0 1 0 3.5 0a1.8 0.6 0 1 0 -3.5 0z" fill="url(#gd13)" fill-rule="evenodd"/><linearGradient id="gd14" x2=".5" spreadMethod="reflect"><stop stop-color="#5046e1"/><stop offset=".6" stop-color="#6f67e6"/><stop offset="1" stop-color="#948fed"/></linearGradient><path d="M553.2 441.8a43.7 15.3 0 1 0 87.5 0a43.7 15.3 0 1 0 -87.5 0zM595 441.8a1.9 0.7 0 1 0 3.9 0a1.9 0.7 0 1 0 -3.9 0z" fill="url(#gd14)" fill-rule="evenodd"/><linearGradient id="gd15" x2=".5" spreadMethod="reflect"><stop stop-color="#5048e3"/><stop offset=".6" stop-color="#6f69e8"/><stop offset="1" stop-color="#9691ee"/></linearGradient><path d="M553.5 441.5a43.4 15.2 0 1 0 86.9 0a43.4 15.2 0 1 0 -86.9 0zM594.8 441.5a2.1 0.7 0 1 0 4.2 0a2.1 0.7 0 1 0 -4.2 0z" fill="url(#gd15)" fill-rule="evenodd"/><linearGradient id="gd16" x2=".5" spreadMethod="reflect"><stop stop-color="#504ae5"/><stop offset=".6" stop-color="#706bea"/><stop offset="1" stop-color="#9793ef"/></linearGradient><path d="M553.8 441.2a43.1 15.1 0 1 0 86.2 0a43.1 15.1 0 1 0 -86.2 0zM594.6 441.2a2.3 0.8 0 1 0 4.6 0a2.3 0.8 0 1 0 -4.6 0z" fill="url(#gd16)" fill-rule="evenodd"/><linearGradient id="gd17" x2=".5" spreadMethod="reflect"><stop stop-color="#514ce7"/><stop offset=".6" stop-color="#716deb"/><stop offset="1" stop-color="#9895f1"/></linearGradient><path d="M554.1 440.9a42.8 15 0 1 0 85.7 0a42.8 15 0 1 0 -85.7 0zM594.5 440.9a2.4 0.9 0 1 0 4.9 0a2.4 0.9 0 1 0 -4.9 0z" fill="url(#gd17)" fill-rule="evenodd"/><linearGradient id="gd18" x2=".5" spreadMethod="reflect"><stop stop-color="#514de9"/><stop offset=".6" stop-color="#716eed"/><stop offset="1" stop-color="#9896f2"/></linearGradient><path d="M554.4 440.6a42.5 14.9 0 1 0 85.1 0a42.5 14.9 0 1 0 -85.1 0zM594.3 440.6a2.6 0.9 0 1 0 5.2 0a2.6 0.9 0 1 0 -5.2 0z" fill="url(#gd18)" fill-rule="evenodd"/><linearGradient id="gd19" x2=".5" spreadMethod="reflect"><stop stop-color="#514feb"/><stop offset=".6" stop-color="#7270ee"/><stop offset="1" stop-color="#9998f3"/></linearGradient><path d="M554.6 440.3a42.3 14.8 0 1 0 84.6 0a42.3 14.8 0 1 0 -84.6 0zM594.2 440.3a2.7 1 0 1 0 5.5 0a2.7 1 0 1 0 -5.5 0z" fill="url(#gd19)" fill-rule="evenodd"/><linearGradient id="gd20" x2=".5" spreadMethod="reflect"><stop stop-color="#5151ec"/><stop offset=".6" stop-color="#7271f0"/><stop offset="1" stop-color="#9a99f4"/></linearGradient><path d="M554.9 440a42 14.7 0 1 0 84 0a42 14.7 0 1 0 -84 0zM594 440a2.9 1 0 1 0 5.8 0a2.9 1 0 1 0 -5.8 0z" fill="url(#gd20)" fill-rule="evenodd"/><linearGradient id="gd21" x2=".5" spreadMethod="reflect"><stop stop-color="#5153ee"/><stop offset=".6" stop-color="#7273f1"/><stop offset="1" stop-color="#9a9bf5"/></linearGradient><path d="M555.1 439.7a41.8 14.6 0 1 0 83.5 0a41.8 14.6 0 1 0 -83.5 0zM593.9 439.7a3 1.1 0 1 0 6.1 0a3 1.1 0 1 0 -6.1 0z" fill="url(#gd21)" fill-rule="evenodd"/><linearGradient id="gd22" x2=".5" spreadMethod="reflect"><stop stop-color="#5254ef"/><stop offset=".6" stop-color="#7275f2"/><stop offset="1" stop-color="#9a9cf6"/></linearGradient><path d="M555.4 439.3a41.5 14.6 0 1 0 83 0a41.5 14.6 0 1 0 -83 0zM593.7 439.3a3.2 1.1 0 1 0 6.3 0a3.2 1.1 0 1 0 -6.3 0z" fill="url(#gd22)" fill-rule="evenodd"/><linearGradient id="gd23" x2=".5" spreadMethod="reflect"><stop stop-color="#5256f1"/><stop offset=".6" stop-color="#7276f3"/><stop offset="1" stop-color="#9a9df7"/></linearGradient><path d="M555.6 439a41.3 14.5 0 1 0 82.6 0a41.3 14.5 0 1 0 -82.6 0zM593.6 439a3.3 1.2 0 1 0 6.6 0a3.3 1.2 0 1 0 -6.6 0z" fill="url(#gd23)" fill-rule="evenodd"/><linearGradient id="gd24" x2=".5" spreadMethod="reflect"><stop stop-color="#5258f2"/><stop offset=".6" stop-color="#7277f4"/><stop offset="1" stop-color="#9b9ef7"/></linearGradient><path d="M555.8 438.7a41.1 14.4 0 1 0 82.1 0a41.1 14.4 0 1 0 -82.1 0zM593.5 438.7a3.4 1.2 0 1 0 6.8 0a3.4 1.2 0 1 0 -6.8 0z" fill="url(#gd24)" fill-rule="evenodd"/><linearGradient id="gd25" x2=".5" spreadMethod="reflect"><stop stop-color="#5259f3"/><stop offset=".6" stop-color="#7279f5"/><stop offset="1" stop-color="#9b9ff8"/></linearGradient><path d="M556.1 438.4a40.8 14.3 0 1 0 81.7 0a40.8 14.3 0 1 0 -81.7 0zM593.4 438.4a3.5 1.2 0 1 0 7.1 0a3.5 1.2 0 1 0 -7.1 0z" fill="url(#gd25)" fill-rule="evenodd"/><linearGradient id="gd26" x2=".5" spreadMethod="reflect"><stop stop-color="#525bf4"/><stop offset=".6" stop-color="#727af6"/><stop offset="1" stop-color="#9ba0f9"/></linearGradient><path d="M556.3 438.1a40.6 14.2 0 1 0 81.2 0a40.6 14.2 0 1 0 -81.2 0zM593.2 438.1a3.7 1.3 0 1 0 7.3 0a3.7 1.3 0 1 0 -7.3 0z" fill="url(#gd26)" fill-rule="evenodd"/><linearGradient id="gd27" x2=".5" spreadMethod="reflect"><stop stop-color="#525df6"/><stop offset=".6" stop-color="#727bf7"/><stop offset="1" stop-color="#9aa1f9"/></linearGradient><path d="M556.5 437.8a40.4 14.2 0 1 0 80.8 0a40.4 14.2 0 1 0 -80.8 0zM593.1 437.8a3.8 1.3 0 1 0 7.6 0a3.8 1.3 0 1 0 -7.6 0z" fill="url(#gd27)" fill-rule="evenodd"/><linearGradient id="gd28" x2=".5" spreadMethod="reflect"><stop stop-color="#515ef7"/><stop offset=".6" stop-color="#727df8"/><stop offset="1" stop-color="#9aa2fa"/></linearGradient><path d="M556.7 437.5a40.2 14.1 0 1 0 80.4 0a40.2 14.1 0 1 0 -80.4 0zM593 437.5a3.9 1.4 0 1 0 7.8 0a3.9 1.4 0 1 0 -7.8 0z" fill="url(#gd28)" fill-rule="evenodd"/><linearGradient id="gd29" x2=".5" spreadMethod="reflect"><stop stop-color="#5160f8"/><stop offset=".6" stop-color="#727ef9"/><stop offset="1" stop-color="#9aa3fb"/></linearGradient><path d="M556.9 437.1a40 14 0 1 0 80 0a40 14 0 1 0 -80 0zM592.9 437.1a4 1.4 0 1 0 8 0a4 1.4 0 1 0 -8 0z" fill="url(#gd29)" fill-rule="evenodd"/><linearGradient id="gd30" x2=".5" spreadMethod="reflect"><stop stop-color="#5162f9"/><stop offset=".6" stop-color="#727ffa"/><stop offset="1" stop-color="#9aa3fb"/></linearGradient><path d="M557.1 436.8a39.8 14 0 1 0 79.6 0a39.8 14 0 1 0 -79.6 0zM592.8 436.8a4.1 1.4 0 1 0 8.2 0a4.1 1.4 0 1 0 -8.2 0z" fill="url(#gd30)" fill-rule="evenodd"/><linearGradient id="gd31" x2=".5" spreadMethod="reflect"><stop stop-color="#5163f9"/><stop offset=".6" stop-color="#7180fa"/><stop offset="1" stop-color="#99a4fc"/></linearGradient><path d="M557.3 436.5a39.6 13.9 0 1 0 79.2 0a39.6 13.9 0 1 0 -79.2 0zM592.7 436.5a4.2 1.5 0 1 0 8.4 0a4.2 1.5 0 1 0 -8.4 0z" fill="url(#gd31)" fill-rule="evenodd"/><linearGradient id="gd32" x2=".5" spreadMethod="reflect"><stop stop-color="#5065fa"/><stop offset=".6" stop-color="#7182fb"/><stop offset="1" stop-color="#99a5fc"/></linearGradient><path d="M557.5 436.2a39.4 13.8 0 1 0 78.8 0a39.4 13.8 0 1 0 -78.8 0zM592.6 436.2a4.3 1.5 0 1 0 8.6 0a4.3 1.5 0 1 0 -8.6 0z" fill="url(#gd32)" fill-rule="evenodd"/><linearGradient id="gd33" x2=".5" spreadMethod="reflect"><stop stop-color="#5067fb"/><stop offset=".6" stop-color="#7183fc"/><stop offset="1" stop-color="#98a5fd"/></linearGradient><path d="M557.7 435.9a39.2 13.8 0 1 0 78.5 0a39.2 13.8 0 1 0 -78.5 0zM592.5 435.9a4.4 1.5 0 1 0 8.8 0a4.4 1.5 0 1 0 -8.8 0z" fill="url(#gd33)" fill-rule="evenodd"/><linearGradient id="gd34" x2=".5" spreadMethod="reflect"><stop stop-color="#5068fc"/><stop offset=".6" stop-color="#7084fc"/><stop offset="1" stop-color="#98a6fd"/></linearGradient><path d="M557.8 435.6a39.1 13.7 0 1 0 78.1 0a39.1 13.7 0 1 0 -78.1 0zM592.4 435.6a4.5 1.6 0 1 0 9 0a4.5 1.6 0 1 0 -9 0z" fill="url(#gd34)" fill-rule="evenodd"/><linearGradient id="gd35" x2=".5" spreadMethod="reflect"><stop stop-color="#4f6afc"/><stop offset=".6" stop-color="#7085fd"/><stop offset="1" stop-color="#97a7fd"/></linearGradient><path d="M558 435.3a38.9 13.6 0 1 0 77.8 0a38.9 13.6 0 1 0 -77.8 0zM592.3 435.3a4.6 1.6 0 1 0 9.2 0a4.6 1.6 0 1 0 -9.2 0z" fill="url(#gd35)" fill-rule="evenodd"/><linearGradient id="gd36" x2=".5" spreadMethod="reflect"><stop stop-color="#4f6cfd"/><stop offset=".6" stop-color="#6f87fd"/><stop offset="1" stop-color="#96a8fe"/></linearGradient><path d="M558.2 434.9a38.7 13.6 0 1 0 77.4 0a38.7 13.6 0 1 0 -77.4 0zM592.2 434.9a4.7 1.7 0 1 0 9.4 0a4.7 1.7 0 1 0 -9.4 0z" fill="url(#gd36)" fill-rule="evenodd"/><linearGradient id="gd37" x2=".5" spreadMethod="reflect"><stop stop-color="#4e6dfd"/><stop offset=".6" stop-color="#6e88fd"/><stop offset="1" stop-color="#96a8fe"/></linearGradient><path d="M558.4 434.6a38.5 13.5 0 1 0 77.1 0a38.5 13.5 0 1 0 -77.1 0zM592.1 434.6a4.8 1.7 0 1 0 9.6 0a4.8 1.7 0 1 0 -9.6 0z" fill="url(#gd37)" fill-rule="evenodd"/><linearGradient id="gd38" x2=".5" spreadMethod="reflect"><stop stop-color="#4d6ffd"/><stop offset=".6" stop-color="#6d89fe"/><stop offset="1" stop-color="#95a9fe"/></linearGradient><path d="M558.5 434.3a38.4 13.5 0 1 0 76.7 0a38.4 13.5 0 1 0 -76.7 0zM592 434.3a4.9 1.7 0 1 0 9.8 0a4.9 1.7 0 1 0 -9.8 0z" fill="url(#gd38)" fill-rule="evenodd"/><linearGradient id="gd39" x2=".5" spreadMethod="reflect"><stop stop-color="#4c71fe"/><stop offset=".6" stop-color="#6d8afe"/><stop offset="1" stop-color="#94aafe"/></linearGradient><path d="M558.7 434a38.2 13.4 0 1 0 76.4 0a38.2 13.4 0 1 0 -76.4 0zM591.9 434a5 1.7 0 1 0 10 0a5 1.7 0 1 0 -10 0z" fill="url(#gd39)" fill-rule="evenodd"/><linearGradient id="gd40" x2=".5" spreadMethod="reflect"><stop stop-color="#4b72fe"/><stop offset=".6" stop-color="#6b8cfe"/><stop offset="1" stop-color="#93aafe"/></linearGradient><path d="M558.9 433.7a38 13.3 0 1 0 76.1 0a38 13.3 0 1 0 -76.1 0zM591.8 433.7a5.1 1.8 0 1 0 10.2 0a5.1 1.8 0 1 0 -10.2 0z" fill="url(#gd40)" fill-rule="evenodd"/><linearGradient id="gd41" x2=".5" spreadMethod="reflect"><stop stop-color="#4a74fe"/><stop offset=".6" stop-color="#6a8dfe"/><stop offset="1" stop-color="#92abff"/></linearGradient><path d="M559 433.4a37.9 13.3 0 1 0 75.8 0a37.9 13.3 0 1 0 -75.8 0zM591.7 433.4a5.2 1.8 0 1 0 10.3 0a5.2 1.8 0 1 0 -10.3 0z" fill="url(#gd41)" fill-rule="evenodd"/><linearGradient id="gd42" x2=".5" spreadMethod="reflect"><stop stop-color="#4976ff"/><stop offset=".6" stop-color="#698eff"/><stop offset="1" stop-color="#91acff"/></linearGradient><path d="M559.2 433.1a37.7 13.2 0 1 0 75.4 0a37.7 13.2 0 1 0 -75.4 0zM591.6 433.1a5.3 1.8 0 1 0 10.5 0a5.3 1.8 0 1 0 -10.5 0z" fill="url(#gd42)" fill-rule="evenodd"/><linearGradient id="gd43" x2=".5" spreadMethod="reflect"><stop stop-color="#4778ff"/><stop offset=".6" stop-color="#6790ff"/><stop offset="1" stop-color="#8fadff"/></linearGradient><path d="M559.3 432.8a37.6 13.2 0 1 0 75.1 0a37.6 13.2 0 1 0 -75.1 0zM591.6 432.8a5.3 1.9 0 1 0 10.7 0a5.3 1.9 0 1 0 -10.7 0z" fill="url(#gd43)" fill-rule="evenodd"/><linearGradient id="gd44" x2=".5" spreadMethod="reflect"><stop stop-color="#4579ff"/><stop offset=".6" stop-color="#6691ff"/><stop offset="1" stop-color="#8eaeff"/></linearGradient><path d="M559.5 432.4a37.4 13.1 0 1 0 74.8 0a37.4 13.1 0 1 0 -74.8 0zM591.5 432.4a5.4 1.9 0 1 0 10.8 0a5.4 1.9 0 1 0 -10.8 0z" fill="url(#gd44)" fill-rule="evenodd"/><linearGradient id="gd45" x2=".5" spreadMethod="reflect"><stop stop-color="#437bfe"/><stop offset=".6" stop-color="#6492ff"/><stop offset="1" stop-color="#8caeff"/></linearGradient><path d="M559.6 432.1a37.3 13.1 0 1 0 74.5 0a37.3 13.1 0 1 0 -74.5 0zM591.4 432.1a5.5 1.9 0 1 0 11 0a5.5 1.9 0 1 0 -11 0z" fill="url(#gd45)" fill-rule="evenodd"/><linearGradient id="gd46" x2=".5" spreadMethod="reflect"><stop stop-color="#417dfe"/><stop offset=".6" stop-color="#6294fe"/><stop offset="1" stop-color="#8aaffe"/></linearGradient><path d="M559.8 431.8a37.1 13 0 1 0 74.2 0a37.1 13 0 1 0 -74.2 0zM591.3 431.8a5.6 2 0 1 0 11.2 0a5.6 2 0 1 0 -11.2 0z" fill="url(#gd46)" fill-rule="evenodd"/><linearGradient id="gd47" x2=".5" spreadMethod="reflect"><stop stop-color="#3f7ffd"/><stop offset=".6" stop-color="#6095fe"/><stop offset="1" stop-color="#89b0fe"/></linearGradient><path d="M559.9 431.5a37 13 0 1 0 73.9 0a37 13 0 1 0 -73.9 0zM591.2 431.5a5.7 2 0 1 0 11.3 0a5.7 2 0 1 0 -11.3 0z" fill="url(#gd47)" fill-rule="evenodd"/><linearGradient id="gd48" x2=".5" spreadMethod="reflect"><stop stop-color="#3e81fd"/><stop offset=".6" stop-color="#5f96fd"/><stop offset="1" stop-color="#87b1fe"/></linearGradient><path d="M560.1 431.2a36.8 12.9 0 1 0 73.7 0a36.8 12.9 0 1 0 -73.7 0zM591.2 431.2a5.7 2 0 1 0 11.5 0a5.7 2 0 1 0 -11.5 0z" fill="url(#gd48)" fill-rule="evenodd"/><linearGradient id="gd49" x2=".5" spreadMethod="reflect"><stop stop-color="#3c82fc"/><stop offset=".6" stop-color="#5d98fd"/><stop offset="1" stop-color="#86b1fd"/></linearGradient><path d="M560.2 430.9a36.7 12.9 0 1 0 73.4 0a36.7 12.9 0 1 0 -73.4 0zM591.1 430.9a5.8 2 0 1 0 11.6 0a5.8 2 0 1 0 -11.6 0z" fill="url(#gd49)" fill-rule="evenodd"/><linearGradient id="gd50" x2=".5" spreadMethod="reflect"><stop stop-color="#3b84fb"/><stop offset=".6" stop-color="#5c99fc"/><stop offset="1" stop-color="#84b2fd"/></linearGradient><path d="M560.4 430.6a36.5 12.8 0 1 0 73.1 0a36.5 12.8 0 1 0 -73.1 0zM591 430.6a5.9 2.1 0 1 0 11.8 0a5.9 2.1 0 1 0 -11.8 0z" fill="url(#gd50)" fill-rule="evenodd"/><linearGradient id="gd51" x2=".5" spreadMethod="reflect"><stop stop-color="#3a86fb"/><stop offset=".6" stop-color="#5b9afb"/><stop offset="1" stop-color="#83b3fc"/></linearGradient><path d="M560.5 430.2a36.4 12.8 0 1 0 72.8 0a36.4 12.8 0 1 0 -72.8 0zM590.9 430.2a6 2.1 0 1 0 12 0a6 2.1 0 1 0 -12 0z" fill="url(#gd51)" fill-rule="evenodd"/><linearGradient id="gd52" x2=".5" spreadMethod="reflect"><stop stop-color="#3987fa"/><stop offset=".6" stop-color="#5a9bfb"/><stop offset="1" stop-color="#82b4fc"/></linearGradient><path d="M560.6 429.9a36.3 12.7 0 1 0 72.5 0a36.3 12.7 0 1 0 -72.5 0zM590.8 429.9a6.1 2.1 0 1 0 12.1 0a6.1 2.1 0 1 0 -12.1 0z" fill="url(#gd52)" fill-rule="evenodd"/><linearGradient id="gd53" x2=".5" spreadMethod="reflect"><stop stop-color="#3889f9"/><stop offset=".6" stop-color="#599dfa"/><stop offset="1" stop-color="#81b4fb"/></linearGradient><path d="M560.8 429.6a36.1 12.7 0 1 0 72.3 0a36.1 12.7 0 1 0 -72.3 0zM590.8 429.6a6.1 2.1 0 1 0 12.3 0a6.1 2.1 0 1 0 -12.3 0z" fill="url(#gd53)" fill-rule="evenodd"/><linearGradient id="gd54" x2=".5" spreadMethod="reflect"><stop stop-color="#388bf8"/><stop offset=".6" stop-color="#599ef9"/><stop offset="1" stop-color="#81b5fb"/></linearGradient><path d="M560.9 429.3a36 12.6 0 1 0 72 0a36 12.6 0 1 0 -72 0zM590.7 429.3a6.2 2.2 0 1 0 12.4 0a6.2 2.2 0 1 0 -12.4 0z" fill="url(#gd54)" fill-rule="evenodd"/><linearGradient id="gd55" x2=".5" spreadMethod="reflect"><stop stop-color="#378cf7"/><stop offset=".6" stop-color="#589ff9"/><stop offset="1" stop-color="#80b6fa"/></linearGradient><path d="M561 429a35.9 12.6 0 1 0 71.7 0a35.9 12.6 0 1 0 -71.7 0zM590.6 429a6.3 2.2 0 1 0 12.6 0a6.3 2.2 0 1 0 -12.6 0z" fill="url(#gd55)" fill-rule="evenodd"/><linearGradient id="gd56" x2=".5" spreadMethod="reflect"><stop stop-color="#378ef6"/><stop offset=".6" stop-color="#58a0f8"/><stop offset="1" stop-color="#7fb7f9"/></linearGradient><path d="M561.2 428.7a35.7 12.5 0 1 0 71.5 0a35.7 12.5 0 1 0 -71.5 0zM590.6 428.7a6.3 2.2 0 1 0 12.7 0a6.3 2.2 0 1 0 -12.7 0z" fill="url(#gd56)" fill-rule="evenodd"/><linearGradient id="gd57" x2=".5" spreadMethod="reflect"><stop stop-color="#378ff5"/><stop offset=".6" stop-color="#57a1f7"/><stop offset="1" stop-color="#7eb7f9"/></linearGradient><path d="M561.3 428.4a35.6 12.5 0 1 0 71.2 0a35.6 12.5 0 1 0 -71.2 0zM590.5 428.4a6.4 2.3 0 1 0 12.8 0a6.4 2.3 0 1 0 -12.8 0z" fill="url(#gd57)" fill-rule="evenodd"/><linearGradient id="gd58" x2=".5" spreadMethod="reflect"><stop stop-color="#3791f4"/><stop offset=".6" stop-color="#57a3f6"/><stop offset="1" stop-color="#7eb8f8"/></linearGradient><path d="M561.4 428a35.5 12.4 0 1 0 70.9 0a35.5 12.4 0 1 0 -70.9 0zM590.4 428a6.5 2.3 0 1 0 13 0a6.5 2.3 0 1 0 -13 0z" fill="url(#gd58)" fill-rule="evenodd"/><linearGradient id="gd59" x2=".5" spreadMethod="reflect"><stop stop-color="#3692f3"/><stop offset=".6" stop-color="#56a4f5"/><stop offset="1" stop-color="#7db9f7"/></linearGradient><path d="M561.6 427.7a35.3 12.4 0 1 0 70.7 0a35.3 12.4 0 1 0 -70.7 0zM590.3 427.7a6.6 2.3 0 1 0 13.1 0a6.6 2.3 0 1 0 -13.1 0z" fill="url(#gd59)" fill-rule="evenodd"/><linearGradient id="gd60" x2=".5" spreadMethod="reflect"><stop stop-color="#3694f1"/><stop offset=".6" stop-color="#55a5f3"/><stop offset="1" stop-color="#7cb9f6"/></linearGradient><path d="M561.7 427.4a35.2 12.4 0 1 0 70.4 0a35.2 12.4 0 1 0 -70.4 0zM590.3 427.4a6.6 2.3 0 1 0 13.3 0a6.6 2.3 0 1 0 -13.3 0z" fill="url(#gd60)" fill-rule="evenodd"/><linearGradient id="gd61" x2=".5" spreadMethod="reflect"><stop stop-color="#3596f0"/><stop offset=".6" stop-color="#54a6f2"/><stop offset="1" stop-color="#7bbaf5"/></linearGradient><path d="M561.8 427.1a35.1 12.3 0 1 0 70.2 0a35.1 12.3 0 1 0 -70.2 0zM590.2 427.1a6.7 2.3 0 1 0 13.4 0a6.7 2.3 0 1 0 -13.4 0z" fill="url(#gd61)" fill-rule="evenodd"/><linearGradient id="gd62" x2=".5" spreadMethod="reflect"><stop stop-color="#3497ef"/><stop offset=".6" stop-color="#53a7f1"/><stop offset="1" stop-color="#7abbf4"/></linearGradient><path d="M561.9 426.8a35 12.3 0 1 0 69.9 0a35 12.3 0 1 0 -69.9 0zM590.1 426.8a6.8 2.4 0 1 0 13.5 0a6.8 2.4 0 1 0 -13.5 0z" fill="url(#gd62)" fill-rule="evenodd"/><linearGradient id="gd63" x2=".5" spreadMethod="reflect"><stop stop-color="#3398ee"/><stop offset=".6" stop-color="#52a8f0"/><stop offset="1" stop-color="#79bcf4"/></linearGradient><path d="M562.1 426.5a34.8 12.2 0 1 0 69.7 0a34.8 12.2 0 1 0 -69.7 0zM590.1 426.5a6.8 2.4 0 1 0 13.7 0a6.8 2.4 0 1 0 -13.7 0z" fill="url(#gd63)" fill-rule="evenodd"/><linearGradient id="gd64" x2=".5" spreadMethod="reflect"><stop stop-color="#329aed"/><stop offset=".6" stop-color="#51a9f0"/><stop offset="1" stop-color="#77bcf3"/></linearGradient><path d="M562.2 426.2a34.7 12.2 0 1 0 69.4 0a34.7 12.2 0 1 0 -69.4 0zM590 426.2a6.9 2.4 0 1 0 13.8 0a6.9 2.4 0 1 0 -13.8 0z" fill="url(#gd64)" fill-rule="evenodd"/><linearGradient id="gd65" x2=".5" spreadMethod="reflect"><stop stop-color="#319bec"/><stop offset=".6" stop-color="#50abef"/><stop offset="1" stop-color="#76bdf2"/></linearGradient><path d="M562.3 425.8a34.6 12.1 0 1 0 69.2 0a34.6 12.1 0 1 0 -69.2 0zM589.9 425.8a7 2.4 0 1 0 13.9 0a7 2.4 0 1 0 -13.9 0z" fill="url(#gd65)" fill-rule="evenodd"/><linearGradient id="gd66" x2=".5" spreadMethod="reflect"><stop stop-color="#309deb"/><stop offset=".6" stop-color="#4facee"/><stop offset="1" stop-color="#75bef1"/></linearGradient><path d="M562.4 425.5a34.5 12.1 0 1 0 69 0a34.5 12.1 0 1 0 -69 0zM589.9 425.5a7 2.5 0 1 0 14.1 0a7 2.5 0 1 0 -14.1 0z" fill="url(#gd66)" fill-rule="evenodd"/><linearGradient id="gd67" x2=".5" spreadMethod="reflect"><stop stop-color="#2f9eea"/><stop offset=".6" stop-color="#4eaded"/><stop offset="1" stop-color="#74bef1"/></linearGradient><path d="M562.5 425.2a34.4 12 0 1 0 68.7 0a34.4 12 0 1 0 -68.7 0zM589.8 425.2a7.1 2.5 0 1 0 14.2 0a7.1 2.5 0 1 0 -14.2 0z" fill="url(#gd67)" fill-rule="evenodd"/><linearGradient id="gd68" x2=".5" spreadMethod="reflect"><stop stop-color="#2fa0e8"/><stop offset=".6" stop-color="#4daeec"/><stop offset="1" stop-color="#73bff0"/></linearGradient><path d="M562.7 424.9a34.2 12 0 1 0 68.5 0a34.2 12 0 1 0 -68.5 0zM589.7 424.9a7.2 2.5 0 1 0 14.3 0a7.2 2.5 0 1 0 -14.3 0z" fill="url(#gd68)" fill-rule="evenodd"/><linearGradient id="gd69" x2=".5" spreadMethod="reflect"><stop stop-color="#2ea1e8"/><stop offset=".6" stop-color="#4dafeb"/><stop offset="1" stop-color="#72c0ef"/></linearGradient><path d="M562.8 424.6a34.1 12 0 1 0 68.2 0a34.1 12 0 1 0 -68.2 0zM589.7 424.6a7.2 2.5 0 1 0 14.5 0a7.2 2.5 0 1 0 -14.5 0z" fill="url(#gd69)" fill-rule="evenodd"/><linearGradient id="gd70" x2=".5" spreadMethod="reflect"><stop stop-color="#2da2e7"/><stop offset=".6" stop-color="#4cb0ea"/><stop offset="1" stop-color="#71c0ef"/></linearGradient><path d="M562.9 424.3a34 11.9 0 1 0 68 0a34 11.9 0 1 0 -68 0zM589.6 424.3a7.3 2.6 0 1 0 14.6 0a7.3 2.6 0 1 0 -14.6 0z" fill="url(#gd70)" fill-rule="evenodd"/><linearGradient id="gd71" x2=".5" spreadMethod="reflect"><stop stop-color="#2da4e6"/><stop offset=".6" stop-color="#4bb1ea"/><stop offset="1" stop-color="#70c1ee"/></linearGradient><path d="M563 424a33.9 11.9 0 1 0 67.8 0a33.9 11.9 0 1 0 -67.8 0zM589.5 424a7.4 2.6 0 1 0 14.7 0a7.4 2.6 0 1 0 -14.7 0z" fill="url(#gd71)" fill-rule="evenodd"/><linearGradient id="gd72" x2=".5" spreadMethod="reflect"><stop stop-color="#2ba5e5"/><stop offset=".6" stop-color="#4ab2e9"/><stop offset="1" stop-color="#6fc2ed"/></linearGradient><path d="M563.1 423.7a33.8 11.8 0 1 0 67.6 0a33.8 11.8 0 1 0 -67.6 0zM589.5 423.7a7.4 2.6 0 1 0 14.8 0a7.4 2.6 0 1 0 -14.8 0z" fill="url(#gd72)" fill-rule="evenodd"/><linearGradient id="gd73" x2=".5" spreadMethod="reflect"><stop stop-color="#2aa7e5"/><stop offset=".6" stop-color="#49b3e8"/><stop offset="1" stop-color="#6ec2ed"/></linearGradient><path d="M563.2 423.3a33.7 11.8 0 1 0 67.3 0a33.7 11.8 0 1 0 -67.3 0zM589.4 423.3a7.5 2.6 0 1 0 15 0a7.5 2.6 0 1 0 -15 0z" fill="url(#gd73)" fill-rule="evenodd"/><linearGradient id="gd74" x2=".5" spreadMethod="reflect"><stop stop-color="#29a8e4"/><stop offset=".6" stop-color="#47b4e8"/><stop offset="1" stop-color="#6cc3ec"/></linearGradient><path d="M563.4 423a33.5 11.8 0 1 0 67.1 0a33.5 11.8 0 1 0 -67.1 0zM589.4 423a7.5 2.6 0 1 0 15.1 0a7.5 2.6 0 1 0 -15.1 0z" fill="url(#gd74)" fill-rule="evenodd"/><linearGradient id="gd75" x2=".5" spreadMethod="reflect"><stop stop-color="#28a9e3"/><stop offset=".6" stop-color="#46b5e7"/><stop offset="1" stop-color="#6bc4ec"/></linearGradient><path d="M563.5 422.7a33.4 11.7 0 1 0 66.9 0a33.4 11.7 0 1 0 -66.9 0zM589.3 422.7a7.6 2.7 0 1 0 15.2 0a7.6 2.7 0 1 0 -15.2 0z" fill="url(#gd75)" fill-rule="evenodd"/><linearGradient id="gd76" x2=".5" spreadMethod="reflect"><stop stop-color="#27abe2"/><stop offset=".6" stop-color="#45b6e6"/><stop offset="1" stop-color="#6ac5eb"/></linearGradient><path d="M563.6 422.4a33.3 11.7 0 1 0 66.6 0a33.3 11.7 0 1 0 -66.6 0zM589.2 422.4a7.7 2.7 0 1 0 15.3 0a7.7 2.7 0 1 0 -15.3 0z" fill="url(#gd76)" fill-rule="evenodd"/><linearGradient id="gd77" x2=".5" spreadMethod="reflect"><stop stop-color="#26ace1"/><stop offset=".6" stop-color="#44b7e5"/><stop offset="1" stop-color="#68c5ea"/></linearGradient><path d="M563.7 422.1a33.2 11.6 0 1 0 66.4 0a33.2 11.6 0 1 0 -66.4 0zM589.2 422.1a7.7 2.7 0 1 0 15.5 0a7.7 2.7 0 1 0 -15.5 0z" fill="url(#gd77)" fill-rule="evenodd"/><linearGradient id="gd78" x2=".5" spreadMethod="reflect"><stop stop-color="#25ade0"/><stop offset=".6" stop-color="#43b8e4"/><stop offset="1" stop-color="#67c6e9"/></linearGradient><path d="M563.8 421.8a33.1 11.6 0 1 0 66.2 0a33.1 11.6 0 1 0 -66.2 0zM589.1 421.8a7.8 2.7 0 1 0 15.6 0a7.8 2.7 0 1 0 -15.6 0z" fill="url(#gd78)" fill-rule="evenodd"/><linearGradient id="gd79" x2=".5" spreadMethod="reflect"><stop stop-color="#24aedf"/><stop offset=".6" stop-color="#41b9e3"/><stop offset="1" stop-color="#65c7e9"/></linearGradient><path d="M563.9 421.5a33 11.6 0 1 0 66 0a33 11.6 0 1 0 -66 0zM589 421.5a7.9 2.8 0 1 0 15.7 0a7.9 2.8 0 1 0 -15.7 0z" fill="url(#gd79)" fill-rule="evenodd"/><linearGradient id="gd80" x2=".5" spreadMethod="reflect"><stop stop-color="#22b0de"/><stop offset=".6" stop-color="#40bae2"/><stop offset="1" stop-color="#64c7e8"/></linearGradient><path d="M564 421.1a32.9 11.5 0 1 0 65.8 0a32.9 11.5 0 1 0 -65.8 0zM589 421.1a7.9 2.8 0 1 0 15.8 0a7.9 2.8 0 1 0 -15.8 0z" fill="url(#gd80)" fill-rule="evenodd"/><linearGradient id="gd81" x2=".5" spreadMethod="reflect"><stop stop-color="#21b1dc"/><stop offset=".6" stop-color="#3ebbe1"/><stop offset="1" stop-color="#62c8e6"/></linearGradient><path d="M564.1 420.8a32.8 11.5 0 1 0 65.5 0a32.8 11.5 0 1 0 -65.5 0zM588.9 420.8a8 2.8 0 1 0 15.9 0a8 2.8 0 1 0 -15.9 0z" fill="url(#gd81)" fill-rule="evenodd"/><linearGradient id="gd82" x2=".5" spreadMethod="reflect"><stop stop-color="#1fb2db"/><stop offset=".6" stop-color="#3cbcdf"/><stop offset="1" stop-color="#60c8e5"/></linearGradient><path d="M564.2 420.5a32.7 11.5 0 1 0 65.3 0a32.7 11.5 0 1 0 -65.3 0zM588.9 420.5a8 2.8 0 1 0 16.1 0a8 2.8 0 1 0 -16.1 0z" fill="url(#gd82)" fill-rule="evenodd"/><linearGradient id="gd83" x2=".5" spreadMethod="reflect"><stop stop-color="#1db3d9"/><stop offset=".6" stop-color="#3abdde"/><stop offset="1" stop-color="#5ec9e4"/></linearGradient><path d="M564.3 420.2a32.6 11.4 0 1 0 65.1 0a32.6 11.4 0 1 0 -65.1 0zM588.8 420.2a8.1 2.8 0 1 0 16.2 0a8.1 2.8 0 1 0 -16.2 0z" fill="url(#gd83)" fill-rule="evenodd"/><linearGradient id="gd84" x2=".5" spreadMethod="reflect"><stop stop-color="#1ab4d7"/><stop offset=".6" stop-color="#38bedd"/><stop offset="1" stop-color="#5ccae3"/></linearGradient><path d="M564.5 419.9a32.4 11.4 0 1 0 64.9 0a32.4 11.4 0 1 0 -64.9 0zM588.7 419.9a8.2 2.9 0 1 0 16.3 0a8.2 2.9 0 1 0 -16.3 0z" fill="url(#gd84)" fill-rule="evenodd"/><linearGradient id="gd85" x2=".5" spreadMethod="reflect"><stop stop-color="#17b5d6"/><stop offset=".6" stop-color="#35bfdb"/><stop offset="1" stop-color="#59cae1"/></linearGradient><path d="M564.6 419.6a32.3 11.3 0 1 0 64.7 0a32.3 11.3 0 1 0 -64.7 0zM588.7 419.6a8.2 2.9 0 1 0 16.4 0a8.2 2.9 0 1 0 -16.4 0z" fill="url(#gd85)" fill-rule="evenodd"/><linearGradient id="gd86" x2=".5" spreadMethod="reflect"><stop stop-color="#14b6d4"/><stop offset=".6" stop-color="#32bfd9"/><stop offset="1" stop-color="#56cbe0"/></linearGradient><path d="M564.7 419.3a32.2 11.3 0 1 0 64.5 0a32.2 11.3 0 1 0 -64.5 0zM588.6 419.3a8.3 2.9 0 1 0 16.5 0a8.3 2.9 0 1 0 -16.5 0z" fill="url(#gd86)" fill-rule="evenodd"/><linearGradient id="gd87" x2=".5" spreadMethod="reflect"><stop stop-color="#11b7d2"/><stop offset=".6" stop-color="#2fc0d8"/><stop offset="1" stop-color="#54cbdf"/></linearGradient><path d="M564.8 418.9a32.1 11.3 0 1 0 64.3 0a32.1 11.3 0 1 0 -64.3 0zM588.6 418.9a8.3 2.9 0 1 0 16.7 0a8.3 2.9 0 1 0 -16.7 0z" fill="url(#gd87)" fill-rule="evenodd"/><linearGradient id="gd88" x2=".5" spreadMethod="reflect"><stop stop-color="#0fb8d0"/><stop offset=".6" stop-color="#2dc1d6"/><stop offset="1" stop-color="#51ccdd"/></linearGradient><path d="M564.9 418.6a32 11.2 0 1 0 64 0a32 11.2 0 1 0 -64 0zM588.5 418.6a8.4 2.9 0 1 0 16.8 0a8.4 2.9 0 1 0 -16.8 0z" fill="url(#gd88)" fill-rule="evenodd"/><linearGradient id="gd89" x2=".5" spreadMethod="reflect"><stop stop-color="#0db9ce"/><stop offset=".6" stop-color="#2bc2d4"/><stop offset="1" stop-color="#4fccdc"/></linearGradient><path d="M565 418.3a31.9 11.2 0 1 0 63.8 0a31.9 11.2 0 1 0 -63.8 0zM588.5 418.3a8.4 3 0 1 0 16.9 0a8.4 3 0 1 0 -16.9 0z" fill="url(#gd89)" fill-rule="evenodd"/><linearGradient id="gd90" x2=".5" spreadMethod="reflect"><stop stop-color="#0bbacc"/><stop offset=".6" stop-color="#29c2d3"/><stop offset="1" stop-color="#4dcdda"/></linearGradient><path d="M565.1 418a31.8 11.2 0 1 0 63.6 0a31.8 11.2 0 1 0 -63.6 0zM588.4 418a8.5 3 0 1 0 17 0a8.5 3 0 1 0 -17 0z" fill="url(#gd90)" fill-rule="evenodd"/><linearGradient id="gd91" x2=".5" spreadMethod="reflect"><stop stop-color="#0abbca"/><stop offset=".6" stop-color="#28c3d1"/><stop offset="1" stop-color="#4ccdd9"/></linearGradient><path d="M565.2 417.7a31.7 11.1 0 1 0 63.4 0a31.7 11.1 0 1 0 -63.4 0zM588.3 417.7a8.6 3 0 1 0 17.1 0a8.6 3 0 1 0 -17.1 0z" fill="url(#gd91)" fill-rule="evenodd"/><linearGradient id="gd92" x2=".5" spreadMethod="reflect"><stop stop-color="#0abcc8"/><stop offset=".6" stop-color="#28c4cf"/><stop offset="1" stop-color="#4bced7"/></linearGradient><path d="M565.3 417.4a31.6 11.1 0 1 0 63.2 0a31.6 11.1 0 1 0 -63.2 0zM588.3 417.4a8.6 3 0 1 0 17.2 0a8.6 3 0 1 0 -17.2 0z" fill="url(#gd92)" fill-rule="evenodd"/><linearGradient id="gd93" x2=".5" spreadMethod="reflect"><stop stop-color="#0abcc6"/><stop offset=".6" stop-color="#27c4cd"/><stop offset="1" stop-color="#4bced5"/></linearGradient><path d="M565.4 417.1a31.5 11 0 1 0 63 0a31.5 11 0 1 0 -63 0zM588.2 417.1a8.7 3 0 1 0 17.3 0a8.7 3 0 1 0 -17.3 0z" fill="url(#gd93)" fill-rule="evenodd"/><linearGradient id="gd94" x2=".5" spreadMethod="reflect"><stop stop-color="#0cbdc4"/><stop offset=".6" stop-color="#28c5cb"/><stop offset="1" stop-color="#4bced4"/></linearGradient><path d="M565.5 416.8a31.4 11 0 1 0 62.8 0a31.4 11 0 1 0 -62.8 0zM588.2 416.8a8.7 3.1 0 1 0 17.5 0a8.7 3.1 0 1 0 -17.5 0z" fill="url(#gd94)" fill-rule="evenodd"/><linearGradient id="gd95" x2=".5" spreadMethod="reflect"><stop stop-color="#0ebec2"/><stop offset=".6" stop-color="#2ac5c9"/><stop offset="1" stop-color="#4dcfd2"/></linearGradient><path d="M565.6 416.4a31.3 11 0 1 0 62.6 0a31.3 11 0 1 0 -62.6 0zM588.1 416.4a8.8 3.1 0 1 0 17.6 0a8.8 3.1 0 1 0 -17.6 0z" fill="url(#gd95)" fill-rule="evenodd"/><linearGradient id="gd96" x2=".5" spreadMethod="reflect"><stop stop-color="#11bfc0"/><stop offset=".6" stop-color="#2dc6c8"/><stop offset="1" stop-color="#4ecfd0"/></linearGradient><path d="M565.7 416.1a31.2 10.9 0 1 0 62.4 0a31.2 10.9 0 1 0 -62.4 0zM588.1 416.1a8.8 3.1 0 1 0 17.7 0a8.8 3.1 0 1 0 -17.7 0z" fill="url(#gd96)" fill-rule="evenodd"/><linearGradient id="gd97" x2=".5" spreadMethod="reflect"><stop stop-color="#14bfbe"/><stop offset=".6" stop-color="#2fc7c6"/><stop offset="1" stop-color="#50d0cf"/></linearGradient><path d="M565.8 415.8a31.1 10.9 0 1 0 62.2 0a31.1 10.9 0 1 0 -62.2 0zM588 415.8a8.9 3.1 0 1 0 17.8 0a8.9 3.1 0 1 0 -17.8 0z" fill="url(#gd97)" fill-rule="evenodd"/><linearGradient id="gd98" x2=".5" spreadMethod="reflect"><stop stop-color="#18c0bc"/><stop offset=".6" stop-color="#32c7c4"/><stop offset="1" stop-color="#52d0cd"/></linearGradient><path d="M565.9 415.5a31 10.9 0 1 0 62 0a31 10.9 0 1 0 -62 0zM587.9 415.5a9 3.1 0 1 0 17.9 0a9 3.1 0 1 0 -17.9 0z" fill="url(#gd98)" fill-rule="evenodd"/><linearGradient id="gd99" x2=".5" spreadMethod="reflect"><stop stop-color="#1cc1ba"/><stop offset=".6" stop-color="#36c8c2"/><stop offset="1" stop-color="#55d0cb"/></linearGradient><path d="M566 415.2a30.9 10.8 0 1 0 61.8 0a30.9 10.8 0 1 0 -61.8 0zM587.9 415.2a9 3.2 0 1 0 18 0a9 3.2 0 1 0 -18 0z" fill="url(#gd99)" fill-rule="evenodd"/><linearGradient id="gd100" x2=".5" spreadMethod="reflect"><stop stop-color="#20c1b8"/><stop offset=".6" stop-color="#39c8c0"/><stop offset="1" stop-color="#57d1c9"/></linearGradient><path d="M566.1 414.9a30.8 10.8 0 1 0 61.6 0a30.8 10.8 0 1 0 -61.6 0zM587.8 414.9a9.1 3.2 0 1 0 18.1 0a9.1 3.2 0 1 0 -18.1 0z" fill="url(#gd100)" fill-rule="evenodd"/><linearGradient id="gd101" x2=".5" spreadMethod="reflect"><stop stop-color="#24c2b6"/><stop offset=".6" stop-color="#3cc9be"/><stop offset="1" stop-color="#59d1c8"/></linearGradient><path d="M566.2 414.6a30.7 10.8 0 1 0 61.4 0a30.7 10.8 0 1 0 -61.4 0zM587.8 414.6a9.1 3.2 0 1 0 18.2 0a9.1 3.2 0 1 0 -18.2 0z" fill="url(#gd101)" fill-rule="evenodd"/><linearGradient id="gd102" x2=".5" spreadMethod="reflect"><stop stop-color="#27c3b3"/><stop offset=".6" stop-color="#3ec9bc"/><stop offset="1" stop-color="#5bd1c6"/></linearGradient><path d="M566.3 414.2a30.6 10.7 0 1 0 61.2 0a30.6 10.7 0 1 0 -61.2 0zM587.7 414.2a9.2 3.2 0 1 0 18.4 0a9.2 3.2 0 1 0 -18.4 0z" fill="url(#gd102)" fill-rule="evenodd"/><linearGradient id="gd103" x2=".5" spreadMethod="reflect"><stop stop-color="#2ac3b1"/><stop offset=".6" stop-color="#41caba"/><stop offset="1" stop-color="#5dd1c4"/></linearGradient><path d="M566.4 413.9a30.5 10.7 0 1 0 61 0a30.5 10.7 0 1 0 -61 0zM587.7 413.9a9.2 3.2 0 1 0 18.5 0a9.2 3.2 0 1 0 -18.5 0z" fill="url(#gd103)" fill-rule="evenodd"/><linearGradient id="gd104" x2=".5" spreadMethod="reflect"><stop stop-color="#2dc4af"/><stop offset=".6" stop-color="#43cab8"/><stop offset="1" stop-color="#5ed2c2"/></linearGradient><path d="M566.5 413.6a30.4 10.7 0 1 0 60.8 0a30.4 10.7 0 1 0 -60.8 0zM587.6 413.6a9.3 3.3 0 1 0 18.6 0a9.3 3.3 0 1 0 -18.6 0z" fill="url(#gd104)" fill-rule="evenodd"/><linearGradient id="gd105" x2=".5" spreadMethod="reflect"><stop stop-color="#2fc5ad"/><stop offset=".6" stop-color="#45cbb5"/><stop offset="1" stop-color="#60d2c0"/></linearGradient><path d="M566.6 413.3a30.3 10.6 0 1 0 60.6 0a30.3 10.6 0 1 0 -60.6 0zM587.6 413.3a9.3 3.3 0 1 0 18.7 0a9.3 3.3 0 1 0 -18.7 0z" fill="url(#gd105)" fill-rule="evenodd"/><linearGradient id="gd106" x2=".5" spreadMethod="reflect"><stop stop-color="#31c5ab"/><stop offset=".6" stop-color="#47cbb3"/><stop offset="1" stop-color="#61d3be"/></linearGradient><path d="M566.7 413a30.2 10.6 0 1 0 60.4 0a30.2 10.6 0 1 0 -60.4 0zM587.5 413a9.4 3.3 0 1 0 18.8 0a9.4 3.3 0 1 0 -18.8 0z" fill="url(#gd106)" fill-rule="evenodd"/><linearGradient id="gd107" x2=".5" spreadMethod="reflect"><stop stop-color="#33c6a8"/><stop offset=".6" stop-color="#48ccb1"/><stop offset="1" stop-color="#62d3bc"/></linearGradient><path d="M566.8 412.7a30.1 10.6 0 1 0 60.2 0a30.1 10.6 0 1 0 -60.2 0zM587.4 412.7a9.5 3.3 0 1 0 18.9 0a9.5 3.3 0 1 0 -18.9 0z" fill="url(#gd107)" fill-rule="evenodd"/><linearGradient id="gd108" x2=".5" spreadMethod="reflect"><stop stop-color="#35c6a6"/><stop offset=".6" stop-color="#49ccaf"/><stop offset="1" stop-color="#62d3ba"/></linearGradient><path d="M566.9 412.4a30 10.5 0 1 0 60 0a30 10.5 0 1 0 -60 0zM587.4 412.4a9.5 3.3 0 1 0 19 0a9.5 3.3 0 1 0 -19 0z" fill="url(#gd108)" fill-rule="evenodd"/><linearGradient id="gd109" x2=".5" spreadMethod="reflect"><stop stop-color="#37c7a3"/><stop offset=".6" stop-color="#4bcdad"/><stop offset="1" stop-color="#63d4b8"/></linearGradient><path d="M567 412a29.9 10.5 0 1 0 59.8 0a29.9 10.5 0 1 0 -59.8 0zM587.3 412a9.6 3.4 0 1 0 19.1 0a9.6 3.4 0 1 0 -19.1 0z" fill="url(#gd109)" fill-rule="evenodd"/><linearGradient id="gd110" x2=".5" spreadMethod="reflect"><stop stop-color="#38c8a1"/><stop offset=".6" stop-color="#4ccdaa"/><stop offset="1" stop-color="#64d4b6"/></linearGradient><path d="M567.1 411.7a29.8 10.4 0 1 0 59.6 0a29.8 10.4 0 1 0 -59.6 0zM587.3 411.7a9.6 3.4 0 1 0 19.2 0a9.6 3.4 0 1 0 -19.2 0z" fill="url(#gd110)" fill-rule="evenodd"/><linearGradient id="gd111" x2=".5" spreadMethod="reflect"><stop stop-color="#3ac89e"/><stop offset=".6" stop-color="#4dcea8"/><stop offset="1" stop-color="#65d4b3"/></linearGradient><path d="M567.2 411.4a29.7 10.4 0 1 0 59.4 0a29.7 10.4 0 1 0 -59.4 0zM587.2 411.4a9.7 3.4 0 1 0 19.3 0a9.7 3.4 0 1 0 -19.3 0z" fill="url(#gd111)" fill-rule="evenodd"/><linearGradient id="gd112" x2=".5" spreadMethod="reflect"><stop stop-color="#3cc99c"/><stop offset=".6" stop-color="#4ecea5"/><stop offset="1" stop-color="#66d5b1"/></linearGradient><path d="M567.3 411.1a29.6 10.4 0 1 0 59.2 0a29.6 10.4 0 1 0 -59.2 0zM587.2 411.1a9.7 3.4 0 1 0 19.4 0a9.7 3.4 0 1 0 -19.4 0z" fill="url(#gd112)" fill-rule="evenodd"/><linearGradient id="gd113" x2=".5" spreadMethod="reflect"><stop stop-color="#3dca99"/><stop offset=".6" stop-color="#50cfa3"/><stop offset="1" stop-color="#67d5af"/></linearGradient><path d="M567.4 410.8a29.5 10.3 0 1 0 59 0a29.5 10.3 0 1 0 -59 0zM587.1 410.8a9.8 3.4 0 1 0 19.6 0a9.8 3.4 0 1 0 -19.6 0z" fill="url(#gd113)" fill-rule="evenodd"/><linearGradient id="gd114" x2=".5" spreadMethod="reflect"><stop stop-color="#40ca96"/><stop offset=".6" stop-color="#52cfa0"/><stop offset="1" stop-color="#68d5ac"/></linearGradient><path d="M567.5 410.5a29.4 10.3 0 1 0 58.8 0a29.4 10.3 0 1 0 -58.8 0zM587.1 410.5a9.8 3.4 0 1 0 19.7 0a9.8 3.4 0 1 0 -19.7 0z" fill="url(#gd114)" fill-rule="evenodd"/><linearGradient id="gd115" x2=".5" spreadMethod="reflect"><stop stop-color="#42cb94"/><stop offset=".6" stop-color="#54d09e"/><stop offset="1" stop-color="#69d6aa"/></linearGradient><path d="M567.6 410.2a29.3 10.3 0 1 0 58.6 0a29.3 10.3 0 1 0 -58.6 0zM587 410.2a9.9 3.5 0 1 0 19.8 0a9.9 3.5 0 1 0 -19.8 0z" fill="url(#gd115)" fill-rule="evenodd"/><linearGradient id="gd116" x2=".5" spreadMethod="reflect"><stop stop-color="#44cb91"/><stop offset=".6" stop-color="#56d09b"/><stop offset="1" stop-color="#6bd6a7"/></linearGradient><path d="M567.7 409.8a29.2 10.2 0 1 0 58.4 0a29.2 10.2 0 1 0 -58.4 0zM587 409.8a9.9 3.5 0 1 0 19.9 0a9.9 3.5 0 1 0 -19.9 0z" fill="url(#gd116)" fill-rule="evenodd"/><linearGradient id="gd117" x2=".5" spreadMethod="reflect"><stop stop-color="#48cc8e"/><stop offset=".6" stop-color="#58d098"/><stop offset="1" stop-color="#6dd6a5"/></linearGradient><path d="M567.8 409.5a29.1 10.2 0 1 0 58.2 0a29.1 10.2 0 1 0 -58.2 0zM586.9 409.5a10 3.5 0 1 0 20 0a10 3.5 0 1 0 -20 0z" fill="url(#gd117)" fill-rule="evenodd"/><linearGradient id="gd118" x2=".5" spreadMethod="reflect"><stop stop-color="#4bcc8b"/><stop offset=".6" stop-color="#5bd195"/><stop offset="1" stop-color="#6fd6a2"/></linearGradient><path d="M567.9 409.2a29 10.2 0 1 0 58 0a29 10.2 0 1 0 -58 0zM586.8 409.2a10.1 3.5 0 1 0 20.1 0a10.1 3.5 0 1 0 -20.1 0z" fill="url(#gd118)" fill-rule="evenodd"/><linearGradient id="gd119" x2=".5" spreadMethod="reflect"><stop stop-color="#4ecd88"/><stop offset=".6" stop-color="#5ed192"/><stop offset="1" stop-color="#71d79f"/></linearGradient><path d="M568 408.9a28.9 10.1 0 1 0 57.8 0a28.9 10.1 0 1 0 -57.8 0zM586.8 408.9a10.1 3.5 0 1 0 20.2 0a10.1 3.5 0 1 0 -20.2 0z" fill="url(#gd119)" fill-rule="evenodd"/><linearGradient id="gd120" x2=".5" spreadMethod="reflect"><stop stop-color="#52cd85"/><stop offset=".6" stop-color="#61d190"/><stop offset="1" stop-color="#74d79d"/></linearGradient><path d="M568.1 408.6a28.8 10.1 0 1 0 57.6 0a28.8 10.1 0 1 0 -57.6 0zM586.7 408.6a10.2 3.6 0 1 0 20.3 0a10.2 3.6 0 1 0 -20.3 0z" fill="url(#gd120)" fill-rule="evenodd"/><linearGradient id="gd121" x2=".5" spreadMethod="reflect"><stop stop-color="#56cd82"/><stop offset=".6" stop-color="#65d18d"/><stop offset="1" stop-color="#77d79a"/></linearGradient><path d="M568.2 408.3a28.7 10.1 0 1 0 57.4 0a28.7 10.1 0 1 0 -57.4 0zM586.7 408.3a10.2 3.6 0 1 0 20.4 0a10.2 3.6 0 1 0 -20.4 0z" fill="url(#gd121)" fill-rule="evenodd"/><linearGradient id="gd122" x2=".5" spreadMethod="reflect"><stop stop-color="#5acd7f"/><stop offset=".6" stop-color="#68d289"/><stop offset="1" stop-color="#79d797"/></linearGradient><path d="M568.3 408a28.6 10 0 1 0 57.2 0a28.6 10 0 1 0 -57.2 0zM586.6 408a10.3 3.6 0 1 0 20.5 0a10.3 3.6 0 1 0 -20.5 0z" fill="url(#gd122)" fill-rule="evenodd"/><linearGradient id="gd123" x2=".5" spreadMethod="reflect"><stop stop-color="#5ece7b"/><stop offset=".6" stop-color="#6bd286"/><stop offset="1" stop-color="#7cd794"/></linearGradient><path d="M568.4 407.7a28.5 10 0 1 0 57 0a28.5 10 0 1 0 -57 0zM586.6 407.7a10.3 3.6 0 1 0 20.6 0a10.3 3.6 0 1 0 -20.6 0z" fill="url(#gd123)" fill-rule="evenodd"/><linearGradient id="gd124" x2=".5" spreadMethod="reflect"><stop stop-color="#62ce78"/><stop offset=".6" stop-color="#6fd283"/><stop offset="1" stop-color="#7fd791"/></linearGradient><path d="M568.5 407.3a28.4 10 0 1 0 56.8 0a28.4 10 0 1 0 -56.8 0zM586.5 407.3a10.4 3.6 0 1 0 20.8 0a10.4 3.6 0 1 0 -20.8 0z" fill="url(#gd124)" fill-rule="evenodd"/><linearGradient id="gd125" x2=".5" spreadMethod="reflect"><stop stop-color="#65ce74"/><stop offset=".6" stop-color="#72d280"/><stop offset="1" stop-color="#81d78e"/></linearGradient><path d="M568.6 407a28.3 9.9 0 1 0 56.6 0a28.3 9.9 0 1 0 -56.6 0zM586.5 407a10.4 3.7 0 1 0 20.9 0a10.4 3.7 0 1 0 -20.9 0z" fill="url(#gd125)" fill-rule="evenodd"/><linearGradient id="gd126" x2=".5" spreadMethod="reflect"><stop stop-color="#69ce71"/><stop offset=".6" stop-color="#76d27c"/><stop offset="1" stop-color="#84d78a"/></linearGradient><path d="M568.7 406.7a28.2 9.9 0 1 0 56.4 0a28.2 9.9 0 1 0 -56.4 0zM586.4 406.7a10.5 3.7 0 1 0 21 0a10.5 3.7 0 1 0 -21 0z" fill="url(#gd126)" fill-rule="evenodd"/><linearGradient id="gd127" x2=".5" spreadMethod="reflect"><stop stop-color="#6ece6d"/><stop offset=".6" stop-color="#79d279"/><stop offset="1" stop-color="#87d787"/></linearGradient><path d="M568.8 406.4a28.1 9.9 0 1 0 56.2 0a28.1 9.9 0 1 0 -56.2 0zM586.4 406.4a10.5 3.7 0 1 0 21.1 0a10.5 3.7 0 1 0 -21.1 0z" fill="url(#gd127)" fill-rule="evenodd"/><linearGradient id="gd128" x2=".5" spreadMethod="reflect"><stop stop-color="#72ce6a"/><stop offset=".6" stop-color="#7dd276"/><stop offset="1" stop-color="#8ad684"/></linearGradient><path d="M568.9 406.1a28 9.8 0 1 0 56 0a28 9.8 0 1 0 -56 0zM586.3 406.1a10.6 3.7 0 1 0 21.2 0a10.6 3.7 0 1 0 -21.2 0z" fill="url(#gd128)" fill-rule="evenodd"/><linearGradient id="gd129" x2=".5" spreadMethod="reflect"><stop stop-color="#76ce66"/><stop offset=".6" stop-color="#81d272"/><stop offset="1" stop-color="#8ed681"/></linearGradient><path d="M569 405.8a27.9 9.8 0 1 0 55.8 0a27.9 9.8 0 1 0 -55.8 0zM586.3 405.8a10.6 3.7 0 1 0 21.3 0a10.6 3.7 0 1 0 -21.3 0z" fill="url(#gd129)" fill-rule="evenodd"/><linearGradient id="gd130" x2=".5" spreadMethod="reflect"><stop stop-color="#7bcd63"/><stop offset=".6" stop-color="#85d16f"/><stop offset="1" stop-color="#91d67d"/></linearGradient><path d="M569.1 405.5a27.8 9.8 0 1 0 55.6 0a27.8 9.8 0 1 0 -55.6 0zM586.2 405.5a10.7 3.8 0 1 0 21.4 0a10.7 3.8 0 1 0 -21.4 0z" fill="url(#gd130)" fill-rule="evenodd"/><linearGradient id="gd131" x2=".5" spreadMethod="reflect"><stop stop-color="#7fcd60"/><stop offset=".6" stop-color="#89d16c"/><stop offset="1" stop-color="#95d67a"/></linearGradient><path d="M569.2 405.1a27.7 9.7 0 1 0 55.4 0a27.7 9.7 0 1 0 -55.4 0zM586.1 405.1a10.8 3.8 0 1 0 21.5 0a10.8 3.8 0 1 0 -21.5 0z" fill="url(#gd131)" fill-rule="evenodd"/><linearGradient id="gd132" x2=".5" spreadMethod="reflect"><stop stop-color="#84cd5c"/><stop offset=".6" stop-color="#8dd168"/><stop offset="1" stop-color="#98d577"/></linearGradient><path d="M569.3 404.8a27.6 9.7 0 1 0 55.2 0a27.6 9.7 0 1 0 -55.2 0zM586.1 404.8a10.8 3.8 0 1 0 21.6 0a10.8 3.8 0 1 0 -21.6 0z" fill="url(#gd132)" fill-rule="evenodd"/><linearGradient id="gd133" x2=".5" spreadMethod="reflect"><stop stop-color="#88cd59"/><stop offset=".6" stop-color="#91d065"/><stop offset="1" stop-color="#9bd574"/></linearGradient><path d="M569.4 404.5a27.5 9.6 0 1 0 55 0a27.5 9.6 0 1 0 -55 0zM586 404.5a10.9 3.8 0 1 0 21.7 0a10.9 3.8 0 1 0 -21.7 0z" fill="url(#gd133)" fill-rule="evenodd"/><linearGradient id="gd134" x2=".5" spreadMethod="reflect"><stop stop-color="#8dcc55"/><stop offset=".6" stop-color="#95d061"/><stop offset="1" stop-color="#9fd470"/></linearGradient><path d="M569.5 404.2a27.4 9.6 0 1 0 54.8 0a27.4 9.6 0 1 0 -54.8 0zM586 404.2a10.9 3.8 0 1 0 21.8 0a10.9 3.8 0 1 0 -21.8 0z" fill="url(#gd134)" fill-rule="evenodd"/><linearGradient id="gd135" x2=".5" spreadMethod="reflect"><stop stop-color="#91cc52"/><stop offset=".6" stop-color="#99cf5e"/><stop offset="1" stop-color="#a2d46d"/></linearGradient><path d="M569.6 403.9a27.3 9.6 0 1 0 54.6 0a27.3 9.6 0 1 0 -54.6 0zM585.9 403.9a11 3.8 0 1 0 22 0a11 3.8 0 1 0 -22 0z" fill="url(#gd135)" fill-rule="evenodd"/><linearGradient id="gd136" x2=".5" spreadMethod="reflect"><stop stop-color="#95cb4e"/><stop offset=".6" stop-color="#9dcf5b"/><stop offset="1" stop-color="#a6d36a"/></linearGradient><path d="M569.7 403.6a27.2 9.5 0 1 0 54.4 0a27.2 9.5 0 1 0 -54.4 0zM585.9 403.6a11 3.9 0 1 0 22.1 0a11 3.9 0 1 0 -22.1 0z" fill="url(#gd136)" fill-rule="evenodd"/><linearGradient id="gd137" x2=".5" spreadMethod="reflect"><stop stop-color="#9acb4b"/><stop offset=".6" stop-color="#a1ce57"/><stop offset="1" stop-color="#a9d366"/></linearGradient><path d="M569.8 403.3a27.1 9.5 0 1 0 54.2 0a27.1 9.5 0 1 0 -54.2 0zM585.8 403.3a11.1 3.9 0 1 0 22.2 0a11.1 3.9 0 1 0 -22.2 0z" fill="url(#gd137)" fill-rule="evenodd"/><linearGradient id="gd138" x2=".5" spreadMethod="reflect"><stop stop-color="#9eca47"/><stop offset=".6" stop-color="#a5ce54"/><stop offset="1" stop-color="#add263"/></linearGradient><path d="M569.9 402.9a27 9.5 0 1 0 54 0a27 9.5 0 1 0 -54 0zM585.8 402.9a11.1 3.9 0 1 0 22.3 0a11.1 3.9 0 1 0 -22.3 0z" fill="url(#gd138)" fill-rule="evenodd"/><linearGradient id="gd139" x2=".5" spreadMethod="reflect"><stop stop-color="#a2c944"/><stop offset=".6" stop-color="#a8cd51"/><stop offset="1" stop-color="#b0d160"/></linearGradient><path d="M570 402.6a26.9 9.4 0 1 0 53.8 0a26.9 9.4 0 1 0 -53.8 0zM585.7 402.6a11.2 3.9 0 1 0 22.4 0a11.2 3.9 0 1 0 -22.4 0z" fill="url(#gd139)" fill-rule="evenodd"/><linearGradient id="gd140" x2=".5" spreadMethod="reflect"><stop stop-color="#a6c941"/><stop offset=".6" stop-color="#accc4e"/><stop offset="1" stop-color="#b3d15d"/></linearGradient><path d="M570.1 402.3a26.8 9.4 0 1 0 53.6 0a26.8 9.4 0 1 0 -53.6 0zM585.6 402.3a11.3 3.9 0 1 0 22.5 0a11.3 3.9 0 1 0 -22.5 0z" fill="url(#gd140)" fill-rule="evenodd"/><linearGradient id="gd141" x2=".5" spreadMethod="reflect"><stop stop-color="#abc83e"/><stop offset=".6" stop-color="#b0cc4a"/><stop offset="1" stop-color="#b7d05a"/></linearGradient><path d="M570.2 402a26.7 9.4 0 1 0 53.4 0a26.7 9.4 0 1 0 -53.4 0zM585.6 402a11.3 4 0 1 0 22.6 0a11.3 4 0 1 0 -22.6 0z" fill="url(#gd141)" fill-rule="evenodd"/><linearGradient id="gd142" x2=".5" spreadMethod="reflect"><stop stop-color="#afc73b"/><stop offset=".6" stop-color="#b4cb48"/><stop offset="1" stop-color="#bacf57"/></linearGradient><path d="M570.3 401.7a26.6 9.3 0 1 0 53.2 0a26.6 9.3 0 1 0 -53.2 0zM585.5 401.7a11.4 4 0 1 0 22.7 0a11.4 4 0 1 0 -22.7 0z" fill="url(#gd142)" fill-rule="evenodd"/><linearGradient id="gd143" x2=".5" spreadMethod="reflect"><stop stop-color="#b3c739"/><stop offset=".6" stop-color="#b8ca45"/><stop offset="1" stop-color="#bdce54"/></linearGradient><path d="M570.4 401.4a26.5 9.3 0 1 0 53 0a26.5 9.3 0 1 0 -53 0zM585.5 401.4a11.4 4 0 1 0 22.8 0a11.4 4 0 1 0 -22.8 0z" fill="url(#gd143)" fill-rule="evenodd"/><linearGradient id="gd144" x2=".5" spreadMethod="reflect"><stop stop-color="#b7c636"/><stop offset=".6" stop-color="#bbc942"/><stop offset="1" stop-color="#c1ce51"/></linearGradient><path d="M570.5 401.1a26.4 9.3 0 1 0 52.8 0a26.4 9.3 0 1 0 -52.8 0zM585.4 401.1a11.5 4 0 1 0 23 0a11.5 4 0 1 0 -23 0z" fill="url(#gd144)" fill-rule="evenodd"/><linearGradient id="gd145" x2=".5" spreadMethod="reflect"><stop stop-color="#bbc534"/><stop offset=".6" stop-color="#bfc940"/><stop offset="1" stop-color="#c4cd4f"/></linearGradient><path d="M570.6 400.7a26.3 9.2 0 1 0 52.6 0a26.3 9.2 0 1 0 -52.6 0zM585.4 400.7a11.5 4 0 1 0 23.1 0a11.5 4 0 1 0 -23.1 0z" fill="url(#gd145)" fill-rule="evenodd"/><linearGradient id="gd146" x2=".5" spreadMethod="reflect"><stop stop-color="#bfc432"/><stop offset=".6" stop-color="#c3c83e"/><stop offset="1" stop-color="#c7cc4c"/></linearGradient><path d="M570.7 400.4a26.2 9.2 0 1 0 52.4 0a26.2 9.2 0 1 0 -52.4 0zM585.3 400.4a11.6 4.1 0 1 0 23.2 0a11.6 4.1 0 1 0 -23.2 0z" fill="url(#gd146)" fill-rule="evenodd"/><linearGradient id="gd147" x2=".5" spreadMethod="reflect"><stop stop-color="#c3c430"/><stop offset=".6" stop-color="#c6c73b"/><stop offset="1" stop-color="#cacb4a"/></linearGradient><path d="M570.8 400.1a26.1 9.2 0 1 0 52.2 0a26.1 9.2 0 1 0 -52.2 0zM585.3 400.1a11.6 4.1 0 1 0 23.3 0a11.6 4.1 0 1 0 -23.3 0z" fill="url(#gd147)" fill-rule="evenodd"/><linearGradient id="gd148" x2=".5" spreadMethod="reflect"><stop stop-color="#c7c32d"/><stop offset=".6" stop-color="#cac639"/><stop offset="1" stop-color="#ceca48"/></linearGradient><path d="M570.9 399.8a26 9.1 0 1 0 52 0a26 9.1 0 1 0 -52 0zM585.2 399.8a11.7 4.1 0 1 0 23.4 0a11.7 4.1 0 1 0 -23.4 0z" fill="url(#gd148)" fill-rule="evenodd"/><linearGradient id="gd149" x2=".5" spreadMethod="reflect"><stop stop-color="#cac22d"/><stop offset=".6" stop-color="#cdc538"/><stop offset="1" stop-color="#d1c946"/></linearGradient><path d="M571 399.5a25.9 9.1 0 1 0 51.8 0a25.9 9.1 0 1 0 -51.8 0zM585.1 399.5a11.8 4.1 0 1 0 23.5 0a11.8 4.1 0 1 0 -23.5 0z" fill="url(#gd149)" fill-rule="evenodd"/><linearGradient id="gd150" x2=".5" spreadMethod="reflect"><stop stop-color="#cec12c"/><stop offset=".6" stop-color="#d0c437"/><stop offset="1" stop-color="#d4c945"/></linearGradient><path d="M571.1 399.2a25.8 9 0 1 0 51.6 0a25.8 9 0 1 0 -51.6 0zM585.1 399.2a11.8 4.1 0 1 0 23.6 0a11.8 4.1 0 1 0 -23.6 0z" fill="url(#gd150)" fill-rule="evenodd"/><linearGradient id="gd151" x2=".5" spreadMethod="reflect"><stop stop-color="#d1c02b"/><stop offset=".6" stop-color="#d4c436"/><stop offset="1" stop-color="#d7c844"/></linearGradient><path d="M571.2 398.9a25.7 9 0 1 0 51.3 0a25.7 9 0 1 0 -51.3 0zM585 398.9a11.9 4.2 0 1 0 23.8 0a11.9 4.2 0 1 0 -23.8 0z" fill="url(#gd151)" fill-rule="evenodd"/><linearGradient id="gd152" x2=".5" spreadMethod="reflect"><stop stop-color="#d5c02b"/><stop offset=".6" stop-color="#d7c336"/><stop offset="1" stop-color="#dac743"/></linearGradient><path d="M571.3 398.6a25.6 9 0 1 0 51.1 0a25.6 9 0 1 0 -51.1 0zM585 398.6a11.9 4.2 0 1 0 23.9 0a11.9 4.2 0 1 0 -23.9 0z" fill="url(#gd152)" fill-rule="evenodd"/><linearGradient id="gd153" x2=".5" spreadMethod="reflect"><stop stop-color="#d8bf2b"/><stop offset=".6" stop-color="#dac236"/><stop offset="1" stop-color="#ddc643"/></linearGradient><path d="M571.4 398.2a25.5 8.9 0 1 0 50.9 0a25.5 8.9 0 1 0 -50.9 0zM584.9 398.2a12 4.2 0 1 0 24 0a12 4.2 0 1 0 -24 0z" fill="url(#gd153)" fill-rule="evenodd"/><linearGradient id="gd154" x2=".5" spreadMethod="reflect"><stop stop-color="#dcbe2c"/><stop offset=".6" stop-color="#ddc136"/><stop offset="1" stop-color="#dfc543"/></linearGradient><path d="M571.6 397.9a25.3 8.9 0 1 0 50.7 0a25.3 8.9 0 1 0 -50.7 0zM584.8 397.9a12.1 4.2 0 1 0 24.1 0a12.1 4.2 0 1 0 -24.1 0z" fill="url(#gd154)" fill-rule="evenodd"/><linearGradient id="gd155" x2=".5" spreadMethod="reflect"><stop stop-color="#dfbd2d"/><stop offset=".6" stop-color="#e0c137"/><stop offset="1" stop-color="#e2c443"/></linearGradient><path d="M571.7 397.6a25.2 8.9 0 1 0 50.5 0a25.2 8.9 0 1 0 -50.5 0zM584.8 397.6a12.1 4.2 0 1 0 24.2 0a12.1 4.2 0 1 0 -24.2 0z" fill="url(#gd155)" fill-rule="evenodd"/><linearGradient id="gd156" x2=".5" spreadMethod="reflect"><stop stop-color="#e2bd2e"/><stop offset=".6" stop-color="#e3c038"/><stop offset="1" stop-color="#e5c444"/></linearGradient><path d="M571.8 397.3a25.1 8.8 0 1 0 50.3 0a25.1 8.8 0 1 0 -50.3 0zM584.7 397.3a12.2 4.3 0 1 0 24.4 0a12.2 4.3 0 1 0 -24.4 0z" fill="url(#gd156)" fill-rule="evenodd"/><linearGradient id="gd157" x2=".5" spreadMethod="reflect"><stop stop-color="#e5bc2f"/><stop offset=".6" stop-color="#e6bf39"/><stop offset="1" stop-color="#e8c345"/></linearGradient><path d="M571.9 397a25 8.8 0 1 0 50 0a25 8.8 0 1 0 -50 0zM584.7 397a12.2 4.3 0 1 0 24.5 0a12.2 4.3 0 1 0 -24.5 0z" fill="url(#gd157)" fill-rule="evenodd"/><linearGradient id="gd158" x2=".5" spreadMethod="reflect"><stop stop-color="#e8bc31"/><stop offset=".6" stop-color="#e9bf3b"/><stop offset="1" stop-color="#eac246"/></linearGradient><path d="M572 396.7a24.9 8.7 0 1 0 49.8 0a24.9 8.7 0 1 0 -49.8 0zM584.6 396.7a12.3 4.3 0 1 0 24.6 0a12.3 4.3 0 1 0 -24.6 0z" fill="url(#gd158)" fill-rule="evenodd"/><linearGradient id="gd159" x2=".5" spreadMethod="reflect"><stop stop-color="#ebbb34"/><stop offset=".6" stop-color="#ecbe3d"/><stop offset="1" stop-color="#edc248"/></linearGradient><path d="M572.1 396.4a24.8 8.7 0 1 0 49.6 0a24.8 8.7 0 1 0 -49.6 0zM584.5 396.4a12.4 4.3 0 1 0 24.7 0a12.4 4.3 0 1 0 -24.7 0z" fill="url(#gd159)" fill-rule="evenodd"/><linearGradient id="gd160" x2=".5" spreadMethod="reflect"><stop stop-color="#eebb36"/><stop offset=".6" stop-color="#eebe3f"/><stop offset="1" stop-color="#efc149"/></linearGradient><path d="M572.2 396a24.7 8.7 0 1 0 49.4 0a24.7 8.7 0 1 0 -49.4 0zM584.5 396a12.4 4.4 0 1 0 24.8 0a12.4 4.4 0 1 0 -24.8 0z" fill="url(#gd160)" fill-rule="evenodd"/><linearGradient id="gd161" x2=".5" spreadMethod="reflect"><stop stop-color="#f0bb39"/><stop offset=".6" stop-color="#f1be41"/><stop offset="1" stop-color="#f2c14b"/></linearGradient><path d="M572.3 395.7a24.6 8.6 0 1 0 49.1 0a24.6 8.6 0 1 0 -49.1 0zM584.4 395.7a12.5 4.4 0 1 0 25 0a12.5 4.4 0 1 0 -25 0z" fill="url(#gd161)" fill-rule="evenodd"/><linearGradient id="gd162" x2=".5" spreadMethod="reflect"><stop stop-color="#f3bb3b"/><stop offset=".6" stop-color="#f4be43"/><stop offset="1" stop-color="#f4c14d"/></linearGradient><path d="M572.4 395.4a24.5 8.6 0 1 0 48.9 0a24.5 8.6 0 1 0 -48.9 0zM584.4 395.4a12.5 4.4 0 1 0 25.1 0a12.5 4.4 0 1 0 -25.1 0z" fill="url(#gd162)" fill-rule="evenodd"/><linearGradient id="gd163" x2=".5" spreadMethod="reflect"><stop stop-color="#f6bb3d"/><stop offset=".6" stop-color="#f6be45"/><stop offset="1" stop-color="#f7c14e"/></linearGradient><path d="M572.6 395.1a24.3 8.5 0 1 0 48.7 0a24.3 8.5 0 1 0 -48.7 0zM584.3 395.1a12.6 4.4 0 1 0 25.2 0a12.6 4.4 0 1 0 -25.2 0z" fill="url(#gd163)" fill-rule="evenodd"/><linearGradient id="gd164" x2=".5" spreadMethod="reflect"><stop stop-color="#f8bb3f"/><stop offset=".6" stop-color="#f9be47"/><stop offset="1" stop-color="#f9c150"/></linearGradient><path d="M572.7 394.8a24.2 8.5 0 1 0 48.5 0a24.2 8.5 0 1 0 -48.5 0zM584.2 394.8a12.7 4.4 0 1 0 25.4 0a12.7 4.4 0 1 0 -25.4 0z" fill="url(#gd164)" fill-rule="evenodd"/><linearGradient id="gd165" x2=".5" spreadMethod="reflect"><stop stop-color="#fabc3f"/><stop offset=".6" stop-color="#fabf46"/><stop offset="1" stop-color="#fac24f"/></linearGradient><path d="M572.8 394.5a24.1 8.5 0 1 0 48.2 0a24.1 8.5 0 1 0 -48.2 0zM584.2 394.5a12.7 4.5 0 1 0 25.5 0a12.7 4.5 0 1 0 -25.5 0z" fill="url(#gd165)" fill-rule="evenodd"/><linearGradient id="gd166" x2=".5" spreadMethod="reflect"><stop stop-color="#fcbd3f"/><stop offset=".6" stop-color="#fcbf46"/><stop offset="1" stop-color="#fcc24e"/></linearGradient><path d="M572.9 394.2a24 8.4 0 1 0 48 0a24 8.4 0 1 0 -48 0zM584.1 394.2a12.8 4.5 0 1 0 25.6 0a12.8 4.5 0 1 0 -25.6 0z" fill="url(#gd166)" fill-rule="evenodd"/><linearGradient id="gd167" x2=".5" spreadMethod="reflect"><stop stop-color="#febe3f"/><stop offset=".6" stop-color="#fec045"/><stop offset="1" stop-color="#fec34e"/></linearGradient><path d="M573 393.8a23.9 8.4 0 1 0 47.7 0a23.9 8.4 0 1 0 -47.7 0zM584 393.8a12.9 4.5 0 1 0 25.7 0a12.9 4.5 0 1 0 -25.7 0z" fill="url(#gd167)" fill-rule="evenodd"/><linearGradient id="gd168" x2=".5" spreadMethod="reflect"><stop stop-color="#fec03d"/><stop offset=".6" stop-color="#fec244"/><stop offset="1" stop-color="#fec54c"/></linearGradient><path d="M573.2 393.5a23.7 8.3 0 1 0 47.5 0a23.7 8.3 0 1 0 -47.5 0zM584 393.5a12.9 4.5 0 1 0 25.9 0a12.9 4.5 0 1 0 -25.9 0z" fill="url(#gd168)" fill-rule="evenodd"/><linearGradient id="gd169" x2=".5" spreadMethod="reflect"><stop stop-color="#fec23c"/><stop offset=".6" stop-color="#fec442"/><stop offset="1" stop-color="#fec64a"/></linearGradient><path d="M573.3 393.2a23.6 8.3 0 1 0 47.3 0a23.6 8.3 0 1 0 -47.3 0zM583.9 393.2a13 4.6 0 1 0 26 0a13 4.6 0 1 0 -26 0z" fill="url(#gd169)" fill-rule="evenodd"/><linearGradient id="gd170" x2=".5" spreadMethod="reflect"><stop stop-color="#fec33a"/><stop offset=".6" stop-color="#fec541"/><stop offset="1" stop-color="#fec848"/></linearGradient><path d="M573.4 392.9a23.5 8.2 0 1 0 47 0a23.5 8.2 0 1 0 -47 0zM583.8 392.9a13.1 4.6 0 1 0 26.1 0a13.1 4.6 0 1 0 -26.1 0z" fill="url(#gd170)" fill-rule="evenodd"/><linearGradient id="gd171" x2=".5" spreadMethod="reflect"><stop stop-color="#fec539"/><stop offset=".6" stop-color="#fec73f"/><stop offset="1" stop-color="#fec946"/></linearGradient><path d="M573.5 392.6a23.4 8.2 0 1 0 46.8 0a23.4 8.2 0 1 0 -46.8 0zM583.8 392.6a13.1 4.6 0 1 0 26.3 0a13.1 4.6 0 1 0 -26.3 0z" fill="url(#gd171)" fill-rule="evenodd"/><linearGradient id="gd172" x2=".5" spreadMethod="reflect"><stop stop-color="#fec738"/><stop offset=".6" stop-color="#fec93d"/><stop offset="1" stop-color="#fecb45"/></linearGradient><path d="M573.7 392.3a23.2 8.2 0 1 0 46.5 0a23.2 8.2 0 1 0 -46.5 0zM583.7 392.3a13.2 4.6 0 1 0 26.4 0a13.2 4.6 0 1 0 -26.4 0z" fill="url(#gd172)" fill-rule="evenodd"/><linearGradient id="gd173" x2=".5" spreadMethod="reflect"><stop stop-color="#fec936"/><stop offset=".6" stop-color="#feca3c"/><stop offset="1" stop-color="#fecc43"/></linearGradient><path d="M573.8 392a23.1 8.1 0 1 0 46.2 0a23.1 8.1 0 1 0 -46.2 0zM583.6 392a13.3 4.7 0 1 0 26.6 0a13.3 4.7 0 1 0 -26.6 0z" fill="url(#gd173)" fill-rule="evenodd"/><linearGradient id="gd174" x2=".5" spreadMethod="reflect"><stop stop-color="#fecb35"/><stop offset=".6" stop-color="#fecc3a"/><stop offset="1" stop-color="#fece41"/></linearGradient><path d="M573.9 391.7a23 8.1 0 1 0 46 0a23 8.1 0 1 0 -46 0zM583.5 391.7a13.4 4.7 0 1 0 26.7 0a13.4 4.7 0 1 0 -26.7 0z" fill="url(#gd174)" fill-rule="evenodd"/><linearGradient id="gd175" x2=".5" spreadMethod="reflect"><stop stop-color="#fdcd34"/><stop offset=".6" stop-color="#fdce39"/><stop offset="1" stop-color="#fdd03f"/></linearGradient><path d="M574 391.3a22.9 8 0 1 0 45.7 0a22.9 8 0 1 0 -45.7 0zM583.5 391.3a13.4 4.7 0 1 0 26.9 0a13.4 4.7 0 1 0 -26.9 0z" fill="url(#gd175)" fill-rule="evenodd"/><linearGradient id="gd176" x2=".5" spreadMethod="reflect"><stop stop-color="#fdce32"/><stop offset=".6" stop-color="#fdd038"/><stop offset="1" stop-color="#fdd13e"/></linearGradient><path d="M574.2 391a22.7 8 0 1 0 45.4 0a22.7 8 0 1 0 -45.4 0zM583.4 391a13.5 4.7 0 1 0 27 0a13.5 4.7 0 1 0 -27 0z" fill="url(#gd176)" fill-rule="evenodd"/><linearGradient id="gd177" x2=".5" spreadMethod="reflect"><stop stop-color="#fcd031"/><stop offset=".6" stop-color="#fcd236"/><stop offset="1" stop-color="#fcd33c"/></linearGradient><path d="M574.3 390.7a22.6 7.9 0 1 0 45.2 0a22.6 7.9 0 1 0 -45.2 0zM583.3 390.7a13.6 4.8 0 1 0 27.2 0a13.6 4.8 0 1 0 -27.2 0z" fill="url(#gd177)" fill-rule="evenodd"/><linearGradient id="gd178" x2=".5" spreadMethod="reflect"><stop stop-color="#fbd230"/><stop offset=".6" stop-color="#fbd335"/><stop offset="1" stop-color="#fbd53b"/></linearGradient><path d="M574.5 390.4a22.4 7.9 0 1 0 44.9 0a22.4 7.9 0 1 0 -44.9 0zM583.2 390.4a13.7 4.8 0 1 0 27.3 0a13.7 4.8 0 1 0 -27.3 0z" fill="url(#gd178)" fill-rule="evenodd"/><linearGradient id="gd179" x2=".5" spreadMethod="reflect"><stop stop-color="#fad42f"/><stop offset=".6" stop-color="#fad534"/><stop offset="1" stop-color="#fbd639"/></linearGradient><path d="M574.6 390.1a22.3 7.8 0 1 0 44.6 0a22.3 7.8 0 1 0 -44.6 0zM583.2 390.1a13.7 4.8 0 1 0 27.5 0a13.7 4.8 0 1 0 -27.5 0z" fill="url(#gd179)" fill-rule="evenodd"/><linearGradient id="gd180" x2=".5" spreadMethod="reflect"><stop stop-color="#f9d62e"/><stop offset=".6" stop-color="#fad733"/><stop offset="1" stop-color="#fad838"/></linearGradient><path d="M574.8 389.8a22.1 7.8 0 1 0 44.3 0a22.1 7.8 0 1 0 -44.3 0zM583.1 389.8a13.8 4.8 0 1 0 27.6 0a13.8 4.8 0 1 0 -27.6 0z" fill="url(#gd180)" fill-rule="evenodd"/><linearGradient id="gd181" x2=".5" spreadMethod="reflect"><stop stop-color="#f9d82d"/><stop offset=".6" stop-color="#f9d931"/><stop offset="1" stop-color="#f9da36"/></linearGradient><path d="M574.9 389.5a22 7.7 0 1 0 44 0a22 7.7 0 1 0 -44 0zM583 389.5a13.9 4.9 0 1 0 27.8 0a13.9 4.9 0 1 0 -27.8 0z" fill="url(#gd181)" fill-rule="evenodd"/><linearGradient id="gd182" x2=".5" spreadMethod="reflect"><stop stop-color="#f8da2c"/><stop offset=".6" stop-color="#f8db30"/><stop offset="1" stop-color="#f8dc35"/></linearGradient><path d="M575.1 389.1a21.8 7.7 0 1 0 43.7 0a21.8 7.7 0 1 0 -43.7 0zM582.9 389.1a14 4.9 0 1 0 28 0a14 4.9 0 1 0 -28 0z" fill="url(#gd182)" fill-rule="evenodd"/><linearGradient id="gd183" x2=".5" spreadMethod="reflect"><stop stop-color="#f7dc2b"/><stop offset=".6" stop-color="#f7dd2f"/><stop offset="1" stop-color="#f7de33"/></linearGradient><path d="M575.2 388.8a21.7 7.6 0 1 0 43.4 0a21.7 7.6 0 1 0 -43.4 0zM582.8 388.8a14.1 4.9 0 1 0 28.1 0a14.1 4.9 0 1 0 -28.1 0z" fill="url(#gd183)" fill-rule="evenodd"/><linearGradient id="gd184" x2=".5" spreadMethod="reflect"><stop stop-color="#f6de2a"/><stop offset=".6" stop-color="#f6df2e"/><stop offset="1" stop-color="#f7df32"/></linearGradient><path d="M575.4 388.5a21.5 7.5 0 1 0 43.1 0a21.5 7.5 0 1 0 -43.1 0zM582.7 388.5a14.2 5 0 1 0 28.3 0a14.2 5 0 1 0 -28.3 0z" fill="url(#gd184)" fill-rule="evenodd"/><linearGradient id="gd185" x2=".5" spreadMethod="reflect"><stop stop-color="#f6e029"/><stop offset=".6" stop-color="#f6e12d"/><stop offset="1" stop-color="#f6e131"/></linearGradient><path d="M575.5 388.2a21.4 7.5 0 1 0 42.7 0a21.4 7.5 0 1 0 -42.7 0zM582.6 388.2a14.3 5 0 1 0 28.5 0a14.3 5 0 1 0 -28.5 0z" fill="url(#gd185)" fill-rule="evenodd"/><linearGradient id="gd186" x2=".5" spreadMethod="reflect"><stop stop-color="#f5e228"/><stop offset=".6" stop-color="#f5e32b"/><stop offset="1" stop-color="#f6e32f"/></linearGradient><path d="M575.7 387.9a21.2 7.4 0 1 0 42.4 0a21.2 7.4 0 1 0 -42.4 0zM582.6 387.9a14.3 5 0 1 0 28.7 0a14.3 5 0 1 0 -28.7 0z" fill="url(#gd186)" fill-rule="evenodd"/><linearGradient id="gd187" x2=".5" spreadMethod="reflect"><stop stop-color="#f5e427"/><stop offset=".6" stop-color="#f5e52a"/><stop offset="1" stop-color="#f5e52e"/></linearGradient><path d="M575.9 387.6a21 7.4 0 1 0 42 0a21 7.4 0 1 0 -42 0zM582.5 387.6a14.4 5.1 0 1 0 28.9 0a14.4 5.1 0 1 0 -28.9 0z" fill="url(#gd187)" fill-rule="evenodd"/><linearGradient id="gd188" x2=".5" spreadMethod="reflect"><stop stop-color="#f5e626"/><stop offset=".6" stop-color="#f5e629"/><stop offset="1" stop-color="#f5e72c"/></linearGradient><path d="M576.1 387.3a20.8 7.3 0 1 0 41.7 0a20.8 7.3 0 1 0 -41.7 0zM582.4 387.3a14.5 5.1 0 1 0 29.1 0a14.5 5.1 0 1 0 -29.1 0z" fill="url(#gd188)" fill-rule="evenodd"/><linearGradient id="gd189" x2=".5" spreadMethod="reflect"><stop stop-color="#f5e825"/><stop offset=".6" stop-color="#f5e828"/><stop offset="1" stop-color="#f5e92b"/></linearGradient><path d="M576.3 386.9a20.6 7.2 0 1 0 41.3 0a20.6 7.2 0 1 0 -41.3 0zM582.3 386.9a14.6 5.1 0 1 0 29.3 0a14.6 5.1 0 1 0 -29.3 0z" fill="url(#gd189)" fill-rule="evenodd"/><linearGradient id="gd190" x2=".5" spreadMethod="reflect"><stop stop-color="#f5ea24"/><stop offset=".6" stop-color="#f5ea26"/><stop offset="1" stop-color="#f5ea29"/></linearGradient><path d="M576.5 386.6a20.4 7.2 0 1 0 40.9 0a20.4 7.2 0 1 0 -40.9 0zM582.1 386.6a14.8 5.2 0 1 0 29.5 0a14.8 5.2 0 1 0 -29.5 0z" fill="url(#gd190)" fill-rule="evenodd"/><linearGradient id="gd191" x2=".5" spreadMethod="reflect"><stop stop-color="#f5ec23"/><stop offset=".6" stop-color="#f5ec25"/><stop offset="1" stop-color="#f5ec27"/></linearGradient><path d="M576.7 386.3a20.2 7.1 0 1 0 40.4 0a20.2 7.1 0 1 0 -40.4 0zM582 386.3a14.9 5.2 0 1 0 29.8 0a14.9 5.2 0 1 0 -29.8 0z" fill="url(#gd191)" fill-rule="evenodd"/><linearGradient id="gd192" x2=".5" spreadMethod="reflect"><stop stop-color="#f5ee22"/><stop offset=".6" stop-color="#f5ee23"/><stop offset="1" stop-color="#f6ee25"/></linearGradient><path d="M576.9 386a20 7 0 1 0 40 0a20 7 0 1 0 -40 0zM581.9 386a15 5.3 0 1 0 30 0a15 5.3 0 1 0 -30 0z" fill="url(#gd192)" fill-rule="evenodd"/><linearGradient id="gd193" x2=".5" spreadMethod="reflect"><stop stop-color="#f6f020"/><stop offset=".6" stop-color="#f6f022"/><stop offset="1" stop-color="#f6f023"/></linearGradient><path d="M577.1 385.7a19.8 6.9 0 1 0 39.5 0a19.8 6.9 0 1 0 -39.5 0zM581.8 385.7a15.1 5.3 0 1 0 30.3 0a15.1 5.3 0 1 0 -30.3 0z" fill="url(#gd193)" fill-rule="evenodd"/><linearGradient id="gd194" x2=".5" spreadMethod="reflect"><stop stop-color="#f6f11f"/><stop offset=".6" stop-color="#f6f220"/><stop offset="1" stop-color="#f6f221"/></linearGradient><path d="M577.4 385.4a19.5 6.8 0 1 0 39 0a19.5 6.8 0 1 0 -39 0zM581.6 385.4a15.3 5.4 0 1 0 30.5 0a15.3 5.4 0 1 0 -30.5 0z" fill="url(#gd194)" fill-rule="evenodd"/><linearGradient id="gd195" x2=".5" spreadMethod="reflect"><stop stop-color="#f7f31d"/><stop offset=".6" stop-color="#f7f31e"/><stop offset="1" stop-color="#f7f31f"/></linearGradient><path d="M577.7 385.1a19.2 6.7 0 1 0 38.4 0a19.2 6.7 0 1 0 -38.4 0zM581.5 385.1a15.4 5.4 0 1 0 30.9 0a15.4 5.4 0 1 0 -30.9 0z" fill="url(#gd195)" fill-rule="evenodd"/><linearGradient id="gd196" x2=".5" spreadMethod="reflect"><stop stop-color="#f7f51b"/><stop offset=".6" stop-color="#f7f51c"/><stop offset="1" stop-color="#f7f51d"/></linearGradient><path d="M578 384.7a18.9 6.6 0 1 0 37.8 0a18.9 6.6 0 1 0 -37.8 0zM581.3 384.7a15.6 5.5 0 1 0 31.2 0a15.6 5.5 0 1 0 -31.2 0z" fill="url(#gd196)" fill-rule="evenodd"/><linearGradient id="gd197" x2=".5" spreadMethod="reflect"><stop stop-color="#f8f719"/><stop offset=".6" stop-color="#f8f71a"/><stop offset="1" stop-color="#f8f71a"/></linearGradient><path d="M578.4 384.4a18.5 6.5 0 1 0 37 0a18.5 6.5 0 1 0 -37 0zM581.1 384.4a15.8 5.5 0 1 0 31.6 0a15.8 5.5 0 1 0 -31.6 0z" fill="url(#gd197)" fill-rule="evenodd"/><linearGradient id="gd198" x2=".5" spreadMethod="reflect"><stop stop-color="#f8f917"/><stop offset=".6" stop-color="#f8f917"/><stop offset="1" stop-color="#f8f917"/></linearGradient><path d="M578.9 384.1a18 6.3 0 1 0 36.1 0a18 6.3 0 1 0 -36.1 0zM580.8 384.1a16.1 5.6 0 1 0 32.2 0a16.1 5.6 0 1 0 -32.2 0z" fill="url(#gd198)" fill-rule="evenodd"/><linearGradient id="gd199" x2=".5" spreadMethod="reflect"><stop stop-color="#f9fb15"/><stop offset=".6" stop-color="#f9fb15"/><stop offset="1" stop-color="#f9fb15"/></linearGradient><path d="M579.7 383.8a17.2 6 0 1 0 34.3 0a17.2 6 0 1 0 -34.3 0zM580.3 383.8a16.6 5.8 0 1 0 33.1 0a16.6 5.8 0 1 0 -33.1 0z" fill="url(#gd199)" fill-rule="evenodd"/></g><g font-family="Liberation Sans, sans-serif" fill="#2a2a2a" filter="url(#bl)"><text x="43.7" y="165.9" text-anchor="end" font-size="8.3">0</text><text x="43.7" y="149.6" text-anchor="end" font-size="8.3">0.2</text><text x="43.7" y="133.3" text-anchor="end" font-size="8.3">0.4</text><text x="43.7" y="117.1" text-anchor="end" font-size="8.3">0.6</text><text x="43.7" y="100.8" text-anchor="end" font-size="8.3">0.8</text><text x="43.7" y="84.5" text-anchor="end" font-size="8.3">1</text><text x="43.7" y="68.2" text-anchor="end" font-size="8.3">1.2</text><text x="40.6" y="175.3" text-anchor="middle" font-size="8.3">5</text><text x="97" y="201.5" text-anchor="middle" font-size="8.3">0</text><text x="152.5" y="227.8" text-anchor="middle" font-size="8.3">-5</text><text x="173.2" y="228.8" text-anchor="middle" font-size="8.3">-5</text><text x="245.5" y="208.5" text-anchor="middle" font-size="8.3">0</text><text x="319.1" y="188.9" text-anchor="middle" font-size="8.3">5</text><text x="94.2" y="227.8" font-size="9.4">P<tspan font-size="7.2" dy="4">t</tspan><tspan dy="-4" dx="0.4">(</tspan><tspan font-family="Liberation Serif, serif" font-style="italic" font-size="10.5" dx="0.6">τ</tspan><tspan dx="0.6">)</tspan></text><text x="220.3" y="230.8" font-size="9.4">I<tspan font-size="7.2" dy="4">t</tspan><tspan dy="-4" dx="0.4">(</tspan><tspan font-family="Liberation Serif, serif" font-style="italic" font-size="10.5" dx="0.6">τ</tspan><tspan dx="0.6">)</tspan></text><text transform="translate(21.9 119.2) rotate(-90)" font-size="9.6">P<tspan font-size="7.2" dy="4">st</tspan><tspan dy="-4" dx="0.3">(r)</tspan></text><text x="174.4" y="269.6" text-anchor="middle" font-family="Liberation Serif, serif" font-size="19" fill="#000" stroke="#000" stroke-width="0.35">(a)</text><text x="466.1" y="165.9" text-anchor="end" font-size="8.3">0</text><text x="466.1" y="149.6" text-anchor="end" font-size="8.3">0.2</text><text x="466.1" y="133.3" text-anchor="end" font-size="8.3">0.4</text><text x="466.1" y="117.1" text-anchor="end" font-size="8.3">0.6</text><text x="466.1" y="100.8" text-anchor="end" font-size="8.3">0.8</text><text x="466.1" y="84.5" text-anchor="end" font-size="8.3">1</text><text x="466.1" y="68.2" text-anchor="end" font-size="8.3">1.2</text><text x="463" y="175.3" text-anchor="middle" font-size="8.3">5</text><text x="519.4" y="201.5" text-anchor="middle" font-size="8.3">0</text><text x="574.9" y="227.8" text-anchor="middle" font-size="8.3">-5</text><text x="595.6" y="228.8" text-anchor="middle" font-size="8.3">-5</text><text x="667.9" y="208.5" text-anchor="middle" font-size="8.3">0</text><text x="741.5" y="188.9" text-anchor="middle" font-size="8.3">5</text><text x="516.6" y="227.8" font-size="9.4">P<tspan font-size="7.2" dy="4">t</tspan><tspan dy="-4" dx="0.4">(</tspan><tspan font-family="Liberation Serif, serif" font-style="italic" font-size="10.5" dx="0.6">τ</tspan><tspan dx="0.6">)</tspan></text><text x="642.7" y="230.8" font-size="9.4">I<tspan font-size="7.2" dy="4">t</tspan><tspan dy="-4" dx="0.4">(</tspan><tspan font-family="Liberation Serif, serif" font-style="italic" font-size="10.5" dx="0.6">τ</tspan><tspan dx="0.6">)</tspan></text><text transform="translate(444.3 119.2) rotate(-90)" font-size="9.6">P<tspan font-size="7.2" dy="4">st</tspan><tspan dy="-4" dx="0.3">(r)</tspan></text><text x="596.4" y="269.6" text-anchor="middle" font-family="Liberation Serif, serif" font-size="19" fill="#000" stroke="#000" stroke-width="0.35">(b)</text><text x="43.7" y="447.9" text-anchor="end" font-size="8.3">0</text><text x="43.7" y="431.6" text-anchor="end" font-size="8.3">0.2</text><text x="43.7" y="415.3" text-anchor="end" font-size="8.3">0.4</text><text x="43.7" y="399.1" text-anchor="end" font-size="8.3">0.6</text><text x="43.7" y="382.8" text-anchor="end" font-size="8.3">0.8</text><text x="43.7" y="366.5" text-anchor="end" font-size="8.3">1</text><text x="43.7" y="350.2" text-anchor="end" font-size="8.3">1.2</text><text x="40.6" y="457.3" text-anchor="middle" font-size="8.3">5</text><text x="97" y="483.5" text-anchor="middle" font-size="8.3">0</text><text x="152.5" y="509.8" text-anchor="middle" font-size="8.3">-5</text><text x="173.2" y="510.8" text-anchor="middle" font-size="8.3">-5</text><text x="245.5" y="490.5" text-anchor="middle" font-size="8.3">0</text><text x="319.1" y="470.9" text-anchor="middle" font-size="8.3">5</text><text x="94.2" y="509.8" font-size="9.4">P<tspan font-size="7.2" dy="4">t</tspan><tspan dy="-4" dx="0.4">(</tspan><tspan font-family="Liberation Serif, serif" font-style="italic" font-size="10.5" dx="0.6">τ</tspan><tspan dx="0.6">)</tspan></text><text x="220.3" y="512.8" font-size="9.4">I<tspan font-size="7.2" dy="4">t</tspan><tspan dy="-4" dx="0.4">(</tspan><tspan font-family="Liberation Serif, serif" font-style="italic" font-size="10.5" dx="0.6">τ</tspan><tspan dx="0.6">)</tspan></text><text transform="translate(21.9 401.2) rotate(-90)" font-size="9.6">P<tspan font-size="7.2" dy="4">st</tspan><tspan dy="-4" dx="0.3">(r)</tspan></text><text x="174.4" y="550.5" text-anchor="middle" font-family="Liberation Serif, serif" font-size="19" fill="#000" stroke="#000" stroke-width="0.35">(c)</text><text x="466.1" y="447.9" text-anchor="end" font-size="8.3">0</text><text x="466.1" y="431.6" text-anchor="end" font-size="8.3">0.2</text><text x="466.1" y="415.3" text-anchor="end" font-size="8.3">0.4</text><text x="466.1" y="399.1" text-anchor="end" font-size="8.3">0.6</text><text x="466.1" y="382.8" text-anchor="end" font-size="8.3">0.8</text><text x="466.1" y="366.5" text-anchor="end" font-size="8.3">1</text><text x="466.1" y="350.2" text-anchor="end" font-size="8.3">1.2</text><text x="463" y="457.3" text-anchor="middle" font-size="8.3">5</text><text x="519.4" y="483.5" text-anchor="middle" font-size="8.3">0</text><text x="574.9" y="509.8" text-anchor="middle" font-size="8.3">-5</text><text x="595.6" y="510.8" text-anchor="middle" font-size="8.3">-5</text><text x="667.9" y="490.5" text-anchor="middle" font-size="8.3">0</text><text x="741.5" y="470.9" text-anchor="middle" font-size="8.3">5</text><text x="516.6" y="509.8" font-size="9.4">P<tspan font-size="7.2" dy="4">t</tspan><tspan dy="-4" dx="0.4">(</tspan><tspan font-family="Liberation Serif, serif" font-style="italic" font-size="10.5" dx="0.6">τ</tspan><tspan dx="0.6">)</tspan></text><text x="642.7" y="512.8" font-size="9.4">I<tspan font-size="7.2" dy="4">t</tspan><tspan dy="-4" dx="0.4">(</tspan><tspan font-family="Liberation Serif, serif" font-style="italic" font-size="10.5" dx="0.6">τ</tspan><tspan dx="0.6">)</tspan></text><text transform="translate(444.3 401.2) rotate(-90)" font-size="9.6">P<tspan font-size="7.2" dy="4">st</tspan><tspan dy="-4" dx="0.3">(r)</tspan></text><text x="596.4" y="550.5" text-anchor="middle" font-family="Liberation Serif, serif" font-size="19" fill="#000" stroke="#000" stroke-width="0.35">(d)</text></g></svg></body></html>
